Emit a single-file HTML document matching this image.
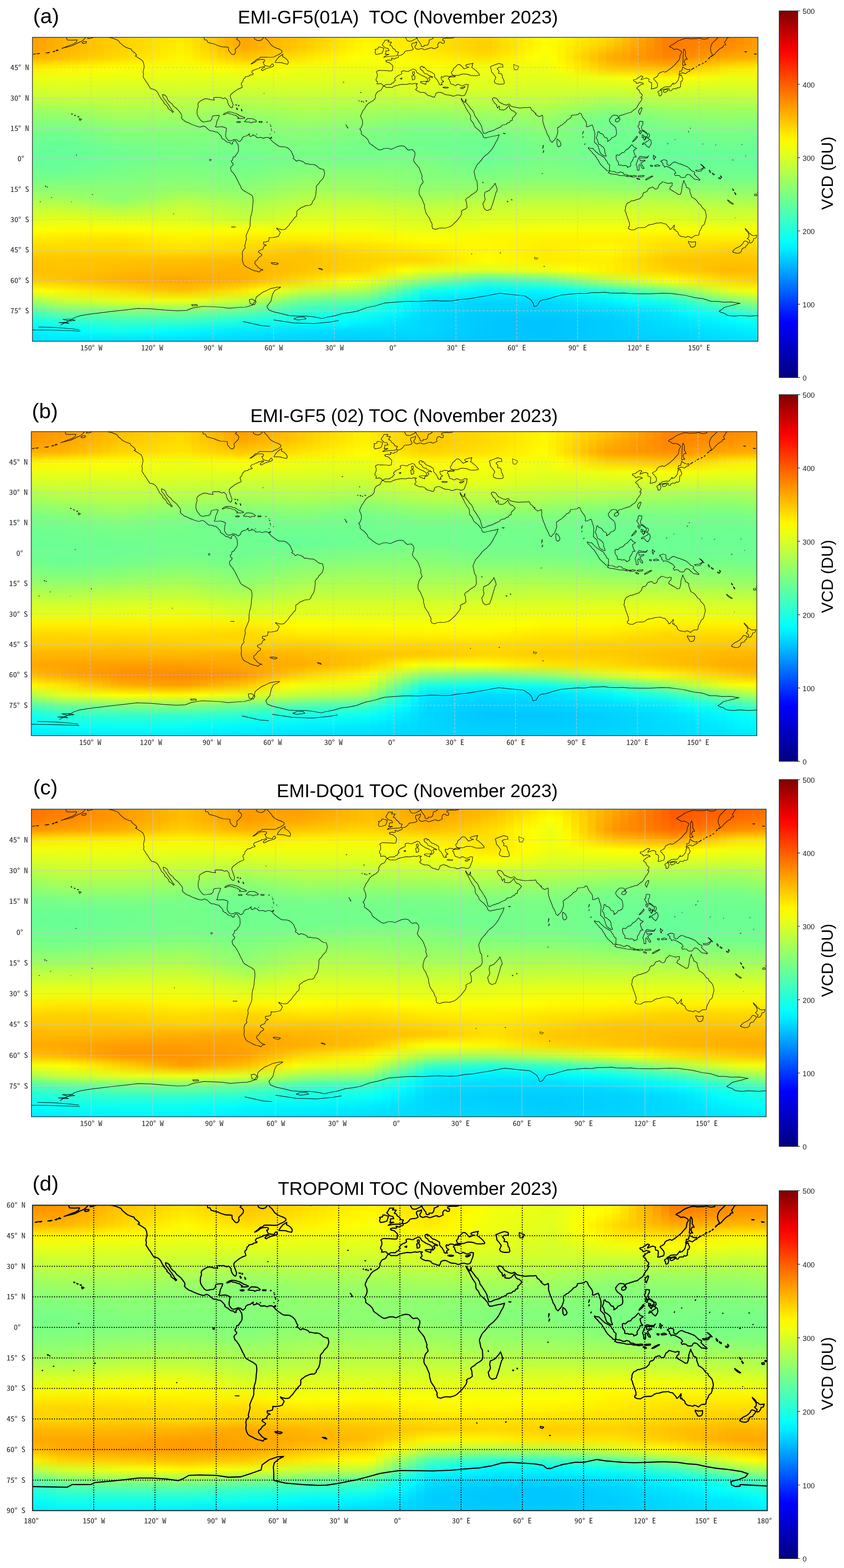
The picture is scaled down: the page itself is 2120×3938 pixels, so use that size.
<!DOCTYPE html>
<html><head><meta charset="utf-8"><title>TOC November 2023</title>
<style>
html,body{margin:0;padding:0;background:#fff;}
body{width:2120px;height:3938px;overflow:hidden;}
svg{display:block;position:absolute;left:0;top:0;}
.fld{position:absolute;overflow:hidden;}
.fld i{position:absolute;top:0;bottom:0;display:block;}
.ti{font-family:"Liberation Sans",Arial,sans-serif;font-size:46.5px;fill:#000;}
.pl{font-family:"Liberation Sans",Arial,sans-serif;font-size:52.5px;fill:#000;}
.ax text{font-family:"Noto Sans Mono CJK JP","Noto Sans CJK JP",monospace;font-size:18px;fill:#222;}
.cbl{font-family:"Liberation Sans",Arial,sans-serif;font-size:18.3px;fill:#222;}
.vcd{font-family:"Liberation Sans",Arial,sans-serif;font-size:41px;fill:#000;}
</style></head><body>
<div class="fld" style="left:81.5px;top:93.7px;width:1822.4px;height:763.4px"><i style="left:-4.8px;width:21.2px;background:linear-gradient(#ff9f00,#ffa300,#ffb400,#ffef00,#ecff13,#d9ff26,#c3ff3c,#a4ff5b,#8eff71,#7cff83,#70ff8f,#66ff99,#65ff9a,#6bff94,#78ff87,#8cff73,#a8ff57,#c7ff38,#deff21,#fdff02,#ffe800,#ffd500,#ffc500,#ffbe00,#ffcc00,#f9ff06,#a9ff56,#55ffaa,#14ffeb,#00f1ff,#00e1ff)"></i><i style="left:15.5px;width:21.2px;background:linear-gradient(#ffa500,#ffa700,#ffb700,#fff100,#ecff13,#d9ff26,#c4ff3b,#a4ff5b,#8dff72,#7aff85,#6eff91,#65ff9a,#65ff9a,#6aff95,#79ff86,#8cff73,#a8ff57,#c9ff36,#e1ff1e,#feff01,#ffe700,#ffd500,#ffc600,#ffc000,#ffc900,#feff01,#b2ff4d,#5fffa0,#1affe5,#00f4ff,#00e2ff)"></i><i style="left:35.9px;width:21.2px;background:linear-gradient(#ffab00,#ffac00,#ffb900,#fff300,#ecff13,#daff25,#c6ff39,#a4ff5b,#8cff73,#79ff86,#6dff92,#64ff9b,#65ff9a,#6aff95,#79ff86,#8cff73,#a8ff57,#caff35,#e3ff1c,#fffe00,#ffe700,#ffd600,#ffc600,#ffc100,#ffc600,#fffc00,#bbff44,#6aff95,#20ffdf,#00f7ff,#00e4ff)"></i><i style="left:56.2px;width:21.2px;background:linear-gradient(#ffb100,#ffb100,#ffbc00,#fff500,#ecff13,#dbff24,#c7ff38,#a4ff5b,#8cff73,#78ff87,#6bff94,#63ff9c,#65ff9a,#69ff96,#79ff86,#8cff73,#a8ff57,#cbff34,#e5ff1a,#fffc00,#ffe600,#ffd700,#ffc700,#ffc200,#ffc300,#fff700,#c5ff3a,#75ff8a,#26ffd9,#00f9ff,#00e5ff)"></i><i style="left:76.6px;width:21.2px;background:linear-gradient(#ffb600,#ffb600,#ffc000,#fff700,#ecff13,#dbff24,#c7ff38,#a6ff59,#8eff71,#79ff86,#6dff92,#64ff9b,#66ff99,#6aff95,#7aff85,#8cff73,#a5ff5a,#c9ff36,#e5ff1a,#fffc00,#ffe500,#ffd700,#ffc600,#ffc200,#ffc100,#fff300,#caff35,#78ff87,#2affd5,#00fcff,#00e5ff)"></i><i style="left:96.9px;width:21.2px;background:linear-gradient(#ffba00,#ffba00,#ffc400,#fff800,#ecff13,#daff25,#c7ff38,#a8ff57,#90ff6f,#7cff83,#6fff90,#66ff99,#67ff98,#6cff93,#7bff84,#8cff73,#a2ff5d,#c6ff39,#e4ff1b,#fffc00,#ffe400,#ffd700,#ffc600,#ffc100,#ffbe00,#fff000,#ceff31,#7aff85,#2dffd2,#00ffff,#00e4ff)"></i><i style="left:117.3px;width:21.2px;background:linear-gradient(#ffbe00,#ffbe00,#ffc800,#fffa00,#ecff13,#d9ff26,#c7ff38,#aaff55,#93ff6c,#7fff80,#72ff8d,#68ff97,#69ff96,#6eff91,#7cff83,#8cff73,#9eff61,#c3ff3c,#e3ff1c,#fffc00,#ffe300,#ffd700,#ffc500,#ffc000,#ffbb00,#ffec00,#d2ff2d,#7bff84,#2fffd0,#02fffd,#00e3ff)"></i><i style="left:137.7px;width:21.2px;background:linear-gradient(#ffc200,#ffc200,#ffcc00,#fffb00,#ecff13,#d8ff27,#c7ff38,#acff53,#96ff69,#82ff7d,#74ff8b,#6aff95,#6aff95,#6fff90,#7cff83,#8cff73,#9aff65,#c0ff3f,#e1ff1e,#fffc00,#ffe200,#ffd700,#ffc500,#ffbf00,#ffb900,#ffe900,#d6ff29,#7cff83,#32ffcd,#05fffa,#00e2ff)"></i><i style="left:158.0px;width:21.2px;background:linear-gradient(#ffc600,#ffc600,#ffd000,#fffc00,#ecff13,#d7ff28,#c7ff38,#afff50,#99ff66,#84ff7b,#77ff88,#6cff93,#6bff94,#71ff8e,#7dff82,#8cff73,#96ff69,#bdff42,#e0ff1f,#fffc00,#ffe200,#ffd700,#ffc400,#ffbe00,#ffb600,#ffe500,#daff25,#7eff81,#35ffca,#08fff7,#00e2ff)"></i><i style="left:178.4px;width:21.2px;background:linear-gradient(#ffca00,#ffca00,#ffd400,#fffe00,#ecff13,#d7ff28,#c7ff38,#b1ff4e,#9bff64,#87ff78,#79ff86,#6eff91,#6dff92,#72ff8d,#7eff81,#8cff73,#92ff6d,#baff45,#dfff20,#fffc00,#ffe100,#ffd700,#ffc400,#ffbd00,#ffb300,#ffe100,#deff21,#7fff80,#37ffc8,#0bfff4,#00e1ff)"></i><i style="left:198.7px;width:21.2px;background:linear-gradient(#ffce00,#ffce00,#ffd800,#ffff00,#ecff13,#d6ff29,#c7ff38,#b3ff4c,#9eff61,#8aff75,#7cff83,#70ff8f,#6eff91,#74ff8b,#7fff80,#8cff73,#8fff70,#b7ff48,#deff21,#fffc00,#ffe000,#ffd700,#ffc300,#ffbb00,#ffb000,#ffde00,#e2ff1d,#81ff7e,#3affc5,#0dfff2,#00e0ff)"></i><i style="left:219.1px;width:21.2px;background:linear-gradient(#ffd200,#ffd200,#ffdc00,#feff01,#ebff14,#d5ff2a,#c7ff38,#b4ff4b,#a0ff5f,#8cff73,#7eff81,#71ff8e,#6fff90,#76ff89,#80ff7f,#8cff73,#8dff72,#b5ff4a,#ddff22,#fffc00,#ffe000,#ffd800,#ffc300,#ffba00,#ffae00,#ffda00,#e6ff19,#82ff7d,#3cffc3,#0ffff0,#00dfff)"></i><i style="left:239.4px;width:21.2px;background:linear-gradient(#ffd600,#ffd600,#ffe000,#fcff03,#ebff14,#d5ff2a,#c6ff39,#b4ff4b,#9fff60,#8cff73,#7eff81,#73ff8c,#71ff8e,#77ff88,#81ff7e,#8dff72,#93ff6c,#b9ff46,#ddff22,#fffe00,#ffe200,#ffd900,#ffc200,#ffba00,#ffad00,#ffd700,#e7ff18,#82ff7d,#3cffc3,#0cfff3,#00dfff)"></i><i style="left:259.8px;width:21.2px;background:linear-gradient(#ffd900,#ffda00,#ffe400,#faff05,#eaff15,#d5ff2a,#c6ff39,#b3ff4c,#9fff60,#8cff73,#7fff80,#74ff8b,#72ff8d,#78ff87,#83ff7c,#8eff71,#98ff67,#bcff43,#ddff22,#feff01,#ffe400,#ffda00,#ffc200,#ffb900,#ffab00,#ffd300,#e9ff16,#82ff7d,#3cffc3,#09fff6,#00deff)"></i><i style="left:280.1px;width:21.2px;background:linear-gradient(#ffdd00,#ffde00,#ffe800,#f8ff07,#e9ff16,#d5ff2a,#c5ff3a,#b3ff4c,#9eff61,#8cff73,#7fff80,#75ff8a,#73ff8c,#7aff85,#84ff7b,#8fff70,#9dff62,#bfff40,#ddff22,#fdff02,#ffe600,#ffdc00,#ffc100,#ffb800,#ffaa00,#ffcf00,#eaff15,#82ff7d,#3cffc3,#06fff9,#00deff)"></i><i style="left:300.5px;width:21.2px;background:linear-gradient(#ffe000,#ffe200,#ffeb00,#f6ff09,#e8ff17,#d5ff2a,#c5ff3a,#b2ff4d,#9eff61,#8cff73,#80ff7f,#76ff89,#74ff8b,#7bff84,#85ff7a,#90ff6f,#a3ff5c,#c2ff3d,#ddff22,#fbff04,#ffe900,#ffdd00,#ffc100,#ffb700,#ffa900,#ffcb00,#ebff14,#82ff7d,#3cffc3,#04fffb,#00ddff)"></i><i style="left:320.9px;width:21.2px;background:linear-gradient(#ffe400,#ffe700,#ffef00,#f4ff0b,#e7ff18,#d5ff2a,#c4ff3b,#b2ff4d,#9dff62,#8cff73,#80ff7f,#77ff88,#75ff8a,#7cff83,#87ff78,#91ff6e,#a8ff57,#c6ff39,#ddff22,#f9ff06,#ffeb00,#ffde00,#ffc000,#ffb600,#ffa700,#ffc700,#edff12,#82ff7d,#3cffc3,#01fffe,#00ddff)"></i><i style="left:341.2px;width:21.2px;background:linear-gradient(#ffe700,#ffeb00,#fff300,#f2ff0d,#e7ff18,#d5ff2a,#c3ff3c,#b1ff4e,#9dff62,#8cff73,#81ff7e,#78ff87,#76ff89,#7eff81,#88ff77,#93ff6c,#aeff51,#c9ff36,#ddff22,#f8ff07,#ffed00,#ffe000,#ffbf00,#ffb600,#ffa600,#ffc300,#eeff11,#82ff7d,#3cffc3,#00fdff,#00dcff)"></i><i style="left:361.6px;width:21.2px;background:linear-gradient(#ffeb00,#ffef00,#fff700,#f0ff0f,#e6ff19,#d5ff2a,#c3ff3c,#b1ff4e,#9cff63,#8cff73,#81ff7e,#79ff86,#77ff88,#7fff80,#89ff76,#94ff6b,#b3ff4c,#ccff33,#ddff22,#f6ff09,#ffef00,#ffe100,#ffbf00,#ffb500,#ffa500,#ffc000,#efff10,#82ff7d,#3cffc3,#00fbff,#00dbff)"></i><i style="left:381.9px;width:21.2px;background:linear-gradient(#ffe400,#ffe900,#fff300,#f2ff0d,#e5ff1a,#d5ff2a,#c2ff3d,#afff50,#9bff64,#8bff74,#81ff7e,#79ff86,#77ff88,#7eff81,#89ff76,#93ff6c,#b3ff4c,#cbff34,#dbff24,#f7ff08,#ffef00,#ffe000,#ffbe00,#ffb400,#ffa500,#ffc300,#ecff13,#7fff80,#39ffc6,#00f8ff,#00dbff)"></i><i style="left:402.3px;width:21.2px;background:linear-gradient(#ffdb00,#ffdf00,#ffeb00,#f5ff0a,#e5ff1a,#d4ff2b,#c2ff3d,#aeff51,#99ff66,#89ff76,#80ff7f,#78ff87,#75ff8a,#7dff82,#87ff78,#92ff6d,#b0ff4f,#c8ff37,#d8ff27,#f8ff07,#ffed00,#ffdf00,#ffbe00,#ffb400,#ffa700,#ffc800,#e6ff19,#7bff84,#35ffca,#00f6ff,#00daff)"></i><i style="left:422.6px;width:21.2px;background:linear-gradient(#ffd100,#ffd600,#ffe400,#f9ff06,#e5ff1a,#d4ff2b,#c1ff3e,#acff53,#97ff68,#88ff77,#7fff80,#78ff87,#74ff8b,#7cff83,#86ff79,#91ff6e,#adff52,#c5ff3a,#d5ff2a,#f9ff06,#ffec00,#ffde00,#ffbd00,#ffb400,#ffa800,#ffcd00,#e1ff1e,#77ff88,#31ffce,#00f4ff,#00d9ff)"></i><i style="left:443.0px;width:21.2px;background:linear-gradient(#ffc800,#ffcc00,#ffdd00,#fcff03,#e5ff1a,#d3ff2c,#c1ff3e,#aaff55,#95ff6a,#87ff78,#7eff81,#77ff88,#73ff8c,#7aff85,#85ff7a,#90ff6f,#aaff55,#c2ff3d,#d2ff2d,#faff05,#ffeb00,#ffdc00,#ffbd00,#ffb400,#ffa900,#ffd200,#dbff24,#73ff8c,#2dffd2,#00f2ff,#00d8ff)"></i><i style="left:463.4px;width:21.2px;background:linear-gradient(#ffbe00,#ffc200,#ffd600,#ffff00,#e5ff1a,#d3ff2c,#c0ff3f,#a9ff56,#93ff6c,#85ff7a,#7eff81,#77ff88,#72ff8d,#79ff86,#83ff7c,#8fff70,#a8ff57,#bfff40,#cfff30,#fbff04,#ffe900,#ffdb00,#ffbc00,#ffb300,#ffab00,#ffd700,#d6ff29,#6fff90,#29ffd6,#00f0ff,#00d7ff)"></i><i style="left:483.7px;width:21.2px;background:linear-gradient(#ffb500,#ffb900,#ffcf00,#fffc00,#e5ff1a,#d2ff2d,#c0ff3f,#a7ff58,#91ff6e,#84ff7b,#7dff82,#76ff89,#71ff8e,#78ff87,#82ff7d,#8eff71,#a5ff5a,#bcff43,#ccff33,#fcff03,#ffe800,#ffda00,#ffbc00,#ffb300,#ffac00,#ffdc00,#d0ff2f,#6cff93,#25ffda,#00edff,#00d7ff)"></i><i style="left:504.1px;width:21.2px;background:linear-gradient(#ffab00,#ffaf00,#ffc800,#fff800,#e5ff1a,#d2ff2d,#bfff40,#a5ff5a,#8fff70,#83ff7c,#7cff83,#76ff89,#70ff8f,#76ff89,#81ff7e,#8dff72,#a2ff5d,#b9ff46,#c9ff36,#fdff02,#ffe700,#ffd800,#ffbb00,#ffb300,#ffad00,#ffe200,#cbff34,#68ff97,#21ffde,#00ebff,#00d6ff)"></i><i style="left:524.4px;width:21.2px;background:linear-gradient(#ffa500,#ffa900,#ffc400,#fff700,#e5ff1a,#d1ff2e,#bfff40,#a5ff5a,#8eff71,#82ff7d,#7cff83,#76ff89,#6fff90,#76ff89,#80ff7f,#8dff72,#a1ff5e,#b7ff48,#c8ff37,#feff01,#ffe600,#ffd700,#ffbb00,#ffb300,#ffb000,#ffe800,#c4ff3b,#63ff9c,#1dffe2,#00e9ff,#00d5ff)"></i><i style="left:544.8px;width:21.2px;background:linear-gradient(#ffaa00,#ffae00,#ffc900,#fffa00,#e5ff1a,#d2ff2d,#bfff40,#a7ff58,#91ff6e,#84ff7b,#7dff82,#76ff89,#71ff8e,#77ff88,#83ff7c,#90ff6f,#a4ff5b,#baff45,#cbff34,#fdff02,#ffe700,#ffd500,#ffbc00,#ffb500,#ffb600,#fff300,#b8ff47,#5cffa3,#1bffe4,#00e8ff,#00d4ff)"></i><i style="left:565.1px;width:21.2px;background:linear-gradient(#ffaf00,#ffb300,#ffcd00,#fffd00,#e5ff1a,#d2ff2d,#c0ff3f,#a9ff56,#93ff6c,#86ff79,#7eff81,#77ff88,#72ff8d,#79ff86,#85ff7a,#93ff6c,#a7ff58,#bdff42,#cfff30,#fcff03,#ffe700,#ffd200,#ffbd00,#ffb700,#ffbc00,#fffe00,#adff52,#56ffa9,#19ffe6,#00e7ff,#00d4ff)"></i><i style="left:585.5px;width:21.2px;background:linear-gradient(#ffb300,#ffb700,#ffd200,#feff01,#e5ff1a,#d3ff2c,#c1ff3e,#aaff55,#96ff69,#88ff77,#7fff80,#78ff87,#73ff8c,#7bff84,#87ff78,#96ff69,#abff54,#c0ff3f,#d2ff2d,#faff05,#ffe800,#ffd000,#ffbe00,#ffba00,#ffc200,#f5ff0a,#a1ff5e,#4fffb0,#17ffe8,#00e5ff,#00d3ff)"></i><i style="left:605.8px;width:21.2px;background:linear-gradient(#ffb800,#ffbc00,#ffd600,#faff05,#e5ff1a,#d3ff2c,#c1ff3e,#acff53,#98ff67,#8aff75,#80ff7f,#79ff86,#74ff8b,#7cff83,#8aff75,#9aff65,#aeff51,#c3ff3c,#d6ff29,#f9ff06,#ffe900,#ffce00,#ffbf00,#ffbc00,#ffc800,#eaff15,#95ff6a,#48ffb7,#15ffea,#00e4ff,#00d3ff)"></i><i style="left:626.2px;width:21.2px;background:linear-gradient(#ffbc00,#ffc100,#ffdb00,#f7ff08,#e5ff1a,#d4ff2b,#c2ff3d,#aeff51,#9bff64,#8cff73,#81ff7e,#7aff85,#75ff8a,#7eff81,#8cff73,#9dff62,#b1ff4e,#c6ff39,#d9ff26,#f8ff07,#ffea00,#ffcc00,#ffc000,#ffbe00,#ffce00,#dfff20,#89ff76,#41ffbe,#14ffeb,#00e2ff,#00d2ff)"></i><i style="left:646.6px;width:21.2px;background:linear-gradient(#ffc100,#ffc500,#ffe000,#f4ff0b,#e5ff1a,#d5ff2a,#c2ff3d,#b0ff4f,#9dff62,#8dff72,#82ff7d,#7aff85,#76ff89,#80ff80,#8fff70,#a0ff5f,#b5ff4a,#c9ff36,#ddff22,#f7ff08,#ffeb00,#ffca00,#ffc100,#ffc000,#ffd400,#d5ff2a,#7eff81,#3affc5,#12ffed,#00e1ff,#00d2ff)"></i><i style="left:666.9px;width:21.2px;background:linear-gradient(#ffc600,#ffca00,#ffe400,#f1ff0e,#e5ff1a,#d5ff2a,#c3ff3c,#b2ff4d,#a0ff5f,#8fff70,#83ff7c,#7bff84,#77ff88,#81ff7e,#91ff6e,#a3ff5c,#b8ff47,#ccff33,#e1ff1e,#f6ff09,#ffeb00,#ffc700,#ffc300,#ffc200,#ffda00,#caff35,#72ff8d,#34ffcb,#10ffef,#00e0ff,#00d1ff)"></i><i style="left:687.3px;width:21.2px;background:linear-gradient(#ffcc00,#ffd000,#ffe900,#efff10,#e5ff1a,#d5ff2a,#c2ff3d,#b2ff4d,#9fff60,#8fff70,#83ff7c,#7bff84,#77ff88,#82ff7d,#92ff6d,#a4ff5b,#b9ff46,#cdff32,#e1ff1e,#f6ff09,#ffec00,#ffc900,#ffc400,#ffc500,#ffe000,#c4ff3b,#6dff92,#30ffcf,#0dfff2,#00dfff,#00d1ff)"></i><i style="left:707.6px;width:21.2px;background:linear-gradient(#ffd200,#ffd600,#ffed00,#efff10,#e5ff1a,#d4ff2b,#c2ff3d,#b1ff4e,#9eff61,#8dff72,#82ff7d,#7aff85,#77ff88,#82ff7d,#92ff6d,#a3ff5c,#b9ff46,#ceff31,#e1ff1e,#f6ff09,#ffed00,#ffcc00,#ffc600,#ffc800,#ffe700,#c0ff3f,#6aff95,#2dffd2,#0afff5,#00deff,#00d0ff)"></i><i style="left:728.0px;width:21.2px;background:linear-gradient(#ffd800,#ffdc00,#fff100,#eeff11,#e4ff1b,#d4ff2b,#c1ff3e,#b0ff4f,#9dff62,#8cff73,#81ff7e,#78ff87,#77ff88,#83ff7c,#93ff6c,#a2ff5d,#b9ff46,#cfff30,#e1ff1e,#f6ff09,#ffed00,#ffce00,#ffc800,#ffca00,#ffee00,#bcff43,#68ff97,#2bffd4,#06fff9,#00deff,#00d0ff)"></i><i style="left:748.3px;width:21.2px;background:linear-gradient(#ffde00,#ffe200,#fff500,#eeff11,#e3ff1c,#d3ff2c,#c1ff3e,#aeff51,#9cff63,#8bff74,#80ff80,#77ff88,#76ff89,#84ff7b,#93ff6c,#a1ff5e,#b9ff46,#cfff30,#e1ff1e,#f6ff09,#ffee00,#ffd100,#ffca00,#ffcd00,#fff500,#b9ff46,#65ff9a,#28ffd7,#03fffc,#00ddff,#00cfff)"></i><i style="left:768.7px;width:21.2px;background:linear-gradient(#ffe500,#ffe900,#fff900,#edff12,#e3ff1c,#d3ff2c,#c0ff3f,#adff52,#9bff64,#89ff76,#7eff81,#76ff89,#76ff89,#84ff7b,#93ff6c,#a0ff5f,#b9ff46,#d0ff2f,#e1ff1e,#f6ff09,#ffee00,#ffd400,#ffcc00,#ffd000,#fffc00,#b5ff4a,#62ff9d,#25ffda,#00ffff,#00ddff,#00cfff)"></i><i style="left:789.0px;width:21.2px;background:linear-gradient(#ffeb00,#ffef00,#fffd00,#edff12,#e2ff1d,#d2ff2d,#c0ff3f,#acff53,#9aff65,#88ff77,#7dff82,#75ff8a,#76ff89,#85ff7a,#93ff6c,#a0ff5f,#b9ff46,#d0ff2f,#e1ff1e,#f6ff09,#ffef00,#ffd700,#ffce00,#ffd200,#fcff03,#b1ff4e,#60ff9f,#22ffdd,#00fcff,#00dcff,#00ceff)"></i><i style="left:809.4px;width:21.2px;background:linear-gradient(#fff100,#fff500,#fdff02,#ecff13,#e2ff1d,#d2ff2d,#bfff40,#abff54,#99ff66,#87ff78,#7cff83,#74ff8b,#76ff89,#85ff7a,#94ff6b,#9fff60,#b9ff46,#d1ff2e,#e1ff1e,#f6ff09,#ffef00,#ffd900,#ffd000,#ffd500,#f5ff0a,#adff52,#5dffa2,#20ffdf,#00f8ff,#00dcff,#00cdff)"></i><i style="left:829.8px;width:21.2px;background:linear-gradient(#fff500,#fff900,#faff05,#ecff13,#e2ff1d,#d2ff2d,#bfff40,#aaff55,#98ff67,#85ff7a,#7bff84,#73ff8c,#76ff89,#85ff7a,#93ff6c,#9eff61,#b8ff47,#d1ff2e,#e1ff1e,#f5ff0a,#fff000,#ffdc00,#ffd100,#ffd900,#ecff13,#a5ff5a,#57ffa8,#1bffe4,#00f5ff,#00dbff,#00cdff)"></i><i style="left:850.1px;width:21.2px;background:linear-gradient(#fff300,#fff600,#fdff02,#eeff11,#e3ff1c,#d4ff2b,#c0ff3f,#aaff55,#96ff69,#83ff7c,#7aff85,#73ff8c,#76ff89,#85ff7a,#92ff6d,#9cff63,#b6ff49,#cfff30,#dfff20,#f3ff0c,#fff200,#ffde00,#ffd200,#ffe100,#dfff20,#92ff6d,#47ffb8,#13ffec,#00f1ff,#00dbff,#00ceff)"></i><i style="left:870.5px;width:21.2px;background:linear-gradient(#fff100,#fff400,#ffff00,#f0ff0f,#e4ff1b,#d6ff29,#c1ff3e,#aaff55,#94ff6b,#81ff7e,#79ff86,#72ff8d,#77ff88,#84ff7b,#90ff6f,#9bff64,#b4ff4b,#cdff32,#deff21,#f2ff0d,#fff400,#ffe000,#ffd300,#ffea00,#d2ff2d,#7eff81,#38ffc7,#0afff5,#00edff,#00daff,#00ceff)"></i><i style="left:890.8px;width:21.2px;background:linear-gradient(#ffef00,#fff100,#fffd00,#f2ff0d,#e6ff19,#d8ff27,#c2ff3d,#a9ff56,#93ff6c,#7fff80,#78ff87,#71ff8e,#78ff87,#84ff7b,#8fff70,#9aff65,#b2ff4d,#ccff33,#dcff23,#f0ff0f,#fff600,#ffe200,#ffd400,#fff200,#c4ff3b,#6aff95,#28ffd7,#01fffe,#00e9ff,#00daff,#00cfff)"></i><i style="left:911.2px;width:21.2px;background:linear-gradient(#ffed00,#ffee00,#fffb00,#f4ff0b,#e7ff18,#daff25,#c3ff3c,#a9ff56,#91ff6e,#7eff81,#77ff88,#71ff8e,#79ff86,#83ff7c,#8dff72,#98ff67,#b1ff4e,#caff35,#daff25,#eeff11,#fff800,#ffe500,#ffd500,#fffa00,#b7ff48,#56ffa9,#19ffe6,#00f8ff,#00e4ff,#00d9ff,#00cfff)"></i><i style="left:931.5px;width:21.2px;background:linear-gradient(#ffea00,#ffec00,#fff900,#f6ff09,#e9ff16,#ddff22,#c4ff3b,#a9ff56,#8fff70,#7cff83,#76ff89,#70ff8f,#7aff85,#83ff7c,#8bff74,#97ff68,#afff50,#c9ff36,#d9ff26,#ecff13,#fffa00,#ffe700,#ffd500,#fcff03,#aaff55,#42ffbd,#09fff6,#00efff,#00e0ff,#00d8ff,#00d0ff)"></i><i style="left:951.9px;width:21.2px;background:linear-gradient(#ffe800,#ffe900,#fff600,#f8ff07,#eaff15,#dfff20,#c6ff39,#a9ff56,#8eff71,#7aff85,#75ff8a,#70ff8f,#7aff85,#82ff7d,#8aff75,#96ff69,#adff52,#c7ff38,#d7ff28,#eaff15,#fffc00,#ffe900,#ffd600,#f4ff0b,#9cff63,#2effd1,#00f9ff,#00e6ff,#00dcff,#00d8ff,#00d0ff)"></i><i style="left:972.3px;width:21.2px;background:linear-gradient(#ffe600,#ffe600,#fff400,#f9ff06,#ebff14,#e1ff1e,#c7ff38,#a8ff57,#8cff73,#78ff87,#74ff8b,#6fff90,#7bff84,#82ff7d,#88ff77,#94ff6b,#abff54,#c5ff3a,#d6ff29,#e8ff17,#fffe00,#ffeb00,#ffd700,#ecff13,#8fff70,#1affe5,#00e9ff,#00ddff,#00d8ff,#00d7ff,#00d1ff)"></i><i style="left:992.6px;width:21.2px;background:linear-gradient(#ffe300,#ffe300,#fff200,#f9ff06,#ebff14,#e1ff1e,#c6ff39,#a9ff56,#8dff72,#78ff87,#73ff8c,#6fff90,#7aff85,#80ff7f,#87ff78,#94ff6b,#abff54,#c6ff39,#d6ff29,#e9ff16,#fffd00,#ffed00,#ffdb00,#e8ff17,#84ff7b,#12ffed,#00e4ff,#00daff,#00d6ff,#00d6ff,#00d0ff)"></i><i style="left:1013.0px;width:21.2px;background:linear-gradient(#ffe100,#ffe000,#ffef00,#f8ff07,#eaff15,#e0ff1f,#c6ff39,#a9ff56,#8eff71,#7aff85,#72ff8d,#6eff91,#78ff87,#7fff80,#87ff78,#95ff6a,#adff52,#c7ff38,#d7ff28,#eaff15,#fffd00,#ffef00,#ffe000,#e7ff18,#79ff86,#0efff1,#00e2ff,#00d8ff,#00d3ff,#00d3ff,#00cfff)"></i><i style="left:1033.3px;width:21.2px;background:linear-gradient(#ffde00,#ffdd00,#ffec00,#f6ff09,#e9ff16,#dfff20,#c5ff3a,#aaff55,#8fff70,#7bff84,#72ff8d,#6eff91,#75ff8a,#7dff82,#86ff79,#95ff6a,#aeff51,#c8ff37,#d8ff27,#ebff14,#fffc00,#fff100,#ffe500,#e5ff1a,#6fff90,#09fff6,#00e0ff,#00d6ff,#00d1ff,#00d1ff,#00cdff)"></i><i style="left:1053.7px;width:21.2px;background:linear-gradient(#ffdb00,#ffd900,#ffea00,#f5ff0a,#e9ff16,#deff21,#c5ff3a,#aaff55,#91ff6e,#7cff83,#71ff8e,#6dff92,#73ff8c,#7bff84,#86ff79,#96ff69,#afff50,#c9ff36,#d9ff26,#edff12,#fffb00,#fff300,#ffeb00,#e3ff1c,#64ff9b,#05fffa,#00deff,#00d4ff,#00cfff,#00cfff,#00ccff)"></i><i style="left:1074.0px;width:21.2px;background:linear-gradient(#ffd900,#ffd600,#ffe700,#f3ff0c,#e8ff17,#deff21,#c4ff3b,#abff54,#92ff6d,#7eff81,#71ff8e,#6dff92,#71ff8e,#7aff85,#85ff7a,#96ff69,#b1ff4e,#caff35,#daff25,#eeff11,#fffa00,#fff500,#fff000,#e2ff1d,#59ffa6,#01fffe,#00dcff,#00d2ff,#00cdff,#00cdff,#00cbff)"></i><i style="left:1094.4px;width:21.2px;background:linear-gradient(#ffd600,#ffd300,#ffe400,#f2ff0d,#e7ff18,#ddff22,#c4ff3b,#abff54,#94ff6b,#7fff80,#70ff8f,#6cff93,#6fff90,#78ff87,#85ff7a,#97ff68,#b2ff4d,#cbff34,#dbff24,#efff10,#fff900,#fff700,#fff500,#e0ff1f,#4fffb0,#00fbff,#00dbff,#00d0ff,#00cbff,#00cbff,#00c9ff)"></i><i style="left:1114.7px;width:21.2px;background:linear-gradient(#ffd300,#ffcf00,#ffe100,#f1ff0e,#e6ff19,#dcff23,#c3ff3c,#acff53,#95ff6a,#81ff7e,#70ff8f,#6cff93,#6dff92,#77ff88,#84ff7b,#98ff67,#b4ff4b,#ccff33,#ddff22,#f1ff0e,#fff800,#fff800,#fffa00,#dfff20,#44ffbb,#00f7ff,#00d9ff,#00ceff,#00c9ff,#00c9ff,#00c8ff)"></i><i style="left:1135.1px;width:21.2px;background:linear-gradient(#ffd300,#ffcf00,#ffe100,#f0ff0f,#e5ff1a,#dbff24,#c3ff3c,#acff53,#96ff69,#82ff7d,#70ff8f,#6cff93,#6cff93,#76ff89,#84ff7b,#98ff67,#b5ff4a,#cdff32,#ddff22,#f2ff0d,#fff800,#fff900,#fffd00,#deff21,#3dffc2,#00f4ff,#00d7ff,#00cdff,#00c7ff,#00c7ff,#00c7ff)"></i><i style="left:1155.5px;width:21.2px;background:linear-gradient(#ffd900,#ffd600,#ffe600,#efff10,#e5ff1a,#daff25,#c3ff3c,#adff52,#96ff69,#83ff7c,#72ff8d,#6dff92,#6dff92,#77ff88,#85ff7a,#99ff66,#b5ff4a,#ceff31,#deff21,#f3ff0c,#fff700,#fff800,#fffb00,#e0ff1f,#41ffbe,#00f5ff,#00d8ff,#00cdff,#00c6ff,#00c6ff,#00c7ff)"></i><i style="left:1175.8px;width:21.2px;background:linear-gradient(#ffdf00,#ffdc00,#ffec00,#eeff11,#e4ff1b,#d9ff26,#c4ff3b,#adff52,#97ff68,#85ff7a,#74ff8b,#6fff90,#6fff90,#78ff87,#85ff7a,#9aff65,#b6ff49,#ceff31,#dfff20,#f4ff0b,#fff600,#fff600,#fff800,#e3ff1c,#45ffba,#00f6ff,#00d8ff,#00cdff,#00c6ff,#00c6ff,#00c7ff)"></i><i style="left:1196.2px;width:21.2px;background:linear-gradient(#ffe500,#ffe300,#fff100,#eeff11,#e4ff1b,#d9ff26,#c5ff3a,#adff52,#97ff68,#86ff79,#76ff89,#70ff8f,#71ff8e,#7aff85,#86ff79,#9bff64,#b6ff49,#cfff30,#dfff20,#f4ff0b,#fff500,#fff400,#fff600,#e5ff1a,#49ffb6,#00f6ff,#00d9ff,#00cdff,#00c5ff,#00c5ff,#00c7ff)"></i><i style="left:1216.5px;width:21.2px;background:linear-gradient(#ffec00,#ffea00,#fff600,#edff12,#e3ff1c,#d8ff27,#c5ff3a,#aeff51,#97ff68,#87ff78,#78ff87,#72ff8d,#73ff8c,#7bff84,#87ff78,#9bff64,#b7ff48,#cfff30,#e0ff1f,#f5ff0a,#fff400,#fff200,#fff400,#e8ff17,#4effb1,#00f7ff,#00daff,#00cdff,#00c5ff,#00c5ff,#00c7ff)"></i><i style="left:1236.9px;width:21.2px;background:linear-gradient(#fff200,#fff100,#fffc00,#edff12,#e3ff1c,#d7ff28,#c6ff39,#aeff51,#97ff68,#89ff76,#7bff84,#74ff8b,#75ff8a,#7cff83,#88ff77,#9cff63,#b7ff48,#d0ff2f,#e0ff1f,#f6ff09,#fff400,#fff000,#fff100,#eaff15,#52ffad,#00f8ff,#00daff,#00cdff,#00c4ff,#00c4ff,#00c7ff)"></i><i style="left:1257.2px;width:21.2px;background:linear-gradient(#fff800,#fff800,#fdff02,#ecff13,#e2ff1d,#d6ff29,#c6ff39,#aeff51,#98ff67,#8aff75,#7dff82,#75ff8a,#77ff88,#7eff81,#89ff76,#9dff62,#b8ff47,#d0ff2f,#e1ff1e,#f7ff08,#fff300,#ffee00,#ffef00,#edff12,#56ffa9,#00f9ff,#00dbff,#00cdff,#00c4ff,#00c4ff,#00c7ff)"></i><i style="left:1277.6px;width:21.2px;background:linear-gradient(#fffe00,#fffe00,#f7ff08,#ecff13,#e2ff1d,#d5ff2a,#c7ff38,#aeff51,#98ff67,#8bff74,#7fff80,#77ff88,#79ff86,#7fff80,#89ff76,#9eff61,#b8ff47,#d1ff2e,#e1ff1e,#f8ff07,#fff200,#ffec00,#ffec00,#efff10,#5affa5,#00faff,#00dbff,#00cdff,#00c3ff,#00c3ff,#00c7ff)"></i><i style="left:1297.9px;width:21.2px;background:linear-gradient(#fffc00,#fffa00,#ffff00,#f3ff0c,#e3ff1c,#d5ff2a,#c5ff3a,#abff54,#94ff6b,#89ff76,#7eff81,#77ff88,#78ff87,#7eff81,#89ff76,#9dff62,#b8ff47,#d1ff2e,#e1ff1e,#f8ff07,#fff200,#ffed00,#ffec00,#f3ff0c,#65ff9a,#00feff,#00deff,#00ceff,#00c4ff,#00c4ff,#00c8ff)"></i><i style="left:1318.3px;width:21.2px;background:linear-gradient(#fff700,#fff300,#fff300,#fdff02,#e5ff1a,#d5ff2a,#c3ff3c,#a7ff58,#8fff70,#85ff7a,#7cff83,#75ff8a,#77ff88,#7dff82,#88ff77,#9dff62,#b8ff47,#d1ff2e,#e1ff1e,#f8ff07,#fff200,#ffef00,#ffed00,#f7ff08,#72ff8d,#05fffa,#00e1ff,#00cfff,#00c5ff,#00c5ff,#00c8ff)"></i><i style="left:1338.7px;width:21.2px;background:linear-gradient(#fff300,#ffeb00,#ffe700,#fff700,#e7ff18,#d5ff2a,#c0ff3f,#a3ff5c,#8bff74,#81ff7e,#7aff85,#74ff8b,#76ff89,#7cff83,#87ff78,#9cff63,#b8ff47,#d1ff2e,#e1ff1e,#f8ff07,#fff200,#fff100,#ffed00,#fbff04,#7fff80,#0bfff4,#00e4ff,#00d1ff,#00c7ff,#00c7ff,#00c9ff)"></i><i style="left:1359.0px;width:21.2px;background:linear-gradient(#ffee00,#ffe300,#ffdb00,#ffed00,#e9ff16,#d5ff2a,#beff41,#9fff60,#86ff79,#7dff82,#77ff88,#73ff8c,#74ff8b,#7aff85,#87ff78,#9bff64,#b8ff47,#d1ff2e,#e1ff1e,#f8ff07,#fff300,#fff300,#ffee00,#ffff00,#8cff73,#11ffee,#00e8ff,#00d2ff,#00c8ff,#00c8ff,#00caff)"></i><i style="left:1379.4px;width:21.2px;background:linear-gradient(#ffe900,#ffdc00,#ffcf00,#ffe300,#eaff15,#d5ff2a,#bbff44,#9bff64,#81ff7e,#7aff85,#75ff8a,#72ff8d,#73ff8c,#79ff86,#86ff79,#9aff65,#b7ff48,#d1ff2e,#e1ff1e,#f8ff07,#fff300,#fff500,#ffee00,#fffb00,#99ff66,#17ffe8,#00ebff,#00d3ff,#00c9ff,#00c9ff,#00cbff)"></i><i style="left:1399.7px;width:21.2px;background:linear-gradient(#ffe400,#ffd400,#ffc300,#ffd900,#ecff13,#d5ff2a,#b9ff46,#97ff68,#7cff83,#76ff89,#73ff8c,#71ff8e,#72ff8d,#78ff87,#85ff7a,#99ff66,#b7ff48,#d1ff2e,#e1ff1e,#f8ff07,#fff300,#fff700,#ffef00,#fff700,#a6ff59,#1dffe2,#00eeff,#00d5ff,#00cbff,#00cbff,#00ccff)"></i><i style="left:1420.1px;width:21.2px;background:linear-gradient(#ffdf00,#ffcd00,#ffb700,#ffce00,#eeff11,#d5ff2a,#b6ff49,#93ff6c,#77ff88,#72ff8d,#71ff8e,#70ff8f,#70ff8f,#76ff89,#84ff7b,#99ff66,#b7ff48,#d1ff2e,#e1ff1e,#f8ff07,#fff400,#fff800,#ffef00,#fff300,#b3ff4c,#23ffdc,#00f1ff,#00d6ff,#00ccff,#00ccff,#00ccff)"></i><i style="left:1440.4px;width:21.2px;background:linear-gradient(#ffd800,#ffc400,#ffad00,#ffc600,#f0ff0f,#d5ff2a,#b5ff4a,#90ff6f,#74ff8b,#6fff90,#6fff90,#6fff90,#6fff90,#75ff8a,#83ff7c,#98ff67,#b6ff49,#d1ff2e,#e1ff1e,#f8ff07,#fff300,#fff900,#ffee00,#ffef00,#bfff40,#2affd5,#00f5ff,#00d8ff,#00ceff,#00cdff,#00cdff)"></i><i style="left:1460.8px;width:21.2px;background:linear-gradient(#ffcb00,#ffba00,#ffa700,#ffc400,#f3ff0c,#d6ff29,#b6ff49,#93ff6c,#77ff88,#71ff8e,#6eff90,#6dff92,#6dff92,#74ff8b,#82ff7d,#97ff68,#b6ff49,#d0ff2f,#e1ff1e,#f9ff06,#fff100,#fff500,#ffe900,#ffeb00,#c8ff37,#35ffca,#00fbff,#00dbff,#00d0ff,#00cfff,#00ceff)"></i><i style="left:1481.2px;width:21.2px;background:linear-gradient(#ffbf00,#ffb000,#ffa200,#ffc100,#f6ff09,#d7ff28,#b8ff47,#95ff6a,#79ff86,#72ff8d,#6eff91,#6cff93,#6cff93,#73ff8c,#81ff7e,#97ff68,#b5ff4a,#d0ff2f,#e0ff1f,#faff05,#ffef00,#fff100,#ffe300,#ffe700,#d0ff2f,#40ffbf,#01fffe,#00ddff,#00d3ff,#00d0ff,#00ceff)"></i><i style="left:1501.5px;width:21.2px;background:linear-gradient(#ffb200,#ffa600,#ff9c00,#ffbf00,#f9ff06,#d8ff27,#b9ff46,#97ff68,#7cff83,#73ff8c,#6dff92,#6bff94,#6bff94,#72ff8d,#80ff7f,#96ff69,#b5ff4a,#cfff30,#e0ff1f,#fbff04,#ffee00,#ffed00,#ffde00,#ffe200,#d9ff26,#4affb5,#06fff9,#00e0ff,#00d5ff,#00d1ff,#00cfff)"></i><i style="left:1521.9px;width:21.2px;background:linear-gradient(#ffa500,#ff9c00,#ff9600,#ffbc00,#fbff04,#d9ff26,#baff45,#99ff66,#7fff80,#74ff8b,#6dff92,#69ff96,#69ff96,#71ff8e,#7fff80,#96ff69,#b4ff4b,#cfff30,#dfff20,#fbff04,#ffec00,#ffe900,#ffd900,#ffde00,#e2ff1d,#55ffaa,#0cfff3,#00e3ff,#00d7ff,#00d3ff,#00cfff)"></i><i style="left:1542.2px;width:21.2px;background:linear-gradient(#ff9800,#ff9200,#ff9000,#ffba00,#feff01,#d9ff26,#bcff43,#9bff64,#82ff7d,#75ff8a,#6cff93,#68ff97,#68ff97,#70ff8f,#7eff81,#95ff6a,#b4ff4b,#ceff31,#dfff20,#fcff03,#ffea00,#ffe400,#ffd300,#ffda00,#eaff15,#5fffa0,#11ffee,#00e5ff,#00daff,#00d4ff,#00d0ff)"></i><i style="left:1562.6px;width:21.2px;background:linear-gradient(#ff8b00,#ff8800,#ff8b00,#ffb800,#fffd00,#daff25,#bdff42,#9dff62,#84ff7b,#76ff89,#6cff93,#67ff98,#67ff98,#6eff90,#7dff82,#95ff6a,#b3ff4c,#ceff31,#deff21,#fdff02,#ffe800,#ffe000,#ffce00,#ffd600,#f3ff0c,#6aff95,#17ffe8,#00e8ff,#00dcff,#00d6ff,#00d0ff)"></i><i style="left:1582.9px;width:21.2px;background:linear-gradient(#ff7f00,#ff7e00,#ff8500,#ffb500,#fffb00,#dbff24,#beff41,#a0ff5f,#87ff78,#77ff88,#6bff94,#65ff9a,#65ff9a,#6dff92,#7cff83,#94ff6b,#b3ff4c,#cdff32,#ddff22,#feff01,#ffe600,#ffdc00,#ffc800,#ffd200,#fcff03,#75ff8a,#1cffe3,#00ebff,#00dfff,#00d7ff,#00d1ff)"></i><i style="left:1603.3px;width:21.2px;background:linear-gradient(#ff7c00,#ff7d00,#ff8700,#ffb900,#fffc00,#dbff24,#bfff40,#a1ff5e,#88ff77,#78ff87,#6cff93,#66ff99,#65ff9a,#6dff92,#7bff84,#93ff6c,#b1ff4e,#ccff33,#ddff22,#fdff02,#ffe600,#ffda00,#ffc600,#ffcf00,#fffc00,#82ff7d,#28ffd7,#00f2ff,#00e2ff,#00d9ff,#00d2ff)"></i><i style="left:1623.6px;width:21.2px;background:linear-gradient(#ff7e00,#ff8000,#ff8c00,#ffc000,#feff01,#daff25,#bfff40,#a1ff5e,#8aff75,#7aff85,#6dff92,#66ff99,#65ff9a,#6dff92,#7aff85,#92ff6d,#b0ff4f,#cbff34,#dbff24,#fcff03,#ffe700,#ffd900,#ffc600,#ffcb00,#fff600,#91ff6e,#35ffca,#00f9ff,#00e6ff,#00dbff,#00d3ff)"></i><i style="left:1644.0px;width:21.2px;background:linear-gradient(#ff7f00,#ff8200,#ff9100,#ffc600,#fbff04,#d9ff26,#bfff40,#a2ff5d,#8bff74,#7bff84,#6fff90,#67ff98,#65ff9a,#6dff92,#7aff85,#91ff6e,#afff50,#c9ff36,#daff25,#fbff04,#ffe800,#ffd800,#ffc500,#ffc800,#fff100,#a0ff5f,#42ffbd,#02fffd,#00e9ff,#00dcff,#00d5ff)"></i><i style="left:1664.4px;width:21.2px;background:linear-gradient(#ff8100,#ff8500,#ff9600,#ffcd00,#f8ff07,#d8ff27,#bfff40,#a2ff5d,#8cff73,#7cff83,#70ff8f,#68ff97,#65ff9a,#6dff92,#79ff86,#90ff6f,#adff52,#c8ff37,#d9ff26,#faff05,#ffe900,#ffd600,#ffc500,#ffc500,#ffec00,#aeff51,#50ffaf,#0afff5,#00edff,#00deff,#00d6ff)"></i><i style="left:1684.7px;width:21.2px;background:linear-gradient(#ff8200,#ff8700,#ff9b00,#ffd400,#f5ff0a,#d7ff28,#bfff40,#a3ff5c,#8dff72,#7eff81,#72ff8d,#69ff96,#65ff9a,#6dff92,#79ff86,#8fff70,#acff53,#c7ff38,#d8ff27,#f9ff06,#ffe900,#ffd500,#ffc400,#ffc200,#ffe600,#bdff42,#5dffa2,#12ffed,#00f0ff,#00e0ff,#00d8ff)"></i><i style="left:1705.1px;width:21.2px;background:linear-gradient(#ff8300,#ff8900,#ffa000,#ffda00,#f1ff0e,#d7ff28,#bfff40,#a3ff5c,#8eff71,#7fff80,#73ff8c,#6aff95,#65ff9a,#6dff92,#78ff87,#8eff71,#abff54,#c5ff3a,#d7ff28,#f8ff07,#ffea00,#ffd300,#ffc400,#ffbe00,#ffe100,#ccff33,#6aff95,#1affe5,#00f4ff,#00e2ff,#00d9ff)"></i><i style="left:1725.4px;width:21.2px;background:linear-gradient(#ff8500,#ff8c00,#ffa500,#ffe100,#eeff11,#d6ff29,#bfff40,#a4ff5b,#8fff70,#81ff7e,#74ff8b,#6aff95,#65ff9a,#6dff92,#78ff87,#8dff72,#a9ff56,#c4ff3b,#d6ff29,#f7ff08,#ffeb00,#ffd200,#ffc300,#ffbb00,#ffdb00,#daff25,#78ff87,#22ffdd,#00f7ff,#00e4ff,#00daff)"></i><i style="left:1745.8px;width:21.2px;background:linear-gradient(#ff8700,#ff8f00,#ffa900,#ffe600,#ecff13,#d5ff2a,#bfff40,#a4ff5b,#90ff6f,#81ff7e,#75ff8a,#6bff94,#65ff9a,#6dff92,#77ff88,#8cff73,#a8ff57,#c3ff3c,#d6ff29,#f6ff09,#ffeb00,#ffd100,#ffc300,#ffb900,#ffd700,#e7ff18,#84ff7b,#2affd5,#00fbff,#00e6ff,#00dcff)"></i><i style="left:1766.1px;width:21.2px;background:linear-gradient(#ff8d00,#ff9400,#ffac00,#ffe800,#ecff13,#d6ff29,#c0ff3f,#a4ff5b,#8fff70,#80ff7f,#74ff8b,#6aff95,#65ff9a,#6cff93,#78ff87,#8cff73,#a8ff57,#c4ff3b,#d8ff27,#f8ff07,#ffeb00,#ffd200,#ffc300,#ffba00,#ffd400,#ebff14,#8dff72,#35ffca,#02fffd,#00e9ff,#00ddff)"></i><i style="left:1786.5px;width:21.2px;background:linear-gradient(#ff9300,#ff9900,#ffae00,#ffea00,#ecff13,#d7ff28,#c1ff3e,#a4ff5b,#8fff70,#7eff81,#72ff8d,#69ff96,#65ff9a,#6cff93,#78ff87,#8cff73,#a8ff57,#c5ff3a,#daff25,#f9ff06,#ffea00,#ffd300,#ffc400,#ffbc00,#ffd100,#f0ff0f,#96ff69,#40ffbf,#08fff7,#00ecff,#00deff)"></i><i style="left:1806.8px;width:21.2px;background:linear-gradient(#ff9900,#ff9e00,#ffb100,#ffed00,#ecff13,#d8ff27,#c2ff3d,#a4ff5b,#8eff71,#7dff82,#71ff8e,#68ff97,#65ff9a,#6bff94,#78ff87,#8cff73,#a8ff57,#c6ff39,#dcff23,#fbff04,#ffe900,#ffd400,#ffc500,#ffbd00,#ffce00,#f5ff0a,#a0ff5f,#4affb5,#0efff1,#00eeff,#00e0ff)"></i></div><div class="fld" style="left:78.5px;top:1084.1px;width:1822.6px;height:763.5px"><i style="left:-4.8px;width:21.2px;background:linear-gradient(#ff9500,#ff9b00,#ffae00,#fff400,#ecff13,#d3ff2c,#b6ff49,#9bff64,#84ff7b,#74ff8b,#6eff91,#6bff94,#6dff92,#72ff8d,#84ff7b,#98ff67,#b5ff4a,#d1ff2e,#e5ff1a,#fff100,#ffd900,#ffca00,#ffb600,#ffa900,#ffb800,#fff700,#b6ff49,#50ffaf,#14ffeb,#00fdff,#00e9ff)"></i><i style="left:15.5px;width:21.2px;background:linear-gradient(#ff9800,#ff9d00,#ffaf00,#fff600,#ecff13,#d4ff2b,#b9ff46,#9eff61,#85ff7a,#75ff8a,#6fff90,#6bff94,#6cff93,#70ff8f,#83ff7c,#97ff68,#b4ff4b,#d0ff2f,#e5ff1a,#fff100,#ffd800,#ffcb00,#ffb600,#ffa700,#ffb300,#fff200,#c2ff3d,#5affa5,#1affe5,#02fffd,#00eaff)"></i><i style="left:35.9px;width:21.2px;background:linear-gradient(#ff9b00,#ff9f00,#ffb100,#fff800,#ecff13,#d5ff2a,#bbff44,#a1ff5e,#87ff78,#76ff89,#6fff90,#6bff94,#6cff93,#6fff90,#81ff7e,#96ff69,#b2ff4d,#d0ff2f,#e5ff1a,#fff000,#ffd800,#ffcc00,#ffb500,#ffa600,#ffae00,#ffec00,#ceff31,#63ff9c,#20ffdf,#06fff9,#00ebff)"></i><i style="left:56.2px;width:21.2px;background:linear-gradient(#ff9d00,#ffa200,#ffb200,#fff900,#ecff13,#d5ff2a,#beff41,#a4ff5b,#89ff76,#77ff88,#6fff90,#6bff94,#6bff94,#6dff92,#80ff7f,#94ff6b,#b1ff4e,#cfff30,#e5ff1a,#fff000,#ffd700,#ffcd00,#ffb500,#ffa500,#ffaa00,#ffe700,#daff25,#6dff92,#26ffd9,#0afff5,#00ebff)"></i><i style="left:76.6px;width:21.2px;background:linear-gradient(#ffa100,#ffa600,#ffb600,#fffb00,#ecff13,#d5ff2a,#bfff40,#a5ff5a,#8bff74,#78ff87,#70ff8f,#6cff93,#6cff93,#6eff91,#80ff7f,#95ff6a,#b2ff4d,#d0ff2f,#e6ff19,#fff000,#ffd800,#ffcc00,#ffb500,#ffa400,#ffa600,#ffe000,#e1ff1e,#71ff8e,#29ffd6,#0bfff4,#00ecff)"></i><i style="left:97.0px;width:21.2px;background:linear-gradient(#ffa600,#ffab00,#ffbb00,#fffb00,#ecff13,#d5ff2a,#c0ff3f,#a7ff58,#8dff72,#7aff85,#71ff8e,#6cff93,#6cff93,#6fff90,#81ff7e,#96ff69,#b3ff4c,#d1ff2e,#e7ff18,#fff000,#ffd800,#ffcc00,#ffb500,#ffa300,#ffa300,#ffd900,#e5ff1a,#73ff8c,#2affd5,#0bfff4,#00ecff)"></i><i style="left:117.3px;width:21.2px;background:linear-gradient(#ffaa00,#ffb000,#ffbf00,#fffc00,#ecff13,#d5ff2a,#c0ff3f,#a9ff56,#8fff70,#7bff84,#71ff8e,#6dff92,#6dff92,#70ff8f,#82ff7d,#98ff67,#b5ff4a,#d2ff2d,#e8ff17,#fff000,#ffd900,#ffcb00,#ffb500,#ffa200,#ff9f00,#ffd100,#e9ff16,#76ff89,#2cffd3,#0bfff4,#00ecff)"></i><i style="left:137.7px;width:21.2px;background:linear-gradient(#ffae00,#ffb500,#ffc400,#fffd00,#ecff13,#d5ff2a,#c1ff3e,#aaff55,#91ff6e,#7cff83,#72ff8d,#6dff92,#6dff92,#71ff8e,#84ff7b,#99ff66,#b7ff48,#d3ff2c,#e9ff16,#fff000,#ffd900,#ffca00,#ffb500,#ffa100,#ff9c00,#ffca00,#eeff11,#78ff87,#2dffd2,#0bfff4,#00ecff)"></i><i style="left:158.0px;width:21.2px;background:linear-gradient(#ffb300,#ffb900,#ffc800,#fffe00,#ecff13,#d5ff2a,#c1ff3e,#acff53,#93ff6c,#7eff81,#73ff8c,#6eff91,#6eff91,#72ff8d,#85ff7a,#9aff65,#b8ff47,#d4ff2b,#e9ff16,#fff000,#ffda00,#ffc900,#ffb500,#ffa000,#ff9900,#ffc300,#f2ff0d,#7bff84,#2effd1,#0bfff4,#00ecff)"></i><i style="left:178.4px;width:21.2px;background:linear-gradient(#ffb700,#ffbe00,#ffcd00,#ffff00,#ecff13,#d5ff2a,#c2ff3d,#aeff51,#95ff6a,#7fff80,#74ff8b,#6eff91,#6eff91,#73ff8c,#86ff79,#9cff63,#baff45,#d5ff2a,#eaff15,#fff000,#ffda00,#ffc800,#ffb500,#ffa000,#ff9600,#ffbb00,#f6ff09,#7dff82,#30ffcf,#0bfff4,#00ecff)"></i><i style="left:198.8px;width:21.2px;background:linear-gradient(#ffbb00,#ffc300,#ffd200,#ffff00,#ecff13,#d5ff2a,#c2ff3d,#afff50,#97ff68,#81ff7e,#75ff8a,#6fff90,#6fff90,#74ff8b,#87ff78,#9dff62,#bbff44,#d6ff29,#ebff14,#fff000,#ffdb00,#ffc800,#ffb500,#ff9f00,#ff9200,#ffb400,#fbff04,#80ff7f,#31ffce,#0bfff4,#00ecff)"></i><i style="left:219.1px;width:21.2px;background:linear-gradient(#ffc000,#ffc800,#ffd600,#feff01,#ebff14,#d5ff2a,#c3ff3c,#b0ff4f,#98ff67,#81ff7e,#75ff8a,#6fff90,#6fff90,#76ff89,#88ff77,#9fff60,#bdff42,#d7ff28,#ecff13,#fff000,#ffdb00,#ffc700,#ffb500,#ff9e00,#ff9000,#ffae00,#feff01,#82ff7d,#32ffcd,#0bfff4,#00ecff)"></i><i style="left:239.5px;width:21.2px;background:linear-gradient(#ffc300,#ffcb00,#ffd800,#fcff03,#ebff14,#d5ff2a,#c2ff3d,#aeff51,#96ff69,#80ff7f,#75ff8a,#70ff8f,#70ff8f,#77ff88,#8aff75,#a0ff5f,#bdff42,#d8ff27,#ecff13,#fff000,#ffdc00,#ffc800,#ffb500,#ff9e00,#ff8f00,#ffac00,#fffe00,#83ff7c,#32ffcd,#0bfff4,#00ecff)"></i><i style="left:259.8px;width:21.2px;background:linear-gradient(#ffc600,#ffce00,#ffda00,#faff05,#eaff15,#d4ff2b,#c2ff3d,#adff52,#94ff6b,#7eff81,#75ff8a,#70ff8f,#70ff8f,#78ff87,#8bff74,#a2ff5d,#beff41,#d8ff27,#edff12,#fff000,#ffdc00,#ffc900,#ffb600,#ff9e00,#ff8e00,#ffaa00,#fffd00,#85ff7a,#32ffcd,#0bfff4,#00ecff)"></i><i style="left:280.2px;width:21.2px;background:linear-gradient(#ffc900,#ffd100,#ffdc00,#f8ff07,#e9ff16,#d3ff2c,#c1ff3e,#abff54,#92ff6d,#7dff82,#75ff8a,#71ff8e,#71ff8e,#7aff85,#8dff72,#a3ff5c,#beff41,#d8ff27,#edff12,#fff000,#ffdc00,#ffca00,#ffb600,#ff9e00,#ff8d00,#ffa700,#fffc00,#86ff79,#32ffcd,#0bfff4,#00ecff)"></i><i style="left:300.5px;width:21.2px;background:linear-gradient(#ffcd00,#ffd400,#ffde00,#f6ff09,#e8ff17,#d3ff2c,#c1ff3e,#aaff55,#90ff6f,#7cff83,#75ff8a,#71ff8e,#71ff8e,#7bff84,#8fff70,#a5ff5a,#bfff40,#d8ff27,#eeff11,#fff000,#ffdc00,#ffca00,#ffb700,#ff9e00,#ff8c00,#ffa500,#fffa00,#87ff78,#32ffcd,#0bfff4,#00ecff)"></i><i style="left:320.9px;width:21.2px;background:linear-gradient(#ffd000,#ffd700,#ffe100,#f4ff0b,#e7ff18,#d2ff2d,#c0ff3f,#a8ff57,#8eff71,#7aff85,#75ff8a,#72ff8d,#72ff8d,#7cff83,#90ff6f,#a7ff58,#c0ff3f,#d9ff26,#eeff11,#fff000,#ffdd00,#ffcb00,#ffb700,#ff9e00,#ff8c00,#ffa300,#fff900,#89ff76,#32ffcd,#0bfff4,#00ecff)"></i><i style="left:341.3px;width:21.2px;background:linear-gradient(#ffd300,#ffda00,#ffe300,#f2ff0d,#e7ff18,#d2ff2d,#bfff40,#a6ff59,#8cff73,#79ff86,#75ff8a,#73ff8c,#73ff8c,#7eff81,#92ff6d,#a8ff57,#c0ff3f,#d9ff26,#efff10,#fff000,#ffdd00,#ffcc00,#ffb800,#ff9e00,#ff8b00,#ffa100,#fff800,#8aff75,#32ffcd,#0bfff4,#00ecff)"></i><i style="left:361.6px;width:21.2px;background:linear-gradient(#ffd600,#ffdd00,#ffe500,#f0ff0f,#e6ff19,#d1ff2e,#bfff40,#a5ff5a,#8aff75,#78ff87,#75ff8a,#73ff8c,#73ff8c,#7fff80,#93ff6c,#aaff55,#c1ff3e,#d9ff26,#f0ff0f,#fff000,#ffdd00,#ffcd00,#ffb800,#ff9e00,#ff8a00,#ff9f00,#fff600,#8bff74,#32ffcd,#0bfff4,#00ecff)"></i><i style="left:382.0px;width:21.2px;background:linear-gradient(#ffd200,#ffd800,#ffe200,#f1ff0e,#e5ff1a,#d0ff2f,#beff41,#a3ff5c,#89ff76,#77ff88,#75ff8a,#73ff8c,#73ff8c,#7fff80,#92ff6d,#a8ff57,#bfff40,#d7ff28,#eeff11,#ffef00,#ffdd00,#ffce00,#ffb800,#ff9f00,#ff8b00,#ffa200,#fff900,#89ff76,#31ffce,#0afff5,#00ebff)"></i><i style="left:402.3px;width:21.2px;background:linear-gradient(#ffca00,#ffd100,#ffde00,#f3ff0c,#e5ff1a,#d0ff2f,#bcff43,#a2ff5d,#87ff78,#75ff8a,#74ff8b,#72ff8d,#72ff8d,#7eff81,#90ff6f,#a5ff5a,#bcff43,#d5ff2a,#ebff14,#ffef00,#ffdb00,#ffcf00,#ffb600,#ffa000,#ff8c00,#ffa700,#fffe00,#85ff7a,#30ffcf,#07fff8,#00eaff)"></i><i style="left:422.7px;width:21.2px;background:linear-gradient(#ffc200,#ffca00,#ffda00,#f5ff0a,#e5ff1a,#cfff30,#bbff44,#a0ff5f,#86ff79,#74ff8b,#73ff8c,#72ff8d,#72ff8d,#7dff82,#8eff71,#a2ff5d,#b9ff46,#d3ff2c,#e9ff16,#ffee00,#ffda00,#ffd100,#ffb500,#ffa200,#ff8d00,#ffac00,#fbff04,#81ff7e,#2effd1,#05fffa,#00e9ff)"></i><i style="left:443.1px;width:21.2px;background:linear-gradient(#ffbb00,#ffc300,#ffd600,#f7ff08,#e5ff1a,#ceff31,#baff45,#9fff60,#85ff7a,#73ff8c,#72ff8d,#71ff8e,#71ff8e,#7bff84,#8cff73,#9fff60,#b6ff49,#d0ff2f,#e7ff18,#ffee00,#ffd900,#ffd200,#ffb400,#ffa300,#ff8f00,#ffb000,#f7ff08,#7dff82,#2dffd2,#03fffc,#00e9ff)"></i><i style="left:463.4px;width:21.2px;background:linear-gradient(#ffb300,#ffbc00,#ffd200,#f9ff06,#e5ff1a,#cdff32,#b8ff47,#9eff61,#83ff7c,#72ff8d,#71ff8e,#71ff8e,#71ff8e,#7aff85,#8aff75,#9cff63,#b3ff4c,#ceff31,#e4ff1b,#ffed00,#ffd800,#ffd300,#ffb200,#ffa500,#ff9000,#ffb500,#f2ff0d,#7aff85,#2cffd3,#01fffe,#00e8ff)"></i><i style="left:483.8px;width:21.2px;background:linear-gradient(#ffab00,#ffb500,#ffce00,#fbff04,#e5ff1a,#ccff33,#b7ff48,#9cff63,#82ff7d,#71ff8e,#71ff8e,#70ff8f,#70ff8f,#79ff86,#87ff78,#99ff66,#b0ff4f,#cbff34,#e2ff1d,#ffed00,#ffd700,#ffd500,#ffb100,#ffa600,#ff9200,#ffba00,#eeff11,#76ff89,#2affd5,#00feff,#00e7ff)"></i><i style="left:504.1px;width:21.2px;background:linear-gradient(#ffa400,#ffae00,#ffca00,#fdff02,#e5ff1a,#ccff33,#b6ff49,#9bff64,#81ff7e,#70ff8f,#70ff8f,#70ff8f,#70ff8f,#78ff87,#85ff7a,#96ff69,#adff52,#c9ff36,#dfff20,#ffec00,#ffd600,#ffd600,#ffaf00,#ffa700,#ff9300,#ffbf00,#e9ff16,#72ff8d,#29ffd6,#00fcff,#00e6ff)"></i><i style="left:524.5px;width:21.2px;background:linear-gradient(#ff9f00,#ffaa00,#ffc800,#feff01,#e5ff1a,#cbff34,#b5ff4a,#9aff65,#80ff7f,#6fff90,#6fff90,#6fff90,#6fff90,#78ff87,#84ff7b,#95ff6a,#abff54,#c7ff38,#deff21,#ffec00,#ffd600,#ffd700,#ffaf00,#ffa900,#ff9600,#ffc500,#e4ff1b,#6eff91,#27ffd8,#00faff,#00e5ff)"></i><i style="left:544.9px;width:21.2px;background:linear-gradient(#ffa500,#ffaf00,#ffcc00,#fcff03,#e5ff1a,#cbff34,#b6ff49,#9bff64,#81ff7e,#71ff8e,#6fff90,#6eff91,#71ff8e,#7aff85,#87ff78,#98ff67,#aeff51,#c9ff36,#dfff20,#ffef00,#ffd900,#ffd600,#ffb000,#ffa900,#ff9e00,#ffcf00,#dfff20,#6aff95,#25ffda,#00f9ff,#00e4ff)"></i><i style="left:565.2px;width:21.2px;background:linear-gradient(#ffaa00,#ffb400,#ffcf00,#faff05,#e4ff1b,#cbff34,#b6ff49,#9cff63,#83ff7c,#72ff8d,#6fff90,#6dff92,#72ff8d,#7cff83,#89ff76,#9bff64,#b0ff4f,#cbff34,#e0ff1f,#fff200,#ffdc00,#ffd400,#ffb100,#ffaa00,#ffa600,#ffd900,#daff25,#66ff99,#22ffdd,#00f8ff,#00e4ff)"></i><i style="left:585.6px;width:21.2px;background:linear-gradient(#ffb000,#ffb900,#ffd300,#f8ff07,#e4ff1b,#cbff34,#b7ff48,#9eff61,#84ff7b,#73ff8c,#6eff91,#6cff93,#73ff8c,#7eff81,#8cff73,#9eff61,#b3ff4c,#cdff32,#e1ff1e,#fff400,#ffdf00,#ffd300,#ffb300,#ffab00,#ffae00,#ffe400,#d5ff2a,#62ff9d,#20ffdf,#00f7ff,#00e3ff)"></i><i style="left:605.9px;width:21.2px;background:linear-gradient(#ffb500,#ffbe00,#ffd700,#f6ff09,#e3ff1c,#cbff34,#b8ff47,#9fff60,#85ff7a,#74ff8b,#6eff91,#6bff94,#74ff8b,#7fff80,#8eff71,#a1ff5e,#b6ff49,#cfff30,#e2ff1d,#fff700,#ffe200,#ffd100,#ffb400,#ffac00,#ffb700,#ffee00,#d0ff2f,#5effa1,#1dffe2,#00f6ff,#00e2ff)"></i><i style="left:626.3px;width:21.2px;background:linear-gradient(#ffbb00,#ffc300,#ffdb00,#f4ff0b,#e3ff1c,#cbff34,#b9ff46,#a0ff5f,#87ff78,#75ff8a,#6eff91,#69ff96,#75ff8a,#81ff7e,#90ff6f,#a4ff5b,#b9ff46,#d1ff2e,#e3ff1c,#fffa00,#ffe500,#ffd000,#ffb600,#ffad00,#ffbf00,#fff800,#caff35,#5affa5,#1bffe4,#00f6ff,#00e1ff)"></i><i style="left:646.6px;width:21.2px;background:linear-gradient(#ffc000,#ffc900,#ffdf00,#f2ff0d,#e2ff1d,#cbff34,#baff45,#a1ff5e,#88ff77,#76ff89,#6dff92,#68ff97,#76ff89,#83ff7c,#93ff6c,#a7ff58,#bbff44,#d3ff2c,#e4ff1b,#fffd00,#ffe800,#ffcf00,#ffb700,#ffad00,#ffc700,#fcff03,#c5ff3a,#56ffa9,#18ffe7,#00f5ff,#00e0ff)"></i><i style="left:667.0px;width:21.2px;background:linear-gradient(#ffc600,#ffce00,#ffe300,#f0ff0f,#e2ff1d,#cbff34,#baff45,#a2ff5d,#89ff76,#77ff88,#6dff92,#67ff98,#77ff88,#85ff7a,#95ff6a,#aaff55,#beff41,#d5ff2a,#e5ff1a,#ffff00,#ffeb00,#ffcd00,#ffb800,#ffae00,#ffcf00,#f2ff0d,#c0ff3f,#52ffad,#16ffe9,#00f4ff,#00e0ff)"></i><i style="left:687.4px;width:21.2px;background:linear-gradient(#ffcb00,#ffd300,#ffe600,#efff10,#e1ff1e,#cbff34,#baff45,#a1ff5e,#88ff77,#77ff88,#6dff92,#68ff97,#78ff87,#86ff79,#97ff68,#abff54,#bfff40,#d5ff2a,#e5ff1a,#feff01,#ffec00,#ffce00,#ffba00,#ffb100,#ffd500,#efff10,#bdff42,#50ffaf,#14ffeb,#00f3ff,#00dfff)"></i><i style="left:707.7px;width:21.2px;background:linear-gradient(#ffd000,#ffd800,#ffe900,#efff10,#e0ff1f,#caff35,#b8ff47,#9fff60,#86ff79,#75ff8a,#6eff91,#69ff96,#78ff87,#87ff78,#98ff67,#acff53,#bfff40,#d5ff2a,#e5ff1a,#fdff02,#ffec00,#ffd000,#ffbb00,#ffb400,#ffda00,#edff12,#baff45,#4effb1,#13ffec,#00f2ff,#00deff)"></i><i style="left:728.1px;width:21.2px;background:linear-gradient(#ffd600,#ffdd00,#ffec00,#eeff11,#e0ff1f,#c9ff36,#b7ff48,#9dff62,#84ff7b,#74ff8b,#6eff91,#6aff95,#79ff86,#88ff77,#99ff66,#adff52,#bfff40,#d5ff2a,#e5ff1a,#fcff03,#ffec00,#ffd200,#ffbc00,#ffb700,#ffdf00,#ecff13,#b7ff48,#4dffb2,#12ffed,#00f1ff,#00deff)"></i><i style="left:748.4px;width:21.2px;background:linear-gradient(#ffdb00,#ffe100,#fff000,#eeff11,#dfff20,#c9ff36,#b6ff49,#9bff64,#83ff7c,#73ff8c,#6eff91,#6bff94,#79ff86,#89ff76,#9aff65,#adff52,#c0ff3f,#d5ff2a,#e5ff1a,#fcff03,#ffec00,#ffd400,#ffbe00,#ffbb00,#ffe300,#ebff14,#b5ff4a,#4bffb4,#10ffef,#00f0ff,#00ddff)"></i><i style="left:768.8px;width:21.2px;background:linear-gradient(#ffe100,#ffe600,#fff300,#edff12,#dfff20,#c8ff37,#b4ff4b,#99ff66,#81ff7e,#72ff8d,#6eff91,#6cff93,#7aff85,#89ff76,#9bff64,#aeff51,#c0ff3f,#d5ff2a,#e5ff1a,#fbff04,#ffec00,#ffd600,#ffbf00,#ffbe00,#ffe800,#e9ff16,#b2ff4d,#4affb5,#0ffff0,#00efff,#00ddff)"></i><i style="left:789.2px;width:21.2px;background:linear-gradient(#ffe600,#ffeb00,#fff600,#edff12,#deff21,#c8ff37,#b3ff4c,#97ff68,#7fff80,#71ff8e,#6fff90,#6dff92,#7aff85,#8aff75,#9cff63,#afff50,#c0ff3f,#d5ff2a,#e5ff1a,#fbff04,#ffec00,#ffd800,#ffc000,#ffc100,#ffed00,#e8ff17,#afff50,#49ffb6,#0efff1,#00eeff,#00dcff)"></i><i style="left:809.5px;width:21.2px;background:linear-gradient(#ffec00,#fff000,#fff900,#ecff13,#deff21,#c7ff38,#b1ff4e,#95ff6a,#7dff82,#70ff8f,#6fff90,#6eff91,#7bff84,#8bff74,#9dff62,#b0ff4f,#c1ff3e,#d5ff2a,#e5ff1a,#faff05,#ffec00,#ffda00,#ffc200,#ffc400,#fff200,#e7ff18,#acff53,#47ffb8,#0cfff3,#00ecff,#00dcff)"></i><i style="left:829.9px;width:21.2px;background:linear-gradient(#ffee00,#fff200,#fffb00,#edff12,#deff21,#c8ff37,#b1ff4e,#95ff6a,#7cff83,#6fff90,#6fff90,#6fff90,#7cff83,#8cff73,#9eff61,#b0ff4f,#c1ff3e,#d5ff2a,#e5ff1a,#faff05,#ffec00,#ffdb00,#ffc300,#ffc900,#fffa00,#dfff20,#a4ff5b,#43ffbc,#0afff5,#00ebff,#00dbff)"></i><i style="left:850.2px;width:21.2px;background:linear-gradient(#ffe900,#ffec00,#fff500,#f0ff0f,#e0ff1f,#cbff34,#b4ff4b,#97ff68,#7eff81,#71ff8e,#70ff8f,#70ff8f,#7cff83,#8cff73,#9dff62,#afff50,#c0ff3f,#d5ff2a,#e5ff1a,#faff05,#ffed00,#ffdb00,#ffc300,#ffd300,#f3ff0c,#c4ff3b,#8aff75,#35ffca,#03fffc,#00e8ff,#00dbff)"></i><i style="left:870.6px;width:21.2px;background:linear-gradient(#ffe300,#ffe600,#fff000,#f4ff0b,#e3ff1c,#cfff30,#b7ff48,#9aff65,#80ff7f,#72ff8d,#70ff8f,#70ff8f,#7dff82,#8cff73,#9dff62,#afff50,#c0ff3f,#d5ff2a,#e5ff1a,#faff05,#ffed00,#ffda00,#ffc400,#ffdc00,#e3ff1c,#aaff55,#70ff8f,#27ffd8,#00fbff,#00e5ff,#00daff)"></i><i style="left:891.0px;width:21.2px;background:linear-gradient(#ffde00,#ffe000,#ffea00,#f8ff07,#e5ff1a,#d2ff2d,#baff45,#9dff62,#82ff7d,#73ff8c,#70ff8f,#70ff8f,#7eff81,#8cff73,#9cff63,#aeff51,#c0ff3f,#d5ff2a,#e5ff1a,#faff05,#ffee00,#ffda00,#ffc500,#ffe600,#d2ff2d,#8fff70,#55ffaa,#18ffe7,#00f4ff,#00e3ff,#00daff)"></i><i style="left:911.3px;width:21.2px;background:linear-gradient(#ffd900,#ffda00,#ffe500,#fcff03,#e8ff17,#d6ff29,#bdff42,#9fff60,#85ff7a,#74ff8b,#70ff8f,#70ff8f,#7fff80,#8cff73,#9cff63,#adff52,#c0ff3f,#d5ff2a,#e5ff1a,#faff05,#ffef00,#ffd900,#ffc500,#ffef00,#c2ff3d,#74ff8b,#3bffc4,#0afff5,#00edff,#00e0ff,#00d9ff)"></i><i style="left:931.7px;width:21.2px;background:linear-gradient(#ffd300,#ffd400,#ffdf00,#fffe00,#eaff15,#d9ff26,#c0ff3f,#a2ff5d,#87ff78,#75ff8a,#71ff8e,#71ff8e,#80ff7f,#8cff73,#9bff64,#acff53,#bfff40,#d5ff2a,#e5ff1a,#faff05,#fff000,#ffd800,#ffc600,#fff900,#b1ff4e,#5affa5,#21ffde,#00fbff,#00e7ff,#00ddff,#00d8ff)"></i><i style="left:952.0px;width:21.2px;background:linear-gradient(#ffce00,#ffce00,#ffda00,#fffb00,#edff12,#ddff22,#c3ff3c,#a5ff5a,#89ff76,#76ff89,#71ff8e,#71ff8e,#81ff7e,#8cff73,#9bff64,#abff54,#bfff40,#d5ff2a,#e5ff1a,#faff05,#fff100,#ffd800,#ffc600,#fcff03,#a0ff5f,#3fffc0,#07fff8,#00edff,#00e0ff,#00dbff,#00d8ff)"></i><i style="left:972.4px;width:21.2px;background:linear-gradient(#ffc800,#ffc800,#ffd500,#fff700,#efff10,#e1ff1e,#c6ff39,#a8ff57,#8bff74,#77ff88,#71ff8e,#71ff8e,#81ff7e,#8cff73,#9aff65,#abff54,#bfff40,#d5ff2a,#e5ff1a,#faff05,#fff200,#ffd700,#ffc700,#f2ff0d,#90ff6f,#24ffdb,#00ecff,#00dfff,#00d9ff,#00d8ff,#00d7ff)"></i><i style="left:992.7px;width:21.2px;background:linear-gradient(#ffc900,#ffc900,#ffd500,#fff700,#f0ff0f,#e2ff1d,#c7ff38,#a9ff56,#8cff73,#77ff88,#71ff8e,#71ff8e,#81ff7e,#8bff74,#9aff65,#abff54,#bfff40,#d6ff29,#e6ff19,#faff05,#fff200,#ffd800,#ffc900,#f1ff0e,#8aff75,#1cffe3,#00e4ff,#00daff,#00d6ff,#00d6ff,#00d7ff)"></i><i style="left:1013.1px;width:21.2px;background:linear-gradient(#ffcc00,#ffcb00,#ffd600,#fff800,#f0ff0f,#e2ff1d,#c7ff38,#aaff55,#8dff72,#77ff88,#71ff8e,#71ff8e,#7fff80,#8aff75,#9aff65,#acff53,#bfff40,#d6ff29,#e7ff18,#faff05,#fff300,#ffd800,#ffcb00,#f4ff0b,#87ff78,#19ffe6,#00e3ff,#00d8ff,#00d3ff,#00d5ff,#00d6ff)"></i><i style="left:1033.5px;width:21.2px;background:linear-gradient(#ffce00,#ffce00,#ffd800,#fffa00,#f0ff0f,#e3ff1c,#c7ff38,#abff54,#8dff72,#77ff88,#71ff8e,#71ff8e,#7eff81,#89ff76,#9aff65,#adff52,#bfff40,#d7ff28,#e8ff17,#faff05,#fff300,#ffd900,#ffcd00,#f6ff09,#84ff7b,#17ffe8,#00e2ff,#00d6ff,#00d1ff,#00d3ff,#00d5ff)"></i><i style="left:1053.8px;width:21.2px;background:linear-gradient(#ffd100,#ffd000,#ffda00,#fffb00,#f0ff0f,#e3ff1c,#c7ff38,#abff54,#8eff71,#77ff88,#71ff8e,#71ff8e,#7cff83,#89ff76,#9aff65,#adff52,#c0ff3f,#d7ff28,#e9ff16,#faff05,#fff400,#ffd900,#ffcf00,#f8ff07,#82ff7d,#14ffeb,#00e0ff,#00d4ff,#00cfff,#00d2ff,#00d4ff)"></i><i style="left:1074.2px;width:21.2px;background:linear-gradient(#ffd400,#ffd300,#ffdc00,#fffc00,#f0ff0f,#e4ff1b,#c7ff38,#acff53,#8eff71,#77ff88,#71ff8e,#71ff8e,#7bff84,#88ff77,#9aff65,#aeff51,#c0ff3f,#d8ff27,#e9ff16,#faff05,#fff400,#ffda00,#ffd100,#faff05,#7fff80,#12ffed,#00dfff,#00d2ff,#00cdff,#00d1ff,#00d3ff)"></i><i style="left:1094.5px;width:21.2px;background:linear-gradient(#ffd700,#ffd500,#ffde00,#fffe00,#f0ff0f,#e5ff1a,#c7ff38,#adff52,#8fff70,#77ff88,#71ff8e,#71ff8e,#7aff85,#87ff78,#9aff65,#afff50,#c0ff3f,#d8ff27,#eaff15,#faff05,#fff500,#ffda00,#ffd300,#fcff03,#7cff83,#10ffef,#00deff,#00d0ff,#00cbff,#00cfff,#00d3ff)"></i><i style="left:1114.9px;width:21.2px;background:linear-gradient(#ffd900,#ffd700,#ffe000,#ffff00,#f0ff0f,#e5ff1a,#c7ff38,#aeff51,#8fff70,#77ff88,#71ff8e,#71ff8e,#78ff87,#86ff79,#9aff65,#b0ff4f,#c1ff3e,#d9ff26,#ebff14,#faff05,#fff500,#ffdb00,#ffd600,#feff01,#79ff86,#0dfff2,#00dcff,#00ceff,#00c9ff,#00ceff,#00d2ff)"></i><i style="left:1135.3px;width:21.2px;background:linear-gradient(#ffdc00,#ffda00,#ffe200,#feff01,#efff10,#e5ff1a,#c7ff38,#aeff51,#90ff6f,#77ff88,#71ff8e,#71ff8e,#77ff88,#86ff79,#9aff65,#b0ff4f,#c1ff3e,#d9ff26,#ecff13,#faff05,#fff500,#ffdb00,#ffd700,#fffd00,#78ff87,#0bfff4,#00dbff,#00cdff,#00c7ff,#00cdff,#00d1ff)"></i><i style="left:1155.6px;width:21.2px;background:linear-gradient(#ffe000,#ffde00,#ffe600,#fcff03,#eeff11,#e3ff1c,#c6ff39,#adff52,#8fff70,#77ff88,#72ff8d,#72ff8d,#77ff88,#86ff79,#9aff65,#b0ff4f,#c1ff3e,#daff25,#ecff13,#fcff03,#fff300,#ffdb00,#ffd600,#fffa00,#7cff83,#0dfff2,#00dcff,#00ceff,#00c7ff,#00cdff,#00d1ff)"></i><i style="left:1176.0px;width:21.2px;background:linear-gradient(#ffe300,#ffe200,#ffe900,#faff05,#edff12,#e1ff1e,#c4ff3b,#abff54,#8eff71,#77ff88,#72ff8d,#72ff8d,#77ff88,#86ff79,#9aff65,#b0ff4f,#c2ff3d,#daff25,#ecff13,#fdff02,#fff200,#ffda00,#ffd400,#fff700,#80ff7f,#0efff1,#00ddff,#00ceff,#00c7ff,#00cdff,#00d1ff)"></i><i style="left:1196.3px;width:21.2px;background:linear-gradient(#ffe700,#ffe700,#ffed00,#f8ff07,#ebff14,#deff21,#c3ff3c,#aaff55,#8dff72,#77ff88,#73ff8c,#72ff8d,#77ff88,#86ff79,#9aff65,#b0ff4f,#c3ff3c,#daff25,#ecff13,#feff01,#fff000,#ffda00,#ffd300,#fff300,#84ff7b,#0ffff0,#00ddff,#00cfff,#00c7ff,#00cdff,#00d1ff)"></i><i style="left:1216.7px;width:21.2px;background:linear-gradient(#ffea00,#ffeb00,#fff000,#f6ff09,#eaff15,#dcff23,#c2ff3d,#a9ff56,#8cff73,#77ff88,#74ff8b,#72ff8d,#77ff88,#86ff79,#9aff65,#b0ff4f,#c3ff3c,#daff25,#ecff13,#fffe00,#ffee00,#ffd900,#ffd100,#fff000,#88ff77,#10ffef,#00deff,#00cfff,#00c7ff,#00cdff,#00d1ff)"></i><i style="left:1237.1px;width:21.2px;background:linear-gradient(#ffee00,#ffef00,#fff400,#f4ff0b,#e9ff16,#daff25,#c1ff3e,#a7ff58,#8cff73,#77ff88,#74ff8b,#73ff8c,#77ff88,#86ff79,#9aff65,#b0ff4f,#c4ff3b,#dbff24,#ecff13,#fffd00,#ffec00,#ffd800,#ffd000,#ffed00,#8bff74,#11ffee,#00deff,#00d0ff,#00c7ff,#00cdff,#00d1ff)"></i><i style="left:1257.4px;width:21.2px;background:linear-gradient(#fff100,#fff300,#fff800,#f2ff0d,#e7ff18,#d8ff27,#c0ff3f,#a6ff59,#8bff74,#77ff88,#75ff8a,#73ff8c,#77ff88,#86ff79,#9aff65,#b0ff4f,#c4ff3b,#dbff24,#ecff13,#fffc00,#ffea00,#ffd800,#ffcf00,#ffea00,#8fff70,#12ffed,#00dfff,#00d0ff,#00c7ff,#00cdff,#00d1ff)"></i><i style="left:1277.8px;width:21.2px;background:linear-gradient(#fff500,#fff700,#fffb00,#f0ff0f,#e6ff19,#d6ff29,#bfff40,#a5ff5a,#8aff75,#77ff88,#75ff8a,#73ff8c,#77ff88,#86ff79,#9aff65,#b0ff4f,#c5ff3a,#dbff24,#ecff13,#fffa00,#ffe800,#ffd700,#ffcd00,#ffe600,#93ff6c,#13ffec,#00dfff,#00d1ff,#00c7ff,#00cdff,#00d1ff)"></i><i style="left:1298.1px;width:21.2px;background:linear-gradient(#fff100,#fff100,#fff300,#f6ff09,#e7ff18,#d5ff2a,#beff41,#a3ff5c,#88ff77,#77ff88,#75ff8a,#73ff8c,#77ff88,#85ff7a,#99ff66,#b0ff4f,#c5ff3a,#dcff23,#ecff13,#fffa00,#ffe800,#ffd700,#ffcd00,#ffe400,#9bff64,#17ffe8,#00e1ff,#00d2ff,#00c8ff,#00cdff,#00d2ff)"></i><i style="left:1318.5px;width:21.2px;background:linear-gradient(#ffeb00,#ffe800,#ffe700,#feff01,#e8ff17,#d5ff2a,#beff41,#a1ff5e,#86ff79,#75ff8a,#74ff8b,#72ff8d,#75ff8a,#83ff7c,#98ff67,#afff50,#c4ff3b,#dcff23,#edff12,#fffa00,#ffe800,#ffd600,#ffcd00,#ffe300,#a5ff5a,#1dffe2,#00e4ff,#00d3ff,#00c9ff,#00ceff,#00d3ff)"></i><i style="left:1338.8px;width:21.2px;background:linear-gradient(#ffe500,#ffde00,#ffdb00,#fff800,#e9ff16,#d5ff2a,#bdff42,#a0ff5f,#84ff7b,#74ff8b,#73ff8c,#72ff8d,#74ff8b,#82ff7d,#96ff69,#aeff51,#c4ff3b,#dcff23,#edff12,#fffa00,#ffe800,#ffd500,#ffcd00,#ffe200,#afff50,#22ffdd,#00e7ff,#00d5ff,#00cbff,#00cfff,#00d3ff)"></i><i style="left:1359.2px;width:21.2px;background:linear-gradient(#ffde00,#ffd500,#ffcf00,#fff000,#ebff14,#d5ff2a,#bdff42,#9eff61,#83ff7c,#73ff8c,#72ff8d,#71ff8e,#73ff8c,#81ff7e,#95ff6a,#adff52,#c4ff3b,#dcff23,#eeff11,#fffa00,#ffe800,#ffd400,#ffcd00,#ffe000,#b9ff46,#28ffd7,#00eaff,#00d6ff,#00ccff,#00cfff,#00d4ff)"></i><i style="left:1379.6px;width:21.2px;background:linear-gradient(#ffd800,#ffcc00,#ffc300,#ffe800,#ecff13,#d5ff2a,#bcff43,#9cff63,#81ff7e,#72ff8d,#71ff8e,#71ff8e,#72ff8d,#7fff80,#94ff6b,#adff52,#c4ff3b,#ddff22,#eeff11,#fffa00,#ffe800,#ffd300,#ffcd00,#ffdf00,#c2ff3d,#2dffd2,#00ecff,#00d8ff,#00cdff,#00d0ff,#00d5ff)"></i><i style="left:1399.9px;width:21.2px;background:linear-gradient(#ffd200,#ffc300,#ffb700,#ffdf00,#edff12,#d5ff2a,#bcff43,#9bff64,#7fff80,#71ff8e,#71ff8e,#70ff8f,#71ff8e,#7eff81,#92ff6d,#acff53,#c3ff3c,#ddff22,#efff10,#fffa00,#ffe800,#ffd300,#ffcd00,#ffde00,#ccff33,#33ffcc,#00efff,#00d9ff,#00cfff,#00d0ff,#00d6ff)"></i><i style="left:1420.3px;width:21.2px;background:linear-gradient(#ffcc00,#ffb900,#ffab00,#ffd700,#efff10,#d5ff2a,#bbff44,#99ff66,#7dff82,#70ff8f,#70ff8f,#70ff8f,#70ff8f,#7cff83,#91ff6e,#abff54,#c3ff3c,#ddff22,#efff10,#fffa00,#ffe800,#ffd200,#ffcd00,#ffdc00,#d6ff29,#38ffc7,#00f2ff,#00daff,#00d0ff,#00d1ff,#00d7ff)"></i><i style="left:1440.6px;width:21.2px;background:linear-gradient(#ffc500,#ffb100,#ffa200,#ffd100,#f0ff0f,#d5ff2a,#baff45,#98ff67,#7cff83,#6fff90,#6fff90,#6fff90,#6fff90,#7bff84,#90ff6f,#aaff55,#c3ff3c,#ddff22,#f0ff0f,#fffa00,#ffe700,#ffd100,#ffcd00,#ffda00,#dfff20,#3fffc0,#00f5ff,#00dcff,#00d2ff,#00d1ff,#00d7ff)"></i><i style="left:1461.0px;width:21.2px;background:linear-gradient(#ffbc00,#ffab00,#ff9f00,#ffcf00,#f2ff0d,#d5ff2a,#b9ff46,#97ff68,#7cff83,#70ff8f,#6fff90,#6eff90,#6eff90,#7bff84,#8fff70,#a9ff56,#c2ff3d,#ddff22,#f0ff0f,#fff800,#ffe500,#ffd000,#ffcb00,#ffd700,#e4ff1b,#4bffb4,#00fcff,#00deff,#00d3ff,#00d3ff,#00d8ff)"></i><i style="left:1481.4px;width:21.2px;background:linear-gradient(#ffb300,#ffa500,#ff9c00,#ffcd00,#f4ff0b,#d5ff2a,#b8ff47,#97ff68,#7dff82,#70ff8f,#6fff90,#6eff91,#6eff91,#7aff85,#8fff70,#a9ff56,#c2ff3d,#ddff22,#f0ff0f,#fff700,#ffe300,#ffd000,#ffc900,#ffd400,#eaff15,#56ffa9,#04fffb,#00e0ff,#00d5ff,#00d4ff,#00d8ff)"></i><i style="left:1501.7px;width:21.2px;background:linear-gradient(#ffab00,#ff9f00,#ff9900,#ffcb00,#f6ff09,#d5ff2a,#b6ff49,#96ff69,#7dff82,#71ff8e,#6fff90,#6dff92,#6dff92,#7aff85,#8eff71,#a8ff57,#c2ff3d,#ddff22,#f0ff0f,#fff500,#ffe000,#ffcf00,#ffc700,#ffd100,#f0ff0f,#62ff9d,#0bfff4,#00e2ff,#00d7ff,#00d6ff,#00d9ff)"></i><i style="left:1522.1px;width:21.2px;background:linear-gradient(#ffa200,#ff9900,#ff9700,#ffc900,#f8ff07,#d5ff2a,#b5ff4a,#96ff69,#7eff81,#71ff8e,#6fff90,#6dff92,#6dff92,#79ff86,#8eff71,#a7ff58,#c2ff3d,#ddff22,#f0ff0f,#fff400,#ffde00,#ffcf00,#ffc500,#ffcd00,#f6ff09,#6eff91,#12ffed,#00e5ff,#00d9ff,#00d7ff,#00daff)"></i><i style="left:1542.4px;width:21.2px;background:linear-gradient(#ff9900,#ff9300,#ff9400,#ffc700,#faff05,#d5ff2a,#b4ff4b,#95ff6a,#7eff81,#72ff8d,#6fff90,#6cff93,#6cff93,#79ff86,#8dff72,#a6ff59,#c1ff3e,#ddff22,#f0ff0f,#fff300,#ffdc00,#ffce00,#ffc300,#ffca00,#fbff04,#7aff85,#18ffe7,#00e7ff,#00dbff,#00d8ff,#00daff)"></i><i style="left:1562.8px;width:21.2px;background:linear-gradient(#ff9000,#ff8d00,#ff9100,#ffc500,#fcff03,#d5ff2a,#b2ff4d,#95ff6a,#7fff80,#73ff8c,#6fff90,#6cff93,#6cff93,#78ff87,#8cff73,#a5ff5a,#c1ff3e,#ddff22,#f0ff0f,#fff100,#ffda00,#ffce00,#ffc100,#ffc700,#fffd00,#85ff7a,#1fffe0,#00e9ff,#00ddff,#00daff,#00dbff)"></i><i style="left:1583.2px;width:21.2px;background:linear-gradient(#ff8800,#ff8700,#ff8e00,#ffc300,#feff01,#d5ff2a,#b1ff4e,#94ff6b,#7fff80,#73ff8c,#6fff90,#6bff94,#6bff94,#77ff88,#8cff73,#a4ff5b,#c1ff3e,#ddff22,#f0ff0f,#fff000,#ffd800,#ffcd00,#ffbf00,#ffc400,#fff700,#91ff6e,#26ffd9,#00ebff,#00dfff,#00dbff,#00dbff)"></i><i style="left:1603.5px;width:21.2px;background:linear-gradient(#ff8600,#ff8700,#ff9000,#ffc700,#fcff03,#d5ff2a,#b0ff4f,#93ff6c,#7fff80,#73ff8c,#6fff90,#6bff94,#6cff93,#77ff88,#8cff73,#a4ff5b,#c0ff3f,#dcff23,#efff10,#fff000,#ffd800,#ffcc00,#ffbe00,#ffc100,#fff200,#9dff62,#31ffce,#00f2ff,#00e2ff,#00ddff,#00dcff)"></i><i style="left:1623.9px;width:21.2px;background:linear-gradient(#ff8700,#ff8800,#ff9400,#ffcc00,#faff05,#d4ff2b,#afff50,#93ff6c,#7fff80,#72ff8d,#6fff90,#6bff94,#6cff93,#77ff88,#8bff74,#a3ff5c,#bfff40,#dbff24,#edff12,#fff100,#ffd800,#ffcc00,#ffbd00,#ffbe00,#ffec00,#a9ff56,#3dffc2,#00f9ff,#00e6ff,#00dfff,#00deff)"></i><i style="left:1644.2px;width:21.2px;background:linear-gradient(#ff8700,#ff8a00,#ff9800,#ffd200,#f7ff08,#d4ff2b,#aeff51,#92ff6d,#7eff81,#72ff8d,#6eff91,#6bff94,#6dff92,#77ff88,#8bff74,#a2ff5d,#bfff40,#daff25,#ecff13,#fff100,#ffd900,#ffcb00,#ffbc00,#ffbb00,#ffe700,#b6ff49,#49ffb6,#02fffd,#00e9ff,#00e1ff,#00dfff)"></i><i style="left:1664.6px;width:21.2px;background:linear-gradient(#ff8800,#ff8c00,#ff9b00,#ffd700,#f5ff0a,#d3ff2c,#adff52,#92ff6d,#7dff82,#71ff8e,#6eff91,#6bff94,#6dff92,#77ff88,#8bff74,#a1ff5e,#beff41,#d8ff27,#ebff14,#fff200,#ffd900,#ffca00,#ffbc00,#ffb900,#ffe100,#c2ff3d,#55ffaa,#0afff5,#00edff,#00e3ff,#00e0ff)"></i><i style="left:1684.9px;width:21.2px;background:linear-gradient(#ff8800,#ff8d00,#ff9f00,#ffdd00,#f2ff0d,#d3ff2c,#adff52,#91ff6e,#7dff82,#71ff8e,#6eff91,#6bff94,#6eff91,#77ff88,#8aff75,#a0ff5f,#bdff42,#d7ff28,#e9ff16,#fff200,#ffda00,#ffc900,#ffbb00,#ffb600,#ffdc00,#ceff31,#61ff9e,#12ffed,#00f0ff,#00e6ff,#00e2ff)"></i><i style="left:1705.3px;width:21.2px;background:linear-gradient(#ff8900,#ff8f00,#ffa200,#ffe200,#f0ff0f,#d2ff2d,#acff53,#91ff6e,#7cff83,#70ff8f,#6eff91,#6bff94,#6eff91,#77ff88,#8aff75,#a0ff5f,#bcff43,#d6ff29,#e8ff17,#fff300,#ffda00,#ffc800,#ffba00,#ffb300,#ffd700,#daff25,#6dff92,#1affe5,#00f4ff,#00e8ff,#00e3ff)"></i><i style="left:1725.7px;width:21.2px;background:linear-gradient(#ff8900,#ff9100,#ffa600,#ffe800,#edff12,#d2ff2d,#abff54,#90ff6f,#7cff83,#70ff8f,#6dff92,#6bff94,#6fff90,#77ff88,#8aff75,#9fff60,#bbff44,#d4ff2b,#e7ff18,#fff300,#ffdb00,#ffc800,#ffb900,#ffb000,#ffd100,#e7ff18,#79ff86,#22ffdd,#00f7ff,#00eaff,#00e4ff)"></i><i style="left:1746.0px;width:21.2px;background:linear-gradient(#ff8a00,#ff9200,#ffa900,#ffec00,#ecff13,#d1ff2e,#abff54,#90ff6f,#7cff83,#6fff90,#6dff92,#6bff94,#6fff90,#77ff88,#89ff76,#9eff61,#baff45,#d3ff2c,#e5ff1a,#fff400,#ffdb00,#ffc700,#ffb800,#ffae00,#ffcc00,#f1ff0e,#85ff7a,#2affd5,#00fbff,#00edff,#00e6ff)"></i><i style="left:1766.4px;width:21.2px;background:linear-gradient(#ff8d00,#ff9500,#ffaa00,#ffee00,#ecff13,#d2ff2d,#aeff51,#93ff6c,#7eff81,#71ff8e,#6dff92,#6bff94,#6eff90,#76ff89,#88ff77,#9cff63,#b9ff46,#d2ff2d,#e5ff1a,#fff300,#ffdb00,#ffc800,#ffb800,#ffad00,#ffc700,#f6ff09,#91ff6e,#34ffcb,#02fffd,#00f1ff,#00e7ff)"></i><i style="left:1786.7px;width:21.2px;background:linear-gradient(#ff9000,#ff9700,#ffab00,#fff000,#ecff13,#d2ff2d,#b0ff4f,#96ff69,#80ff7f,#72ff8d,#6eff91,#6bff94,#6eff91,#74ff8b,#87ff78,#9bff64,#b8ff47,#d2ff2d,#e5ff1a,#fff300,#ffda00,#ffc900,#ffb700,#ffab00,#ffc200,#fcff03,#9dff62,#3dffc2,#08fff7,#00f5ff,#00e7ff)"></i><i style="left:1807.1px;width:21.2px;background:linear-gradient(#ff9300,#ff9900,#ffad00,#fff200,#ecff13,#d3ff2c,#b3ff4c,#99ff66,#82ff7d,#73ff8c,#6eff91,#6bff94,#6dff92,#73ff8c,#85ff7a,#9aff65,#b6ff49,#d1ff2e,#e5ff1a,#fff200,#ffda00,#ffca00,#ffb700,#ffaa00,#ffbd00,#fffd00,#a9ff56,#47ffb8,#0efff1,#00f9ff,#00e8ff)"></i></div><div class="fld" style="left:78.9px;top:2032.2px;width:1845.6px;height:772.5px"><i style="left:-4.9px;width:21.4px;background:linear-gradient(#ff6f00,#ff7b00,#ff9700,#ffe700,#f0ff0f,#daff25,#bdff42,#a1ff5e,#89ff76,#74ff8b,#6cff93,#69ff96,#6fff90,#76ff89,#88ff77,#a1ff5e,#bdff42,#d8ff27,#eeff11,#ffee00,#ffd500,#ffc700,#ffb700,#ffab00,#ffbc00,#f5ff0a,#adff52,#49ffb6,#1bffe4,#01fffe,#00e9ff)"></i><i style="left:15.7px;width:21.4px;background:linear-gradient(#ff7300,#ff7e00,#ff9900,#ffe900,#f0ff0f,#dbff24,#c0ff3f,#a4ff5b,#8dff72,#75ff8a,#6cff93,#68ff97,#6fff90,#76ff89,#87ff78,#a0ff5f,#bdff42,#d9ff26,#eeff11,#ffed00,#ffd400,#ffc700,#ffb700,#ffaa00,#ffba00,#f7ff08,#b5ff4a,#4fffb0,#1fffe0,#04fffb,#00eaff)"></i><i style="left:36.3px;width:21.4px;background:linear-gradient(#ff7700,#ff8200,#ff9b00,#ffea00,#f0ff0f,#dcff23,#c3ff3c,#a8ff57,#90ff6f,#76ff89,#6bff94,#68ff97,#6fff90,#76ff89,#87ff78,#9fff60,#bdff42,#d9ff26,#efff10,#ffeb00,#ffd200,#ffc700,#ffb800,#ffa900,#ffb800,#f8ff07,#bdff42,#54ffab,#23ffdc,#07fff8,#00ebff)"></i><i style="left:57.0px;width:21.4px;background:linear-gradient(#ff7a00,#ff8500,#ff9e00,#ffeb00,#f0ff0f,#ddff22,#c6ff39,#abff54,#93ff6c,#77ff88,#6bff94,#67ff98,#6fff90,#75ff8a,#86ff79,#9eff61,#bdff42,#d9ff26,#f0ff0f,#ffea00,#ffd100,#ffc700,#ffb800,#ffa900,#ffb500,#faff05,#c5ff3a,#59ffa6,#27ffd8,#0afff5,#00ebff)"></i><i style="left:77.6px;width:21.4px;background:linear-gradient(#ff7e00,#ff8800,#ffa000,#ffec00,#f0ff0f,#deff21,#c7ff38,#acff53,#94ff6b,#78ff87,#6cff93,#68ff97,#70ff8f,#76ff89,#87ff78,#9fff60,#bdff42,#d9ff26,#f0ff0f,#ffea00,#ffd200,#ffc700,#ffb800,#ffa700,#ffb100,#ffff00,#caff35,#5dffa2,#29ffd6,#0bfff4,#00ecff)"></i><i style="left:98.2px;width:21.4px;background:linear-gradient(#ff8300,#ff8b00,#ffa200,#ffed00,#f0ff0f,#deff21,#c7ff38,#acff53,#94ff6b,#78ff87,#6cff93,#69ff96,#70ff8f,#77ff88,#88ff77,#a1ff5e,#beff41,#daff25,#f0ff0f,#ffea00,#ffd200,#ffc700,#ffb800,#ffa600,#ffad00,#fff800,#ceff31,#60ff9f,#2affd5,#0bfff4,#00eeff)"></i><i style="left:118.8px;width:21.4px;background:linear-gradient(#ff8700,#ff8e00,#ffa400,#ffed00,#f0ff0f,#dfff20,#c7ff38,#acff53,#95ff6a,#79ff86,#6dff92,#6aff95,#71ff8e,#78ff87,#8aff75,#a3ff5c,#bfff40,#daff25,#f0ff0f,#ffea00,#ffd300,#ffc700,#ffb700,#ffa500,#ffa900,#fff100,#d2ff2d,#62ff9d,#2cffd3,#0bfff4,#00efff)"></i><i style="left:139.4px;width:21.4px;background:linear-gradient(#ff8b00,#ff9100,#ffa600,#ffee00,#f0ff0f,#dfff20,#c7ff38,#acff53,#95ff6a,#79ff86,#6dff92,#6bff94,#71ff8e,#79ff86,#8cff73,#a4ff5b,#c0ff3f,#daff25,#f0ff0f,#ffeb00,#ffd300,#ffc700,#ffb700,#ffa300,#ffa400,#ffeb00,#d6ff29,#65ff9a,#2dffd2,#0bfff4,#00f0ff)"></i><i style="left:160.0px;width:21.4px;background:linear-gradient(#ff8f00,#ff9400,#ffa800,#ffee00,#f0ff0f,#e0ff1f,#c7ff38,#acff53,#95ff6a,#7aff85,#6eff91,#6cff93,#72ff8d,#7aff85,#8dff72,#a6ff59,#c1ff3e,#dbff24,#f0ff0f,#ffeb00,#ffd400,#ffc700,#ffb600,#ffa200,#ffa000,#ffe400,#daff25,#68ff97,#2effd1,#0bfff4,#00f1ff)"></i><i style="left:180.6px;width:21.4px;background:linear-gradient(#ff9300,#ff9700,#ffab00,#ffef00,#f0ff0f,#e0ff1f,#c7ff38,#acff53,#95ff6a,#7aff85,#6eff91,#6dff92,#72ff8d,#7cff83,#8fff70,#a7ff58,#c1ff3e,#dbff24,#f0ff0f,#ffeb00,#ffd400,#ffc700,#ffb500,#ffa000,#ff9c00,#ffdd00,#deff21,#6aff95,#30ffcf,#0bfff4,#00f2ff)"></i><i style="left:201.3px;width:21.4px;background:linear-gradient(#ff9700,#ff9a00,#ffad00,#ffef00,#f0ff0f,#e1ff1e,#c7ff38,#acff53,#96ff69,#7bff84,#6fff90,#6eff91,#73ff8c,#7dff82,#91ff6e,#a9ff56,#c2ff3d,#dbff24,#f0ff0f,#ffeb00,#ffd500,#ffc700,#ffb500,#ff9f00,#ff9700,#ffd600,#e2ff1d,#6dff92,#31ffce,#0bfff4,#00f3ff)"></i><i style="left:221.9px;width:21.4px;background:linear-gradient(#ff9b00,#ff9d00,#ffb000,#fff000,#f0ff0f,#e1ff1e,#c7ff38,#acff53,#96ff69,#7bff84,#6fff90,#6fff90,#73ff8c,#7eff81,#92ff6d,#abff54,#c3ff3c,#dbff24,#f0ff0f,#ffec00,#ffd600,#ffc700,#ffb400,#ff9e00,#ff9400,#ffcf00,#e6ff19,#6fff90,#32ffcd,#0bfff4,#00f4ff)"></i><i style="left:242.5px;width:21.4px;background:linear-gradient(#ffa000,#ffa200,#ffb400,#fff100,#efff10,#dfff20,#c6ff39,#abff54,#95ff6a,#7bff84,#70ff8f,#70ff8f,#74ff8b,#7fff80,#94ff6b,#abff54,#c4ff3b,#dcff23,#f0ff0f,#ffed00,#ffd700,#ffc900,#ffb400,#ff9e00,#ff9400,#ffc900,#e7ff18,#71ff8e,#32ffcd,#0bfff4,#00f4ff)"></i><i style="left:263.1px;width:21.4px;background:linear-gradient(#ffa400,#ffa600,#ffb800,#fff200,#eeff11,#deff21,#c4ff3b,#aaff55,#93ff6c,#7aff85,#71ff8e,#71ff8e,#74ff8b,#80ff7f,#95ff6a,#acff53,#c5ff3a,#ddff22,#f0ff0f,#ffee00,#ffd800,#ffca00,#ffb300,#ff9e00,#ff9400,#ffc200,#e9ff16,#72ff8d,#32ffcd,#0bfff4,#00f4ff)"></i><i style="left:283.7px;width:21.4px;background:linear-gradient(#ffa900,#ffab00,#ffbd00,#fff200,#eeff11,#dcff23,#c3ff3c,#a9ff56,#92ff6d,#7aff85,#72ff8d,#72ff8d,#75ff8a,#81ff7e,#96ff69,#adff52,#c5ff3a,#ddff22,#f0ff0f,#ffef00,#ffda00,#ffcb00,#ffb200,#ff9e00,#ff9400,#ffbb00,#eaff15,#73ff8c,#32ffcd,#0bfff4,#00f4ff)"></i><i style="left:304.3px;width:21.4px;background:linear-gradient(#ffae00,#ffb000,#ffc100,#fff300,#edff12,#daff25,#c2ff3d,#a8ff57,#91ff6e,#79ff86,#73ff8c,#73ff8c,#76ff89,#82ff7d,#98ff67,#aeff51,#c6ff39,#deff21,#f0ff0f,#fff000,#ffdb00,#ffcd00,#ffb100,#ff9e00,#ff9400,#ffb400,#ebff14,#74ff8b,#32ffcd,#0bfff4,#00f4ff)"></i><i style="left:325.0px;width:21.4px;background:linear-gradient(#ffb200,#ffb400,#ffc500,#fff400,#edff12,#d9ff26,#c1ff3e,#a7ff58,#90ff6f,#79ff86,#73ff8c,#73ff8c,#76ff89,#83ff7c,#99ff66,#afff50,#c7ff38,#deff21,#f0ff0f,#fff100,#ffdc00,#ffce00,#ffb000,#ff9e00,#ff9400,#ffad00,#edff12,#75ff8a,#32ffcd,#0bfff4,#00f4ff)"></i><i style="left:345.6px;width:21.4px;background:linear-gradient(#ffb700,#ffb900,#ffca00,#fff500,#ecff13,#d7ff28,#c0ff3f,#a6ff59,#8fff70,#78ff87,#74ff8b,#74ff8b,#77ff88,#84ff7b,#9aff65,#afff50,#c8ff37,#dfff20,#f0ff0f,#fff200,#ffde00,#ffcf00,#ffaf00,#ff9e00,#ff9400,#ffa700,#eeff11,#76ff89,#32ffcd,#0bfff4,#00f4ff)"></i><i style="left:366.2px;width:21.4px;background:linear-gradient(#ffbc00,#ffbe00,#ffce00,#fff600,#ecff13,#d6ff29,#bfff40,#a4ff5b,#8eff71,#77ff88,#75ff8a,#75ff8a,#77ff88,#85ff7a,#9cff63,#b0ff4f,#c9ff36,#dfff20,#f0ff0f,#fff400,#ffdf00,#ffd100,#ffaf00,#ff9e00,#ff9400,#ffa000,#efff10,#77ff88,#32ffcd,#0bfff4,#00f4ff)"></i><i style="left:386.8px;width:21.4px;background:linear-gradient(#ffb900,#ffbb00,#ffcc00,#fff500,#ecff13,#d5ff2a,#beff41,#a3ff5c,#8cff73,#77ff88,#75ff8a,#75ff8a,#77ff88,#85ff7a,#9aff65,#aeff51,#c6ff39,#deff21,#eeff11,#fff400,#ffde00,#ffd100,#ffae00,#ff9f00,#ff9500,#ffa100,#eeff11,#76ff89,#31ffce,#0afff5,#00f3ff)"></i><i style="left:407.4px;width:21.4px;background:linear-gradient(#ffb500,#ffb700,#ffc800,#fff300,#edff12,#d5ff2a,#bcff43,#a0ff5f,#8aff75,#75ff8a,#74ff8b,#74ff8b,#76ff89,#84ff7b,#97ff68,#aaff55,#c2ff3d,#dbff24,#ecff13,#fff400,#ffdd00,#ffd000,#ffad00,#ffa000,#ff9600,#ffa600,#ebff14,#73ff8c,#30ffcf,#07fff8,#00f2ff)"></i><i style="left:428.0px;width:21.4px;background:linear-gradient(#ffb000,#ffb200,#ffc500,#fff200,#edff12,#d5ff2a,#bbff44,#9eff61,#88ff77,#74ff8b,#73ff8c,#74ff8b,#76ff89,#83ff7c,#94ff6b,#a6ff59,#beff41,#d9ff26,#eaff15,#fff400,#ffdb00,#ffd000,#ffac00,#ffa000,#ff9800,#ffaa00,#e9ff16,#71ff8e,#2effd1,#05fffa,#00f1ff)"></i><i style="left:448.7px;width:21.4px;background:linear-gradient(#ffab00,#ffad00,#ffc100,#fff100,#eeff11,#d5ff2a,#baff45,#9cff63,#86ff79,#73ff8c,#72ff8d,#73ff8c,#75ff8a,#82ff7d,#91ff6e,#a2ff5d,#baff45,#d6ff29,#e9ff16,#fff400,#ffd900,#ffcf00,#ffab00,#ffa100,#ff9900,#ffae00,#e7ff18,#6eff91,#2dffd2,#03fffc,#00f0ff)"></i><i style="left:469.3px;width:21.4px;background:linear-gradient(#ffa700,#ffa900,#ffbd00,#ffef00,#eeff11,#d5ff2a,#b8ff47,#9aff65,#83ff7c,#72ff8d,#71ff8e,#73ff8c,#75ff8a,#80ff7f,#8eff71,#9eff61,#b6ff49,#d4ff2b,#e7ff18,#fff400,#ffd800,#ffcf00,#ffab00,#ffa200,#ff9a00,#ffb300,#e4ff1b,#6cff93,#2cffd3,#01fffe,#00efff)"></i><i style="left:489.9px;width:21.4px;background:linear-gradient(#ffa200,#ffa400,#ffb900,#ffee00,#efff10,#d5ff2a,#b7ff48,#98ff67,#81ff7e,#71ff8e,#71ff8e,#72ff8d,#74ff8b,#7fff80,#8bff74,#9bff64,#b1ff4e,#d1ff2e,#e5ff1a,#fff400,#ffd600,#ffce00,#ffaa00,#ffa300,#ff9c00,#ffb700,#e2ff1d,#69ff96,#2affd5,#00feff,#00eeff)"></i><i style="left:510.5px;width:21.4px;background:linear-gradient(#ff9d00,#ffa000,#ffb500,#ffed00,#efff10,#d5ff2a,#b6ff49,#96ff69,#7fff80,#70ff8f,#70ff8f,#72ff8d,#74ff8b,#7eff81,#88ff77,#97ff68,#adff52,#cfff30,#e3ff1c,#fff400,#ffd400,#ffcd00,#ffa900,#ffa400,#ff9d00,#ffbb00,#dfff20,#67ff98,#29ffd6,#00fcff,#00ecff)"></i><i style="left:531.1px;width:21.4px;background:linear-gradient(#ff9a00,#ff9d00,#ffb300,#ffec00,#f0ff0f,#d6ff29,#b5ff4a,#95ff6a,#7eff81,#6fff90,#6fff90,#71ff8e,#74ff8b,#7eff81,#87ff78,#95ff6a,#abff54,#ceff31,#e2ff1d,#fff400,#ffd400,#ffcd00,#ffa900,#ffa500,#ffa000,#ffc100,#dbff24,#64ff9b,#27ffd8,#00faff,#00ebff)"></i><i style="left:551.7px;width:21.4px;background:linear-gradient(#ff9b00,#ff9e00,#ffb600,#ffed00,#f0ff0f,#d7ff28,#b7ff48,#97ff68,#81ff7e,#71ff8e,#70ff8f,#71ff8e,#75ff8a,#80ff7f,#8aff75,#99ff66,#afff50,#d0ff2f,#e3ff1c,#fff500,#ffd600,#ffcc00,#ffaa00,#ffa600,#ffa800,#ffcc00,#d3ff2c,#5effa1,#25ffda,#00f9ff,#00ebff)"></i><i style="left:572.4px;width:21.4px;background:linear-gradient(#ff9b00,#ffa000,#ffb900,#ffef00,#f0ff0f,#d9ff26,#b9ff46,#9aff65,#83ff7c,#72ff8d,#70ff8f,#71ff8e,#76ff89,#82ff7d,#8eff71,#9eff61,#b2ff4d,#d2ff2d,#e4ff1b,#fff700,#ffd900,#ffcb00,#ffac00,#ffa700,#ffaf00,#ffd700,#caff35,#59ffa6,#22ffdd,#00f8ff,#00eaff)"></i><i style="left:593.0px;width:21.4px;background:linear-gradient(#ff9c00,#ffa200,#ffbb00,#fff000,#f0ff0f,#daff25,#bbff44,#9dff62,#85ff7a,#73ff8c,#71ff8e,#71ff8e,#77ff88,#85ff7a,#91ff6e,#a2ff5d,#b6ff49,#d4ff2b,#e6ff19,#fff800,#ffdb00,#ffca00,#ffae00,#ffa900,#ffb700,#ffe100,#c2ff3d,#53ffac,#20ffdf,#00f7ff,#00e9ff)"></i><i style="left:613.6px;width:21.4px;background:linear-gradient(#ff9c00,#ffa400,#ffbe00,#fff100,#f0ff0f,#dcff23,#bdff42,#9fff60,#88ff77,#74ff8b,#71ff8e,#71ff8e,#78ff87,#87ff78,#95ff6a,#a6ff59,#b9ff46,#d6ff29,#e7ff18,#fffa00,#ffde00,#ffca00,#ffaf00,#ffaa00,#ffbe00,#ffec00,#baff45,#4effb1,#1dffe2,#00f6ff,#00e8ff)"></i><i style="left:634.2px;width:21.4px;background:linear-gradient(#ff9d00,#ffa600,#ffc100,#fff300,#f0ff0f,#deff21,#bfff40,#a2ff5d,#8aff75,#75ff8a,#72ff8d,#71ff8e,#79ff86,#89ff76,#98ff67,#abff54,#bdff42,#d8ff27,#e9ff16,#fffb00,#ffe000,#ffc900,#ffb100,#ffab00,#ffc600,#fff600,#b1ff4e,#48ffb7,#1bffe4,#00f6ff,#00e7ff)"></i><i style="left:654.8px;width:21.4px;background:linear-gradient(#ff9d00,#ffa800,#ffc300,#fff400,#f0ff0f,#dfff20,#c0ff3f,#a5ff5a,#8dff72,#76ff89,#73ff8c,#71ff8e,#7aff85,#8bff74,#9cff63,#afff50,#c0ff3f,#dbff24,#eaff15,#fffc00,#ffe200,#ffc800,#ffb300,#ffad00,#ffce00,#fdff02,#a9ff56,#43ffbc,#18ffe7,#00f5ff,#00e7ff)"></i><i style="left:675.4px;width:21.4px;background:linear-gradient(#ff9e00,#ffaa00,#ffc600,#fff500,#f0ff0f,#e1ff1e,#c2ff3d,#a8ff57,#8fff70,#77ff88,#73ff8c,#71ff8e,#7bff84,#8dff72,#9fff60,#b3ff4c,#c4ff3b,#ddff22,#ebff14,#fffe00,#ffe500,#ffc700,#ffb400,#ffae00,#ffd500,#f2ff0d,#a0ff5f,#3effc1,#16ffe9,#00f4ff,#00e6ff)"></i><i style="left:696.0px;width:21.4px;background:linear-gradient(#ffa100,#ffad00,#ffc800,#fff600,#efff10,#e1ff1e,#c2ff3d,#a8ff57,#8fff70,#77ff88,#73ff8c,#71ff8e,#7cff83,#8eff71,#a0ff5f,#b5ff4a,#c5ff3a,#ddff22,#ecff13,#fffd00,#ffe500,#ffc800,#ffb600,#ffb000,#ffda00,#eeff11,#9dff62,#3bffc4,#14ffeb,#00f3ff,#00e5ff)"></i><i style="left:716.7px;width:21.4px;background:linear-gradient(#ffa600,#ffb000,#ffca00,#fff600,#efff10,#e0ff1f,#c2ff3d,#a7ff58,#8fff70,#77ff88,#73ff8c,#72ff8d,#7dff82,#8fff70,#a1ff5e,#b5ff4a,#c5ff3a,#ddff22,#ecff13,#fffc00,#ffe400,#ffc800,#ffb700,#ffb300,#ffde00,#ebff14,#9cff63,#3affc5,#13ffec,#00f2ff,#00e4ff)"></i><i style="left:737.3px;width:21.4px;background:linear-gradient(#ffaa00,#ffb300,#ffcc00,#fff600,#eeff11,#e0ff1f,#c1ff3e,#a7ff58,#8eff71,#77ff88,#73ff8c,#72ff8d,#7eff81,#8fff70,#a1ff5e,#b5ff4a,#c5ff3a,#ddff22,#ecff13,#fffb00,#ffe300,#ffc900,#ffb800,#ffb600,#ffe200,#e9ff16,#9aff65,#38ffc7,#12ffed,#00f1ff,#00e3ff)"></i><i style="left:757.9px;width:21.4px;background:linear-gradient(#ffae00,#ffb700,#ffce00,#fff600,#eeff11,#dfff20,#c1ff3e,#a6ff59,#8eff71,#77ff88,#73ff8c,#72ff8d,#7eff81,#90ff6f,#a1ff5e,#b5ff4a,#c5ff3a,#ddff22,#ecff13,#fffa00,#ffe100,#ffca00,#ffba00,#ffb900,#ffe700,#e7ff18,#99ff66,#37ffc8,#10ffef,#00f0ff,#00e2ff)"></i><i style="left:778.5px;width:21.4px;background:linear-gradient(#ffb300,#ffba00,#ffd000,#fff600,#edff12,#dfff20,#c0ff3f,#a6ff59,#8dff72,#77ff88,#73ff8c,#73ff8c,#7fff80,#90ff6f,#a1ff5e,#b5ff4a,#c5ff3a,#ddff22,#ecff13,#fff900,#ffe000,#ffcb00,#ffbb00,#ffbb00,#ffeb00,#e4ff1b,#98ff67,#36ffc9,#0ffff0,#00efff,#00e2ff)"></i><i style="left:799.1px;width:21.4px;background:linear-gradient(#ffb700,#ffbd00,#ffd200,#fff600,#edff12,#deff21,#c0ff3f,#a5ff5a,#8dff72,#77ff88,#73ff8c,#73ff8c,#80ff7f,#91ff6e,#a2ff5d,#b5ff4a,#c5ff3a,#ddff22,#ecff13,#fff800,#ffdf00,#ffcc00,#ffbc00,#ffbe00,#ffef00,#e2ff1d,#96ff69,#34ffcb,#0efff1,#00eeff,#00e1ff)"></i><i style="left:819.7px;width:21.4px;background:linear-gradient(#ffbb00,#ffc000,#ffd400,#fff600,#ecff13,#deff21,#bfff40,#a5ff5a,#8cff73,#77ff88,#73ff8c,#73ff8c,#81ff7e,#91ff6e,#a2ff5d,#b5ff4a,#c5ff3a,#ddff22,#ecff13,#fff700,#ffde00,#ffcc00,#ffbe00,#ffc100,#fff300,#dfff20,#95ff6a,#33ffcc,#0cfff3,#00ecff,#00e0ff)"></i><i style="left:840.4px;width:21.4px;background:linear-gradient(#ffbe00,#ffc200,#ffd400,#fff500,#ecff13,#deff21,#bfff40,#a4ff5b,#8cff73,#77ff88,#73ff8c,#73ff8c,#82ff7d,#92ff6d,#a2ff5d,#b4ff4b,#c5ff3a,#ddff22,#ebff14,#fff600,#ffde00,#ffcd00,#ffbf00,#ffc500,#fff900,#d8ff27,#8fff70,#2fffd0,#0afff5,#00ebff,#00dfff)"></i><i style="left:861.0px;width:21.4px;background:linear-gradient(#ffb900,#ffbe00,#ffd100,#fff400,#efff10,#dfff20,#c0ff3f,#a5ff5a,#8cff73,#77ff88,#73ff8c,#73ff8c,#82ff7d,#90ff6f,#a0ff5f,#b3ff4c,#c4ff3b,#dcff23,#ebff14,#fff800,#ffe000,#ffcf00,#ffc000,#ffce00,#faff05,#c2ff3d,#79ff86,#24ffdb,#03fffc,#00e8ff,#00dfff)"></i><i style="left:881.6px;width:21.4px;background:linear-gradient(#ffb500,#ffba00,#ffce00,#fff300,#f1ff0e,#e0ff1f,#c1ff3e,#a5ff5a,#8cff73,#77ff88,#73ff8c,#73ff8c,#82ff7d,#8fff70,#9fff60,#b1ff4e,#c3ff3c,#dbff24,#eaff15,#fffa00,#ffe200,#ffd000,#ffc100,#ffd600,#efff10,#adff52,#64ff9b,#1affe5,#00fbff,#00e5ff,#00deff)"></i><i style="left:902.2px;width:21.4px;background:linear-gradient(#ffb100,#ffb600,#ffcb00,#fff100,#f4ff0b,#e1ff1e,#c2ff3d,#a6ff59,#8cff73,#77ff88,#73ff8c,#72ff8d,#82ff7d,#8eff71,#9eff61,#b0ff4f,#c2ff3d,#daff25,#e9ff16,#fffc00,#ffe400,#ffd100,#ffc200,#ffdf00,#e4ff1b,#98ff67,#4fffb0,#0ffff0,#00f4ff,#00e3ff,#00deff)"></i><i style="left:922.8px;width:21.4px;background:linear-gradient(#ffac00,#ffb300,#ffc700,#fff000,#f6ff09,#e2ff1d,#c3ff3c,#a7ff58,#8cff73,#77ff88,#73ff8c,#72ff8d,#82ff7d,#8dff72,#9cff63,#afff50,#c1ff3e,#d9ff26,#e8ff17,#fffe00,#ffe500,#ffd300,#ffc300,#ffe800,#d9ff26,#82ff7d,#3affc5,#04fffb,#00edff,#00e0ff,#00ddff)"></i><i style="left:943.4px;width:21.4px;background:linear-gradient(#ffa800,#ffaf00,#ffc400,#ffef00,#f8ff07,#e3ff1c,#c4ff3b,#a7ff58,#8cff73,#77ff88,#73ff8c,#72ff8d,#82ff7d,#8cff73,#9bff64,#adff52,#c1ff3e,#d8ff27,#e7ff18,#feff01,#ffe700,#ffd400,#ffc400,#fff100,#ceff31,#6dff92,#25ffda,#00f8ff,#00e7ff,#00ddff,#00ddff)"></i><i style="left:964.1px;width:21.4px;background:linear-gradient(#ffa400,#ffab00,#ffc100,#ffed00,#fbff04,#e4ff1b,#c6ff39,#a8ff57,#8cff73,#77ff88,#73ff8c,#72ff8d,#82ff7d,#8bff74,#9aff65,#acff53,#c0ff3f,#d7ff28,#e7ff18,#fcff03,#ffe900,#ffd600,#ffc600,#fff900,#c2ff3d,#57ffa8,#0ffff0,#00edff,#00e0ff,#00dbff,#00dcff)"></i><i style="left:984.7px;width:21.4px;background:linear-gradient(#ff9f00,#ffa700,#ffbe00,#ffec00,#fdff02,#e5ff1a,#c7ff38,#a8ff57,#8cff73,#77ff88,#73ff8c,#71ff8e,#82ff7d,#8aff75,#98ff67,#abff54,#bfff40,#d5ff2a,#e6ff19,#faff05,#ffeb00,#ffd700,#ffc700,#fcff03,#b7ff48,#42ffbd,#00f9ff,#00e2ff,#00d9ff,#00d8ff,#00dbff)"></i><i style="left:1005.3px;width:21.4px;background:linear-gradient(#ffa100,#ffaa00,#ffc000,#ffeb00,#fffd00,#e8ff17,#c7ff38,#a9ff56,#8cff73,#78ff87,#73ff8c,#71ff8e,#81ff7e,#89ff76,#98ff67,#aaff55,#bfff40,#d6ff29,#e6ff19,#faff05,#ffec00,#ffd900,#ffca00,#fbff04,#b4ff4b,#3affc5,#00f3ff,#00dfff,#00d6ff,#00d7ff,#00dbff)"></i><i style="left:1025.9px;width:21.4px;background:linear-gradient(#ffa400,#ffae00,#ffc400,#ffe900,#fffa00,#ebff14,#c8ff37,#aaff55,#8dff72,#78ff87,#74ff8b,#71ff8e,#7fff80,#89ff76,#98ff67,#aaff55,#bfff40,#d6ff29,#e7ff18,#faff05,#ffed00,#ffdb00,#ffcd00,#fdff02,#b2ff4d,#37ffc8,#00f2ff,#00ddff,#00d5ff,#00d6ff,#00daff)"></i><i style="left:1046.5px;width:21.4px;background:linear-gradient(#ffa800,#ffb200,#ffc800,#ffe800,#fff600,#eeff11,#c8ff37,#abff54,#8eff71,#79ff86,#74ff8b,#71ff8e,#7eff81,#88ff77,#98ff67,#aaff55,#bfff40,#d7ff28,#e8ff17,#faff05,#ffed00,#ffdc00,#ffd100,#ffff00,#b1ff4e,#35ffca,#00f1ff,#00dcff,#00d3ff,#00d5ff,#00daff)"></i><i style="left:1067.1px;width:21.4px;background:linear-gradient(#ffab00,#ffb700,#ffcc00,#ffe700,#fff300,#f2ff0d,#c9ff36,#abff54,#8fff70,#79ff86,#74ff8b,#71ff8e,#7cff83,#88ff77,#98ff67,#aaff55,#bfff40,#d7ff28,#e9ff16,#faff05,#ffee00,#ffde00,#ffd400,#fffd00,#afff50,#32ffcd,#00f0ff,#00dbff,#00d2ff,#00d4ff,#00d9ff)"></i><i style="left:1087.8px;width:21.4px;background:linear-gradient(#ffaf00,#ffbb00,#ffd000,#ffe500,#ffef00,#f5ff0a,#c9ff36,#acff53,#90ff6f,#7aff85,#75ff8a,#71ff8e,#7bff84,#87ff78,#98ff67,#aaff55,#bfff40,#d8ff27,#e9ff16,#faff05,#ffee00,#ffe000,#ffd800,#fffb00,#aeff51,#2fffd0,#00efff,#00daff,#00d1ff,#00d3ff,#00d9ff)"></i><i style="left:1108.4px;width:21.4px;background:linear-gradient(#ffb200,#ffbf00,#ffd400,#ffe400,#ffec00,#f8ff07,#caff35,#adff52,#90ff6f,#7aff85,#75ff8a,#71ff8e,#7aff85,#87ff78,#98ff67,#aaff55,#bfff40,#d8ff27,#eaff15,#faff05,#ffef00,#ffe200,#ffdb00,#fff900,#adff52,#2dffd2,#00eeff,#00d9ff,#00cfff,#00d3ff,#00d8ff)"></i><i style="left:1129.0px;width:21.4px;background:linear-gradient(#ffb600,#ffc400,#ffd800,#ffe200,#ffe800,#fcff03,#cbff34,#aeff51,#91ff6e,#7bff84,#75ff8a,#71ff8e,#78ff87,#86ff79,#98ff67,#aaff55,#bfff40,#d9ff26,#ebff14,#faff05,#ffef00,#ffe400,#ffdf00,#fff700,#abff54,#2affd5,#00ecff,#00d8ff,#00ceff,#00d2ff,#00d8ff)"></i><i style="left:1149.6px;width:21.4px;background:linear-gradient(#ffba00,#ffc900,#ffdd00,#ffe300,#ffe700,#fdff02,#cbff34,#aeff51,#92ff6d,#7bff84,#75ff8a,#71ff8e,#77ff88,#86ff79,#98ff67,#abff54,#bfff40,#d9ff26,#ecff13,#faff05,#ffef00,#ffe500,#ffe100,#fff500,#abff54,#28ffd7,#00ecff,#00d7ff,#00cdff,#00d1ff,#00d7ff)"></i><i style="left:1170.2px;width:21.4px;background:linear-gradient(#ffc200,#ffd100,#ffe500,#ffe900,#ffed00,#f9ff06,#caff35,#adff52,#91ff6e,#7bff84,#76ff89,#72ff8d,#77ff88,#86ff79,#98ff67,#abff54,#bfff40,#daff25,#ecff13,#fcff03,#ffee00,#ffe300,#ffdd00,#fff100,#afff50,#2bffd4,#00edff,#00d7ff,#00cdff,#00d0ff,#00d6ff)"></i><i style="left:1190.8px;width:21.4px;background:linear-gradient(#ffc900,#ffd900,#ffec00,#ffef00,#fff300,#f4ff0b,#c9ff36,#abff54,#90ff6f,#7bff84,#76ff89,#72ff8d,#77ff88,#86ff79,#99ff66,#acff53,#c0ff3f,#daff25,#edff12,#fdff02,#ffed00,#ffe100,#ffd900,#ffed00,#b3ff4c,#2effd1,#00eeff,#00d7ff,#00cdff,#00d0ff,#00d5ff)"></i><i style="left:1211.4px;width:21.4px;background:linear-gradient(#ffd000,#ffe100,#fff400,#fff500,#fff900,#f0ff0f,#c7ff38,#aaff55,#8fff70,#7bff84,#76ff89,#73ff8c,#77ff88,#86ff79,#99ff66,#adff52,#c1ff3e,#daff25,#edff12,#feff01,#ffeb00,#ffdf00,#ffd600,#ffe900,#b7ff48,#31ffce,#00efff,#00d7ff,#00cdff,#00cfff,#00d5ff)"></i><i style="left:1232.1px;width:21.4px;background:linear-gradient(#ffd800,#ffea00,#fffc00,#fffb00,#ffff00,#ebff14,#c6ff39,#a9ff56,#8eff71,#7bff84,#76ff89,#74ff8b,#77ff88,#86ff79,#99ff66,#aeff51,#c1ff3e,#daff25,#eeff11,#fffe00,#ffea00,#ffdd00,#ffd200,#ffe400,#bbff44,#33ffcc,#00f0ff,#00d7ff,#00cdff,#00cfff,#00d4ff)"></i><i style="left:1252.7px;width:21.4px;background:linear-gradient(#ffdf00,#fff200,#fbff04,#fdff02,#f9ff06,#e7ff18,#c5ff3a,#a7ff58,#8eff71,#7bff84,#77ff88,#74ff8b,#77ff88,#86ff79,#99ff66,#afff50,#c2ff3d,#dbff24,#eeff11,#fffd00,#ffe900,#ffdc00,#ffcf00,#ffe000,#beff41,#36ffc9,#00f1ff,#00d7ff,#00cdff,#00ceff,#00d3ff)"></i><i style="left:1273.3px;width:21.4px;background:linear-gradient(#ffe700,#fffa00,#f3ff0c,#f7ff08,#f3ff0c,#e3ff1c,#c4ff3b,#a6ff59,#8dff72,#7bff84,#77ff88,#75ff8a,#77ff88,#86ff79,#9aff65,#afff50,#c2ff3d,#dbff24,#efff10,#fffc00,#ffe700,#ffda00,#ffcb00,#ffdc00,#c2ff3d,#39ffc6,#00f2ff,#00d7ff,#00cdff,#00ceff,#00d2ff)"></i><i style="left:1293.9px;width:21.4px;background:linear-gradient(#ffee00,#fcff03,#ebff14,#f1ff0e,#edff12,#deff21,#c3ff3c,#a5ff5a,#8cff73,#7bff84,#77ff88,#75ff8a,#77ff88,#86ff79,#9aff65,#b0ff4f,#c3ff3c,#dbff24,#f0ff0f,#fffa00,#ffe600,#ffd800,#ffc800,#ffd800,#c6ff39,#3bffc4,#00f4ff,#00d7ff,#00cdff,#00cdff,#00d1ff)"></i><i style="left:1314.5px;width:21.4px;background:linear-gradient(#ffe900,#fffa00,#f6ff09,#f8ff07,#edff12,#deff21,#c2ff3d,#a3ff5c,#8aff75,#7aff85,#76ff89,#74ff8b,#77ff88,#85ff7a,#99ff66,#b0ff4f,#c3ff3c,#dbff24,#f0ff0f,#fffa00,#ffe500,#ffd600,#ffc600,#ffd600,#cbff34,#40ffbf,#00f6ff,#00d8ff,#00cdff,#00cdff,#00d2ff)"></i><i style="left:1335.1px;width:21.4px;background:linear-gradient(#ffdf00,#ffec00,#fff600,#fffc00,#f0ff0f,#deff21,#c1ff3e,#a1ff5e,#88ff77,#79ff86,#75ff8a,#73ff8c,#75ff8a,#83ff7c,#98ff67,#afff50,#c2ff3d,#dbff24,#f0ff0f,#fff900,#ffe400,#ffd300,#ffc600,#ffd300,#d0ff2f,#46ffb9,#00f9ff,#00d9ff,#00ceff,#00ceff,#00d3ff)"></i><i style="left:1355.8px;width:21.4px;background:linear-gradient(#ffd600,#ffdf00,#ffe500,#fff100,#f2ff0d,#dfff20,#c0ff3f,#9fff60,#86ff79,#77ff88,#74ff8b,#72ff8d,#74ff8b,#82ff7d,#97ff68,#aeff51,#c2ff3d,#dbff24,#f0ff0f,#fff900,#ffe300,#ffd100,#ffc500,#ffd100,#d6ff29,#4bffb4,#00fcff,#00daff,#00cfff,#00cfff,#00d3ff)"></i><i style="left:1376.4px;width:21.4px;background:linear-gradient(#ffcc00,#ffd100,#ffd400,#ffe700,#f5ff0a,#dfff20,#bfff40,#9dff62,#84ff7b,#75ff8a,#72ff8d,#71ff8e,#73ff8c,#81ff7e,#96ff69,#adff52,#c2ff3d,#dbff24,#f0ff0f,#fff900,#ffe200,#ffcf00,#ffc500,#ffcf00,#dbff24,#51ffae,#00ffff,#00dbff,#00cfff,#00cfff,#00d4ff)"></i><i style="left:1397.0px;width:21.4px;background:linear-gradient(#ffc200,#ffc300,#ffc300,#ffdc00,#f7ff08,#e0ff1f,#beff41,#9bff64,#81ff7e,#74ff8b,#71ff8e,#70ff8f,#72ff8d,#7fff80,#95ff6a,#adff52,#c2ff3d,#dbff24,#f0ff0f,#fff900,#ffe200,#ffcd00,#ffc400,#ffcd00,#e1ff1e,#56ffa9,#03fffc,#00dcff,#00d0ff,#00d0ff,#00d5ff)"></i><i style="left:1417.6px;width:21.4px;background:linear-gradient(#ffb900,#ffb600,#ffb200,#ffd100,#faff05,#e0ff1f,#bdff42,#99ff66,#7fff80,#72ff8d,#70ff8f,#6fff90,#71ff8e,#7eff81,#94ff6b,#acff53,#c1ff3e,#dbff24,#f0ff0f,#fff800,#ffe100,#ffcb00,#ffc400,#ffcb00,#e6ff19,#5bffa4,#06fff9,#00ddff,#00d0ff,#00d0ff,#00d6ff)"></i><i style="left:1438.2px;width:21.4px;background:linear-gradient(#ffaf00,#ffa800,#ffa100,#ffc700,#fcff03,#e1ff1e,#bbff44,#97ff68,#7dff82,#70ff8f,#6eff91,#6eff91,#70ff8f,#7cff83,#93ff6c,#abff54,#c1ff3e,#dbff24,#f0ff0f,#fff800,#ffe000,#ffc900,#ffc300,#ffc900,#ecff13,#61ff9e,#09fff6,#00dfff,#00d1ff,#00d1ff,#00d7ff)"></i><i style="left:1458.8px;width:21.4px;background:linear-gradient(#ffa600,#ff9c00,#ff9300,#ffbe00,#feff01,#e1ff1e,#baff45,#96ff69,#7bff84,#6fff90,#6dff92,#6dff92,#6fff90,#7bff84,#92ff6d,#aaff55,#c1ff3e,#dbff24,#f0ff0f,#fff800,#ffdf00,#ffc700,#ffc200,#ffc600,#f1ff0e,#67ff98,#0dfff2,#00e0ff,#00d2ff,#00d1ff,#00d7ff)"></i><i style="left:1479.5px;width:21.4px;background:linear-gradient(#ff9b00,#ff9300,#ff8d00,#ffba00,#fffe00,#e1ff1e,#baff45,#96ff69,#7bff84,#6fff90,#6cff93,#6cff93,#6dff92,#7aff85,#91ff6e,#a9ff56,#c1ff3e,#dbff24,#f0ff0f,#fff600,#ffdd00,#ffc700,#ffc100,#ffc500,#f7ff08,#71ff8e,#13ffec,#00e4ff,#00d3ff,#00d3ff,#00d8ff)"></i><i style="left:1500.1px;width:21.4px;background:linear-gradient(#ff9000,#ff8a00,#ff8800,#ffb700,#fffd00,#e1ff1e,#b9ff46,#95ff6a,#7bff84,#6fff90,#6cff93,#6bff94,#6cff93,#7aff85,#90ff6f,#a9ff56,#c1ff3e,#dbff24,#f0ff0f,#fff500,#ffdb00,#ffc700,#ffc000,#ffc300,#fdff02,#7aff85,#1affe5,#00e7ff,#00d5ff,#00d4ff,#00d8ff)"></i><i style="left:1520.7px;width:21.4px;background:linear-gradient(#ff8500,#ff8100,#ff8200,#ffb300,#fffc00,#e1ff1e,#b8ff47,#95ff6a,#7bff84,#6fff90,#6bff94,#6aff95,#6bff94,#79ff86,#8fff70,#a8ff57,#c1ff3e,#dbff24,#f0ff0f,#fff400,#ffd900,#ffc700,#ffbe00,#ffc100,#fffb00,#83ff7c,#20ffdf,#00ebff,#00d7ff,#00d6ff,#00d9ff)"></i><i style="left:1541.3px;width:21.4px;background:linear-gradient(#ff7a00,#ff7800,#ff7d00,#ffb000,#fffa00,#e1ff1e,#b7ff48,#95ff6a,#7bff84,#6fff90,#6bff94,#6aff95,#69ff96,#78ff87,#8eff71,#a7ff58,#c1ff3e,#dbff24,#f0ff0f,#fff300,#ffd700,#ffc700,#ffbd00,#ffbf00,#fff500,#8cff73,#27ffd8,#00eeff,#00d9ff,#00d7ff,#00daff)"></i><i style="left:1561.9px;width:21.4px;background:linear-gradient(#ff6f00,#ff6f00,#ff7700,#ffac00,#fff900,#e1ff1e,#b6ff49,#95ff6a,#7bff84,#6fff90,#6aff95,#69ff96,#68ff97,#77ff88,#8eff71,#a6ff59,#c1ff3e,#dbff24,#f0ff0f,#fff200,#ffd500,#ffc700,#ffbc00,#ffbd00,#ffef00,#96ff69,#2dffd2,#00f2ff,#00dbff,#00d8ff,#00daff)"></i><i style="left:1582.5px;width:21.4px;background:linear-gradient(#ff6400,#ff6600,#ff7200,#ffa900,#fff800,#e1ff1e,#b6ff49,#94ff6b,#7bff84,#6fff90,#6aff95,#68ff97,#67ff98,#76ff89,#8dff72,#a5ff5a,#c1ff3e,#dbff24,#f0ff0f,#fff100,#ffd300,#ffc700,#ffba00,#ffbb00,#ffe900,#9fff60,#34ffcb,#00f5ff,#00ddff,#00daff,#00dbff)"></i><i style="left:1603.2px;width:21.4px;background:linear-gradient(#ff5900,#ff5d00,#ff6c00,#ffa500,#fff600,#e1ff1e,#b5ff4a,#94ff6b,#7bff84,#6fff90,#69ff96,#67ff98,#65ff9a,#76ff89,#8cff73,#a4ff5b,#c1ff3e,#dbff24,#f0ff0f,#fff000,#ffd200,#ffc700,#ffb900,#ffb900,#ffe300,#a8ff57,#3bffc4,#00f9ff,#00dfff,#00dbff,#00dbff)"></i><i style="left:1623.8px;width:21.4px;background:linear-gradient(#ff5800,#ff5d00,#ff6f00,#ffaa00,#fff800,#e0ff1f,#b4ff4b,#94ff6b,#7bff84,#6fff90,#69ff96,#67ff98,#66ff99,#76ff89,#8cff73,#a4ff5b,#c0ff3f,#dbff24,#efff10,#fff000,#ffd200,#ffc700,#ffb800,#ffb800,#ffdf00,#b1ff4e,#44ffbb,#00ffff,#00e4ff,#00deff,#00dcff)"></i><i style="left:1644.4px;width:21.4px;background:linear-gradient(#ff5900,#ff5f00,#ff7300,#ffb300,#fffc00,#dfff20,#b4ff4b,#93ff6c,#7bff84,#6fff90,#6aff95,#68ff97,#67ff98,#76ff89,#8cff73,#a4ff5b,#c0ff3f,#daff25,#efff10,#fff100,#ffd300,#ffc700,#ffb800,#ffb600,#ffdb00,#bbff44,#4fffb0,#08fff7,#00e9ff,#00e1ff,#00deff)"></i><i style="left:1665.0px;width:21.4px;background:linear-gradient(#ff5a00,#ff6200,#ff7800,#ffbb00,#ffff00,#ddff22,#b3ff4c,#93ff6c,#7bff84,#6fff90,#6bff94,#69ff96,#69ff96,#76ff89,#8cff73,#a4ff5b,#bfff40,#daff25,#eeff11,#fff100,#ffd400,#ffc700,#ffb700,#ffb500,#ffd800,#c4ff3b,#59ffa6,#0ffff0,#00efff,#00e4ff,#00dfff)"></i><i style="left:1685.6px;width:21.4px;background:linear-gradient(#ff5b00,#ff6400,#ff7c00,#ffc300,#fcff03,#dbff24,#b3ff4c,#93ff6c,#7bff84,#6fff90,#6bff94,#69ff96,#6aff95,#76ff89,#8cff73,#a4ff5b,#bfff40,#d9ff26,#eeff11,#fff200,#ffd500,#ffc700,#ffb700,#ffb400,#ffd400,#cdff32,#64ff9b,#16ffe9,#00f5ff,#00e8ff,#00e0ff)"></i><i style="left:1706.2px;width:21.4px;background:linear-gradient(#ff5c00,#ff6600,#ff8100,#ffcb00,#f9ff06,#daff25,#b2ff4d,#93ff6c,#7bff84,#6fff90,#6cff93,#6aff95,#6bff94,#77ff88,#8cff73,#a4ff5b,#beff41,#d9ff26,#edff12,#fff200,#ffd600,#ffc700,#ffb600,#ffb200,#ffd100,#d6ff29,#6fff90,#1effe1,#00fbff,#00ebff,#00e2ff)"></i><i style="left:1726.8px;width:21.4px;background:linear-gradient(#ff5d00,#ff6900,#ff8600,#ffd300,#f5ff0a,#d8ff27,#b1ff4e,#92ff6d,#7bff84,#6fff90,#6cff93,#6aff95,#6dff92,#77ff88,#8cff73,#a4ff5b,#beff41,#d8ff27,#edff12,#fff300,#ffd700,#ffc700,#ffb500,#ffb100,#ffcd00,#e0ff1f,#79ff86,#25ffda,#01fffe,#00eeff,#00e3ff)"></i><i style="left:1747.5px;width:21.4px;background:linear-gradient(#ff5e00,#ff6b00,#ff8a00,#ffdb00,#f2ff0d,#d6ff29,#b1ff4e,#92ff6d,#7bff84,#6fff90,#6dff92,#6bff94,#6eff91,#77ff88,#8cff73,#a4ff5b,#bdff42,#d8ff27,#ecff13,#fff300,#ffd800,#ffc700,#ffb500,#ffaf00,#ffca00,#e9ff16,#84ff7b,#2cffd3,#07fff8,#00f1ff,#00e4ff)"></i><i style="left:1768.1px;width:21.4px;background:linear-gradient(#ff6000,#ff6e00,#ff8e00,#ffe200,#f0ff0f,#d5ff2a,#b1ff4e,#93ff6c,#7cff83,#6fff90,#6dff92,#6bff94,#6fff90,#77ff88,#8cff73,#a4ff5b,#bdff42,#d7ff28,#ecff13,#fff300,#ffd900,#ffc700,#ffb500,#ffae00,#ffc600,#f0ff0f,#8eff71,#33ffcc,#0cfff3,#00f5ff,#00e6ff)"></i><i style="left:1788.7px;width:21.4px;background:linear-gradient(#ff6400,#ff7100,#ff9000,#ffe300,#f0ff0f,#d7ff28,#b4ff4b,#96ff69,#80ff80,#71ff8e,#6dff92,#6aff95,#6fff90,#77ff88,#8bff74,#a3ff5c,#bdff42,#d8ff27,#ecff13,#fff200,#ffd800,#ffc700,#ffb500,#ffad00,#ffc400,#f1ff0e,#96ff69,#39ffc6,#10ffef,#00f8ff,#00e7ff)"></i><i style="left:1809.3px;width:21.4px;background:linear-gradient(#ff6700,#ff7400,#ff9300,#ffe400,#f0ff0f,#d8ff27,#b7ff48,#9aff65,#83ff7c,#72ff8d,#6dff92,#6aff95,#6fff90,#77ff88,#8aff75,#a2ff5d,#bdff42,#d8ff27,#edff12,#fff100,#ffd700,#ffc700,#ffb600,#ffad00,#ffc100,#f3ff0c,#9dff62,#3effc1,#14ffeb,#00fbff,#00e7ff)"></i><i style="left:1829.9px;width:21.4px;background:linear-gradient(#ff6b00,#ff7800,#ff9500,#ffe600,#f0ff0f,#d9ff26,#baff45,#9dff62,#86ff79,#73ff8c,#6cff93,#69ff96,#6fff90,#76ff89,#89ff76,#a2ff5d,#bdff42,#d8ff27,#edff12,#ffef00,#ffd600,#ffc700,#ffb600,#ffac00,#ffbf00,#f4ff0b,#a5ff5a,#44ffbb,#18ffe7,#00feff,#00e8ff)"></i></div><div class="fld" style="left:81.8px;top:3026.9px;width:1845.4px;height:767.0px"><i style="left:0.0px;width:21.3px;background:linear-gradient(#ff8f00,#ff9f00,#ffba00,#fff700,#ecff13,#d3ff2c,#bdff42,#a7ff58,#97ff68,#89ff76,#7fff80,#77ff88,#7aff85,#82ff7d,#92ff6d,#a3ff5c,#bbff44,#daff25,#f0ff0f,#ffec00,#ffd800,#ffd300,#ffb700,#ffa800,#ffba00,#ffec00,#b9ff46,#5fffa0,#27ffd8,#04fffb,#00eeff)"></i><i style="left:20.5px;width:21.3px;background:linear-gradient(#ff9100,#ffa000,#ffba00,#fff600,#ecff13,#d4ff2b,#bfff40,#aaff55,#98ff67,#8aff75,#7fff80,#77ff88,#7aff85,#82ff7d,#91ff6e,#a2ff5d,#baff45,#daff25,#f0ff0f,#ffeb00,#ffd600,#ffd400,#ffb700,#ffa800,#ffb500,#ffe300,#c2ff3d,#6aff95,#2dffd2,#09fff6,#00efff)"></i><i style="left:41.0px;width:21.3px;background:linear-gradient(#ff9200,#ffa100,#ffb900,#fff600,#ecff13,#d5ff2a,#c0ff3f,#acff53,#9aff65,#8bff74,#7fff80,#77ff88,#7bff84,#83ff7c,#90ff6f,#a0ff5f,#baff45,#daff25,#f0ff0f,#ffeb00,#ffd500,#ffd600,#ffb800,#ffa800,#ffaf00,#ffdb00,#caff35,#74ff8b,#34ffcb,#0ffff0,#00f1ff)"></i><i style="left:61.5px;width:21.3px;background:linear-gradient(#ff9400,#ffa200,#ffb900,#fff600,#ecff13,#d5ff2a,#c2ff3d,#aeff51,#9cff63,#8cff73,#7fff80,#77ff88,#7bff84,#83ff7c,#90ff6f,#9fff60,#b9ff46,#d9ff26,#f0ff0f,#ffea00,#ffd300,#ffd700,#ffb800,#ffa800,#ffaa00,#ffd300,#d3ff2c,#7fff80,#3bffc4,#14ffeb,#00f3ff)"></i><i style="left:82.0px;width:21.3px;background:linear-gradient(#ff9900,#ffa600,#ffbc00,#fff700,#ebff14,#d5ff2a,#c3ff3c,#aeff51,#9cff63,#8cff73,#80ff7f,#78ff87,#7cff83,#84ff7b,#91ff6e,#a0ff5f,#baff45,#dbff24,#f1ff0e,#ffea00,#ffd400,#ffd700,#ffb900,#ffa800,#ffa700,#ffd000,#d8ff27,#83ff7c,#3dffc2,#15ffea,#00f4ff)"></i><i style="left:102.5px;width:21.3px;background:linear-gradient(#ff9f00,#ffac00,#ffc100,#fff800,#eaff15,#d5ff2a,#c3ff3c,#aeff51,#9dff62,#8dff72,#81ff7e,#7aff85,#7dff82,#85ff7a,#94ff6b,#a2ff5d,#bcff43,#ddff22,#f3ff0c,#ffea00,#ffd400,#ffd600,#ffb900,#ffa800,#ffa600,#ffcf00,#dbff24,#86ff79,#3fffc0,#15ffea,#00f4ff)"></i><i style="left:123.0px;width:21.3px;background:linear-gradient(#ffa500,#ffb200,#ffc500,#fffa00,#e9ff16,#d5ff2a,#c3ff3c,#aeff51,#9dff62,#8dff72,#82ff7d,#7bff84,#7eff81,#87ff78,#96ff69,#a5ff5a,#bfff40,#deff21,#f5ff0a,#ffea00,#ffd500,#ffd500,#ffb900,#ffa800,#ffa500,#ffcd00,#dfff20,#88ff77,#40ffbf,#15ffea,#00f4ff)"></i><i style="left:143.5px;width:21.3px;background:linear-gradient(#ffab00,#ffb800,#ffca00,#fffb00,#e9ff16,#d5ff2a,#c3ff3c,#aeff51,#9dff62,#8eff71,#84ff7b,#7cff83,#7eff81,#88ff77,#98ff67,#a7ff58,#c1ff3e,#e0ff1f,#f7ff08,#ffeb00,#ffd500,#ffd400,#ffb900,#ffa800,#ffa300,#ffcc00,#e2ff1d,#8bff74,#41ffbe,#15ffea,#00f4ff)"></i><i style="left:164.0px;width:21.3px;background:linear-gradient(#ffb200,#ffbd00,#ffcf00,#fffc00,#e8ff17,#d5ff2a,#c3ff3c,#aeff51,#9dff62,#8eff71,#85ff7a,#7eff81,#7fff80,#89ff76,#9aff65,#aaff55,#c3ff3c,#e2ff1d,#f9ff06,#ffeb00,#ffd600,#ffd300,#ffb900,#ffa800,#ffa200,#ffcb00,#e6ff19,#8dff72,#43ffbc,#15ffea,#00f4ff)"></i><i style="left:184.5px;width:21.3px;background:linear-gradient(#ffb800,#ffc300,#ffd300,#fffe00,#e7ff18,#d5ff2a,#c3ff3c,#aeff51,#9eff61,#8fff70,#86ff79,#7fff80,#80ff7f,#8aff75,#9cff63,#acff53,#c5ff3a,#e4ff1b,#fbff04,#ffeb00,#ffd600,#ffd300,#ffb900,#ffa800,#ffa000,#ffc900,#eaff15,#90ff6f,#44ffbb,#15ffea,#00f4ff)"></i><i style="left:205.0px;width:21.3px;background:linear-gradient(#ffbe00,#ffc900,#ffd800,#ffff00,#e6ff19,#d5ff2a,#c3ff3c,#aeff51,#9eff61,#8fff70,#87ff78,#81ff7e,#81ff7e,#8bff74,#9fff60,#afff50,#c7ff38,#e6ff19,#fdff02,#ffeb00,#ffd700,#ffd200,#ffb900,#ffa800,#ff9f00,#ffc800,#edff12,#92ff6d,#45ffba,#15ffea,#00f4ff)"></i><i style="left:225.5px;width:21.3px;background:linear-gradient(#ffc400,#ffce00,#ffdc00,#feff01,#e5ff1a,#d5ff2a,#c3ff3c,#aeff51,#9eff61,#90ff6f,#88ff77,#82ff7d,#82ff7d,#8cff73,#a0ff5f,#b1ff4e,#c9ff36,#e8ff17,#feff01,#ffec00,#ffd700,#ffd100,#ffb800,#ffa800,#ff9e00,#ffc700,#f1ff0e,#94ff6b,#46ffb9,#15ffea,#00f4ff)"></i><i style="left:246.0px;width:21.3px;background:linear-gradient(#ffc800,#ffd200,#ffe100,#fcff03,#e5ff1a,#d5ff2a,#c2ff3d,#aeff51,#9dff62,#8fff70,#87ff78,#82ff7d,#82ff7d,#8cff73,#a1ff5e,#b1ff4e,#c9ff36,#e8ff17,#feff01,#ffec00,#ffd900,#ffd300,#ffb800,#ffa700,#ff9d00,#ffc600,#f4ff0b,#94ff6b,#46ffb9,#15ffea,#00f2ff)"></i><i style="left:266.6px;width:21.3px;background:linear-gradient(#ffcc00,#ffd600,#ffe500,#faff05,#e4ff1b,#d4ff2b,#c2ff3d,#adff52,#9cff63,#8fff70,#87ff78,#82ff7d,#83ff7c,#8dff72,#a1ff5e,#b2ff4d,#caff35,#e8ff17,#feff01,#ffed00,#ffda00,#ffd400,#ffb700,#ffa500,#ff9d00,#ffc400,#f7ff08,#94ff6b,#46ffb9,#15ffea,#00f1ff)"></i><i style="left:287.1px;width:21.3px;background:linear-gradient(#ffd000,#ffda00,#ffe900,#f8ff07,#e4ff1b,#d3ff2c,#c1ff3e,#adff52,#9bff64,#8eff71,#87ff78,#82ff7d,#83ff7c,#8eff71,#a2ff5d,#b2ff4d,#caff35,#e8ff17,#feff01,#ffed00,#ffdb00,#ffd600,#ffb700,#ffa400,#ff9c00,#ffc300,#faff05,#94ff6b,#46ffb9,#15ffea,#00f0ff)"></i><i style="left:307.6px;width:21.3px;background:linear-gradient(#ffd400,#ffde00,#ffee00,#f6ff09,#e3ff1c,#d3ff2c,#c1ff3e,#acff53,#9bff64,#8eff71,#87ff78,#82ff7d,#84ff7b,#8eff71,#a2ff5d,#b3ff4c,#caff35,#e8ff17,#feff01,#ffee00,#ffdc00,#ffd700,#ffb600,#ffa300,#ff9c00,#ffc200,#feff01,#94ff6b,#46ffb9,#15ffea,#00efff)"></i><i style="left:328.1px;width:21.3px;background:linear-gradient(#ffd800,#ffe200,#fff200,#f4ff0b,#e3ff1c,#d2ff2d,#c0ff3f,#acff53,#9aff65,#8dff72,#86ff79,#82ff7d,#84ff7b,#8fff70,#a3ff5c,#b3ff4c,#caff35,#e8ff17,#feff01,#ffee00,#ffdd00,#ffd800,#ffb600,#ffa100,#ff9b00,#ffc100,#fffd00,#94ff6b,#46ffb9,#15ffea,#00eeff)"></i><i style="left:348.6px;width:21.3px;background:linear-gradient(#ffdc00,#ffe700,#fff600,#f2ff0d,#e2ff1d,#d2ff2d,#bfff40,#abff54,#99ff66,#8cff73,#86ff79,#82ff7d,#85ff7a,#8fff70,#a4ff5b,#b4ff4b,#cbff34,#e8ff17,#feff01,#ffef00,#ffde00,#ffda00,#ffb500,#ffa000,#ff9b00,#ffc000,#fffa00,#94ff6b,#46ffb9,#15ffea,#00edff)"></i><i style="left:369.1px;width:21.3px;background:linear-gradient(#ffe000,#ffeb00,#fffb00,#f0ff0f,#e2ff1d,#d1ff2e,#bfff40,#aaff55,#98ff67,#8cff73,#86ff79,#82ff7d,#85ff7a,#90ff6f,#a4ff5b,#b4ff4b,#cbff34,#e8ff17,#feff01,#fff000,#ffdf00,#ffdb00,#ffb500,#ff9e00,#ff9a00,#ffbf00,#fff700,#94ff6b,#46ffb9,#15ffea,#00ecff)"></i><i style="left:389.6px;width:21.3px;background:linear-gradient(#ffde00,#ffe900,#fff900,#f1ff0e,#e2ff1d,#d1ff2e,#beff41,#a9ff56,#97ff68,#8bff74,#86ff79,#82ff7d,#85ff7a,#8fff70,#a3ff5c,#b4ff4b,#c9ff36,#e5ff1a,#fcff03,#fff000,#ffdf00,#ffda00,#ffb300,#ff9f00,#ff9b00,#ffc000,#fff800,#92ff6d,#44ffbb,#14ffeb,#00ebff)"></i><i style="left:410.1px;width:21.3px;background:linear-gradient(#ffda00,#ffe400,#fff600,#f3ff0c,#e2ff1d,#d1ff2e,#beff41,#a8ff57,#95ff6a,#8aff75,#86ff79,#82ff7d,#85ff7a,#8eff71,#a2ff5d,#b2ff4d,#c7ff38,#e2ff1d,#f8ff07,#fff000,#ffdd00,#ffd900,#ffb200,#ffa000,#ff9c00,#ffc100,#fffc00,#90ff6f,#42ffbd,#13ffec,#00eaff)"></i><i style="left:430.6px;width:21.3px;background:linear-gradient(#ffd600,#ffe000,#fff200,#f5ff0a,#e3ff1c,#d1ff2e,#bdff42,#a7ff58,#93ff6c,#89ff76,#86ff79,#83ff7c,#84ff7b,#8eff71,#a1ff5e,#b1ff4e,#c4ff3b,#dfff20,#f5ff0a,#fff000,#ffdc00,#ffd800,#ffb000,#ffa000,#ff9e00,#ffc200,#ffff00,#8dff72,#3fffc0,#12ffed,#00e9ff)"></i><i style="left:451.1px;width:21.3px;background:linear-gradient(#ffd200,#ffdc00,#ffef00,#f7ff08,#e3ff1c,#d1ff2e,#bdff42,#a5ff5a,#92ff6d,#89ff76,#86ff79,#84ff7b,#84ff7b,#8dff72,#a0ff5f,#afff50,#c2ff3d,#dcff23,#f2ff0d,#fff000,#ffdb00,#ffd600,#ffae00,#ffa100,#ff9f00,#ffc300,#fcff03,#8bff74,#3cffc3,#10ffef,#00e9ff)"></i><i style="left:471.6px;width:21.3px;background:linear-gradient(#ffce00,#ffd800,#ffeb00,#f9ff06,#e4ff1b,#d1ff2e,#bcff43,#a4ff5b,#90ff6f,#88ff77,#86ff79,#84ff7b,#83ff7c,#8cff73,#9fff60,#aeff51,#bfff40,#d9ff26,#eeff11,#fff000,#ffda00,#ffd500,#ffad00,#ffa200,#ffa000,#ffc400,#f9ff06,#88ff77,#39ffc6,#0ffff0,#00e8ff)"></i><i style="left:492.1px;width:21.3px;background:linear-gradient(#ffca00,#ffd400,#ffe800,#fbff04,#e5ff1a,#d1ff2e,#bcff43,#a3ff5c,#8fff70,#87ff78,#86ff79,#85ff7a,#82ff7d,#8bff74,#9eff61,#adff52,#bdff42,#d6ff29,#ebff14,#fff000,#ffd900,#ffd300,#ffab00,#ffa300,#ffa200,#ffc500,#f5ff0a,#86ff79,#37ffc8,#0efff1,#00e7ff)"></i><i style="left:512.6px;width:21.3px;background:linear-gradient(#ffc600,#ffd000,#ffe400,#fdff02,#e5ff1a,#d1ff2e,#bbff44,#a1ff5e,#8dff72,#86ff79,#86ff79,#85ff7a,#82ff7d,#8aff75,#9dff62,#abff54,#baff45,#d3ff2c,#e8ff17,#fff000,#ffd800,#ffd200,#ffaa00,#ffa400,#ffa300,#ffc600,#f2ff0d,#83ff7c,#34ffcb,#0cfff3,#00e6ff)"></i><i style="left:533.1px;width:21.3px;background:linear-gradient(#ffc400,#ffce00,#ffe200,#feff01,#e5ff1a,#d1ff2e,#bbff44,#a0ff5f,#8cff73,#86ff79,#86ff79,#86ff79,#82ff7d,#8aff75,#9dff62,#abff54,#b9ff46,#d1ff2e,#e6ff19,#fff000,#ffd800,#ffd100,#ffa900,#ffa500,#ffa500,#ffc800,#eeff11,#81ff7e,#32ffcd,#0bfff4,#00e5ff)"></i><i style="left:553.6px;width:21.3px;background:linear-gradient(#ffc700,#ffd100,#ffe400,#fcff03,#e5ff1a,#d2ff2d,#bbff44,#a2ff5d,#8eff71,#88ff77,#87ff78,#87ff78,#84ff7b,#8cff73,#9eff61,#acff53,#baff45,#d2ff2d,#e7ff18,#fff300,#ffdb00,#ffd100,#ffab00,#ffa600,#ffa900,#ffcd00,#e9ff16,#7eff81,#30ffcf,#08fff7,#00e4ff)"></i><i style="left:574.1px;width:21.3px;background:linear-gradient(#ffca00,#ffd400,#ffe700,#faff05,#e5ff1a,#d2ff2d,#bcff43,#a3ff5c,#91ff6e,#8aff75,#89ff76,#87ff78,#86ff79,#8fff70,#a0ff5f,#adff52,#bcff43,#d4ff2b,#e7ff18,#fff600,#ffdd00,#ffd100,#ffad00,#ffa700,#ffad00,#ffd200,#e3ff1c,#7cff83,#2fffd0,#06fff9,#00e4ff)"></i><i style="left:594.6px;width:21.3px;background:linear-gradient(#ffcd00,#ffd800,#ffe900,#f8ff07,#e5ff1a,#d3ff2c,#bcff43,#a5ff5a,#93ff6c,#8cff73,#8aff75,#88ff77,#88ff77,#91ff6e,#a2ff5d,#afff50,#bdff42,#d5ff2a,#e8ff17,#fff900,#ffe000,#ffd100,#ffaf00,#ffa900,#ffb100,#ffd700,#deff21,#7aff85,#2effd1,#04fffb,#00e3ff)"></i><i style="left:615.1px;width:21.3px;background:linear-gradient(#ffd100,#ffdb00,#ffec00,#f6ff09,#e5ff1a,#d3ff2c,#bdff42,#a6ff59,#95ff6a,#8eff71,#8bff74,#89ff76,#8aff75,#93ff6c,#a4ff5b,#b0ff4f,#beff41,#d6ff29,#e9ff16,#fffb00,#ffe300,#ffd100,#ffb200,#ffaa00,#ffb600,#ffdc00,#d9ff26,#77ff88,#2cffd3,#02fffd,#00e2ff)"></i><i style="left:635.6px;width:21.3px;background:linear-gradient(#ffd400,#ffde00,#ffee00,#f4ff0b,#e5ff1a,#d4ff2b,#beff41,#a7ff58,#97ff68,#90ff6f,#8dff72,#8aff75,#8cff73,#95ff6a,#a6ff59,#b1ff4e,#c0ff3f,#d7ff28,#eaff15,#fffe00,#ffe500,#ffd100,#ffb400,#ffab00,#ffba00,#ffe100,#d3ff2c,#75ff8a,#2bffd4,#00ffff,#00e1ff)"></i><i style="left:656.1px;width:21.3px;background:linear-gradient(#ffd700,#ffe100,#fff100,#f2ff0d,#e5ff1a,#d5ff2a,#beff41,#a9ff56,#99ff66,#92ff6d,#8eff71,#8bff74,#8dff72,#97ff68,#a8ff57,#b3ff4c,#c1ff3e,#d8ff27,#ebff14,#fdff02,#ffe800,#ffd100,#ffb600,#ffad00,#ffbe00,#ffe500,#ceff31,#72ff8d,#29ffd6,#00fdff,#00e0ff)"></i><i style="left:676.6px;width:21.3px;background:linear-gradient(#ffda00,#ffe500,#fff300,#f0ff0f,#e5ff1a,#d5ff2a,#bfff40,#aaff55,#9cff63,#93ff6c,#8fff70,#8cff73,#8fff70,#99ff66,#aaff55,#b4ff4b,#c2ff3d,#d9ff26,#ebff14,#fbff04,#ffeb00,#ffd100,#ffb800,#ffae00,#ffc200,#ffea00,#c8ff37,#70ff8f,#28ffd7,#00faff,#00e0ff)"></i><i style="left:697.1px;width:21.3px;background:linear-gradient(#ffde00,#ffe800,#fff500,#efff10,#e5ff1a,#d5ff2a,#bfff40,#aaff55,#9cff63,#94ff6b,#90ff6f,#8cff73,#90ff6f,#9bff64,#abff54,#b5ff4a,#c3ff3c,#d9ff26,#ecff13,#fbff04,#ffeb00,#ffd200,#ffba00,#ffb000,#ffc500,#ffee00,#c6ff39,#6dff92,#27ffd8,#00f9ff,#00dfff)"></i><i style="left:717.6px;width:21.3px;background:linear-gradient(#ffe100,#ffea00,#fff800,#efff10,#e5ff1a,#d4ff2b,#bfff40,#aaff55,#9cff63,#94ff6b,#90ff6f,#8cff73,#91ff6e,#9bff64,#abff54,#b6ff49,#c4ff3b,#daff25,#ecff13,#fcff03,#ffea00,#ffd300,#ffbb00,#ffb200,#ffc900,#fff000,#c5ff3a,#6aff95,#25ffda,#00f8ff,#00deff)"></i><i style="left:738.1px;width:21.3px;background:linear-gradient(#ffe400,#ffed00,#fffa00,#eeff11,#e4ff1b,#d4ff2b,#bfff40,#aaff55,#9cff63,#94ff6b,#90ff6f,#8cff73,#91ff6e,#9cff63,#acff53,#b7ff48,#c4ff3b,#daff25,#ecff13,#feff01,#ffe900,#ffd300,#ffbc00,#ffb400,#ffcc00,#fff300,#c4ff3b,#68ff97,#24ffdb,#00f8ff,#00deff)"></i><i style="left:758.6px;width:21.3px;background:linear-gradient(#ffe800,#fff000,#fffc00,#eeff11,#e3ff1c,#d3ff2c,#bfff40,#aaff55,#9cff63,#94ff6b,#90ff6f,#8cff73,#92ff6d,#9dff62,#acff53,#b8ff47,#c5ff3a,#daff25,#ecff13,#ffff00,#ffe800,#ffd400,#ffbe00,#ffb700,#ffcf00,#fff600,#c3ff3c,#65ff9a,#23ffdc,#00f7ff,#00ddff)"></i><i style="left:779.2px;width:21.3px;background:linear-gradient(#ffeb00,#fff200,#fffe00,#edff12,#e3ff1c,#d3ff2c,#bfff40,#aaff55,#9cff63,#94ff6b,#90ff6f,#8cff73,#92ff6d,#9eff61,#adff52,#b8ff47,#c5ff3a,#dbff24,#ecff13,#fffe00,#ffe600,#ffd500,#ffbf00,#ffb900,#ffd200,#fff900,#c2ff3d,#62ff9d,#21ffde,#00f6ff,#00ddff)"></i><i style="left:799.7px;width:21.3px;background:linear-gradient(#ffee00,#fff500,#feff01,#edff12,#e2ff1d,#d2ff2d,#bfff40,#aaff55,#9cff63,#94ff6b,#90ff6f,#8cff73,#93ff6c,#9fff60,#adff52,#b9ff46,#c6ff39,#dbff24,#ecff13,#fffc00,#ffe500,#ffd600,#ffc000,#ffbb00,#ffd600,#fffb00,#c1ff3e,#60ff9f,#20ffdf,#00f5ff,#00dcff)"></i><i style="left:820.2px;width:21.3px;background:linear-gradient(#fff100,#fff800,#fcff03,#ecff13,#e2ff1d,#d2ff2d,#bfff40,#aaff55,#9cff63,#94ff6b,#90ff6f,#8cff73,#93ff6c,#a0ff5f,#aeff51,#baff45,#c6ff39,#dbff24,#ecff13,#fffb00,#ffe400,#ffd700,#ffc200,#ffbd00,#ffd900,#fffe00,#c0ff3f,#5dffa2,#1fffe0,#00f4ff,#00dcff)"></i><i style="left:840.7px;width:21.3px;background:linear-gradient(#fff300,#fff900,#fbff04,#ecff13,#e2ff1d,#d2ff2d,#bfff40,#abff54,#9cff63,#94ff6b,#90ff6f,#8cff73,#94ff6b,#a0ff5f,#aeff51,#bbff44,#c7ff38,#dbff24,#ecff13,#fffa00,#ffe400,#ffd800,#ffc300,#ffc100,#ffde00,#f8ff07,#b9ff46,#57ffa8,#1bffe4,#00f2ff,#00dbff)"></i><i style="left:861.2px;width:21.3px;background:linear-gradient(#fff100,#fff600,#feff01,#efff10,#e3ff1c,#d3ff2c,#c0ff3f,#abff54,#9dff62,#93ff6c,#8fff70,#8cff73,#94ff6b,#9fff60,#aeff51,#bbff44,#c7ff38,#dbff24,#ecff13,#fffb00,#ffe600,#ffd900,#ffc500,#ffc800,#ffeb00,#e1ff1e,#a2ff5e,#46ffb9,#11ffee,#00edff,#00daff)"></i><i style="left:881.7px;width:21.3px;background:linear-gradient(#ffee00,#fff300,#fffd00,#f1ff0e,#e4ff1b,#d5ff2a,#c1ff3e,#acff53,#9dff62,#93ff6c,#8fff70,#8cff73,#94ff6b,#9fff60,#aeff51,#bbff44,#c7ff38,#dbff24,#ecff13,#fffc00,#ffe800,#ffda00,#ffc600,#ffcf00,#fff700,#caff35,#8aff75,#36ffc9,#07fff8,#00e8ff,#00d8ff)"></i><i style="left:902.2px;width:21.3px;background:linear-gradient(#ffec00,#fff000,#fff900,#f4ff0b,#e6ff19,#d6ff29,#c2ff3d,#adff52,#9eff61,#92ff6d,#8fff70,#8cff73,#94ff6b,#9eff61,#aeff51,#bbff44,#c7ff38,#dbff24,#ecff13,#fffd00,#ffeb00,#ffdc00,#ffc700,#ffd700,#fbff04,#b3ff4c,#73ff8c,#26ffd9,#00fcff,#00e3ff,#00d7ff)"></i><i style="left:922.7px;width:21.3px;background:linear-gradient(#ffe900,#ffed00,#fff600,#f6ff09,#e7ff18,#d8ff27,#c3ff3c,#aeff51,#9eff61,#92ff6d,#8fff70,#8cff73,#94ff6b,#9eff61,#adff52,#bbff44,#c7ff38,#dbff24,#ecff13,#ffff00,#ffed00,#ffdd00,#ffc900,#ffde00,#efff10,#9cff63,#5bffa4,#15ffea,#00f2ff,#00deff,#00d6ff)"></i><i style="left:943.2px;width:21.3px;background:linear-gradient(#ffe700,#ffea00,#fff300,#f8ff07,#e9ff16,#daff25,#c4ff3b,#afff50,#9fff60,#91ff6e,#8eff71,#8cff73,#94ff6b,#9dff62,#adff52,#bbff44,#c7ff38,#dbff24,#ecff13,#feff01,#ffef00,#ffde00,#ffca00,#ffe500,#e2ff1d,#85ff7a,#44ffbb,#05fffa,#00e8ff,#00d9ff,#00d4ff)"></i><i style="left:963.7px;width:21.3px;background:linear-gradient(#ffe400,#ffe700,#fff000,#fbff04,#eaff15,#dbff24,#c6ff39,#afff50,#9fff60,#90ff6f,#8eff71,#8cff73,#94ff6b,#9dff62,#adff52,#bbff44,#c7ff38,#dbff24,#ecff13,#fdff02,#fff100,#ffe000,#ffcb00,#ffed00,#d6ff29,#6dff92,#2dffd2,#00f4ff,#00deff,#00d3ff,#00d3ff)"></i><i style="left:984.2px;width:21.3px;background:linear-gradient(#ffe200,#ffe400,#ffec00,#fdff02,#ebff14,#ddff22,#c7ff38,#b0ff4f,#a0ff5f,#90ff6f,#8eff71,#8cff73,#94ff6b,#9cff63,#acff53,#bbff44,#c7ff38,#dbff24,#ecff13,#fcff03,#fff300,#ffe100,#ffcd00,#fff400,#caff35,#56ffa9,#15ffea,#00e3ff,#00d4ff,#00ceff,#00d1ff)"></i><i style="left:1004.7px;width:21.3px;background:linear-gradient(#ffe500,#ffe800,#ffef00,#fcff03,#ebff14,#ddff22,#c6ff39,#b1ff4e,#a0ff5f,#90ff6f,#8dff72,#8bff74,#93ff6c,#9bff64,#acff53,#baff45,#c7ff38,#dcff23,#ecff13,#fcff03,#fff400,#ffe200,#ffce00,#fff600,#c5ff3a,#4effb1,#0dfff2,#00dfff,#00d0ff,#00ccff,#00d1ff)"></i><i style="left:1025.2px;width:21.3px;background:linear-gradient(#ffeb00,#ffed00,#fff400,#faff05,#eaff15,#dbff24,#c6ff39,#b1ff4e,#a1ff5e,#90ff6f,#8cff73,#89ff76,#92ff6d,#9aff65,#aaff55,#b9ff46,#c7ff38,#dcff23,#edff12,#fcff03,#fff400,#ffe200,#ffcf00,#fff600,#c3ff3c,#49ffb6,#09fff6,#00ddff,#00cfff,#00ccff,#00d0ff)"></i><i style="left:1045.7px;width:21.3px;background:linear-gradient(#fff000,#fff200,#fff900,#f7ff08,#e9ff16,#daff25,#c5ff3a,#b1ff4e,#a1ff5e,#90ff6f,#8cff73,#88ff77,#91ff6e,#99ff66,#a9ff56,#b8ff47,#c7ff38,#dcff23,#edff12,#fcff03,#fff500,#ffe300,#ffd100,#fff600,#c0ff3f,#45ffba,#06fff9,#00dcff,#00cdff,#00cbff,#00d0ff)"></i><i style="left:1066.2px;width:21.3px;background:linear-gradient(#fff600,#fff800,#fffe00,#f5ff0a,#e9ff16,#d9ff26,#c5ff3a,#b1ff4e,#a1ff5e,#90ff6f,#8bff74,#87ff78,#90ff6f,#98ff67,#a8ff57,#b8ff47,#c7ff38,#dcff23,#eeff11,#fcff03,#fff500,#ffe300,#ffd200,#fff600,#beff41,#41ffbe,#02fffd,#00dbff,#00ccff,#00caff,#00cfff)"></i><i style="left:1086.7px;width:21.3px;background:linear-gradient(#fffb00,#fffd00,#fbff04,#f2ff0d,#e8ff17,#d8ff27,#c4ff3b,#b2ff4d,#a1ff5e,#90ff6f,#8aff75,#85ff7a,#8fff70,#97ff68,#a7ff58,#b7ff48,#c7ff38,#ddff22,#eeff11,#fcff03,#fff500,#ffe400,#ffd300,#fff600,#bbff44,#3dffc2,#00feff,#00daff,#00cbff,#00c9ff,#00cfff)"></i><i style="left:1107.2px;width:21.3px;background:linear-gradient(#fdff02,#fbff04,#f6ff09,#f0ff0f,#e7ff18,#d7ff28,#c4ff3b,#b2ff4d,#a2ff5d,#90ff6f,#89ff76,#84ff7b,#8eff71,#96ff69,#a6ff59,#b6ff49,#c7ff38,#ddff22,#efff10,#fcff03,#fff500,#ffe500,#ffd500,#fff600,#b9ff46,#39ffc6,#00faff,#00d9ff,#00c9ff,#00c8ff,#00ceff)"></i><i style="left:1127.7px;width:21.3px;background:linear-gradient(#f8ff07,#f6ff09,#f1ff0e,#edff12,#e6ff19,#d6ff29,#c3ff3c,#b2ff4d,#a2ff5d,#90ff6f,#88ff77,#83ff7c,#8dff72,#95ff6a,#a5ff5a,#b5ff4a,#c7ff38,#ddff22,#efff10,#fcff03,#fff600,#ffe500,#ffd600,#fff600,#b6ff49,#35ffca,#00f6ff,#00d8ff,#00c8ff,#00c8ff,#00cdff)"></i><i style="left:1148.2px;width:21.3px;background:linear-gradient(#f3ff0c,#f1ff0e,#edff12,#ebff14,#e5ff1a,#d5ff2a,#c3ff3c,#b2ff4d,#a2ff5d,#90ff6f,#88ff77,#82ff7d,#8cff73,#94ff6b,#a4ff5b,#b5ff4a,#c7ff38,#ddff22,#f0ff0f,#fcff03,#fff600,#ffe500,#ffd700,#fff500,#b5ff4a,#32ffcd,#00f4ff,#00d7ff,#00c7ff,#00c7ff,#00cdff)"></i><i style="left:1168.7px;width:21.3px;background:linear-gradient(#f1ff0e,#efff10,#ecff13,#e9ff16,#e3ff1c,#d5ff2a,#c2ff3d,#b1ff4e,#a1ff5e,#90ff6f,#88ff77,#82ff7d,#8cff73,#94ff6b,#a4ff5b,#b5ff4a,#c7ff38,#deff21,#f0ff0f,#fcff03,#fff500,#ffe500,#ffd600,#fff200,#b6ff49,#34ffcb,#00f4ff,#00d7ff,#00c7ff,#00c7ff,#00cdff)"></i><i style="left:1189.2px;width:21.3px;background:linear-gradient(#efff10,#edff12,#eaff15,#e7ff18,#e1ff1e,#d4ff2b,#c2ff3d,#b0ff4f,#a0ff5f,#90ff6f,#88ff77,#82ff7d,#8cff73,#94ff6b,#a4ff5b,#b5ff4a,#c8ff37,#deff21,#f0ff0f,#fcff03,#fff500,#ffe400,#ffd400,#fff000,#b8ff47,#35ffca,#00f4ff,#00d7ff,#00c7ff,#00c7ff,#00cdff)"></i><i style="left:1209.7px;width:21.3px;background:linear-gradient(#eeff11,#ecff13,#e8ff17,#e5ff1a,#deff21,#d3ff2c,#c1ff3e,#afff50,#9fff60,#90ff6f,#88ff77,#82ff7d,#8cff73,#94ff6b,#a4ff5b,#b5ff4a,#c8ff37,#deff21,#f0ff0f,#fcff03,#fff400,#ffe400,#ffd300,#ffed00,#b9ff46,#36ffc9,#00f4ff,#00d7ff,#00c7ff,#00c7ff,#00cdff)"></i><i style="left:1230.2px;width:21.3px;background:linear-gradient(#ecff13,#eaff15,#e7ff18,#e4ff1b,#dcff23,#d3ff2c,#c1ff3e,#aeff51,#9eff61,#90ff6f,#88ff77,#82ff7d,#8cff73,#94ff6b,#a4ff5b,#b5ff4a,#c8ff37,#deff21,#f0ff0f,#fcff03,#fff400,#ffe300,#ffd100,#ffea00,#baff45,#38ffc7,#00f4ff,#00d7ff,#00c7ff,#00c7ff,#00cdff)"></i><i style="left:1250.7px;width:21.3px;background:linear-gradient(#eaff15,#e8ff17,#e5ff1a,#e2ff1d,#daff25,#d2ff2d,#c0ff3f,#adff52,#9cff63,#90ff6f,#88ff77,#82ff7d,#8cff73,#94ff6b,#a4ff5b,#b5ff4a,#c8ff37,#dfff20,#f0ff0f,#fcff03,#fff300,#ffe300,#ffd000,#ffe800,#bcff43,#39ffc6,#00f4ff,#00d7ff,#00c7ff,#00c7ff,#00cdff)"></i><i style="left:1271.2px;width:21.3px;background:linear-gradient(#e8ff17,#e6ff19,#e3ff1c,#e0ff1f,#d8ff27,#d2ff2d,#bfff40,#acff53,#9bff64,#90ff6f,#88ff77,#82ff7d,#8cff73,#94ff6b,#a4ff5b,#b5ff4a,#c9ff36,#dfff20,#f0ff0f,#fcff03,#fff200,#ffe200,#ffcf00,#ffe500,#bdff42,#3affc5,#00f4ff,#00d7ff,#00c7ff,#00c7ff,#00cdff)"></i><i style="left:1291.8px;width:21.3px;background:linear-gradient(#e6ff19,#e4ff1b,#e2ff1d,#deff21,#d6ff29,#d1ff2e,#bfff40,#abff54,#9aff65,#90ff6f,#88ff77,#82ff7d,#8cff73,#94ff6b,#a4ff5b,#b5ff4a,#c9ff36,#dfff20,#f0ff0f,#fcff03,#fff200,#ffe200,#ffcd00,#ffe200,#beff41,#3cffc3,#00f4ff,#00d7ff,#00c7ff,#00c7ff,#00cdff)"></i><i style="left:1312.3px;width:21.3px;background:linear-gradient(#e9ff16,#e8ff17,#e8ff17,#e3ff1c,#d8ff27,#d2ff2d,#beff41,#a9ff56,#98ff67,#8eff71,#87ff78,#81ff7e,#8bff74,#93ff6c,#a4ff5b,#b5ff4a,#c9ff36,#e0ff1f,#f1ff0e,#fdff02,#fff100,#ffe100,#ffcd00,#ffe200,#c2ff3d,#3fffc0,#00f6ff,#00d8ff,#00c8ff,#00c8ff,#00cdff)"></i><i style="left:1332.8px;width:21.3px;background:linear-gradient(#edff12,#edff12,#f1ff0e,#eaff15,#dbff24,#d2ff2d,#bcff43,#a7ff58,#96ff69,#8cff73,#85ff7a,#80ff7f,#89ff76,#92ff6d,#a3ff5c,#b5ff4a,#c9ff36,#e1ff1e,#f3ff0c,#ffff00,#fff000,#ffe100,#ffce00,#ffe200,#c6ff39,#43ffbc,#00f9ff,#00d9ff,#00c9ff,#00c8ff,#00ceff)"></i><i style="left:1353.3px;width:21.3px;background:linear-gradient(#f1ff0e,#f3ff0c,#f9ff06,#f1ff0e,#dfff20,#d3ff2c,#bbff44,#a4ff5b,#93ff6c,#8bff74,#84ff7b,#7fff80,#88ff77,#91ff6e,#a3ff5c,#b5ff4a,#c9ff36,#e2ff1d,#f5ff0a,#fffd00,#ffef00,#ffe100,#ffcf00,#ffe300,#caff35,#47ffb8,#00fcff,#00daff,#00cbff,#00c9ff,#00cfff)"></i><i style="left:1373.8px;width:21.3px;background:linear-gradient(#f5ff0a,#f9ff06,#fffc00,#f8ff07,#e2ff1d,#d3ff2c,#baff45,#a2ff5d,#91ff6e,#89ff76,#83ff7c,#7eff81,#87ff78,#90ff6f,#a2ff5d,#b5ff4a,#c9ff36,#e3ff1c,#f7ff08,#fffb00,#ffee00,#ffe100,#ffcf00,#ffe300,#ceff31,#4bffb4,#00ffff,#00dbff,#00ccff,#00caff,#00cfff)"></i><i style="left:1394.3px;width:21.3px;background:linear-gradient(#f9ff06,#ffff00,#fff300,#ffff00,#e6ff19,#d4ff2b,#b8ff47,#a0ff5f,#8eff71,#87ff78,#81ff7e,#7eff81,#85ff7a,#8fff70,#a2ff5d,#b5ff4a,#c9ff36,#e5ff1a,#f9ff06,#fff900,#ffed00,#ffe100,#ffd000,#ffe400,#d2ff2d,#50ffaf,#03fffc,#00dcff,#00cdff,#00cbff,#00d0ff)"></i><i style="left:1414.8px;width:21.3px;background:linear-gradient(#fdff02,#fffa00,#ffeb00,#fff800,#eaff15,#d4ff2b,#b7ff48,#9eff61,#8cff73,#85ff7a,#80ff7f,#7dff82,#84ff7b,#8eff71,#a1ff5e,#b5ff4a,#c9ff36,#e6ff19,#fbff04,#fff700,#ffeb00,#ffe100,#ffd000,#ffe500,#d6ff29,#54ffab,#06fff9,#00ddff,#00cfff,#00ccff,#00d0ff)"></i><i style="left:1435.3px;width:21.3px;background:linear-gradient(#fffd00,#fff400,#ffe200,#fff100,#edff12,#d5ff2a,#b6ff49,#9cff63,#89ff76,#83ff7c,#7eff81,#7cff83,#83ff7c,#8dff72,#a1ff5e,#b5ff4a,#c9ff36,#e7ff18,#fdff02,#fff500,#ffea00,#ffe100,#ffd100,#ffe500,#daff25,#58ffa7,#09fff6,#00dfff,#00d0ff,#00ccff,#00d1ff)"></i><i style="left:1455.8px;width:21.3px;background:linear-gradient(#fff500,#ffec00,#ffda00,#ffeb00,#f0ff0f,#d5ff2a,#b5ff4a,#9aff65,#88ff77,#82ff7d,#7eff81,#7bff84,#81ff7e,#8bff74,#a0ff5f,#b4ff4b,#c9ff36,#e8ff17,#feff01,#fff400,#ffe900,#ffe100,#ffd100,#ffe400,#dfff20,#5dffa2,#0dfff2,#00e0ff,#00d2ff,#00cdff,#00d1ff)"></i><i style="left:1476.3px;width:21.3px;background:linear-gradient(#ffe400,#ffdf00,#ffd300,#ffea00,#f2ff0d,#d7ff28,#b6ff49,#9bff64,#89ff76,#82ff7d,#7eff81,#7bff84,#80ff7f,#8aff75,#9fff60,#b4ff4b,#c9ff36,#e8ff17,#feff01,#fff200,#ffe800,#ffe000,#ffcf00,#ffe000,#e4ff1b,#66ff99,#13ffec,#00e4ff,#00d4ff,#00cfff,#00d3ff)"></i><i style="left:1496.8px;width:21.3px;background:linear-gradient(#ffd200,#ffd100,#ffcd00,#ffe900,#f4ff0b,#d8ff27,#b6ff49,#9cff63,#8aff75,#83ff7c,#7eff81,#7bff84,#7eff81,#89ff76,#9eff61,#b3ff4c,#c8ff37,#e8ff17,#feff01,#fff100,#ffe600,#ffde00,#ffcd00,#ffdc00,#eaff15,#6fff90,#1affe5,#00e7ff,#00d7ff,#00d1ff,#00d4ff)"></i><i style="left:1517.3px;width:21.3px;background:linear-gradient(#ffc000,#ffc300,#ffc700,#ffe700,#f6ff09,#d9ff26,#b7ff48,#9dff62,#8bff74,#83ff7c,#7eff81,#7bff84,#7dff82,#87ff78,#9dff62,#b3ff4c,#c8ff37,#e8ff17,#feff01,#fff000,#ffe400,#ffdd00,#ffcb00,#ffd800,#f0ff0f,#78ff87,#20ffdf,#00ebff,#00daff,#00d3ff,#00d6ff)"></i><i style="left:1537.8px;width:21.3px;background:linear-gradient(#ffaf00,#ffb600,#ffc100,#ffe600,#f8ff07,#daff25,#b8ff47,#9dff62,#8cff73,#84ff7b,#7fff80,#7bff84,#7cff83,#86ff79,#9cff63,#b2ff4d,#c8ff37,#e8ff17,#feff01,#ffef00,#ffe300,#ffdc00,#ffc900,#ffd400,#f6ff09,#81ff7e,#27ffd8,#00eeff,#00ddff,#00d5ff,#00d7ff)"></i><i style="left:1558.3px;width:21.3px;background:linear-gradient(#ff9d00,#ffa800,#ffba00,#ffe400,#faff05,#dbff24,#b9ff46,#9eff61,#8dff72,#84ff7b,#7fff80,#7bff84,#7aff85,#85ff7a,#9aff65,#b2ff4d,#c8ff37,#e8ff17,#feff01,#ffee00,#ffe100,#ffda00,#ffc700,#ffd000,#fbff04,#8aff75,#2dffd2,#00f2ff,#00dfff,#00d7ff,#00d8ff)"></i><i style="left:1578.8px;width:21.3px;background:linear-gradient(#ff8b00,#ff9b00,#ffb400,#ffe300,#fcff03,#dcff23,#baff45,#9fff60,#8eff71,#85ff7a,#7fff80,#7bff84,#79ff86,#83ff7c,#99ff66,#b1ff4e,#c7ff38,#e8ff17,#feff01,#ffed00,#ffdf00,#ffd900,#ffc500,#ffcc00,#fffd00,#93ff6c,#34ffcb,#00f5ff,#00e2ff,#00d9ff,#00daff)"></i><i style="left:1599.3px;width:21.3px;background:linear-gradient(#ff7a00,#ff8d00,#ffae00,#ffe200,#feff01,#ddff22,#baff45,#a0ff5f,#90ff6f,#85ff7a,#7fff80,#7bff84,#78ff87,#82ff7d,#98ff67,#b1ff4e,#c7ff38,#e8ff17,#feff01,#ffec00,#ffde00,#ffd800,#ffc300,#ffc800,#fff700,#9cff63,#3bffc4,#00f9ff,#00e5ff,#00dbff,#00dbff)"></i><i style="left:1619.8px;width:21.3px;background:linear-gradient(#ff7700,#ff8b00,#ffae00,#ffe400,#fcff03,#dcff23,#baff45,#a0ff5f,#90ff6f,#86ff79,#7fff80,#7bff84,#77ff88,#81ff7e,#98ff67,#b0ff4f,#c6ff39,#e6ff19,#fdff02,#ffec00,#ffdd00,#ffd600,#ffc100,#ffc400,#fff200,#a6ff59,#45ffba,#00ffff,#00e9ff,#00ddff,#00dcff)"></i><i style="left:1640.3px;width:21.3px;background:linear-gradient(#ff7a00,#ff8e00,#ffb000,#ffe700,#faff05,#daff25,#b9ff46,#a0ff5f,#90ff6f,#86ff79,#7fff80,#7aff85,#77ff88,#81ff7e,#97ff68,#afff50,#c5ff3a,#e5ff1a,#fbff04,#ffed00,#ffdd00,#ffd500,#ffbf00,#ffc000,#ffed00,#b1ff4e,#51ffae,#08fff7,#00eeff,#00dfff,#00deff)"></i><i style="left:1660.8px;width:21.3px;background:linear-gradient(#ff7d00,#ff9000,#ffb200,#ffea00,#f7ff08,#d9ff26,#b8ff47,#9fff60,#90ff6f,#86ff79,#7fff80,#7aff85,#77ff88,#81ff7e,#96ff69,#aeff51,#c4ff3b,#e3ff1c,#f9ff06,#ffed00,#ffdd00,#ffd300,#ffbe00,#ffbc00,#ffe800,#bcff43,#5cffa3,#0ffff0,#00f3ff,#00e1ff,#00dfff)"></i><i style="left:1681.3px;width:21.3px;background:linear-gradient(#ff8000,#ff9200,#ffb500,#ffed00,#f5ff0a,#d7ff28,#b8ff47,#9fff60,#90ff6f,#86ff79,#7eff81,#79ff86,#77ff88,#81ff7e,#96ff69,#adff52,#c3ff3c,#e1ff1e,#f7ff08,#ffee00,#ffdd00,#ffd200,#ffbc00,#ffb800,#ffe300,#c7ff38,#68ff97,#16ffe9,#00f8ff,#00e3ff,#00e0ff)"></i><i style="left:1701.8px;width:21.3px;background:linear-gradient(#ff8200,#ff9400,#ffb700,#fff000,#f2ff0d,#d6ff29,#b7ff48,#9fff60,#90ff6f,#86ff79,#7eff81,#79ff86,#77ff88,#80ff7f,#95ff6a,#adff52,#c2ff3d,#e0ff1f,#f5ff0a,#ffee00,#ffdd00,#ffd100,#ffba00,#ffb400,#ffdf00,#d2ff2d,#74ff8b,#1effe1,#00fdff,#00e6ff,#00e2ff)"></i><i style="left:1722.3px;width:21.3px;background:linear-gradient(#ff8500,#ff9600,#ffb900,#fff300,#f0ff0f,#d4ff2b,#b6ff49,#9fff60,#90ff6f,#86ff79,#7eff81,#78ff87,#77ff88,#80ff7f,#95ff6a,#acff53,#c1ff3e,#deff21,#f3ff0c,#ffef00,#ffdd00,#ffcf00,#ffb800,#ffaf00,#ffda00,#ddff22,#7fff80,#25ffda,#03fffc,#00e8ff,#00e3ff)"></i><i style="left:1742.8px;width:21.3px;background:linear-gradient(#ff8800,#ff9800,#ffbb00,#fff600,#edff12,#d2ff2d,#b5ff4a,#9eff61,#90ff6f,#86ff79,#7eff81,#78ff87,#77ff88,#80ff7f,#94ff6b,#abff54,#c0ff3f,#ddff22,#f1ff0e,#ffef00,#ffdd00,#ffce00,#ffb600,#ffab00,#ffd500,#e8ff17,#8bff74,#2cffd3,#08fff7,#00eaff,#00e4ff)"></i><i style="left:1763.3px;width:21.3px;background:linear-gradient(#ff8a00,#ff9a00,#ffbd00,#fff800,#ecff13,#d1ff2e,#b5ff4a,#9fff60,#90ff6f,#86ff79,#7eff81,#77ff88,#77ff88,#80ff7f,#94ff6b,#aaff55,#bfff40,#dbff24,#f0ff0f,#ffef00,#ffdd00,#ffcd00,#ffb500,#ffa800,#ffd000,#f2ff0d,#96ff69,#35ffca,#0dfff2,#00edff,#00e6ff)"></i><i style="left:1783.8px;width:21.3px;background:linear-gradient(#ff8b00,#ff9b00,#ffbc00,#fff800,#ecff13,#d2ff2d,#b7ff48,#a1ff5e,#92ff6d,#87ff78,#7eff81,#77ff88,#78ff87,#80ff7f,#93ff6c,#a8ff57,#beff41,#dbff24,#f0ff0f,#ffef00,#ffdc00,#ffcf00,#ffb500,#ffa800,#ffca00,#faff05,#9fff60,#3fffc0,#13ffec,#00f2ff,#00e8ff)"></i><i style="left:1804.4px;width:21.3px;background:linear-gradient(#ff8d00,#ff9c00,#ffbb00,#fff700,#ecff13,#d2ff2d,#b9ff46,#a3ff5c,#93ff6c,#87ff78,#7eff81,#77ff88,#79ff86,#81ff7e,#93ff6c,#a7ff58,#bdff42,#dbff24,#f0ff0f,#ffee00,#ffda00,#ffd000,#ffb600,#ffa800,#ffc500,#fffc00,#a7ff58,#4affb5,#1affe5,#00f8ff,#00eaff)"></i><i style="left:1824.9px;width:21.3px;background:linear-gradient(#ff8e00,#ff9e00,#ffbb00,#fff700,#ecff13,#d3ff2c,#bbff44,#a5ff5a,#95ff6a,#88ff77,#7eff81,#77ff88,#79ff86,#81ff7e,#92ff6d,#a5ff5a,#bcff43,#daff25,#f0ff0f,#ffed00,#ffd900,#ffd100,#ffb600,#ffa800,#ffbf00,#fff400,#b0ff4f,#54ffab,#20ffdf,#00fdff,#00ecff)"></i></div>
<svg xmlns="http://www.w3.org/2000/svg" width="2120" height="3938" viewBox="0 0 2120 3938"><defs><linearGradient id="jet" x1="0" y1="0" x2="0" y2="1"><stop offset="0.0000" stop-color="#800000"/><stop offset="0.0250" stop-color="#9c0000"/><stop offset="0.0500" stop-color="#b90000"/><stop offset="0.0750" stop-color="#d60000"/><stop offset="0.1000" stop-color="#f30000"/><stop offset="0.1250" stop-color="#ff0f00"/><stop offset="0.1500" stop-color="#ff2900"/><stop offset="0.1750" stop-color="#ff4300"/><stop offset="0.2000" stop-color="#ff5d00"/><stop offset="0.2250" stop-color="#ff7600"/><stop offset="0.2500" stop-color="#ff9000"/><stop offset="0.2750" stop-color="#ffaa00"/><stop offset="0.3000" stop-color="#ffc300"/><stop offset="0.3250" stop-color="#ffdd00"/><stop offset="0.3500" stop-color="#fff700"/><stop offset="0.3750" stop-color="#efff10"/><stop offset="0.4000" stop-color="#d8ff27"/><stop offset="0.4250" stop-color="#c1ff3e"/><stop offset="0.4500" stop-color="#aaff55"/><stop offset="0.4750" stop-color="#93ff6c"/><stop offset="0.5000" stop-color="#7cff83"/><stop offset="0.5250" stop-color="#65ff9a"/><stop offset="0.5500" stop-color="#4effb1"/><stop offset="0.5750" stop-color="#37ffc8"/><stop offset="0.6000" stop-color="#1fffe0"/><stop offset="0.6250" stop-color="#08fff7"/><stop offset="0.6500" stop-color="#00ecff"/><stop offset="0.6750" stop-color="#00ceff"/><stop offset="0.7000" stop-color="#00b0ff"/><stop offset="0.7250" stop-color="#0092ff"/><stop offset="0.7500" stop-color="#0073ff"/><stop offset="0.7750" stop-color="#0055ff"/><stop offset="0.8000" stop-color="#0037ff"/><stop offset="0.8250" stop-color="#0019ff"/><stop offset="0.8500" stop-color="#0000fc"/><stop offset="0.8750" stop-color="#0000e7"/><stop offset="0.9000" stop-color="#0000d2"/><stop offset="0.9250" stop-color="#0000be"/><stop offset="0.9500" stop-color="#0000a9"/><stop offset="0.9750" stop-color="#000094"/><stop offset="1.0000" stop-color="#000080"/></linearGradient></defs><defs><clipPath id="cla"><rect x="81.5" y="93.7" width="1822.4" height="763.4"/></clipPath></defs>
<path d="M229.3 93.7V857.0M382.0 93.7V857.0M534.6 93.7V857.0M687.3 93.7V857.0M840.0 93.7V857.0M992.6 93.7V857.0M1145.3 93.7V857.0M1298.0 93.7V857.0M1450.7 93.7V857.0M1603.3 93.7V857.0M1756.0 93.7V857.0M81.5 170.0H1903.8M81.5 246.3H1903.8M81.5 322.7H1903.8M81.5 399.0H1903.8M81.5 475.3H1903.8M81.5 551.7H1903.8M81.5 628.0H1903.8M81.5 704.3H1903.8M81.5 780.7H1903.8" stroke="#c8c8c8" stroke-width="1.3" stroke-dasharray="6 4" fill="none"/>
<g clip-path="url(#cla)" fill="none" stroke="#000" stroke-linejoin="round" stroke-linecap="round"><path d="M147.9 80.9 154.0 89.6 166.7 94.2 168.7 100.3 181.0 100.8 188.6 100.3 193.7 100.3 191.1 106.4 183.5 111.0 173.3 114.5 163.1 118.6 155.0 121.6 162.1 119.6 170.8 117.6 181.0 115.0 188.6 111.5 196.2 107.4 203.9 104.3 208.9 100.8 212.0 97.7 215.1 93.7 221.2 87.6 225.2 89.6 222.2 92.6 220.1 97.2 226.8 96.7 231.8 94.7 236.9 93.2 244.6 90.6 252.2 91.1 259.8 93.2 270.0 93.4 275.1 94.2 281.7 95.7 287.8 97.7 295.5 100.8 298.5 103.3 300.0 106.4 303.6 109.4 307.7 113.0 312.8 117.1 318.4 119.6 325.0 122.2 329.6 123.2 331.1 127.2 335.7 130.8 340.2 134.4 343.3 138.4 339.7 140.5 345.3 144.0 352.5 148.6 358.1 152.7 361.1 159.8 361.6 163.9 362.1 168.0 361.1 173.0 359.1 181.2 360.6 186.3 359.6 193.4 362.6 198.0 366.7 204.6 369.2 207.7 372.3 212.7 374.8 216.8 378.9 222.9 384.5 223.9 389.6 226.0 391.6 227.5 396.2 232.1 396.7 233.6 399.3 238.7 401.8 243.3 403.9 247.3 408.4 252.4 412.0 256.5 411.5 259.1 416.6 263.1 421.7 268.7 422.2 272.8 426.2 275.3 431.3 279.4 433.4 282.5 435.9 280.4 431.3 275.8 429.3 271.8 426.2 267.7 423.7 263.1 420.1 259.1 417.6 255.0 414.5 250.4 410.0 245.3 408.4 239.7 408.4 237.2 411.0 238.2 415.0 239.7 418.6 243.3 421.7 251.4 426.8 257.0 431.3 260.1 435.9 266.7 440.5 270.2 445.6 274.3 451.2 280.9 455.8 287.6 456.8 292.1 455.3 295.2 458.3 299.8 461.9 302.3 466.4 305.9 472.6 307.9 478.7 311.0 484.3 313.5 491.4 316.0 499.0 318.6 504.1 319.1 508.2 317.1 511.7 316.6 516.8 319.1 522.9 324.7 527.5 328.3 534.6 328.8 539.7 330.8 545.8 331.8 547.4 333.4 550.9 336.9 555.0 341.5 556.5 343.0 556.0 346.1 559.1 348.6 561.1 350.1 563.6 350.7 567.2 354.7 570.3 356.8 573.8 357.8 576.9 357.8 580.9 361.9 584.5 361.3 583.5 358.3 587.6 353.7 590.6 353.2 593.7 356.3 595.7 360.3 598.3 363.9 598.8 368.5 599.3 376.1 598.3 381.2 596.2 384.8 592.1 389.8 590.6 393.4 585.5 394.9 585.0 399.0 583.0 403.1 580.9 404.6 583.0 409.2 586.0 411.7 584.5 415.8 582.0 417.3 579.4 420.4 578.9 422.9 580.4 427.0 580.9 429.5 586.0 434.6 590.6 441.2 594.2 447.9 597.7 455.0 600.3 460.6 604.4 467.7 605.9 472.3 610.0 477.4 618.6 482.5 626.2 486.5 629.8 489.1 634.4 492.6 635.4 498.2 635.9 505.9 634.4 518.6 633.9 526.2 632.3 536.4 629.8 544.0 628.8 551.7 628.3 561.8 628.3 566.9 626.2 573.0 623.2 579.7 620.1 587.3 618.1 592.4 619.1 600.0 617.1 607.6 616.1 612.7 614.5 617.8 616.1 622.9 611.0 628.0 608.4 635.6 609.4 643.3 608.4 650.9 610.0 658.5 613.5 666.2 618.6 670.2 626.2 673.8 631.3 676.9 639.0 679.9 646.6 681.4 650.7 683.5 654.2 679.4 660.8 677.9 654.2 675.8 648.6 671.8 644.6 666.7 642.5 665.2 640.0 661.6 641.0 656.0 645.1 654.0 647.6 649.9 650.7 645.8 656.8 642.3 657.8 639.2 649.1 633.1 649.7 630.5 654.2 628.0 660.3 626.0 661.9 620.4 664.9 617.3 669.0 616.3 665.9 614.3 661.9 613.2 661.9 607.6 667.0 607.6 674.6 605.6 676.1 600.0 675.6 596.5 682.2 597.0 692.4 595.4 699.5 593.4 701.1 589.8 704.1 584.2 702.1 581.2 700.0 578.6 695.5 575.1 694.9 572.5 698.5 574.6 706.6 576.6 712.8 576.6 717.3 575.1 720.9 570.5 725.0 566.9 728.0 562.4 732.1 556.8 736.7 551.7 740.2 546.6 744.8 543.0 745.8 536.4 745.3 531.3 747.4 528.3 751.9 525.2 757.0 521.1 762.6 519.1 767.7 516.6 772.8 515.8 778.9 515.5 784.0 511.0 784.5 506.9 788.1 502.3 790.6 498.2 793.2 489.1 793.7 483.0 794.7 475.3 794.2 469.2 796.7 465.2 800.8 461.1 804.4 455.0 807.4 452.4 812.0 447.3 814.5 439.7 815.6 435.6 814.0 429.5 813.0 425.5 806.9 424.4 801.8 422.4 796.7 417.8 791.6 414.3 786.5 413.2 779.9 413.2 771.3 411.2 767.2 411.7 763.6 407.1 756.0 404.1 749.4 402.1 745.8 405.1 742.3 403.1 740.7 400.5 735.7 398.0 738.2 393.9 735.7 389.8 732.1 381.2 729.5 377.6 725.5 373.6 718.9 369.5 712.8 368.5 705.1 368.5 700.0 366.9 696.0 363.9 690.9 360.3 684.8 355.7 679.7 350.1 677.1 347.1 672.6 345.1 667.0 345.1 661.9 347.6 655.8 345.1 649.1 345.6 645.1 345.6 641.5 341.0 635.4 340.0 635.9 337.4 634.9 340.5 630.8 342.0 628.3 343.0 626.8 340.0 624.7 338.4 627.3 335.9 623.7 337.9 619.6 341.5 615.0 342.0 611.0 344.0 607.9 347.1 607.4 351.2 604.4 353.2 601.8 355.7 598.8 354.7 596.2 351.7 591.6 350.7 587.6 350.1 583.0 352.7 577.9 353.7 574.3 353.2 570.8 349.6 567.2 344.0 566.7 338.4 567.7 330.3 569.2 322.7 564.2 320.1 557.5 318.1 550.4 318.6 544.3 319.1 540.7 318.1 543.3 314.5 543.8 309.9 544.8 304.9 547.4 299.8 549.9 293.7 550.9 290.1 547.4 289.6 542.3 290.1 534.6 291.1 532.6 294.7 532.1 299.8 527.0 304.3 521.9 304.3 515.3 305.9 510.2 306.4 505.1 303.3 502.1 299.3 498.0 293.7 495.5 287.6 494.9 282.5 495.5 274.3 498.0 267.2 497.0 261.6 499.0 257.0 503.1 254.0 510.2 249.9 515.3 247.9 521.9 248.4 528.5 250.4 533.6 250.9 538.2 251.4 537.2 248.4 536.7 245.3 542.3 244.3 547.4 244.8 552.5 244.3 557.5 246.3 560.6 247.9 565.2 245.8 568.7 248.9 571.8 252.4 571.8 257.0 573.8 262.1 576.4 266.2 579.4 269.7 583.0 270.8 584.5 267.7 585.5 262.6 584.5 260.1 582.5 255.0 580.9 250.4 578.9 244.8 578.4 240.2 580.9 236.2 585.5 232.6 589.6 229.5 593.2 226.5 596.7 225.0 600.8 222.4 604.4 221.4 608.4 219.4 607.4 214.3 605.9 211.2 606.4 208.2 609.4 205.6 611.0 201.5 611.5 198.5 615.6 195.4 616.1 192.9 618.6 192.4 626.2 190.9 626.8 188.8 631.3 187.8 635.4 187.3 636.4 185.3 633.4 183.7 632.3 180.7 634.9 177.1 640.5 175.1 645.6 173.0 651.7 171.0 652.2 169.0 656.8 169.0 662.9 166.9 665.4 168.5 659.3 171.5 656.3 175.1 658.8 177.6 664.4 174.6 669.5 172.0 677.1 170.0 682.2 168.5 687.3 165.4 685.8 160.8 683.2 160.3 680.2 163.9 679.2 166.9 673.6 166.4 668.0 165.4 663.9 163.9 662.4 159.8 660.3 156.3 663.9 155.2 664.9 151.7 662.9 149.6 656.8 149.1 649.1 150.1 644.1 152.7 639.0 156.8 633.9 159.8 630.3 160.8 634.9 157.3 640.0 153.7 644.1 149.1 650.2 147.6 654.2 143.5 661.9 143.5 669.5 143.5 679.7 144.0 687.3 143.5 693.4 140.0 699.5 137.4 705.1 134.4 708.7 130.8 707.7 126.7 701.1 123.2 694.9 121.1 688.3 118.1 683.2 114.5 679.7 111.5 677.1 107.4 674.6 103.8 671.0 100.3 667.0 96.2 664.9 92.1 660.8 95.7 657.8 99.8 650.7 102.3 644.1 100.8 639.5 97.7 638.5 92.6 636.4 88.6M510.2 87.6 512.8 94.7 513.3 99.8 519.4 100.3 521.9 106.4 529.6 108.4 539.7 111.0 547.4 114.5 557.5 117.6 567.7 118.1 573.8 118.6 574.3 126.7 577.9 131.3 583.0 136.9 588.1 136.9 591.6 131.8 590.6 124.2 598.3 116.6 601.8 112.5 602.8 106.4 598.8 101.3 594.2 98.7 598.3 93.7 595.7 88.6M758.6 87.6 766.2 92.1 771.3 94.2 773.8 92.1 777.4 87.6M724.5 156.8 722.4 161.3 717.8 160.3 712.8 159.3 707.7 157.3 690.9 156.8 694.9 149.6 701.6 142.0 710.7 136.4 709.7 142.0 717.8 146.6 722.9 152.2 724.5 156.8M560.6 287.6 563.6 285.0 568.7 282.5 573.3 281.2 577.9 281.4 583.0 282.0 588.1 284.0 593.2 285.0 598.3 288.1 603.3 291.1 608.4 292.6 615.0 295.9 613.5 297.2 608.4 297.7 600.8 297.7 597.2 298.0 599.8 294.7 595.7 293.1 592.7 289.6 588.1 289.1 583.0 287.0 579.4 286.0 576.4 286.0 572.8 284.0 567.7 286.0 563.1 288.1 560.6 287.6M614.0 305.4 620.1 299.3 622.2 297.7 628.8 297.7 636.4 298.7 640.0 300.8 644.6 304.3 642.5 306.4 636.4 306.4 630.8 308.9 628.3 306.9 623.7 306.4 618.1 306.4 614.0 305.4M594.2 305.9 600.8 304.9 604.4 306.4 601.8 307.9 596.7 307.9 594.2 305.9M650.7 304.9 658.8 305.4 658.3 307.4 650.7 307.4 650.7 304.9M677.6 347.6 682.2 344.0 682.7 347.1 677.6 347.6M680.7 660.1 687.3 659.6 696.5 660.6 699.0 662.1 694.9 664.6 689.9 664.1 684.8 663.1 680.7 660.1M799.3 673.8 806.9 674.3 810.5 677.9 804.4 676.4 799.3 673.8M1017.6 86.0 1018.1 91.1 1019.6 96.2 1021.1 98.7 1023.2 102.3 1028.3 103.8 1034.4 102.8 1041.0 99.3 1045.1 97.2 1047.1 94.2 1048.1 97.7 1049.6 100.8 1053.2 105.4 1057.3 111.0 1058.3 116.1 1060.3 117.3 1065.4 116.6 1065.4 113.5 1073.1 113.5 1076.1 110.5 1077.6 105.9 1078.1 100.8 1083.7 98.7 1088.3 96.2 1085.8 91.6 1080.7 90.1 1080.2 86.0M1101.0 88.6 1102.1 91.6 1107.2 93.7 1112.2 94.2 1119.9 92.6 1130.1 91.1 1137.7 90.6 1144.3 93.2 1136.2 95.7 1130.1 96.2 1122.4 95.7 1115.8 96.7 1111.7 98.2 1112.2 101.8 1116.3 102.3 1116.3 107.4 1114.8 108.9 1110.7 108.9 1107.7 105.9 1103.1 106.4 1100.0 110.5 1099.5 114.0 1100.0 116.1 1100.5 118.1 1097.0 119.6 1093.9 121.1 1091.9 122.2 1087.3 122.2 1086.8 120.1 1081.7 120.1 1075.6 122.2 1068.0 124.7 1064.9 124.7 1061.4 122.2 1056.3 122.2 1051.2 124.2 1048.1 124.2 1047.6 122.7 1044.6 122.2 1043.0 120.1 1042.0 116.6 1045.1 113.0 1046.6 107.9 1046.6 105.1 1041.5 107.9 1036.4 108.4 1033.9 111.0 1034.4 116.1 1036.4 119.1 1037.9 123.2 1036.4 124.7 1033.4 126.2 1028.3 127.2 1025.7 127.2 1020.6 127.8 1017.1 129.3 1016.1 131.8 1013.5 134.4 1012.0 135.9 1010.0 137.4 1005.9 139.0 1000.8 140.0 1000.8 143.0 999.3 144.5 993.7 146.1 991.6 148.1 986.5 147.6 986.0 146.1 983.0 146.1 984.5 150.7 980.9 151.7 977.4 150.7 972.3 151.2 968.7 152.7 970.8 154.2 970.3 155.7 974.8 156.3 979.9 158.3 982.0 160.8 985.0 163.4 987.1 166.9 986.3 172.0 985.5 177.1 983.5 178.1 977.9 178.1 973.3 177.6 963.1 177.1 957.0 177.1 951.9 176.6 947.4 178.6 945.3 180.7 947.4 184.8 947.9 190.4 946.8 194.4 944.8 198.5 944.3 201.5 945.8 203.6 947.9 204.6 947.9 208.2 946.8 210.7 951.9 210.7 955.0 209.7 959.6 211.2 961.1 213.8 964.2 215.8 967.2 213.8 970.3 212.2 977.4 212.2 982.0 212.2 984.5 208.7 989.1 207.7 990.1 204.1 993.7 201.5 991.1 198.0 993.7 194.9 997.2 191.4 1002.8 188.8 1008.9 185.8 1008.9 183.2 1007.9 180.2 1011.5 178.1 1016.1 178.1 1020.6 179.2 1025.7 179.7 1029.8 176.6 1034.4 175.6 1037.9 173.0 1042.5 174.6 1045.1 177.6 1046.1 180.7 1049.1 183.2 1054.7 186.8 1058.8 189.3 1063.9 191.4 1066.9 192.4 1069.0 194.4 1072.5 195.9 1074.6 201.0 1072.5 204.6 1074.6 206.1 1077.1 203.6 1079.7 201.0 1079.7 198.5 1076.6 197.0 1078.7 193.4 1083.7 193.9 1086.8 194.9 1085.8 192.9 1081.2 190.9 1075.1 188.3 1073.6 185.8 1067.5 184.8 1064.4 182.2 1061.9 177.6 1056.8 174.6 1055.2 170.5 1055.8 168.0 1059.3 166.4 1062.4 166.9 1062.9 170.5 1065.9 168.5 1070.0 173.6 1074.1 177.6 1079.2 179.2 1082.7 180.7 1086.8 183.2 1090.9 185.8 1091.9 188.8 1091.4 192.9 1094.4 197.0 1098.0 200.5 1100.0 204.1 1102.6 208.7 1103.1 211.7 1106.6 213.8 1108.7 211.7 1110.7 213.8 1109.2 208.2 1112.2 206.1 1114.8 204.6 1110.7 202.1 1108.7 199.0 1107.7 194.9 1109.2 192.4 1113.3 194.4 1116.8 190.9 1122.4 190.9 1126.0 191.4 1128.5 193.4 1132.6 190.9 1140.2 189.8 1135.7 187.3 1133.6 181.7 1137.7 177.6 1138.7 172.5 1143.8 168.5 1149.4 162.4 1154.0 161.9 1158.0 164.4 1163.1 170.0 1165.7 173.0 1172.3 170.5 1178.4 168.5 1173.3 168.0 1170.8 166.4 1169.7 163.9 1174.3 161.9 1183.5 159.8 1188.6 158.8 1186.0 162.9 1187.0 164.9 1184.5 169.0 1191.1 173.6 1198.8 180.2 1204.4 187.3 1203.8 189.3 1193.7 190.4 1183.5 189.8 1175.3 186.8 1168.2 185.8 1160.6 185.8 1151.9 189.3 1141.2 189.3 1140.2 190.9 1144.3 191.9 1140.2 193.4 1132.6 193.4 1128.0 194.4 1126.0 198.0 1129.5 200.5 1129.0 203.6 1131.1 206.1 1132.1 210.7 1135.1 211.7 1138.2 212.2 1142.3 214.8 1146.3 214.3 1148.4 211.7 1153.0 212.2 1158.0 215.3 1163.1 215.3 1166.7 213.3 1170.3 211.7 1174.3 212.2 1176.4 212.7 1175.3 216.3 1175.3 219.9 1173.8 225.0 1171.3 230.6 1170.3 234.1 1168.2 238.2 1165.2 240.2 1160.1 240.7 1157.0 239.7 1153.0 238.7 1147.4 238.7 1143.3 240.7 1137.7 241.7 1131.6 239.2 1120.9 238.2 1115.8 236.2 1110.2 233.1 1105.6 231.6 1100.0 232.1 1094.9 234.6 1093.9 238.7 1090.9 244.3 1086.8 243.3 1081.7 241.2 1076.6 240.2 1071.0 236.7 1070.0 234.1 1063.4 232.1 1056.8 232.1 1051.2 230.0 1047.1 227.5 1044.0 225.0 1048.1 220.4 1046.6 216.3 1045.1 212.7 1049.1 210.7 1044.6 209.7 1042.5 209.2 1036.4 211.2 1029.3 210.2 1020.6 212.2 1010.5 211.7 1004.4 212.7 997.2 214.3 989.6 216.8 984.5 219.9 977.9 219.4 970.8 219.9 965.7 216.3 962.6 216.8 960.6 219.9 957.5 226.0 954.0 228.0 948.9 230.0 945.3 234.6 942.8 239.7 943.3 244.3 940.7 249.4 936.2 253.5 930.6 256.5 925.5 259.6 920.4 264.7 917.8 269.2 914.8 274.3 911.2 278.4 908.7 285.0 906.1 290.1 906.6 294.7 909.2 299.3 910.7 304.9 910.7 311.5 908.7 317.1 906.6 321.6 903.6 324.2 906.1 326.7 907.7 331.3 907.2 335.9 909.7 338.4 913.8 341.5 916.8 343.5 920.4 347.1 923.4 350.1 925.5 353.7 926.5 357.3 930.1 361.3 934.1 363.9 939.2 368.0 944.3 371.5 949.4 375.1 954.0 376.6 959.6 375.6 964.7 373.0 972.3 372.5 977.4 373.0 982.5 375.1 987.6 373.0 995.2 369.5 1000.8 367.4 1006.4 366.4 1010.5 366.4 1015.6 367.4 1019.1 370.5 1022.2 374.6 1026.7 377.1 1030.8 376.1 1035.9 375.6 1039.5 379.2 1042.0 382.2 1042.5 387.3 1041.5 392.9 1040.0 397.5 1038.5 402.1 1040.5 406.6 1044.0 411.2 1048.6 416.3 1052.7 421.9 1055.2 428.0 1056.3 431.1 1058.8 437.7 1060.3 442.8 1059.3 447.9 1061.9 453.5 1062.9 458.0 1056.3 466.2 1054.7 471.8 1052.7 478.4 1052.7 486.5 1055.2 492.1 1058.8 497.2 1061.4 503.3 1064.4 510.4 1066.4 515.5 1066.4 521.1 1068.5 528.8 1070.0 534.9 1074.1 541.5 1076.6 545.1 1079.7 549.6 1080.7 554.2 1084.3 559.8 1085.8 564.4 1084.8 566.9 1086.3 571.5 1086.8 574.1 1090.9 575.1 1094.4 576.1 1099.5 574.1 1105.6 572.5 1111.7 572.5 1118.9 573.0 1122.9 571.5 1127.5 570.5 1132.6 568.0 1136.7 564.9 1141.8 559.8 1146.8 555.2 1150.4 550.7 1154.5 545.6 1158.0 540.5 1160.1 533.9 1158.6 530.8 1162.1 527.8 1168.7 525.2 1173.3 521.1 1172.3 512.5 1171.8 507.4 1169.2 501.8 1173.3 497.2 1178.4 494.7 1183.5 489.6 1191.1 485.0 1196.2 481.4 1199.3 476.4 1199.3 470.2 1198.8 462.6 1198.2 455.0 1194.7 449.9 1193.2 442.3 1192.1 436.7 1190.6 431.6 1192.6 426.0 1194.7 421.4 1197.2 415.8 1200.3 411.7 1204.9 407.1 1209.4 401.5 1214.5 394.9 1220.1 389.8 1225.2 386.3 1230.3 380.7 1234.9 375.6 1240.5 366.9 1245.1 357.8 1250.2 349.1 1253.2 340.5 1253.7 338.4 1248.6 340.0 1243.5 341.5 1238.4 342.0 1232.3 343.5 1226.7 344.5 1221.7 346.1 1216.6 346.1 1213.0 342.0 1212.5 338.4 1210.0 334.9 1207.4 332.3 1204.4 328.3 1200.3 324.7 1195.2 320.6 1192.6 318.1 1190.1 312.0 1187.6 307.4 1183.5 303.3 1182.0 298.2 1182.0 292.1 1180.4 287.0 1174.8 279.4 1173.3 276.4 1169.7 270.2 1167.2 264.7 1164.7 260.1 1162.1 256.0 1158.6 249.4 1158.6 246.3 1159.1 247.3 1161.6 251.9 1166.7 257.5 1168.7 254.0 1170.3 248.9 1170.8 252.4 1169.7 256.5 1173.3 260.6 1177.9 266.7 1182.5 273.3 1187.0 277.4 1191.6 286.0 1192.1 290.1 1197.2 296.7 1202.3 304.9 1206.9 312.0 1210.0 318.1 1211.0 323.7 1213.0 329.8 1214.0 334.4 1218.1 334.9 1221.7 333.9 1226.7 331.3 1234.4 328.8 1240.5 327.2 1245.1 324.2 1251.2 321.6 1258.3 318.6 1259.8 315.0 1265.4 313.5 1271.5 312.5 1274.6 308.9 1279.7 307.9 1281.7 303.3 1286.8 302.3 1286.8 296.2 1290.9 292.6 1294.4 289.1 1297.0 285.0 1293.4 282.0 1290.4 278.9 1285.8 277.9 1282.2 274.3 1279.7 270.2 1279.2 265.7 1277.6 265.7 1275.1 269.2 1270.5 273.8 1264.9 276.4 1259.8 275.8 1255.2 275.3 1254.2 273.8 1255.2 269.7 1253.7 266.2 1251.2 268.7 1250.2 271.8 1247.6 267.2 1247.6 263.1 1244.0 260.6 1241.0 257.0 1239.0 253.5 1236.4 248.9 1237.9 246.3 1241.0 245.3 1245.1 246.3 1248.6 248.4 1251.2 252.4 1253.7 256.5 1258.8 259.1 1264.9 262.1 1271.5 264.1 1278.7 261.1 1284.2 267.2 1290.4 268.7 1296.0 269.7 1305.6 271.3 1310.7 270.8 1318.3 270.2 1326.0 270.2 1331.6 269.2 1333.6 272.3 1335.6 276.9 1339.7 278.9 1342.8 283.0 1346.8 285.0 1344.3 285.5 1347.9 289.1 1353.5 293.1 1359.1 291.1 1362.1 289.1 1363.1 291.6 1363.6 296.2 1363.1 302.3 1364.1 307.4 1365.7 312.5 1367.7 319.1 1369.7 323.7 1372.8 331.3 1374.8 337.9 1377.9 342.0 1380.4 348.1 1382.5 353.7 1387.0 357.8 1390.1 353.7 1392.6 351.7 1396.2 346.6 1398.8 340.5 1401.3 332.3 1400.8 327.8 1400.3 321.1 1404.4 318.6 1407.9 315.5 1411.5 314.0 1416.6 309.4 1421.1 305.9 1425.7 300.3 1431.8 297.7 1434.9 293.7 1435.4 289.6 1440.5 289.1 1445.6 288.6 1452.2 287.6 1455.7 284.0 1459.8 285.5 1462.4 292.1 1464.4 295.7 1468.5 300.8 1472.0 305.9 1473.6 312.0 1472.5 317.6 1476.1 318.6 1479.7 316.6 1483.7 315.0 1487.3 313.5 1489.3 317.6 1490.4 322.7 1492.9 329.3 1494.4 336.4 1493.9 343.0 1493.4 350.1 1492.9 356.8 1497.5 361.3 1502.1 365.9 1503.6 371.5 1505.6 377.6 1508.2 384.8 1512.7 388.3 1519.4 392.4 1522.9 391.9 1520.9 386.8 1518.9 380.7 1518.9 375.6 1515.8 370.0 1512.7 367.4 1508.2 363.9 1503.6 361.9 1502.1 356.3 1501.0 351.7 1497.5 346.6 1499.5 341.5 1501.0 336.4 1501.5 330.8 1504.6 330.3 1506.6 334.4 1511.2 335.4 1514.8 337.9 1517.8 343.0 1519.9 345.6 1524.5 346.1 1527.0 351.7 1526.0 355.2 1528.5 353.7 1533.6 350.7 1536.2 346.1 1541.2 344.5 1546.3 341.5 1548.4 336.9 1548.4 330.3 1546.8 321.1 1543.8 317.1 1539.7 314.0 1535.1 310.5 1531.1 304.3 1530.6 300.8 1533.1 296.7 1535.6 293.7 1539.7 289.6 1544.3 289.1 1548.4 289.6 1551.4 290.1 1552.9 295.2 1555.0 295.7 1555.5 291.1 1561.1 289.1 1565.7 288.1 1570.3 286.0 1573.8 285.5 1577.9 283.5 1584.5 282.5 1588.1 279.4 1592.1 275.8 1596.2 273.8 1599.8 269.7 1601.8 265.7 1603.8 262.1 1606.4 258.0 1609.4 255.0 1611.5 250.4 1613.0 246.8 1609.4 244.8 1613.0 241.7 1613.0 237.7 1610.5 235.1 1607.4 232.6 1605.4 226.5 1600.8 223.4 1599.3 220.9 1602.8 217.8 1606.9 214.8 1611.5 211.7 1616.1 211.2 1615.0 208.7 1610.5 207.7 1606.9 206.6 1602.3 209.2 1598.7 209.7 1597.7 206.1 1593.2 204.1 1591.1 202.1 1591.6 200.0 1595.7 199.5 1599.8 198.5 1601.3 195.9 1605.9 193.9 1609.4 190.9 1613.0 191.4 1615.0 192.9 1612.0 196.5 1609.9 200.5 1612.5 200.0 1615.0 198.5 1619.6 197.0 1624.2 195.9 1627.8 197.5 1630.3 198.5 1629.8 201.5 1630.3 205.6 1634.9 206.6 1636.9 208.7 1637.4 211.7 1636.4 215.8 1636.9 219.4 1635.4 222.9 1638.4 223.4 1643.0 221.9 1647.1 220.9 1650.1 219.9 1651.2 216.8 1651.7 212.7 1650.7 208.7 1648.1 205.6 1645.6 202.1 1642.0 199.0 1642.0 196.5 1646.6 194.4 1650.7 191.9 1652.7 189.8 1653.2 186.3 1656.3 183.7 1658.3 182.2 1661.9 181.2 1665.9 179.2 1670.5 181.2 1676.1 178.1 1681.7 174.1 1686.3 170.5 1691.9 165.9 1696.5 161.3 1698.5 158.3 1703.1 153.7 1706.6 149.6 1707.7 144.0 1708.2 139.0 1711.2 133.9 1712.2 130.3 1709.2 127.2 1704.1 124.2 1698.5 123.2 1693.4 124.2 1690.9 122.2 1688.8 121.1 1686.3 119.1 1681.2 117.1 1684.8 114.0 1689.8 112.0 1695.9 107.9 1701.5 103.8 1708.2 100.8 1714.3 98.7 1720.4 96.7 1728.0 96.7 1735.6 97.7 1743.3 97.2 1749.9 97.2 1757.5 95.7 1763.6 97.7 1768.7 98.7 1773.8 97.7 1777.4 97.2 1778.9 94.2 1781.4 90.6 1786.5 86.0M1809.4 87.6 1806.9 91.1 1801.8 96.2 1794.2 103.8 1790.1 107.4 1786.5 114.0 1784.5 121.6 1785.5 129.3 1788.1 134.4 1790.1 139.5 1794.2 136.9 1799.3 130.8 1805.4 124.7 1809.4 121.6 1816.6 117.6 1817.1 114.0 1823.2 112.5 1819.6 106.4 1822.2 103.8 1827.2 94.7 1834.9 93.2 1840.0 91.6 1847.6 91.1 1857.8 92.6 1868.0 89.6M1715.3 164.4 1714.3 161.9 1715.3 157.3 1715.8 149.6 1715.8 142.0 1716.3 136.9 1716.3 129.3 1718.3 122.7 1721.4 127.8 1721.9 132.8 1721.4 139.5 1726.5 148.6 1721.4 148.6 1718.3 154.7 1720.4 159.8 1722.9 162.9 1719.4 162.4 1716.8 164.9 1715.3 164.4M1705.1 188.3 1706.6 183.7 1707.1 178.6 1712.2 178.6 1713.8 173.0 1714.8 168.0 1719.4 171.5 1725.0 174.1 1729.5 175.6 1732.1 173.6 1733.1 178.6 1727.5 180.7 1721.9 185.3 1715.3 182.7 1710.2 183.7 1708.7 186.3 1705.1 188.3M1711.7 188.3 1712.7 192.9 1715.3 197.5 1713.3 203.6 1710.2 204.6 1710.2 209.7 1709.2 214.3 1709.7 217.3 1707.1 219.9 1704.1 220.9 1701.0 219.9 1699.0 222.9 1695.9 222.9 1690.9 222.9 1688.8 224.4 1686.3 228.0 1683.7 228.5 1680.7 226.5 1681.2 222.9 1677.1 222.4 1672.0 223.4 1666.9 224.4 1661.9 226.0 1658.8 226.0 1659.3 223.9 1663.4 222.4 1668.0 218.8 1672.0 218.3 1677.1 217.8 1682.2 218.3 1684.8 216.3 1688.3 211.7 1691.4 208.2 1689.3 210.2 1691.9 211.2 1696.5 209.7 1699.5 206.6 1702.6 203.1 1704.6 198.5 1705.1 194.4 1706.6 190.4 1709.2 189.3 1711.7 188.3M1658.8 226.5 1661.9 228.0 1662.9 233.1 1661.3 238.7 1657.8 241.2 1655.2 239.7 1655.2 235.1 1652.7 232.6 1653.2 229.5 1656.3 228.0 1658.8 226.5M1667.5 226.5 1672.5 225.0 1677.6 225.0 1678.1 227.0 1675.6 229.5 1670.5 232.1 1666.9 231.1 1666.4 228.5 1667.5 226.5M1611.0 270.2 1613.0 271.8 1611.0 277.9 1608.4 284.0 1607.4 287.6 1604.9 284.0 1603.8 279.4 1606.4 274.3 1611.0 270.2M1554.0 296.7 1557.5 299.3 1555.0 303.8 1550.4 306.4 1545.8 304.9 1545.8 300.8 1548.9 297.7 1554.0 296.7M1606.4 304.9 1609.4 304.3 1615.0 305.4 1614.5 312.5 1611.5 317.6 1611.5 322.7 1613.5 326.7 1618.6 328.8 1623.7 332.8 1624.2 334.9 1620.1 332.8 1616.1 329.3 1611.0 328.8 1606.4 326.7 1606.4 323.7 1603.3 320.6 1602.3 316.0 1604.9 315.0 1605.4 309.9 1606.4 304.9M1613.5 363.4 1615.5 358.8 1621.1 358.3 1623.7 355.7 1628.8 353.2 1631.3 349.1 1634.9 352.2 1635.9 358.3 1634.9 363.4 1631.3 368.5 1630.3 370.5 1626.7 368.5 1623.7 365.9 1621.1 361.9 1617.6 361.3 1613.5 363.4M1547.4 390.9 1550.4 388.8 1554.5 390.3 1559.1 386.3 1562.1 383.7 1567.7 382.7 1572.8 376.1 1577.9 373.6 1580.9 370.5 1584.0 366.9 1587.0 363.4 1589.6 365.4 1591.6 369.0 1596.2 371.0 1599.3 372.5 1594.7 375.6 1591.6 377.6 1592.6 383.7 1594.7 389.3 1598.2 393.9 1592.1 394.4 1590.6 399.0 1588.1 404.1 1586.0 406.6 1584.0 410.7 1584.5 415.8 1582.5 417.8 1575.8 420.4 1575.3 416.8 1569.2 415.3 1564.1 416.3 1560.6 414.3 1557.0 414.8 1553.5 413.8 1553.5 408.2 1550.9 404.6 1548.4 400.5 1547.4 397.0 1547.9 393.9 1547.4 390.9M1477.6 370.5 1482.7 372.5 1488.8 372.5 1492.9 377.1 1497.5 381.7 1503.6 387.3 1508.7 389.8 1514.3 393.4 1518.9 396.5 1520.9 401.0 1524.5 404.6 1526.5 410.2 1531.6 414.3 1531.1 421.9 1531.1 428.5 1524.5 429.0 1520.9 424.4 1515.3 419.9 1509.7 414.3 1506.1 409.2 1503.1 403.1 1500.0 399.0 1497.5 394.4 1494.9 390.3 1490.9 387.3 1487.3 382.7 1483.2 378.1 1479.2 374.6 1477.6 370.5M1528.0 433.6 1532.1 429.0 1536.2 430.0 1540.2 430.6 1543.8 431.1 1547.4 433.6 1554.5 434.1 1557.0 431.6 1560.6 432.6 1565.7 434.1 1566.7 437.7 1571.8 438.2 1574.8 438.7 1575.8 443.3 1569.2 441.2 1562.6 441.2 1556.5 440.7 1552.4 439.2 1545.8 438.2 1539.7 437.2 1534.1 436.7 1529.5 434.1 1528.0 433.6M1629.3 390.9 1626.2 394.4 1621.1 394.4 1616.1 393.9 1608.4 392.4 1606.4 393.9 1604.3 396.5 1602.3 401.5 1600.3 406.6 1597.7 413.2 1599.8 416.8 1600.8 424.4 1600.8 427.5 1605.4 427.5 1605.4 421.9 1604.9 414.3 1608.4 413.2 1611.0 419.4 1614.5 423.4 1617.6 423.4 1616.6 419.4 1614.0 416.8 1609.9 408.7 1617.1 405.1 1620.6 403.6 1619.6 402.1 1613.0 403.1 1608.4 404.1 1606.4 397.5 1611.0 396.5 1618.6 397.0 1625.2 397.0 1629.3 390.9M1659.3 405.1 1663.4 402.6 1667.5 401.0 1674.1 402.6 1675.6 405.6 1675.1 412.2 1679.7 415.8 1682.2 415.8 1687.8 410.2 1693.9 406.6 1699.0 408.2 1705.1 411.2 1710.2 412.2 1717.8 415.3 1725.5 418.3 1728.5 420.4 1734.6 426.0 1738.2 429.5 1743.3 431.1 1745.3 433.6 1743.3 437.2 1746.8 440.7 1752.4 445.8 1756.0 448.9 1758.5 451.4 1757.0 452.9 1751.9 450.9 1744.8 450.4 1738.2 444.3 1733.1 439.2 1726.5 437.7 1722.9 441.2 1720.9 445.3 1714.8 445.8 1710.2 445.3 1706.6 441.2 1700.0 440.2 1696.5 441.7 1693.9 437.2 1698.0 434.1 1693.4 427.5 1684.8 422.4 1678.6 419.4 1673.6 417.8 1669.0 419.9 1668.0 416.3 1664.4 413.8 1665.4 410.2 1660.8 406.6 1659.3 405.1M1717.8 453.5 1714.8 462.6 1713.3 467.7 1712.7 475.3 1711.2 483.0 1709.2 488.1 1704.1 488.6 1700.0 485.5 1693.9 482.0 1689.8 479.4 1683.7 475.8 1682.2 474.3 1684.2 469.2 1688.3 466.2 1688.3 461.1 1688.8 459.6 1684.8 459.1 1679.7 461.1 1674.6 459.6 1667.5 457.5 1663.9 456.5 1659.8 461.1 1657.3 462.1 1654.7 466.2 1652.2 472.8 1648.6 474.8 1644.0 474.3 1640.0 469.7 1634.4 471.3 1629.3 473.3 1625.7 479.9 1621.1 483.0 1618.6 482.5 1615.0 486.5 1614.5 491.1 1610.5 495.7 1606.4 499.3 1600.3 500.8 1596.2 502.3 1590.6 504.3 1586.0 504.3 1580.4 508.4 1575.8 509.9 1573.8 513.5 1571.3 518.6 1571.3 523.7 1569.7 528.8 1572.3 533.9 1573.8 540.0 1575.8 545.6 1577.9 551.2 1579.9 556.8 1581.4 561.8 1581.4 568.5 1578.4 570.0 1578.4 574.1 1584.5 577.1 1592.6 577.6 1597.2 574.6 1602.8 572.0 1611.0 571.5 1618.6 571.5 1623.2 569.5 1626.7 566.4 1632.8 563.9 1639.0 563.4 1648.1 560.3 1656.8 559.8 1661.9 559.3 1666.9 561.8 1672.5 562.4 1676.1 566.4 1680.7 571.5 1683.2 576.6 1685.8 575.1 1689.8 570.5 1693.9 564.9 1693.9 569.5 1691.9 575.6 1693.9 577.6 1695.9 575.6 1697.5 580.2 1701.0 581.2 1703.6 585.3 1704.1 588.8 1708.2 592.4 1712.7 594.4 1716.3 594.4 1722.9 596.5 1727.5 593.4 1730.0 594.4 1733.1 595.4 1737.2 598.0 1740.7 594.9 1744.8 591.9 1747.3 591.4 1753.5 591.4 1755.5 589.8 1756.0 586.3 1757.0 581.2 1760.1 576.1 1762.1 571.5 1764.1 566.9 1768.7 563.9 1770.8 558.8 1771.8 553.2 1774.3 544.5 1773.8 538.9 1771.8 531.3 1770.8 528.3 1767.2 524.2 1762.1 519.1 1760.1 514.0 1756.0 512.5 1753.5 508.9 1749.9 503.8 1746.8 500.8 1742.8 497.7 1737.7 495.2 1735.6 489.1 1733.1 482.0 1732.6 475.3 1728.0 471.8 1724.4 470.8 1722.9 464.6 1719.4 458.5 1717.8 453.5M1729.0 606.1 1736.7 608.2 1747.3 607.1 1747.3 613.8 1745.3 618.8 1740.2 620.9 1735.6 620.4 1732.1 613.8 1729.0 608.7 1729.0 606.1M1871.5 574.1 1875.1 577.1 1879.7 581.7 1882.2 586.8 1885.3 587.3 1887.8 590.3 1892.9 591.9 1901.0 590.9 1900.0 595.4 1898.0 598.5 1893.4 599.0 1892.4 603.6 1888.3 609.2 1884.2 610.7 1881.7 609.2 1883.7 604.6 1880.2 601.5 1877.1 598.5 1881.2 595.4 1881.2 589.3 1879.2 584.7 1873.6 578.1 1871.5 574.1M1871.5 605.1 1877.6 607.1 1879.7 610.2 1877.6 614.3 1874.1 617.8 1872.0 621.9 1868.0 622.4 1863.9 625.0 1861.9 632.1 1856.8 635.6 1850.1 636.1 1843.5 634.1 1840.0 632.1 1842.5 628.5 1847.6 623.9 1854.2 620.9 1860.3 617.3 1864.9 612.7 1866.9 610.2 1868.5 606.6 1871.5 605.1M1243.5 460.1 1248.1 472.8 1249.1 477.9 1246.1 483.0 1244.0 489.6 1241.0 500.8 1236.9 514.0 1232.3 526.2 1222.7 528.8 1216.6 524.2 1214.5 518.6 1213.0 511.0 1216.1 506.9 1218.6 500.3 1216.6 490.6 1218.1 483.0 1224.2 480.4 1229.3 477.9 1236.4 470.2 1241.0 464.6 1243.5 460.1M1399.3 349.1 1403.8 352.2 1406.9 356.3 1409.4 361.9 1407.9 366.4 1402.8 369.0 1399.8 365.4 1398.8 358.3 1399.3 349.1M963.6 144.0 971.3 142.5 975.3 141.5 985.0 141.0 994.2 140.5 999.8 138.4 998.8 135.4 1001.3 130.8 994.2 129.3 993.2 126.2 991.6 123.7 986.5 121.1 984.5 116.6 982.0 114.5 978.9 114.0 979.9 111.5 983.5 105.9 974.3 105.4 977.4 100.8 967.2 100.8 964.2 106.4 960.1 112.5 964.2 117.1 967.2 120.1 974.8 121.6 977.4 127.2 969.2 127.8 969.2 133.9 967.2 136.4 977.4 136.4 971.3 138.4 963.6 144.0M954.5 118.1 964.2 121.1 962.1 127.8 960.1 133.4 950.9 135.9 944.3 136.9 941.8 131.8 943.8 126.7 941.8 124.2 949.4 122.7 950.4 118.1 954.5 118.1M1231.8 167.5 1234.4 176.1 1234.4 180.2 1240.0 186.3 1245.6 194.4 1243.5 199.0 1241.5 203.6 1243.0 208.2 1248.6 210.7 1254.7 211.7 1264.9 211.2 1266.9 208.7 1265.4 200.5 1262.4 195.4 1261.3 188.8 1259.8 185.3 1252.2 184.2 1253.7 179.2 1248.6 172.5 1253.7 169.0 1263.4 168.5 1262.4 161.9 1253.2 159.3 1242.5 162.9 1231.8 167.5M594.7 270.8 597.2 275.3 595.7 275.8 593.7 272.3 594.7 270.8M599.8 263.6 600.8 265.7 598.8 266.2 599.8 263.6M591.1 263.1 595.7 263.6 594.2 264.1 591.1 263.1M605.9 273.8 608.4 277.9 606.9 278.9 605.9 273.8M199.3 297.7 203.3 298.7 204.9 299.8 200.8 302.8 199.3 299.8 199.3 297.7M195.2 292.6 198.8 293.1 196.7 294.2 195.2 292.6M187.1 289.1 190.1 290.6 188.1 290.6 187.1 289.1M179.4 286.0 182.0 286.0 181.0 287.6 179.4 286.0M1625.2 335.4 1630.3 335.9 1631.8 341.5 1629.8 344.0 1628.8 348.1 1625.7 346.1 1626.7 341.0 1625.2 335.4M1613.0 338.4 1618.1 340.5 1616.1 345.1 1613.0 345.6 1613.0 338.4M1616.1 343.5 1621.1 344.0 1619.6 352.7 1616.1 348.6 1616.1 343.5M1623.2 342.0 1623.7 345.6 1620.6 350.1 1621.1 345.6 1623.2 342.0M1604.9 330.3 1611.0 331.3 1609.4 336.4 1606.4 335.4 1604.9 330.3M1589.1 356.3 1595.7 351.2 1601.3 344.5 1599.8 341.5 1596.2 346.6 1590.6 352.7 1589.1 356.3M1575.3 440.2 1578.9 440.2 1581.4 441.7 1578.9 443.8 1575.3 441.7 1575.3 440.2M1583.0 441.2 1586.5 441.2 1585.5 444.3 1583.0 443.8 1583.0 441.2M1587.0 442.3 1591.6 440.7 1598.2 441.2 1598.7 443.3 1593.2 444.3 1587.6 444.8 1587.0 442.3M1602.8 441.7 1608.4 441.2 1616.1 440.7 1618.1 441.2 1616.1 443.8 1608.4 444.3 1602.8 443.8 1602.8 441.7M1621.1 451.4 1626.2 447.3 1631.3 444.8 1639.0 441.7 1640.0 442.8 1633.9 446.3 1627.8 449.9 1622.7 451.9 1621.1 451.4M1599.3 447.3 1604.9 447.9 1607.4 450.9 1603.3 450.9 1599.3 448.4 1599.3 447.3M1641.5 389.3 1644.0 392.9 1647.6 393.9 1644.0 397.5 1643.5 401.5 1641.0 396.5 1641.5 389.3M1633.9 414.8 1639.0 415.3 1638.4 418.3 1634.4 417.3 1633.9 414.8M1644.0 415.8 1651.7 413.2 1657.8 416.3 1653.2 417.3 1645.6 417.8 1644.0 415.8M1747.3 427.5 1754.0 427.0 1758.5 426.5 1763.6 423.4 1767.2 420.9 1765.7 424.4 1761.1 429.5 1756.0 430.6 1749.9 430.0 1747.3 427.5M1759.6 412.2 1765.2 415.8 1769.2 420.4 1771.3 422.9 1769.7 422.4 1764.7 417.3 1759.6 412.2M1781.4 427.0 1785.5 431.1 1784.5 434.1 1781.4 430.6 1781.4 427.0M1789.1 434.6 1794.7 437.7 1793.7 439.7 1789.1 436.7 1789.1 434.6M1804.9 445.8 1811.0 447.9 1809.9 449.4 1805.4 448.4 1804.9 445.8M1809.9 441.2 1813.0 444.8 1812.0 446.3 1809.9 443.3 1809.9 441.2M1840.0 473.8 1843.5 477.9 1842.5 478.9 1840.5 476.9 1840.0 473.8M1845.1 483.0 1849.1 488.1 1847.6 489.1 1845.1 484.5 1845.1 483.0M1827.8 501.8 1834.9 506.9 1842.5 512.5 1840.0 513.0 1831.8 507.9 1827.8 503.3 1827.8 501.8M1894.9 488.1 1900.5 487.0 1901.5 491.1 1895.9 491.6 1894.9 488.1M1903.1 482.0 1908.2 482.0 1908.7 484.5 1903.1 484.5 1903.1 482.0M1055.8 205.6 1060.3 204.6 1072.0 204.1 1069.5 209.2 1069.5 212.2 1065.4 210.7 1056.8 207.7 1055.8 205.6M1034.4 190.4 1039.5 189.3 1042.5 192.9 1041.5 199.5 1035.9 201.0 1035.4 196.5 1034.4 190.4M1036.4 180.7 1040.5 180.2 1041.0 185.3 1039.5 188.3 1036.4 185.8 1036.4 180.7M1112.2 219.4 1117.3 218.3 1126.5 219.4 1125.0 220.9 1118.9 221.4 1112.8 219.9 1112.2 219.4M1157.0 220.4 1163.1 218.8 1168.7 217.3 1165.7 220.9 1160.6 222.9 1157.0 221.9 1157.0 220.4M1004.9 197.5 1010.0 195.9 1008.9 199.0 1004.9 197.5M143.8 124.7 146.9 126.7 140.2 127.8 143.8 124.7M132.6 129.8 137.7 127.8 136.2 130.3 132.6 129.8M114.8 132.8 125.0 131.3 122.4 132.8 114.8 132.8M92.4 134.9 99.5 133.9 97.0 135.4 92.4 134.9M83.2 136.4 89.9 134.9 87.8 135.9 83.2 136.4M1894.4 134.9 1901.0 135.9 1896.5 136.4 1894.4 134.9M1870.0 129.8 1876.1 129.8 1873.0 130.8 1870.0 129.8M209.5 104.3 217.6 104.3 216.6 107.9 209.5 109.4 205.9 107.4 209.5 104.3M1735.6 175.6 1743.3 171.0 1742.3 170.5 1735.6 175.6M1748.4 168.5 1750.4 167.5 1748.9 167.5 1748.4 168.5M1753.5 164.9 1758.5 162.4 1756.0 162.4 1753.5 164.9M1763.6 160.8 1767.2 158.3 1765.7 158.3 1763.6 160.8M1771.3 156.3 1774.3 153.7 1772.8 153.7 1771.3 156.3M1779.4 148.1 1783.0 145.1 1781.4 144.5 1779.4 148.1M1784.0 143.0 1789.6 140.5 1787.6 140.0 1784.0 143.0M1906.6 792.4 1883.2 793.9 1860.3 792.4 1845.1 793.9 1832.3 792.9 1824.7 790.9 1819.6 786.8 1812.0 784.7 1805.9 781.7 1812.0 778.1 1819.1 772.0 1832.3 768.5 1845.1 765.4 1852.7 762.9 1859.3 761.8 1852.2 760.8 1837.4 758.3 1817.1 758.8 1801.8 756.8 1786.0 756.8 1766.2 750.1 1745.8 747.6 1730.6 744.0 1719.9 741.5 1700.0 738.9 1684.8 736.9 1664.4 736.4 1653.2 736.9 1633.9 737.9 1613.5 737.9 1583.0 737.4 1567.7 735.9 1552.4 736.4 1532.1 735.9 1520.4 733.9 1501.5 734.9 1486.3 734.9 1471.0 737.4 1454.2 736.9 1430.3 738.9 1409.9 741.0 1389.6 746.6 1374.3 751.7 1362.1 753.2 1356.5 756.2 1348.9 768.0 1341.8 770.0 1338.7 760.3 1333.6 753.2 1318.3 743.0 1298.0 741.0 1286.8 740.0 1267.5 737.9 1255.2 736.4 1236.9 740.0 1221.7 743.0 1196.2 747.1 1175.9 750.6 1155.5 752.2 1135.1 755.7 1114.8 756.2 1094.4 755.2 1076.1 755.7 1053.7 757.3 1033.4 756.8 1013.0 757.3 992.6 758.8 967.2 760.8 941.8 768.5 921.4 772.5 898.5 781.2 880.7 784.7 860.3 787.3 840.0 793.4 819.6 797.0 809.4 800.0 789.1 795.9 768.7 793.9 748.4 793.9 728.0 792.9 707.7 787.8 687.3 783.2 674.6 778.1 670.5 769.5 680.7 756.2 684.3 740.0 689.9 729.8 700.0 724.7 705.1 721.1 697.5 721.1 679.7 724.7 669.5 729.8 659.8 733.9 651.7 740.0 643.5 746.6 641.5 755.2 633.9 766.4 616.1 771.5 600.8 772.0 575.4 774.1 555.0 771.5 535.1 770.5 509.2 769.5 483.7 773.6 468.5 779.7 445.6 780.7 412.5 778.6 379.4 775.6 346.3 774.6 313.3 778.6 280.2 782.2 254.7 785.3 229.3 788.3 203.9 792.4 188.6 797.0 178.4 803.6 163.1 810.2 153.0 816.3M78.7 828.5 127.5 829.0 178.4 830.5 201.3 831.6M97.0 821.4 137.7 822.4 178.4 825.5 198.8 828.0M158.1 802.0 178.4 801.5 188.6 804.6 173.3 806.1 158.1 802.0M147.9 810.2 168.2 809.7 173.3 812.2 147.9 810.2M626.2 752.7 633.9 751.2 643.5 757.8 639.0 765.4 628.8 762.9 626.2 752.7M748.4 796.5 763.6 795.9 768.7 801.0 748.4 803.6 738.2 801.0 748.4 796.5M687.3 803.6 738.2 811.2 789.1 812.7 829.8 808.7 850.2 805.1M481.2 765.4 493.9 764.9 496.5 768.0 483.7 768.5 481.2 765.4M611.0 807.6 656.8 817.8 677.1 819.4" stroke-width="1.25"/><path d="M901.6 252.4 902.6 254.0 901.0 254.0 901.6 252.4M906.6 254.5 909.7 253.5 908.7 256.5 906.6 254.5M912.2 255.5 914.3 256.0 913.3 257.5 912.2 255.5M918.9 252.9 921.9 252.9 920.4 255.5 918.9 252.9M861.9 206.6 864.4 206.1 862.9 207.1 861.9 206.6M905.1 232.1 907.7 232.1 906.1 233.1 905.1 232.1M868.5 313.5 870.5 314.5 872.5 322.2 874.6 321.1 868.5 313.5M1273.6 505.4 1276.6 505.9 1275.1 507.9 1273.6 505.4M1284.2 500.8 1286.8 501.8 1285.3 503.3 1284.2 500.8M1342.8 646.3 1351.4 648.4 1347.9 651.9 1342.8 649.9 1342.8 646.3M1255.8 635.1 1258.3 635.1 1256.8 636.1 1255.8 635.1M1184.0 637.7 1185.5 637.7 1184.5 638.7 1184.0 637.7M1365.7 668.7 1368.2 669.2 1366.7 669.7 1365.7 668.7M1213.0 457.0 1214.0 459.6 1212.5 459.1 1213.0 457.0M1263.9 334.9 1270.0 334.9 1267.5 336.4 1263.9 334.9M526.5 400.0 530.6 400.5 529.6 403.6 527.0 404.1 526.5 400.0M435.4 536.9 436.9 536.9 435.9 537.4 435.4 536.9M581.5 570.0 591.6 570.0 590.6 570.5 581.5 570.0M231.3 488.1 233.4 488.6 232.4 489.6 231.3 488.1M118.4 469.2 120.4 470.2 118.4 470.2 118.4 469.2M113.3 467.2 116.3 467.7 114.8 469.2 113.3 467.2M100.5 506.4 102.1 506.4 101.1 507.4 100.5 506.4M179.4 506.9 179.9 506.9 179.4 507.4 179.4 506.9M1872.5 391.9 1873.6 391.4 1873.0 392.4 1872.5 391.9M1862.9 362.9 1864.4 362.9 1863.9 363.4 1862.9 362.9M1676.6 361.9 1678.1 359.8 1677.1 360.3 1676.6 361.9M1728.5 331.3 1730.6 329.8 1729.5 331.8 1728.5 331.3M1733.6 322.7 1734.6 321.1 1734.1 323.2 1733.6 322.7M1694.9 350.7 1695.9 350.1 1695.4 351.2 1694.9 350.7M1764.7 361.9 1765.7 360.8 1765.2 362.4 1764.7 361.9M1797.2 364.4 1798.2 363.4 1798.2 364.4 1797.2 364.4M130.1 495.7 128.5 496.2 128.0 496.7 130.1 495.7M1839.5 401.5 1842.0 401.5 1840.5 402.1 1839.5 401.5M191.1 389.8 192.7 388.8 192.2 390.3 191.1 389.8M1363.1 435.6 1361.6 436.7 1361.1 436.1 1363.1 435.6M1364.1 383.7 1366.7 378.6 1365.2 377.6 1364.1 383.7M1363.1 373.6 1365.7 365.9 1364.1 364.4 1363.1 373.6M1463.4 336.9 1465.9 330.3 1464.9 329.8 1463.4 336.9M1463.9 345.6 1465.4 343.0 1464.4 342.5 1463.9 345.6M1468.5 363.4 1470.5 360.8 1469.5 360.3 1468.5 363.4M1847.6 546.6 1847.6 547.1 1847.1 546.6 1847.6 546.6M644.1 336.9 645.6 336.9 645.1 337.9 644.1 336.9M669.5 306.9 672.0 306.4 671.0 307.9 669.5 306.9M678.1 312.0 679.2 312.0 678.7 313.0 678.1 312.0M679.2 316.0 681.2 316.0 680.2 318.1 679.2 316.0M681.2 323.7 682.2 323.7 681.7 325.7 681.2 323.7M682.2 327.8 682.7 327.2 682.7 329.3 682.2 327.8M689.3 331.3 690.4 331.8 689.9 332.8 689.3 331.3M678.1 336.9 679.2 336.9 678.7 337.9 678.1 336.9M662.9 234.6 663.9 234.1 663.4 235.1 662.9 234.6M1290.4 161.9 1297.5 164.9 1303.1 166.9 1299.5 175.1 1291.9 175.1 1290.4 167.5 1290.4 161.9" stroke-width="1.00"/></g>
<rect x="81.5" y="93.7" width="1822.4" height="763.4" fill="none" stroke="#222" stroke-width="1.6"/>
<g class="ax"><text x="26.0" y="176.3" textLength="47" lengthAdjust="spacingAndGlyphs">45°<tspan dx="9">N</tspan></text><text x="26.0" y="252.6" textLength="47" lengthAdjust="spacingAndGlyphs">30°<tspan dx="9">N</tspan></text><text x="26.0" y="329.0" textLength="47" lengthAdjust="spacingAndGlyphs">15°<tspan dx="9">N</tspan></text><text x="44.1" y="405.3" textLength="17" lengthAdjust="spacingAndGlyphs">0°</text><text x="26.0" y="481.6" textLength="47" lengthAdjust="spacingAndGlyphs">15°<tspan dx="9">S</tspan></text><text x="26.0" y="558.0" textLength="47" lengthAdjust="spacingAndGlyphs">30°<tspan dx="9">S</tspan></text><text x="26.0" y="634.3" textLength="47" lengthAdjust="spacingAndGlyphs">45°<tspan dx="9">S</tspan></text><text x="26.0" y="710.6" textLength="47" lengthAdjust="spacingAndGlyphs">60°<tspan dx="9">S</tspan></text><text x="26.0" y="787.0" textLength="47" lengthAdjust="spacingAndGlyphs">75°<tspan dx="9">S</tspan></text><text x="201.8" y="880.0" textLength="55.5" lengthAdjust="spacingAndGlyphs">150°<tspan dx="9">W</tspan></text><text x="354.5" y="880.0" textLength="55.5" lengthAdjust="spacingAndGlyphs">120°<tspan dx="9">W</tspan></text><text x="511.7" y="880.0" textLength="46.5" lengthAdjust="spacingAndGlyphs">90°<tspan dx="9">W</tspan></text><text x="664.4" y="880.0" textLength="46.5" lengthAdjust="spacingAndGlyphs">60°<tspan dx="9">W</tspan></text><text x="817.0" y="880.0" textLength="46.5" lengthAdjust="spacingAndGlyphs">30°<tspan dx="9">W</tspan></text><text x="977.9" y="880.0" textLength="17.5" lengthAdjust="spacingAndGlyphs">0°</text><text x="1122.4" y="880.0" textLength="46.5" lengthAdjust="spacingAndGlyphs">30°<tspan dx="9">E</tspan></text><text x="1275.0" y="880.0" textLength="46.5" lengthAdjust="spacingAndGlyphs">60°<tspan dx="9">E</tspan></text><text x="1427.7" y="880.0" textLength="46.5" lengthAdjust="spacingAndGlyphs">90°<tspan dx="9">E</tspan></text><text x="1575.9" y="880.0" textLength="55.5" lengthAdjust="spacingAndGlyphs">120°<tspan dx="9">E</tspan></text><text x="1728.5" y="880.0" textLength="55.5" lengthAdjust="spacingAndGlyphs">150°<tspan dx="9">E</tspan></text></g>
<text class="ti" x="597.6" y="59.4" textLength="803.9" lengthAdjust="spacingAndGlyphs">EMI-GF5(01A)  TOC (November 2023)</text>
<text class="pl" x="83.0" y="58.3" textLength="65.7" lengthAdjust="spacingAndGlyphs">(a)</text>
<rect x="1957.2" y="27.4" width="46.7" height="920.8" fill="url(#jet)" stroke="#111" stroke-width="1.4"/>
<text class="cbl" x="2016" y="956.2">0</text>
<text class="cbl" x="2016" y="772.0">100</text>
<text class="cbl" x="2016" y="587.9">200</text>
<text class="cbl" x="2016" y="403.7">300</text>
<text class="cbl" x="2016" y="219.6">400</text>
<text class="cbl" x="2016" y="35.4">500</text>
<path d="M2003.9 948.2h5.5M2003.9 764.0h5.5M2003.9 579.9h5.5M2003.9 395.7h5.5M2003.9 211.6h5.5M2003.9 27.4h5.5" stroke="#111" stroke-width="1.4"/>
<text class="vcd" transform="translate(2091.7 435.0) rotate(-90)" text-anchor="middle" textLength="184" lengthAdjust="spacingAndGlyphs">VCD (DU)</text><defs><clipPath id="clb"><rect x="78.5" y="1084.1" width="1822.6" height="763.5"/></clipPath></defs>
<path d="M226.4 1084.1V1847.5M379.1 1084.1V1847.5M531.8 1084.1V1847.5M684.5 1084.1V1847.5M837.2 1084.1V1847.5M989.9 1084.1V1847.5M1142.5 1084.1V1847.5M1295.2 1084.1V1847.5M1447.9 1084.1V1847.5M1600.6 1084.1V1847.5M1753.3 1084.1V1847.5M78.5 1160.4H1901.2M78.5 1236.8H1901.2M78.5 1313.1H1901.2M78.5 1389.5H1901.2M78.5 1465.8H1901.2M78.5 1542.2H1901.2M78.5 1618.5H1901.2M78.5 1694.8H1901.2M78.5 1771.2H1901.2" stroke="#c8c8c8" stroke-width="1.3" stroke-dasharray="6 4" fill="none"/>
<g clip-path="url(#clb)" fill="none" stroke="#000" stroke-linejoin="round" stroke-linecap="round"><path d="M145.0 1071.3 151.1 1080.0 163.8 1084.6 165.8 1090.7 178.0 1091.2 185.7 1090.7 190.8 1090.7 188.2 1096.8 180.6 1101.4 170.4 1104.9 160.2 1109.0 152.1 1112.0 159.2 1110.0 167.9 1108.0 178.0 1105.4 185.7 1101.9 193.3 1097.8 200.9 1094.7 206.0 1091.2 209.1 1088.1 212.1 1084.1 218.3 1077.9 222.3 1080.0 219.3 1083.0 217.2 1087.6 223.9 1087.1 228.9 1085.1 234.0 1083.5 241.7 1081.0 249.3 1081.5 256.9 1083.5 267.1 1083.8 272.2 1084.6 278.8 1086.1 284.9 1088.1 292.6 1091.2 295.6 1093.7 297.1 1096.8 300.7 1099.8 304.8 1103.4 309.9 1107.5 315.5 1110.0 322.1 1112.6 326.7 1113.6 328.2 1117.6 332.8 1121.2 337.4 1124.8 340.4 1128.8 336.8 1130.9 342.4 1134.4 349.6 1139.0 355.2 1143.1 358.2 1150.2 358.7 1154.3 359.2 1158.4 358.2 1163.5 356.2 1171.6 357.7 1176.7 356.7 1183.8 359.7 1188.4 363.8 1195.0 366.4 1198.1 369.4 1203.2 372.0 1207.2 376.0 1213.3 381.6 1214.4 386.7 1216.4 388.8 1217.9 393.3 1222.5 393.8 1224.0 396.4 1229.1 398.9 1233.7 401.0 1237.8 405.6 1242.9 409.1 1246.9 408.6 1249.5 413.7 1253.5 418.8 1259.1 419.3 1263.2 423.4 1265.8 428.5 1269.8 430.5 1272.9 433.0 1270.9 428.5 1266.3 426.4 1262.2 423.4 1258.1 420.8 1253.5 417.3 1249.5 414.7 1245.4 411.7 1240.8 407.1 1235.7 405.6 1230.1 405.6 1227.6 408.1 1228.6 412.2 1230.1 415.7 1233.7 418.8 1241.8 423.9 1247.4 428.5 1250.5 433.0 1257.1 437.6 1260.7 442.7 1264.7 448.3 1271.4 452.9 1278.0 453.9 1282.6 452.4 1285.6 455.4 1290.2 459.0 1292.7 463.6 1296.3 469.7 1298.3 475.8 1301.4 481.4 1303.9 488.5 1306.5 496.1 1309.0 501.2 1309.5 505.3 1307.5 508.9 1307.0 514.0 1309.5 520.1 1315.1 524.7 1318.7 531.8 1319.2 536.9 1321.2 543.0 1322.3 544.5 1323.8 548.1 1327.4 552.1 1331.9 553.7 1333.5 553.2 1336.5 556.2 1339.1 558.2 1340.6 560.8 1341.1 564.4 1345.2 567.4 1347.2 571.0 1348.2 574.0 1348.2 578.1 1352.3 581.7 1351.8 580.6 1348.7 584.7 1344.1 587.8 1343.6 590.8 1346.7 592.9 1350.8 595.4 1354.3 595.9 1358.9 596.4 1366.5 595.4 1371.6 593.4 1375.2 589.3 1380.3 587.8 1383.9 582.7 1385.4 582.2 1389.5 580.1 1393.5 578.1 1395.0 580.1 1399.6 583.2 1402.2 581.7 1406.2 579.1 1407.8 576.6 1410.8 576.1 1413.4 577.6 1417.4 578.1 1420.0 583.2 1425.1 587.8 1431.7 591.3 1438.3 594.9 1445.4 597.4 1451.0 601.5 1458.2 603.0 1462.7 607.1 1467.8 615.8 1472.9 623.4 1477.0 627.0 1479.5 631.5 1483.1 632.6 1488.7 633.1 1496.3 631.5 1509.1 631.0 1516.7 629.5 1526.9 627.0 1534.5 625.9 1542.2 625.4 1552.3 625.4 1557.4 623.4 1563.5 620.3 1570.1 617.3 1577.8 615.2 1582.9 616.3 1590.5 614.2 1598.1 613.2 1603.2 611.7 1608.3 613.2 1613.4 608.1 1618.5 605.6 1626.1 606.6 1633.8 605.6 1641.4 607.1 1649.0 610.7 1656.7 615.8 1660.7 623.4 1664.3 628.5 1667.4 636.1 1670.4 643.8 1671.9 647.8 1674.0 651.4 1669.9 658.0 1668.4 651.4 1666.3 645.8 1662.3 641.7 1657.2 639.7 1655.7 637.1 1652.1 638.2 1646.5 642.2 1644.5 644.8 1640.4 647.8 1636.3 653.9 1632.8 654.9 1629.7 646.3 1623.6 646.8 1621.0 651.4 1618.5 657.5 1616.5 659.0 1610.9 662.1 1607.8 666.1 1606.8 663.1 1604.8 659.0 1603.7 659.0 1598.1 664.1 1598.1 671.7 1596.1 673.3 1590.5 672.8 1586.9 679.4 1587.5 689.6 1585.9 696.7 1583.9 698.2 1580.3 701.3 1574.7 699.2 1571.7 697.2 1569.1 692.6 1565.6 692.1 1563.0 695.7 1565.1 703.8 1567.1 709.9 1567.1 714.5 1565.6 718.1 1561.0 722.1 1557.4 725.2 1552.8 729.3 1547.2 733.8 1542.2 737.4 1537.1 742.0 1533.5 743.0 1526.9 742.5 1521.8 744.5 1518.7 749.1 1515.7 754.2 1511.6 759.8 1509.6 764.9 1507.0 770.0 1506.3 776.1 1506.0 781.2 1501.4 781.7 1497.4 785.2 1492.8 787.8 1488.7 790.3 1479.5 790.8 1473.4 791.9 1465.8 791.4 1459.7 793.9 1455.6 798.0 1451.5 801.5 1445.4 804.6 1442.9 809.2 1437.8 811.7 1430.2 812.7 1426.1 811.2 1420.0 810.2 1415.9 804.1 1414.9 799.0 1412.9 793.9 1408.3 788.8 1404.7 783.7 1403.7 777.1 1403.7 768.4 1401.7 764.4 1402.2 760.8 1397.6 753.2 1394.5 746.6 1392.5 743.0 1395.6 739.4 1393.5 737.9 1391.0 732.8 1388.4 735.4 1384.4 732.8 1380.3 729.3 1371.6 726.7 1368.1 722.6 1364.0 716.0 1359.9 709.9 1358.9 702.3 1358.9 697.2 1357.4 693.1 1354.3 688.0 1350.8 681.9 1346.2 676.8 1340.6 674.3 1337.5 669.7 1335.5 664.1 1335.5 659.0 1338.0 652.9 1335.5 646.3 1336.0 642.2 1336.0 638.7 1331.4 632.6 1330.4 633.1 1327.9 632.0 1330.9 628.0 1332.4 625.4 1333.5 623.9 1330.4 621.9 1328.9 624.4 1326.3 620.8 1328.4 616.8 1331.9 612.2 1332.4 608.1 1334.5 605.1 1337.5 604.6 1341.6 601.5 1343.6 599.0 1346.2 595.9 1345.2 593.4 1342.1 588.8 1341.1 584.7 1340.6 580.1 1343.1 575.0 1344.1 571.5 1343.6 567.9 1340.1 564.4 1334.5 563.8 1328.9 564.9 1320.7 566.4 1313.1 561.3 1310.6 554.7 1308.5 547.6 1309.0 541.4 1309.5 537.9 1308.5 540.4 1305.0 540.9 1300.4 542.0 1295.3 544.5 1290.2 547.0 1284.1 548.1 1280.5 544.5 1280.0 539.4 1280.5 531.8 1281.5 529.7 1285.1 529.2 1290.2 524.1 1294.8 519.1 1294.8 512.4 1296.3 507.3 1296.8 502.3 1293.8 499.2 1289.7 495.1 1284.1 492.6 1278.0 492.1 1272.9 492.6 1264.7 495.1 1257.6 494.1 1252.0 496.1 1247.4 500.2 1244.4 507.3 1240.3 512.4 1238.3 519.1 1238.8 525.7 1240.8 530.8 1241.3 535.3 1241.8 534.3 1238.8 533.8 1235.7 539.4 1234.7 544.5 1235.2 549.6 1234.7 554.7 1236.8 557.7 1238.3 562.3 1236.2 565.9 1239.3 568.9 1242.9 568.9 1247.4 571.0 1252.5 573.5 1256.6 576.6 1260.2 580.1 1261.2 581.7 1258.1 582.7 1253.0 581.7 1250.5 579.6 1245.4 578.1 1240.8 576.1 1235.2 575.5 1230.6 578.1 1226.6 582.7 1223.0 586.7 1220.0 590.3 1216.9 593.9 1215.4 597.9 1212.8 601.5 1211.8 605.6 1209.8 604.6 1204.7 603.0 1201.6 603.5 1198.6 606.6 1196.0 608.1 1192.0 608.6 1188.9 612.7 1185.9 613.2 1183.3 615.8 1182.8 623.4 1181.3 623.9 1179.2 628.5 1178.2 632.6 1177.7 633.6 1175.7 630.5 1174.1 629.5 1171.1 632.0 1167.5 637.6 1165.5 642.7 1163.5 648.8 1161.4 649.3 1159.4 653.9 1159.4 660.0 1157.3 662.6 1158.9 656.5 1161.9 653.4 1165.5 656.0 1168.0 661.6 1165.0 666.7 1162.4 674.3 1160.4 679.4 1158.9 684.5 1155.8 682.9 1151.2 680.4 1150.7 677.3 1154.3 676.3 1157.3 670.7 1156.8 665.1 1155.8 661.1 1154.3 659.5 1150.2 657.5 1146.7 661.1 1145.6 662.1 1142.1 660.0 1140.0 653.9 1139.5 646.3 1140.5 641.2 1143.1 636.1 1147.2 631.0 1150.2 627.5 1151.2 632.0 1147.7 637.1 1144.1 641.2 1139.5 647.3 1138.0 651.4 1133.9 659.0 1133.9 666.7 1133.9 676.8 1134.4 684.5 1133.9 690.6 1130.4 696.7 1127.8 702.3 1124.8 705.8 1121.2 704.8 1117.1 698.2 1113.6 692.1 1111.5 685.5 1108.5 680.4 1104.9 676.8 1101.9 674.3 1097.8 671.7 1094.2 668.2 1090.7 664.1 1086.6 662.1 1082.5 658.0 1086.1 654.9 1090.2 647.8 1092.7 641.2 1091.2 636.6 1088.1 635.6 1083.0 633.6 1079.0M507.3 1077.9 509.9 1085.1 510.4 1090.2 516.5 1090.7 519.1 1096.8 526.7 1098.8 536.9 1101.4 544.5 1104.9 554.7 1108.0 564.9 1108.5 571.0 1109.0 571.5 1117.1 575.0 1121.7 580.1 1127.3 585.2 1127.3 588.8 1122.2 587.8 1114.6 595.4 1107.0 599.0 1102.9 600.0 1096.8 595.9 1091.7 591.3 1089.1 595.4 1084.1 592.9 1079.0M755.7 1077.9 763.4 1082.5 768.4 1084.6 771.0 1082.5 774.6 1077.9M721.6 1147.2 719.6 1151.7 715.0 1150.7 709.9 1149.7 704.8 1147.7 688.0 1147.2 692.1 1140.0 698.7 1132.4 707.9 1126.8 706.9 1132.4 715.0 1137.0 720.1 1142.6 721.6 1147.2M557.7 1278.0 560.8 1275.4 565.9 1272.9 570.5 1271.6 575.0 1271.9 580.1 1272.4 585.2 1274.4 590.3 1275.4 595.4 1278.5 600.5 1281.5 605.6 1283.1 612.2 1286.4 610.7 1287.7 605.6 1288.2 597.9 1288.2 594.4 1288.4 596.9 1285.1 592.9 1283.6 589.8 1280.0 585.2 1279.5 580.1 1277.5 576.6 1276.5 573.5 1276.5 569.9 1274.4 564.9 1276.5 560.3 1278.5 557.7 1278.0M611.2 1295.8 617.3 1289.7 619.3 1288.2 625.9 1288.2 633.6 1289.2 637.1 1291.2 641.7 1294.8 639.7 1296.8 633.6 1296.8 628.0 1299.4 625.4 1297.3 620.8 1296.8 615.2 1296.8 611.2 1295.8M591.3 1296.3 597.9 1295.3 601.5 1296.8 599.0 1298.3 593.9 1298.3 591.3 1296.3M647.8 1295.3 656.0 1295.8 655.5 1297.8 647.8 1297.8 647.8 1295.3M674.8 1338.0 679.4 1334.5 679.9 1337.5 674.8 1338.0M677.9 1650.6 684.5 1650.1 693.6 1651.1 696.2 1652.6 692.1 1655.1 687.0 1654.6 681.9 1653.6 677.9 1650.6M796.4 1664.3 804.1 1664.8 807.6 1668.4 801.5 1666.9 796.4 1664.3M1014.8 1076.4 1015.3 1081.5 1016.8 1086.6 1018.4 1089.1 1020.4 1092.7 1025.5 1094.2 1031.6 1093.2 1038.2 1089.6 1042.3 1087.6 1044.3 1084.6 1045.3 1088.1 1046.9 1091.2 1050.4 1095.8 1054.5 1101.4 1055.5 1106.4 1057.5 1107.7 1062.6 1107.0 1062.6 1103.9 1070.3 1103.9 1073.3 1100.8 1074.8 1096.3 1075.4 1091.2 1081.0 1089.1 1085.5 1086.6 1083.0 1082.0 1077.9 1080.5 1077.4 1076.4M1098.3 1079.0 1099.3 1082.0 1104.4 1084.1 1109.5 1084.6 1117.1 1083.0 1127.3 1081.5 1134.9 1081.0 1141.5 1083.5 1133.4 1086.1 1127.3 1086.6 1119.6 1086.1 1113.0 1087.1 1108.9 1088.6 1109.5 1092.2 1113.5 1092.7 1113.5 1097.8 1112.0 1099.3 1107.9 1099.3 1104.9 1096.3 1100.3 1096.8 1097.2 1100.8 1096.7 1104.4 1097.2 1106.4 1097.8 1108.5 1094.2 1110.0 1091.1 1111.5 1089.1 1112.6 1084.5 1112.6 1084.0 1110.5 1078.9 1110.5 1072.8 1112.6 1065.2 1115.1 1062.1 1115.1 1058.6 1112.6 1053.5 1112.6 1048.4 1114.6 1045.3 1114.6 1044.8 1113.1 1041.8 1112.6 1040.2 1110.5 1039.2 1107.0 1042.3 1103.4 1043.8 1098.3 1043.8 1095.5 1038.7 1098.3 1033.6 1098.8 1031.1 1101.4 1031.6 1106.4 1033.6 1109.5 1035.1 1113.6 1033.6 1115.1 1030.6 1116.6 1025.5 1117.6 1022.9 1117.6 1017.8 1118.2 1014.3 1119.7 1013.3 1122.2 1010.7 1124.8 1009.2 1126.3 1007.2 1127.8 1003.1 1129.4 998.0 1130.4 998.0 1133.4 996.5 1135.0 990.9 1136.5 988.8 1138.5 983.7 1138.0 983.2 1136.5 980.2 1136.5 981.7 1141.1 978.1 1142.1 974.6 1141.1 969.5 1141.6 965.9 1143.1 968.0 1144.6 967.5 1146.1 972.0 1146.7 977.1 1148.7 979.2 1151.2 982.2 1153.8 984.3 1157.3 983.5 1162.4 982.7 1167.5 980.7 1168.5 975.1 1168.5 970.5 1168.0 960.3 1167.5 954.2 1167.5 949.1 1167.0 944.6 1169.1 942.5 1171.1 944.6 1175.2 945.1 1180.8 944.0 1184.8 942.0 1188.9 941.5 1192.0 943.0 1194.0 945.1 1195.0 945.1 1198.6 944.0 1201.1 949.1 1201.1 952.2 1200.1 956.8 1201.6 958.3 1204.2 961.3 1206.2 964.4 1204.2 967.5 1202.6 974.6 1202.6 979.2 1202.6 981.7 1199.1 986.3 1198.1 987.3 1194.5 990.9 1192.0 988.3 1188.4 990.9 1185.3 994.4 1181.8 1000.0 1179.2 1006.1 1176.2 1006.1 1173.6 1005.1 1170.6 1008.7 1168.5 1013.3 1168.5 1017.8 1169.6 1022.9 1170.1 1027.0 1167.0 1031.6 1166.0 1035.1 1163.5 1039.7 1165.0 1042.3 1168.0 1043.3 1171.1 1046.3 1173.6 1051.9 1177.2 1056.0 1179.7 1061.1 1181.8 1064.2 1182.8 1066.2 1184.8 1069.8 1186.4 1071.8 1191.4 1069.8 1195.0 1071.8 1196.5 1074.3 1194.0 1076.9 1191.4 1076.9 1188.9 1073.8 1187.4 1075.9 1183.8 1081.0 1184.3 1084.0 1185.3 1083.0 1183.3 1078.4 1181.3 1072.3 1178.7 1070.8 1176.2 1064.7 1175.2 1061.6 1172.6 1059.1 1168.0 1054.0 1165.0 1052.5 1160.9 1053.0 1158.4 1056.5 1156.8 1059.6 1157.3 1060.1 1160.9 1063.1 1158.9 1067.2 1164.0 1071.3 1168.0 1076.4 1169.6 1079.9 1171.1 1084.0 1173.6 1088.1 1176.2 1089.1 1179.2 1088.6 1183.3 1091.6 1187.4 1095.2 1190.9 1097.2 1194.5 1099.8 1199.1 1100.3 1202.1 1103.9 1204.2 1105.9 1202.1 1107.9 1204.2 1106.4 1198.6 1109.5 1196.5 1112.0 1195.0 1107.9 1192.5 1105.9 1189.4 1104.9 1185.3 1106.4 1182.8 1110.5 1184.8 1114.0 1181.3 1119.6 1181.3 1123.2 1181.8 1125.7 1183.8 1129.8 1181.3 1137.5 1180.3 1132.9 1177.7 1130.8 1172.1 1134.9 1168.0 1135.9 1162.9 1141.0 1158.9 1146.6 1152.8 1151.2 1152.3 1155.3 1154.8 1160.4 1160.4 1162.9 1163.5 1169.5 1160.9 1175.6 1158.9 1170.5 1158.4 1168.0 1156.8 1167.0 1154.3 1171.6 1152.3 1180.7 1150.2 1185.8 1149.2 1183.3 1153.3 1184.3 1155.3 1181.7 1159.4 1188.3 1164.0 1196.0 1170.6 1201.6 1177.7 1201.1 1179.7 1190.9 1180.8 1180.7 1180.3 1172.6 1177.2 1165.4 1176.2 1157.8 1176.2 1149.2 1179.7 1138.5 1179.7 1137.5 1181.3 1141.5 1182.3 1137.5 1183.8 1129.8 1183.8 1125.2 1184.8 1123.2 1188.4 1126.8 1190.9 1126.3 1194.0 1128.3 1196.5 1129.3 1201.1 1132.4 1202.1 1135.4 1202.6 1139.5 1205.2 1143.6 1204.7 1145.6 1202.1 1150.2 1202.6 1155.3 1205.7 1160.4 1205.7 1163.9 1203.7 1167.5 1202.1 1171.6 1202.6 1173.6 1203.2 1172.6 1206.7 1172.6 1210.3 1171.0 1215.4 1168.5 1221.0 1167.5 1224.5 1165.4 1228.6 1162.4 1230.6 1157.3 1231.2 1154.2 1230.1 1150.2 1229.1 1144.6 1229.1 1140.5 1231.2 1134.9 1232.2 1128.8 1229.6 1118.1 1228.6 1113.0 1226.6 1107.4 1223.5 1102.8 1222.0 1097.2 1222.5 1092.2 1225.0 1091.1 1229.1 1088.1 1234.7 1084.0 1233.7 1078.9 1231.7 1073.8 1230.6 1068.2 1227.1 1067.2 1224.5 1060.6 1222.5 1054.0 1222.5 1048.4 1220.5 1044.3 1217.9 1041.3 1215.4 1045.3 1210.8 1043.8 1206.7 1042.3 1203.2 1046.3 1201.1 1041.8 1200.1 1039.7 1199.6 1033.6 1201.6 1026.5 1200.6 1017.8 1202.6 1007.7 1202.1 1001.6 1203.2 994.4 1204.7 986.8 1207.2 981.7 1210.3 975.1 1209.8 968.0 1210.3 962.9 1206.7 959.8 1207.2 957.8 1210.3 954.7 1216.4 951.2 1218.4 946.1 1220.5 942.5 1225.0 940.0 1230.1 940.5 1234.7 937.9 1239.8 933.4 1243.9 927.8 1246.9 922.7 1250.0 917.6 1255.1 915.0 1259.7 912.0 1264.7 908.4 1268.8 905.9 1275.4 903.3 1280.5 903.8 1285.1 906.4 1289.7 907.9 1295.3 907.9 1301.9 905.9 1307.5 903.8 1312.1 900.8 1314.6 903.3 1317.2 904.9 1321.8 904.3 1326.3 906.9 1328.9 911.0 1331.9 914.0 1334.0 917.6 1337.5 920.6 1340.6 922.7 1344.1 923.7 1347.7 927.2 1351.8 931.3 1354.3 936.4 1358.4 941.5 1362.0 946.6 1365.5 951.2 1367.1 956.8 1366.0 961.9 1363.5 969.5 1363.0 974.6 1363.5 979.7 1365.5 984.8 1363.5 992.4 1359.9 998.0 1357.9 1003.6 1356.9 1007.7 1356.9 1012.8 1357.9 1016.3 1360.9 1019.4 1365.0 1024.0 1367.6 1028.0 1366.5 1033.1 1366.0 1036.7 1369.6 1039.2 1372.7 1039.7 1377.7 1038.7 1383.3 1037.2 1387.9 1035.7 1392.5 1037.7 1397.1 1041.3 1401.7 1045.8 1406.8 1049.9 1412.4 1052.5 1418.5 1053.5 1421.5 1056.0 1428.1 1057.5 1433.2 1056.5 1438.3 1059.1 1443.9 1060.1 1448.5 1053.5 1456.6 1051.9 1462.2 1049.9 1468.9 1049.9 1477.0 1052.5 1482.6 1056.0 1487.7 1058.6 1493.8 1061.6 1500.9 1063.7 1506.0 1063.7 1511.6 1065.7 1519.2 1067.2 1525.4 1071.3 1532.0 1073.8 1535.5 1076.9 1540.1 1077.9 1544.7 1081.5 1550.3 1083.0 1554.9 1082.0 1557.4 1083.5 1562.0 1084.0 1564.5 1088.1 1565.6 1091.6 1566.6 1096.7 1564.5 1102.8 1563.0 1108.9 1563.0 1116.1 1563.5 1120.1 1562.0 1124.7 1561.0 1129.8 1558.4 1133.9 1555.4 1139.0 1550.3 1144.1 1545.7 1147.6 1541.1 1151.7 1536.0 1155.3 1531.0 1157.3 1524.3 1155.8 1521.3 1159.3 1518.2 1166.0 1515.7 1170.5 1511.6 1169.5 1503.0 1169.0 1497.9 1166.5 1492.3 1170.5 1487.7 1175.6 1485.1 1180.7 1480.1 1188.3 1475.5 1193.4 1471.9 1196.5 1466.8 1196.5 1460.7 1196.0 1453.1 1195.5 1445.4 1191.9 1440.4 1190.4 1432.7 1189.4 1427.1 1187.8 1422.0 1189.9 1416.4 1191.9 1411.8 1194.5 1406.2 1197.5 1402.2 1202.1 1397.6 1206.7 1392.0 1211.8 1385.4 1217.4 1380.3 1222.4 1376.7 1227.5 1371.1 1232.1 1366.0 1237.7 1357.4 1242.3 1348.2 1247.4 1339.6 1250.4 1330.9 1251.0 1328.9 1245.9 1330.4 1240.8 1331.9 1235.7 1332.4 1229.6 1334.0 1224.0 1335.0 1218.9 1336.5 1213.8 1336.5 1210.2 1332.4 1209.7 1328.9 1207.2 1325.3 1204.6 1322.8 1201.6 1318.7 1197.5 1315.1 1192.4 1311.1 1189.9 1308.5 1187.3 1302.4 1184.8 1297.8 1180.7 1293.8 1179.2 1288.7 1179.2 1282.6 1177.7 1277.5 1172.1 1269.8 1170.5 1266.8 1167.0 1260.7 1164.4 1255.1 1161.9 1250.5 1159.3 1246.4 1155.8 1239.8 1155.8 1236.8 1156.3 1237.8 1158.8 1242.3 1163.9 1247.9 1166.0 1244.4 1167.5 1239.3 1168.0 1242.9 1167.0 1246.9 1170.5 1251.0 1175.1 1257.1 1179.7 1263.7 1184.3 1267.8 1188.9 1276.5 1189.4 1280.5 1194.5 1287.1 1199.5 1295.3 1204.1 1302.4 1207.2 1308.5 1208.2 1314.1 1210.2 1320.2 1211.3 1324.8 1215.3 1325.3 1218.9 1324.3 1224.0 1321.8 1231.6 1319.2 1237.7 1317.7 1242.3 1314.6 1248.4 1312.1 1255.5 1309.0 1257.1 1305.5 1262.7 1303.9 1268.8 1302.9 1271.8 1299.4 1276.9 1298.3 1278.9 1293.8 1284.0 1292.7 1284.0 1286.6 1288.1 1283.1 1291.7 1279.5 1294.2 1275.4 1290.7 1272.4 1287.6 1269.3 1283.0 1268.3 1279.5 1264.7 1276.9 1260.7 1276.4 1256.1 1274.9 1256.1 1272.3 1259.7 1267.7 1264.2 1262.1 1266.8 1257.1 1266.3 1252.5 1265.8 1251.5 1264.2 1252.5 1260.2 1251.0 1256.6 1248.4 1259.1 1247.4 1262.2 1244.8 1257.6 1244.8 1253.5 1241.3 1251.0 1238.2 1247.4 1236.2 1243.9 1233.6 1239.3 1235.2 1236.8 1238.2 1235.7 1242.3 1236.8 1245.9 1238.8 1248.4 1242.9 1251.0 1246.9 1256.0 1249.5 1262.1 1252.5 1268.8 1254.6 1275.9 1251.5 1281.5 1257.6 1287.6 1259.1 1293.2 1260.2 1302.9 1261.7 1308.0 1261.2 1315.6 1260.7 1323.2 1260.7 1328.8 1259.7 1330.9 1262.7 1332.9 1267.3 1337.0 1269.3 1340.0 1273.4 1344.1 1275.4 1341.5 1275.9 1345.1 1279.5 1350.7 1283.6 1356.3 1281.5 1359.4 1279.5 1360.4 1282.1 1360.9 1286.6 1360.4 1292.7 1361.4 1297.8 1362.9 1302.9 1365.0 1309.5 1367.0 1314.1 1370.1 1321.8 1372.1 1328.4 1375.1 1332.4 1377.7 1338.5 1379.7 1344.1 1384.3 1348.2 1387.4 1344.1 1389.9 1342.1 1393.5 1337.0 1396.0 1330.9 1398.6 1322.8 1398.0 1318.2 1397.5 1311.6 1401.6 1309.0 1405.2 1306.0 1408.7 1304.4 1413.8 1299.9 1418.4 1296.3 1423.0 1290.7 1429.1 1288.2 1432.1 1284.1 1432.7 1280.0 1437.7 1279.5 1442.8 1279.0 1449.4 1278.0 1453.0 1274.4 1457.1 1275.9 1459.6 1282.6 1461.7 1286.1 1465.7 1291.2 1469.3 1296.3 1470.8 1302.4 1469.8 1308.0 1473.4 1309.0 1476.9 1307.0 1481.0 1305.5 1484.6 1303.9 1486.6 1308.0 1487.6 1313.1 1490.2 1319.7 1491.7 1326.8 1491.2 1333.5 1490.7 1340.6 1490.2 1347.2 1494.7 1351.8 1499.3 1356.4 1500.9 1362.0 1502.9 1368.1 1505.4 1375.2 1510.0 1378.8 1516.6 1382.8 1520.2 1382.3 1518.2 1377.2 1516.1 1371.1 1516.1 1366.0 1513.1 1360.4 1510.0 1357.9 1505.4 1354.3 1500.9 1352.3 1499.3 1346.7 1498.3 1342.1 1494.7 1337.0 1496.8 1331.9 1498.3 1326.8 1498.8 1321.2 1501.9 1320.7 1503.9 1324.8 1508.5 1325.8 1512.1 1328.4 1515.1 1333.5 1517.1 1336.0 1521.7 1336.5 1524.3 1342.1 1523.3 1345.7 1525.8 1344.1 1530.9 1341.1 1533.4 1336.5 1538.5 1335.0 1543.6 1331.9 1545.6 1327.4 1545.6 1320.7 1544.1 1311.6 1541.1 1307.5 1537.0 1304.4 1532.4 1300.9 1528.3 1294.8 1527.8 1291.2 1530.4 1287.1 1532.9 1284.1 1537.0 1280.0 1541.6 1279.5 1545.6 1280.0 1548.7 1280.5 1550.2 1285.6 1552.3 1286.1 1552.8 1281.5 1558.4 1279.5 1563.0 1278.5 1567.5 1276.5 1571.1 1275.9 1575.2 1273.9 1581.8 1272.9 1585.3 1269.8 1589.4 1266.3 1593.5 1264.2 1597.1 1260.2 1599.1 1256.1 1601.1 1252.5 1603.7 1248.5 1606.7 1245.4 1608.8 1240.8 1610.3 1237.3 1606.7 1235.2 1610.3 1232.2 1610.3 1228.1 1607.7 1225.6 1604.7 1223.0 1602.6 1216.9 1598.1 1213.8 1596.5 1211.3 1600.1 1208.2 1604.2 1205.2 1608.8 1202.1 1613.3 1201.6 1612.3 1199.1 1607.7 1198.1 1604.2 1197.0 1599.6 1199.6 1596.0 1200.1 1595.0 1196.5 1590.4 1194.5 1588.4 1192.5 1588.9 1190.4 1593.0 1189.9 1597.1 1188.9 1598.6 1186.4 1603.2 1184.3 1606.7 1181.3 1610.3 1181.8 1612.3 1183.3 1609.3 1186.9 1607.2 1190.9 1609.8 1190.4 1612.3 1188.9 1616.9 1187.4 1621.5 1186.4 1625.0 1187.9 1627.6 1188.9 1627.1 1192.0 1627.6 1196.0 1632.2 1197.0 1634.2 1199.1 1634.7 1202.1 1633.7 1206.2 1634.2 1209.8 1632.7 1213.3 1635.7 1213.8 1640.3 1212.3 1644.4 1211.3 1647.4 1210.3 1648.5 1207.2 1649.0 1203.2 1647.9 1199.1 1645.4 1196.0 1642.9 1192.5 1639.3 1189.4 1639.3 1186.9 1643.9 1184.8 1647.9 1182.3 1650.0 1180.3 1650.5 1176.7 1653.5 1174.1 1655.6 1172.6 1659.1 1171.6 1663.2 1169.6 1667.8 1171.6 1673.4 1168.5 1679.0 1164.5 1683.6 1160.9 1689.2 1156.3 1693.8 1151.7 1695.8 1148.7 1700.4 1144.1 1703.9 1140.0 1705.0 1134.4 1705.5 1129.4 1708.5 1124.3 1709.5 1120.7 1706.5 1117.6 1701.4 1114.6 1695.8 1113.6 1690.7 1114.6 1688.2 1112.6 1686.1 1111.5 1683.6 1109.5 1678.5 1107.5 1682.0 1104.4 1687.1 1102.4 1693.2 1098.3 1698.8 1094.2 1705.5 1091.2 1711.6 1089.1 1717.7 1087.1 1725.3 1087.1 1732.9 1088.1 1740.6 1087.6 1747.2 1087.6 1754.8 1086.1 1760.9 1088.1 1766.0 1089.1 1771.1 1088.1 1774.7 1087.6 1776.2 1084.6 1778.8 1081.0 1783.8 1076.4M1806.7 1077.9 1804.2 1081.5 1799.1 1086.6 1791.5 1094.2 1787.4 1097.8 1783.8 1104.4 1781.8 1112.0 1782.8 1119.7 1785.4 1124.8 1787.4 1129.9 1791.5 1127.3 1796.6 1121.2 1802.7 1115.1 1806.7 1112.0 1813.9 1108.0 1814.4 1104.4 1820.5 1102.9 1816.9 1096.8 1819.5 1094.2 1824.6 1085.1 1832.2 1083.5 1837.3 1082.0 1844.9 1081.5 1855.1 1083.0 1865.3 1080.0M1712.6 1154.8 1711.6 1152.3 1712.6 1147.7 1713.1 1140.0 1713.1 1132.4 1713.6 1127.3 1713.6 1119.7 1715.6 1113.1 1718.7 1118.2 1719.2 1123.2 1718.7 1129.9 1723.8 1139.0 1718.7 1139.0 1715.6 1145.1 1717.7 1150.2 1720.2 1153.3 1716.7 1152.8 1714.1 1155.3 1712.6 1154.8M1702.4 1178.7 1703.9 1174.1 1704.4 1169.1 1709.5 1169.1 1711.1 1163.5 1712.1 1158.4 1716.7 1161.9 1722.3 1164.5 1726.8 1166.0 1729.4 1164.0 1730.4 1169.1 1724.8 1171.1 1719.2 1175.7 1712.6 1173.1 1707.5 1174.1 1706.0 1176.7 1702.4 1178.7M1709.0 1178.7 1710.0 1183.3 1712.6 1187.9 1710.6 1194.0 1707.5 1195.0 1707.5 1200.1 1706.5 1204.7 1707.0 1207.7 1704.4 1210.3 1701.4 1211.3 1698.3 1210.3 1696.3 1213.3 1693.2 1213.3 1688.2 1213.3 1686.1 1214.9 1683.6 1218.4 1681.0 1218.9 1678.0 1216.9 1678.5 1213.3 1674.4 1212.8 1669.3 1213.8 1664.2 1214.9 1659.1 1216.4 1656.1 1216.4 1656.6 1214.4 1660.7 1212.8 1665.3 1209.3 1669.3 1208.8 1674.4 1208.2 1679.5 1208.8 1682.0 1206.7 1685.6 1202.1 1688.7 1198.6 1686.6 1200.6 1689.2 1201.6 1693.8 1200.1 1696.8 1197.0 1699.9 1193.5 1701.9 1188.9 1702.4 1184.8 1703.9 1180.8 1706.5 1179.7 1709.0 1178.7M1656.1 1216.9 1659.1 1218.4 1660.2 1223.5 1658.6 1229.1 1655.1 1231.7 1652.5 1230.1 1652.5 1225.6 1650.0 1223.0 1650.5 1220.0 1653.5 1218.4 1656.1 1216.9M1664.7 1216.9 1669.8 1215.4 1674.9 1215.4 1675.4 1217.4 1672.9 1220.0 1667.8 1222.5 1664.2 1221.5 1663.7 1218.9 1664.7 1216.9M1608.2 1260.7 1610.3 1262.2 1608.2 1268.3 1605.7 1274.4 1604.7 1278.0 1602.1 1274.4 1601.1 1269.8 1603.7 1264.7 1608.2 1260.7M1551.2 1287.1 1554.8 1289.7 1552.3 1294.3 1547.7 1296.8 1543.1 1295.3 1543.1 1291.2 1546.2 1288.2 1551.2 1287.1M1603.7 1295.3 1606.7 1294.8 1612.3 1295.8 1611.8 1302.9 1608.8 1308.0 1608.8 1313.1 1610.8 1317.2 1615.9 1319.2 1621.0 1323.3 1621.5 1325.3 1617.4 1323.3 1613.3 1319.7 1608.2 1319.2 1603.7 1317.2 1603.7 1314.1 1600.6 1311.1 1599.6 1306.5 1602.1 1305.5 1602.6 1300.4 1603.7 1295.3M1610.8 1353.8 1612.8 1349.2 1618.4 1348.7 1621.0 1346.2 1626.1 1343.6 1628.6 1339.6 1632.2 1342.6 1633.2 1348.7 1632.2 1353.8 1628.6 1358.9 1627.6 1360.9 1624.0 1358.9 1621.0 1356.4 1618.4 1352.3 1614.9 1351.8 1610.8 1353.8M1544.6 1381.3 1547.7 1379.3 1551.8 1380.8 1556.3 1376.7 1559.4 1374.2 1565.0 1373.2 1570.1 1366.5 1575.2 1364.0 1578.2 1360.9 1581.3 1357.4 1584.3 1353.8 1586.9 1355.9 1588.9 1359.4 1593.5 1361.5 1596.5 1363.0 1592.0 1366.0 1588.9 1368.1 1589.9 1374.2 1592.0 1379.8 1595.5 1384.4 1589.4 1384.9 1587.9 1389.5 1585.3 1394.5 1583.3 1397.1 1581.3 1401.2 1581.8 1406.2 1579.7 1408.3 1573.1 1410.8 1572.6 1407.3 1566.5 1405.7 1561.4 1406.8 1557.9 1404.7 1554.3 1405.2 1550.7 1404.2 1550.7 1398.6 1548.2 1395.0 1545.6 1391.0 1544.6 1387.4 1545.1 1384.4 1544.6 1381.3M1474.9 1360.9 1480.0 1363.0 1486.1 1363.0 1490.2 1367.6 1494.7 1372.1 1500.9 1377.7 1505.9 1380.3 1511.5 1383.9 1516.1 1386.9 1518.2 1391.5 1521.7 1395.0 1523.8 1400.6 1528.8 1404.7 1528.3 1412.4 1528.3 1419.0 1521.7 1419.5 1518.2 1414.9 1512.6 1410.3 1507.0 1404.7 1503.4 1399.6 1500.3 1393.5 1497.3 1389.5 1494.7 1384.9 1492.2 1380.8 1488.1 1377.7 1484.6 1373.2 1480.5 1368.6 1476.4 1365.0 1474.9 1360.9M1525.3 1424.1 1529.4 1419.5 1533.4 1420.5 1537.5 1421.0 1541.1 1421.5 1544.6 1424.1 1551.8 1424.6 1554.3 1422.0 1557.9 1423.0 1563.0 1424.6 1564.0 1428.1 1569.1 1428.6 1572.1 1429.2 1573.1 1433.7 1566.5 1431.7 1559.9 1431.7 1553.8 1431.2 1549.7 1429.7 1543.1 1428.6 1537.0 1427.6 1531.4 1427.1 1526.8 1424.6 1525.3 1424.1M1626.6 1381.3 1623.5 1384.9 1618.4 1384.9 1613.3 1384.4 1605.7 1382.8 1603.7 1384.4 1601.6 1386.9 1599.6 1392.0 1597.6 1397.1 1595.0 1403.7 1597.1 1407.3 1598.1 1414.9 1598.1 1418.0 1602.6 1418.0 1602.6 1412.4 1602.1 1404.7 1605.7 1403.7 1608.2 1409.8 1611.8 1413.9 1614.9 1413.9 1613.8 1409.8 1611.3 1407.3 1607.2 1399.1 1614.4 1395.6 1617.9 1394.0 1616.9 1392.5 1610.3 1393.5 1605.7 1394.5 1603.7 1387.9 1608.2 1386.9 1615.9 1387.4 1622.5 1387.4 1626.6 1381.3M1656.6 1395.6 1660.7 1393.0 1664.7 1391.5 1671.4 1393.0 1672.9 1396.1 1672.4 1402.7 1677.0 1406.2 1679.5 1406.2 1685.1 1400.6 1691.2 1397.1 1696.3 1398.6 1702.4 1401.7 1707.5 1402.7 1715.1 1405.7 1722.8 1408.8 1725.8 1410.8 1731.9 1416.4 1735.5 1420.0 1740.6 1421.5 1742.6 1424.1 1740.6 1427.6 1744.1 1431.2 1749.7 1436.3 1753.3 1439.3 1755.8 1441.9 1754.3 1443.4 1749.2 1441.4 1742.1 1440.9 1735.5 1434.8 1730.4 1429.7 1723.8 1428.1 1720.2 1431.7 1718.2 1435.8 1712.1 1436.3 1707.5 1435.8 1703.9 1431.7 1697.3 1430.7 1693.8 1432.2 1691.2 1427.6 1695.3 1424.6 1690.7 1418.0 1682.0 1412.9 1675.9 1409.8 1670.9 1408.3 1666.3 1410.3 1665.3 1406.8 1661.7 1404.2 1662.7 1400.6 1658.1 1397.1 1656.6 1395.6M1715.1 1443.9 1712.1 1453.1 1710.6 1458.2 1710.0 1465.8 1708.5 1473.4 1706.5 1478.5 1701.4 1479.0 1697.3 1476.0 1691.2 1472.4 1687.1 1469.9 1681.0 1466.3 1679.5 1464.8 1681.5 1459.7 1685.6 1456.6 1685.6 1451.5 1686.1 1450.0 1682.0 1449.5 1677.0 1451.5 1671.9 1450.0 1664.7 1448.0 1661.2 1447.0 1657.1 1451.5 1654.6 1452.6 1652.0 1456.6 1649.5 1463.3 1645.9 1465.3 1641.3 1464.8 1637.3 1460.2 1631.7 1461.7 1626.6 1463.8 1623.0 1470.4 1618.4 1473.4 1615.9 1472.9 1612.3 1477.0 1611.8 1481.6 1607.7 1486.2 1603.7 1489.7 1597.6 1491.2 1593.5 1492.8 1587.9 1494.8 1583.3 1494.8 1577.7 1498.9 1573.1 1500.4 1571.1 1504.0 1568.5 1509.1 1568.5 1514.2 1567.0 1519.2 1569.6 1524.3 1571.1 1530.4 1573.1 1536.0 1575.2 1541.6 1577.2 1547.2 1578.7 1552.3 1578.7 1558.9 1575.7 1560.5 1575.7 1564.5 1581.8 1567.6 1589.9 1568.1 1594.5 1565.1 1600.1 1562.5 1608.2 1562.0 1615.9 1562.0 1620.5 1560.0 1624.0 1556.9 1630.1 1554.4 1636.2 1553.9 1645.4 1550.8 1654.1 1550.3 1659.1 1549.8 1664.2 1552.3 1669.8 1552.8 1673.4 1556.9 1678.0 1562.0 1680.5 1567.1 1683.1 1565.6 1687.1 1561.0 1691.2 1555.4 1691.2 1560.0 1689.2 1566.1 1691.2 1568.1 1693.2 1566.1 1694.8 1570.7 1698.3 1571.7 1700.9 1575.7 1701.4 1579.3 1705.5 1582.9 1710.0 1584.9 1713.6 1584.9 1720.2 1586.9 1724.8 1583.9 1727.3 1584.9 1730.4 1585.9 1734.5 1588.5 1738.0 1585.4 1742.1 1582.4 1744.7 1581.9 1750.8 1581.9 1752.8 1580.3 1753.3 1576.8 1754.3 1571.7 1757.4 1566.6 1759.4 1562.0 1761.4 1557.4 1766.0 1554.4 1768.1 1549.3 1769.1 1543.7 1771.6 1535.0 1771.1 1529.4 1769.1 1521.8 1768.1 1518.7 1764.5 1514.7 1759.4 1509.6 1757.4 1504.5 1753.3 1503.0 1750.8 1499.4 1747.2 1494.3 1744.1 1491.2 1740.1 1488.2 1735.0 1485.7 1732.9 1479.5 1730.4 1472.4 1729.9 1465.8 1725.3 1462.2 1721.7 1461.2 1720.2 1455.1 1716.7 1449.0 1715.1 1443.9M1726.3 1596.6 1734.0 1598.6 1744.7 1597.6 1744.7 1604.2 1742.6 1609.3 1737.5 1611.4 1732.9 1610.9 1729.4 1604.2 1726.3 1599.2 1726.3 1596.6M1868.8 1564.5 1872.4 1567.6 1877.0 1572.2 1879.5 1577.3 1882.6 1577.8 1885.1 1580.8 1890.2 1582.4 1898.4 1581.3 1897.3 1585.9 1895.3 1589.0 1890.7 1589.5 1889.7 1594.1 1885.6 1599.7 1881.6 1601.2 1879.0 1599.7 1881.1 1595.1 1877.5 1592.0 1874.4 1589.0 1878.5 1585.9 1878.5 1579.8 1876.5 1575.2 1870.9 1568.6 1868.8 1564.5M1868.8 1595.6 1874.9 1597.6 1877.0 1600.7 1874.9 1604.8 1871.4 1608.3 1869.4 1612.4 1865.3 1612.9 1861.2 1615.4 1859.2 1622.6 1854.1 1626.1 1847.5 1626.6 1840.8 1624.6 1837.3 1622.6 1839.8 1619.0 1844.9 1614.4 1851.5 1611.4 1857.6 1607.8 1862.2 1603.2 1864.3 1600.7 1865.8 1597.1 1868.8 1595.6M1240.8 1450.5 1245.4 1463.3 1246.4 1468.3 1243.3 1473.4 1241.3 1480.1 1238.2 1491.2 1234.2 1504.5 1229.6 1516.7 1219.9 1519.2 1213.8 1514.7 1211.8 1509.1 1210.2 1501.4 1213.3 1497.4 1215.8 1490.7 1213.8 1481.1 1215.3 1473.4 1221.4 1470.9 1226.5 1468.3 1233.6 1460.7 1238.2 1455.1 1240.8 1450.5M1396.5 1339.6 1401.1 1342.6 1404.2 1346.7 1406.7 1352.3 1405.2 1356.9 1400.1 1359.4 1397.0 1355.9 1396.0 1348.7 1396.5 1339.6M960.8 1134.4 968.5 1132.9 972.5 1131.9 982.2 1131.4 991.4 1130.9 997.0 1128.8 996.0 1125.8 998.5 1121.2 991.4 1119.7 990.4 1116.6 988.8 1114.1 983.7 1111.5 981.7 1107.0 979.2 1104.9 976.1 1104.4 977.1 1101.9 980.7 1096.3 971.5 1095.8 974.6 1091.2 964.4 1091.2 961.3 1096.8 957.3 1102.9 961.3 1107.5 964.4 1110.5 972.0 1112.0 974.6 1117.6 966.4 1118.2 966.4 1124.3 964.4 1126.8 974.6 1126.8 968.5 1128.8 960.8 1134.4M951.7 1108.5 961.3 1111.5 959.3 1118.2 957.3 1123.8 948.1 1126.3 941.5 1127.3 939.0 1122.2 941.0 1117.1 939.0 1114.6 946.6 1113.1 947.6 1108.5 951.7 1108.5M1229.1 1157.9 1231.6 1166.5 1231.6 1170.6 1237.2 1176.7 1242.8 1184.8 1240.8 1189.4 1238.7 1194.0 1240.3 1198.6 1245.9 1201.1 1252.0 1202.1 1262.1 1201.6 1264.2 1199.1 1262.7 1190.9 1259.6 1185.9 1258.6 1179.2 1257.1 1175.7 1249.4 1174.7 1251.0 1169.6 1245.9 1162.9 1251.0 1159.4 1260.6 1158.9 1259.6 1152.3 1250.4 1149.7 1239.8 1153.3 1229.1 1157.9M591.8 1261.2 594.4 1265.8 592.9 1266.3 590.8 1262.7 591.8 1261.2M596.9 1254.1 597.9 1256.1 595.9 1256.6 596.9 1254.1M588.3 1253.5 592.9 1254.1 591.3 1254.6 588.3 1253.5M603.0 1264.2 605.6 1268.3 604.1 1269.3 603.0 1264.2M196.4 1288.2 200.4 1289.2 202.0 1290.2 197.9 1293.2 196.4 1290.2 196.4 1288.2M192.3 1283.1 195.9 1283.6 193.8 1284.6 192.3 1283.1M184.2 1279.5 187.2 1281.0 185.2 1281.0 184.2 1279.5M176.5 1276.5 179.1 1276.5 178.0 1278.0 176.5 1276.5M1622.5 1325.8 1627.6 1326.3 1629.1 1331.9 1627.1 1334.5 1626.1 1338.5 1623.0 1336.5 1624.0 1331.4 1622.5 1325.8M1610.3 1328.9 1615.4 1330.9 1613.3 1335.5 1610.3 1336.0 1610.3 1328.9M1613.3 1334.0 1618.4 1334.5 1616.9 1343.1 1613.3 1339.1 1613.3 1334.0M1620.5 1332.4 1621.0 1336.0 1617.9 1340.6 1618.4 1336.0 1620.5 1332.4M1602.1 1320.7 1608.2 1321.8 1606.7 1326.8 1603.7 1325.8 1602.1 1320.7M1586.4 1346.7 1593.0 1341.6 1598.6 1335.0 1597.1 1331.9 1593.5 1337.0 1587.9 1343.1 1586.4 1346.7M1572.6 1430.7 1576.2 1430.7 1578.7 1432.2 1576.2 1434.2 1572.6 1432.2 1572.6 1430.7M1580.3 1431.7 1583.8 1431.7 1582.8 1434.8 1580.3 1434.2 1580.3 1431.7M1584.3 1432.7 1588.9 1431.2 1595.5 1431.7 1596.0 1433.7 1590.4 1434.8 1584.8 1435.3 1584.3 1432.7M1600.1 1432.2 1605.7 1431.7 1613.3 1431.2 1615.4 1431.7 1613.3 1434.2 1605.7 1434.8 1600.1 1434.2 1600.1 1432.2M1618.4 1441.9 1623.5 1437.8 1628.6 1435.3 1636.2 1432.2 1637.3 1433.2 1631.2 1436.8 1625.0 1440.4 1620.0 1442.4 1618.4 1441.9M1596.5 1437.8 1602.1 1438.3 1604.7 1441.4 1600.6 1441.4 1596.5 1438.8 1596.5 1437.8M1638.8 1379.8 1641.3 1383.3 1644.9 1384.4 1641.3 1387.9 1640.8 1392.0 1638.3 1386.9 1638.8 1379.8M1631.2 1405.2 1636.2 1405.7 1635.7 1408.8 1631.7 1407.8 1631.2 1405.2M1641.3 1406.2 1649.0 1403.7 1655.1 1406.8 1650.5 1407.8 1642.9 1408.3 1641.3 1406.2M1744.7 1418.0 1751.3 1417.4 1755.8 1416.9 1760.9 1413.9 1764.5 1411.3 1763.0 1414.9 1758.4 1420.0 1753.3 1421.0 1747.2 1420.5 1744.7 1418.0M1756.9 1402.7 1762.5 1406.2 1766.5 1410.8 1768.6 1413.4 1767.0 1412.9 1762.0 1407.8 1756.9 1402.7M1778.8 1417.4 1782.8 1421.5 1781.8 1424.6 1778.8 1421.0 1778.8 1417.4M1786.4 1425.1 1792.0 1428.1 1791.0 1430.2 1786.4 1427.1 1786.4 1425.1M1802.2 1436.3 1808.3 1438.3 1807.3 1439.8 1802.7 1438.8 1802.2 1436.3M1807.3 1431.7 1810.3 1435.3 1809.3 1436.8 1807.3 1433.7 1807.3 1431.7M1837.3 1464.3 1840.8 1468.3 1839.8 1469.4 1837.8 1467.3 1837.3 1464.3M1842.4 1473.4 1846.4 1478.5 1844.9 1479.5 1842.4 1475.0 1842.4 1473.4M1825.1 1492.3 1832.2 1497.4 1839.8 1503.0 1837.3 1503.5 1829.1 1498.4 1825.1 1493.8 1825.1 1492.3M1892.3 1478.5 1897.9 1477.5 1898.9 1481.6 1893.3 1482.1 1892.3 1478.5M1900.4 1472.4 1905.5 1472.4 1906.0 1475.0 1900.4 1475.0 1900.4 1472.4M1053.0 1196.0 1057.5 1195.0 1069.2 1194.5 1066.7 1199.6 1066.7 1202.6 1062.6 1201.1 1054.0 1198.1 1053.0 1196.0M1031.6 1180.8 1036.7 1179.7 1039.7 1183.3 1038.7 1189.9 1033.1 1191.4 1032.6 1186.9 1031.6 1180.8M1033.6 1171.1 1037.7 1170.6 1038.2 1175.7 1036.7 1178.7 1033.6 1176.2 1033.6 1171.1M1109.5 1209.8 1114.5 1208.8 1123.7 1209.8 1122.2 1211.3 1116.1 1211.8 1110.0 1210.3 1109.5 1209.8M1154.2 1210.8 1160.4 1209.3 1166.0 1207.7 1162.9 1211.3 1157.8 1213.3 1154.2 1212.3 1154.2 1210.8M1002.1 1187.9 1007.2 1186.4 1006.1 1189.4 1002.1 1187.9M140.9 1115.1 143.9 1117.1 137.3 1118.2 140.9 1115.1M129.7 1120.2 134.8 1118.2 133.3 1120.7 129.7 1120.2M111.9 1123.2 122.1 1121.7 119.5 1123.2 111.9 1123.2M89.5 1125.3 96.6 1124.3 94.1 1125.8 89.5 1125.3M80.3 1126.8 86.9 1125.3 84.9 1126.3 80.3 1126.8M1891.7 1125.3 1898.4 1126.3 1893.8 1126.8 1891.7 1125.3M1867.3 1120.2 1873.4 1120.2 1870.4 1121.2 1867.3 1120.2M206.5 1094.7 214.7 1094.7 213.7 1098.3 206.5 1099.8 203.0 1097.8 206.5 1094.7M1732.9 1166.0 1740.6 1161.4 1739.6 1160.9 1732.9 1166.0M1745.7 1158.9 1747.7 1157.9 1746.2 1157.9 1745.7 1158.9M1750.8 1155.3 1755.8 1152.8 1753.3 1152.8 1750.8 1155.3M1760.9 1151.2 1764.5 1148.7 1763.0 1148.7 1760.9 1151.2M1768.6 1146.7 1771.6 1144.1 1770.1 1144.1 1768.6 1146.7M1776.7 1138.5 1780.3 1135.5 1778.8 1135.0 1776.7 1138.5M1781.3 1133.4 1786.9 1130.9 1784.9 1130.4 1781.3 1133.4M1904.0 1782.9 1880.5 1784.4 1857.6 1782.9 1842.4 1784.4 1829.7 1783.4 1822.0 1781.4 1816.9 1777.3 1809.3 1775.3 1803.2 1772.2 1809.3 1768.7 1816.4 1762.5 1829.7 1759.0 1842.4 1755.9 1850.0 1753.4 1856.6 1752.4 1849.5 1751.3 1834.7 1748.8 1814.4 1749.3 1799.1 1747.3 1783.3 1747.3 1763.5 1740.7 1743.1 1738.1 1727.9 1734.6 1717.2 1732.0 1697.3 1729.5 1682.0 1727.4 1661.7 1726.9 1650.5 1727.4 1631.2 1728.4 1610.8 1728.4 1580.3 1727.9 1565.0 1726.4 1549.7 1726.9 1529.4 1726.4 1517.7 1724.4 1498.8 1725.4 1483.6 1725.4 1468.3 1727.9 1451.5 1727.4 1427.6 1729.5 1407.2 1731.5 1386.8 1737.1 1371.6 1742.2 1359.4 1743.7 1353.8 1746.8 1346.1 1758.5 1339.0 1760.5 1335.9 1750.8 1330.9 1743.7 1315.6 1733.5 1295.2 1731.5 1284.0 1730.5 1264.7 1728.4 1252.5 1726.9 1234.2 1730.5 1218.9 1733.5 1193.4 1737.6 1173.1 1741.2 1152.7 1742.7 1132.4 1746.3 1112.0 1746.8 1091.6 1745.8 1073.3 1746.3 1050.9 1747.8 1030.6 1747.3 1010.2 1747.8 989.9 1749.3 964.4 1751.3 939.0 1759.0 918.6 1763.1 895.7 1771.7 877.9 1775.3 857.5 1777.8 837.2 1783.9 816.8 1787.5 806.6 1790.5 786.3 1786.5 765.9 1784.4 745.5 1784.4 725.2 1783.4 704.8 1778.3 684.5 1773.7 671.7 1768.7 667.7 1760.0 677.9 1746.8 681.4 1730.5 687.0 1720.3 697.2 1715.2 702.3 1711.6 694.6 1711.6 676.8 1715.2 666.7 1720.3 657.0 1724.4 648.8 1730.5 640.7 1737.1 638.7 1745.8 631.0 1756.9 613.2 1762.0 597.9 1762.5 572.5 1764.6 552.1 1762.0 532.3 1761.0 506.3 1760.0 480.9 1764.1 465.6 1770.2 442.7 1771.2 409.6 1769.2 376.5 1766.1 343.5 1765.1 310.4 1769.2 277.3 1772.7 251.8 1775.8 226.4 1778.8 200.9 1782.9 185.7 1787.5 175.5 1794.1 160.2 1800.7 150.0 1806.8M75.7 1819.0 124.6 1819.6 175.5 1821.1 198.4 1822.1M94.1 1811.9 134.8 1812.9 175.5 1816.0 195.9 1818.5M155.1 1792.6 175.5 1792.1 185.7 1795.1 170.4 1796.7 155.1 1792.6M145.0 1800.7 165.3 1800.2 170.4 1802.8 145.0 1800.7M623.4 1743.2 631.0 1741.7 640.7 1748.3 636.1 1755.9 625.9 1753.4 623.4 1743.2M745.5 1787.0 760.8 1786.5 765.9 1791.6 745.5 1794.1 735.4 1791.6 745.5 1787.0M684.5 1794.1 735.4 1801.7 786.3 1803.3 827.0 1799.2 847.3 1795.6M478.3 1755.9 491.1 1755.4 493.6 1758.5 480.9 1759.0 478.3 1755.9M608.1 1798.2 653.9 1808.4 674.3 1809.9" stroke-width="1.25"/><path d="M898.7 1242.9 899.8 1244.4 898.2 1244.4 898.7 1242.9M903.8 1244.9 906.9 1243.9 905.9 1246.9 903.8 1244.9M909.4 1245.9 911.5 1246.4 910.5 1247.9 909.4 1245.9M916.0 1243.4 919.1 1243.4 917.6 1245.9 916.0 1243.4M859.0 1197.0 861.6 1196.5 860.1 1197.6 859.0 1197.0M902.3 1222.5 904.9 1222.5 903.3 1223.5 902.3 1222.5M865.7 1303.9 867.7 1305.0 869.7 1312.6 871.8 1311.6 865.7 1303.9M1270.8 1495.8 1273.9 1496.3 1272.3 1498.4 1270.8 1495.8M1281.5 1491.2 1284.0 1492.3 1282.5 1493.8 1281.5 1491.2M1340.0 1636.8 1348.7 1638.9 1345.1 1642.4 1340.0 1640.4 1340.0 1636.8M1253.0 1625.6 1255.5 1625.6 1254.0 1626.6 1253.0 1625.6M1181.2 1628.2 1182.7 1628.2 1181.7 1629.2 1181.2 1628.2M1362.9 1659.2 1365.5 1659.7 1363.9 1660.2 1362.9 1659.2M1210.2 1447.5 1211.3 1450.0 1209.7 1449.5 1210.2 1447.5M1261.1 1325.3 1267.2 1325.3 1264.7 1326.8 1261.1 1325.3M523.6 1390.5 527.7 1391.0 526.7 1394.0 524.1 1394.5 523.6 1390.5M432.5 1527.4 434.1 1527.4 433.0 1527.9 432.5 1527.4M578.6 1560.5 588.8 1560.5 587.8 1561.0 578.6 1560.5M228.4 1478.5 230.5 1479.0 229.4 1480.1 228.4 1478.5M115.4 1459.7 117.5 1460.7 115.4 1460.7 115.4 1459.7M110.3 1457.7 113.4 1458.2 111.9 1459.7 110.3 1457.7M97.6 1496.8 99.2 1496.8 98.1 1497.9 97.6 1496.8M176.5 1497.4 177.0 1497.4 176.5 1497.9 176.5 1497.4M1869.9 1382.3 1870.9 1381.8 1870.4 1382.8 1869.9 1382.3M1860.2 1353.3 1861.7 1353.3 1861.2 1353.8 1860.2 1353.3M1673.9 1352.3 1675.4 1350.3 1674.4 1350.8 1673.9 1352.3M1725.8 1321.8 1727.9 1320.2 1726.8 1322.3 1725.8 1321.8M1730.9 1313.1 1731.9 1311.6 1731.4 1313.6 1730.9 1313.1M1692.2 1341.1 1693.2 1340.6 1692.7 1341.6 1692.2 1341.1M1762.0 1352.3 1763.0 1351.3 1762.5 1352.8 1762.0 1352.3M1794.5 1354.8 1795.5 1353.8 1795.5 1354.8 1794.5 1354.8M127.1 1486.2 125.6 1486.7 125.1 1487.2 127.1 1486.2M1836.8 1392.0 1839.3 1392.0 1837.8 1392.5 1836.8 1392.0M188.2 1380.3 189.7 1379.3 189.2 1380.8 188.2 1380.3M1360.4 1426.1 1358.9 1427.1 1358.3 1426.6 1360.4 1426.1M1361.4 1374.2 1363.9 1369.1 1362.4 1368.1 1361.4 1374.2M1360.4 1364.0 1362.9 1356.4 1361.4 1354.8 1360.4 1364.0M1460.6 1327.4 1463.2 1320.7 1462.2 1320.2 1460.6 1327.4M1461.2 1336.0 1462.7 1333.5 1461.7 1333.0 1461.2 1336.0M1465.7 1353.8 1467.8 1351.3 1466.8 1350.8 1465.7 1353.8M1844.9 1537.1 1844.9 1537.6 1844.4 1537.1 1844.9 1537.1M641.2 1327.4 642.7 1327.4 642.2 1328.4 641.2 1327.4M666.7 1297.3 669.2 1296.8 668.2 1298.3 666.7 1297.3M675.3 1302.4 676.3 1302.4 675.8 1303.4 675.3 1302.4M676.3 1306.5 678.4 1306.5 677.3 1308.5 676.3 1306.5M678.4 1314.1 679.4 1314.1 678.9 1316.2 678.4 1314.1M679.4 1318.2 679.9 1317.7 679.9 1319.7 679.4 1318.2M686.5 1321.8 687.5 1322.3 687.0 1323.3 686.5 1321.8M675.3 1327.4 676.3 1327.4 675.8 1328.4 675.3 1327.4M660.0 1225.0 661.1 1224.5 660.5 1225.6 660.0 1225.0M1287.6 1152.3 1294.7 1155.3 1300.3 1157.3 1296.8 1165.5 1289.1 1165.5 1287.6 1157.9 1287.6 1152.3" stroke-width="1.00"/></g>
<rect x="78.5" y="1084.1" width="1822.6" height="763.5" fill="none" stroke="#222" stroke-width="1.6"/>
<g class="ax"><text x="22.8" y="1166.7" textLength="47" lengthAdjust="spacingAndGlyphs">45°<tspan dx="9">N</tspan></text><text x="22.8" y="1243.0" textLength="47" lengthAdjust="spacingAndGlyphs">30°<tspan dx="9">N</tspan></text><text x="22.8" y="1319.4" textLength="47" lengthAdjust="spacingAndGlyphs">15°<tspan dx="9">N</tspan></text><text x="40.9" y="1395.8" textLength="17" lengthAdjust="spacingAndGlyphs">0°</text><text x="22.8" y="1472.1" textLength="47" lengthAdjust="spacingAndGlyphs">15°<tspan dx="9">S</tspan></text><text x="22.8" y="1548.5" textLength="47" lengthAdjust="spacingAndGlyphs">30°<tspan dx="9">S</tspan></text><text x="22.8" y="1624.8" textLength="47" lengthAdjust="spacingAndGlyphs">45°<tspan dx="9">S</tspan></text><text x="22.8" y="1701.1" textLength="47" lengthAdjust="spacingAndGlyphs">60°<tspan dx="9">S</tspan></text><text x="22.8" y="1777.5" textLength="47" lengthAdjust="spacingAndGlyphs">75°<tspan dx="9">S</tspan></text><text x="198.9" y="1870.5" textLength="55.5" lengthAdjust="spacingAndGlyphs">150°<tspan dx="9">W</tspan></text><text x="351.6" y="1870.5" textLength="55.5" lengthAdjust="spacingAndGlyphs">120°<tspan dx="9">W</tspan></text><text x="508.8" y="1870.5" textLength="46.5" lengthAdjust="spacingAndGlyphs">90°<tspan dx="9">W</tspan></text><text x="661.5" y="1870.5" textLength="46.5" lengthAdjust="spacingAndGlyphs">60°<tspan dx="9">W</tspan></text><text x="814.2" y="1870.5" textLength="46.5" lengthAdjust="spacingAndGlyphs">30°<tspan dx="9">W</tspan></text><text x="975.1" y="1870.5" textLength="17.5" lengthAdjust="spacingAndGlyphs">0°</text><text x="1119.6" y="1870.5" textLength="46.5" lengthAdjust="spacingAndGlyphs">30°<tspan dx="9">E</tspan></text><text x="1272.3" y="1870.5" textLength="46.5" lengthAdjust="spacingAndGlyphs">60°<tspan dx="9">E</tspan></text><text x="1425.0" y="1870.5" textLength="46.5" lengthAdjust="spacingAndGlyphs">90°<tspan dx="9">E</tspan></text><text x="1573.2" y="1870.5" textLength="55.5" lengthAdjust="spacingAndGlyphs">120°<tspan dx="9">E</tspan></text><text x="1725.9" y="1870.5" textLength="55.5" lengthAdjust="spacingAndGlyphs">150°<tspan dx="9">E</tspan></text></g>
<text class="ti" x="628.7" y="1059.7" textLength="772.3" lengthAdjust="spacingAndGlyphs">EMI-GF5 (02) TOC (November 2023)</text>
<text class="pl" x="80.1" y="1050.3" textLength="65.4" lengthAdjust="spacingAndGlyphs">(b)</text>
<rect x="1957.2" y="991.2" width="46.7" height="920.8" fill="url(#jet)" stroke="#111" stroke-width="1.4"/>
<text class="cbl" x="2016" y="1920.0">0</text>
<text class="cbl" x="2016" y="1735.8">100</text>
<text class="cbl" x="2016" y="1551.7">200</text>
<text class="cbl" x="2016" y="1367.5">300</text>
<text class="cbl" x="2016" y="1183.4">400</text>
<text class="cbl" x="2016" y="999.2">500</text>
<path d="M2003.9 1912.0h5.5M2003.9 1727.8h5.5M2003.9 1543.7h5.5M2003.9 1359.5h5.5M2003.9 1175.4h5.5M2003.9 991.2h5.5" stroke="#111" stroke-width="1.4"/>
<text class="vcd" transform="translate(2091.7 1447.7) rotate(-90)" text-anchor="middle" textLength="184" lengthAdjust="spacingAndGlyphs">VCD (DU)</text><defs><clipPath id="clc"><rect x="78.9" y="2032.2" width="1845.6" height="772.5"/></clipPath></defs>
<path d="M228.6 2032.2V2804.8M383.3 2032.2V2804.8M537.9 2032.2V2804.8M692.5 2032.2V2804.8M847.1 2032.2V2804.8M1001.8 2032.2V2804.8M1156.4 2032.2V2804.8M1311.0 2032.2V2804.8M1465.6 2032.2V2804.8M1620.2 2032.2V2804.8M1774.8 2032.2V2804.8M78.9 2109.5H1924.6M78.9 2186.8H1924.6M78.9 2264.0H1924.6M78.9 2341.2H1924.6M78.9 2418.5H1924.6M78.9 2495.8H1924.6M78.9 2573.0H1924.6M78.9 2650.2H1924.6M78.9 2727.5H1924.6" stroke="#c8c8c8" stroke-width="1" fill="none"/>
<g clip-path="url(#clc)" fill="none" stroke="#000" stroke-linejoin="round" stroke-linecap="round"><path d="M146.2 2019.4 152.4 2028.1 165.3 2032.8 167.3 2038.9 179.7 2039.5 187.4 2038.9 192.6 2038.9 190.0 2045.1 182.3 2049.8 172.0 2053.4 161.6 2057.5 153.4 2060.6 160.6 2058.5 169.4 2056.5 179.7 2053.9 187.4 2050.3 195.1 2046.2 202.9 2043.1 208.0 2039.5 211.1 2036.4 214.2 2032.2 220.4 2026.1 224.5 2028.1 221.4 2031.2 219.4 2035.9 226.1 2035.3 231.2 2033.3 236.4 2031.7 244.1 2029.2 251.8 2029.7 259.6 2031.7 269.9 2032.0 275.0 2032.8 281.7 2034.3 287.9 2036.4 295.7 2039.5 298.7 2042.0 300.3 2045.1 303.9 2048.2 308.0 2051.8 313.2 2055.9 318.8 2058.5 325.5 2061.1 330.2 2062.1 331.7 2066.2 336.4 2069.8 341.0 2073.4 344.1 2077.6 340.5 2079.6 346.2 2083.2 353.4 2087.9 359.0 2092.0 362.1 2099.2 362.7 2103.3 363.2 2107.4 362.1 2112.6 360.1 2120.8 361.6 2126.0 360.6 2133.2 363.7 2137.8 367.8 2144.5 370.4 2147.6 373.5 2152.8 376.1 2156.9 380.2 2163.1 385.8 2164.1 391.0 2166.2 393.1 2167.7 397.7 2172.3 398.2 2173.9 400.8 2179.0 403.4 2183.7 405.4 2187.8 410.1 2192.9 413.7 2197.1 413.2 2199.6 418.3 2203.7 423.5 2209.4 424.0 2213.5 428.1 2216.1 433.3 2220.2 435.3 2223.3 437.9 2221.3 433.3 2216.6 431.2 2212.5 428.1 2208.4 425.5 2203.7 421.9 2199.6 419.3 2195.5 416.3 2190.9 411.6 2185.7 410.1 2180.1 410.1 2177.5 412.6 2178.5 416.8 2180.1 420.4 2183.7 423.5 2191.9 428.6 2197.6 433.3 2200.7 437.9 2207.3 442.5 2211.0 447.7 2215.1 453.4 2221.8 458.0 2228.5 459.0 2233.1 457.5 2236.2 460.6 2240.8 464.2 2243.4 468.8 2247.0 475.0 2249.1 481.2 2252.2 486.9 2254.7 494.1 2257.3 501.8 2259.9 507.0 2260.4 511.1 2258.3 514.7 2257.8 519.9 2260.4 526.0 2266.1 530.7 2269.7 537.9 2270.2 543.0 2272.2 549.2 2273.3 550.8 2274.8 554.4 2278.4 558.5 2283.1 560.1 2284.6 559.5 2287.7 562.6 2290.3 564.7 2291.8 567.3 2292.3 570.9 2296.4 574.0 2298.5 577.6 2299.5 580.7 2299.5 584.8 2303.7 588.4 2303.1 587.4 2300.1 591.5 2295.4 594.6 2294.9 597.7 2298.0 599.7 2302.1 602.3 2305.7 602.8 2310.3 603.3 2318.1 602.3 2323.2 600.3 2326.8 596.1 2332.0 594.6 2335.6 589.4 2337.1 588.9 2341.2 586.9 2345.4 584.8 2346.9 586.9 2351.6 589.9 2354.1 588.4 2358.2 585.8 2359.8 583.2 2362.9 582.7 2365.5 584.3 2369.6 584.8 2372.2 589.9 2377.3 594.6 2384.0 598.2 2390.7 601.8 2397.9 604.4 2403.6 608.5 2410.8 610.0 2415.4 614.2 2420.6 622.9 2425.7 630.7 2429.8 634.3 2432.4 638.9 2436.0 639.9 2441.7 640.5 2449.4 638.9 2462.3 638.4 2470.0 636.8 2480.3 634.3 2488.0 633.2 2495.8 632.7 2506.1 632.7 2511.2 630.7 2517.4 627.6 2524.1 624.5 2531.8 622.4 2536.9 623.4 2544.7 621.4 2552.4 620.4 2557.6 618.8 2562.7 620.4 2567.8 615.2 2573.0 612.6 2580.7 613.7 2588.4 612.6 2596.2 614.2 2603.9 617.8 2611.6 622.9 2615.7 630.7 2619.3 635.8 2622.4 643.5 2625.5 651.3 2627.1 655.4 2629.1 659.0 2625.0 665.7 2623.5 659.0 2621.4 653.3 2617.3 649.2 2612.1 647.2 2610.6 644.6 2607.0 645.6 2601.3 649.7 2599.3 652.3 2595.1 655.4 2591.0 661.6 2587.4 662.6 2584.3 653.9 2578.2 654.4 2575.6 659.0 2573.0 665.2 2570.9 666.7 2565.3 669.8 2562.2 674.0 2561.2 670.9 2559.1 666.7 2558.1 666.7 2552.4 671.9 2552.4 679.6 2550.3 681.2 2544.7 680.7 2541.1 687.4 2541.6 697.7 2540.0 704.9 2538.0 706.4 2534.4 709.5 2528.7 707.5 2525.6 705.4 2523.0 700.8 2519.4 700.2 2516.9 703.8 2518.9 712.1 2521.0 718.3 2521.0 722.9 2519.4 726.5 2514.8 730.6 2511.2 733.7 2506.6 737.9 2500.9 742.5 2495.8 746.1 2490.6 750.8 2487.0 751.8 2480.3 751.3 2475.2 753.3 2472.1 758.0 2469.0 763.1 2464.8 768.8 2462.8 773.9 2460.2 779.1 2459.4 785.3 2459.2 790.4 2454.6 791.0 2450.4 794.6 2445.8 797.1 2441.7 799.7 2432.4 800.2 2426.2 801.3 2418.5 800.7 2412.3 803.3 2408.2 807.4 2404.1 811.1 2397.9 814.1 2395.3 818.8 2390.2 821.4 2382.4 822.4 2378.3 820.8 2372.2 819.8 2368.0 813.6 2367.0 808.5 2364.9 803.3 2360.3 798.2 2356.7 793.0 2355.7 786.3 2355.7 777.6 2353.6 773.4 2354.1 769.8 2349.5 762.1 2346.4 755.4 2344.3 751.8 2347.4 748.2 2345.4 746.6 2342.8 741.5 2340.2 744.0 2336.1 741.5 2332.0 737.9 2323.2 735.3 2319.6 731.2 2315.5 724.5 2311.4 718.3 2310.3 710.5 2310.3 705.4 2308.8 701.3 2305.7 696.1 2302.1 689.9 2297.5 684.8 2291.8 682.2 2288.7 677.6 2286.7 671.9 2286.7 666.7 2289.2 660.6 2286.7 653.9 2287.2 649.7 2287.2 646.1 2282.5 639.9 2281.5 640.5 2278.9 639.4 2282.0 635.3 2283.6 632.7 2284.6 631.2 2281.5 629.1 2280.0 631.7 2277.4 628.1 2279.4 624.0 2283.1 619.3 2283.6 615.2 2285.6 612.1 2288.7 611.6 2292.8 608.5 2294.9 605.9 2297.5 602.8 2296.4 600.3 2293.4 595.6 2292.3 591.5 2291.8 586.9 2294.4 581.7 2295.4 578.1 2294.9 574.5 2291.3 570.9 2285.6 570.4 2280.0 571.4 2271.7 572.9 2264.0 567.8 2261.4 561.1 2259.4 553.9 2259.9 547.7 2260.4 544.1 2259.4 546.7 2255.8 547.2 2251.1 548.2 2246.0 550.8 2240.8 553.4 2234.6 554.4 2231.0 550.8 2230.5 545.6 2231.0 537.9 2232.1 535.8 2235.7 535.3 2240.8 530.2 2245.5 525.0 2245.5 518.3 2247.0 513.2 2247.5 508.0 2244.4 504.9 2240.3 500.8 2234.6 498.2 2228.5 497.7 2223.3 498.2 2215.1 500.8 2207.9 499.8 2202.2 501.8 2197.6 505.9 2194.5 513.2 2190.4 518.3 2188.3 525.0 2188.8 531.7 2190.9 536.9 2191.4 541.5 2191.9 540.5 2188.8 540.0 2185.7 545.6 2184.7 550.8 2185.2 555.9 2184.7 561.1 2186.8 564.2 2188.3 568.8 2186.2 572.4 2189.3 575.5 2192.9 575.5 2197.6 577.6 2202.7 580.2 2206.8 583.2 2210.4 586.9 2211.5 588.4 2208.4 589.4 2203.2 588.4 2200.7 586.3 2195.5 584.8 2190.9 582.7 2185.2 582.2 2180.6 584.8 2176.4 589.4 2172.8 593.6 2169.8 597.2 2166.7 600.8 2165.1 604.9 2162.5 608.5 2161.5 612.6 2159.5 611.6 2154.3 610.0 2151.2 610.6 2148.1 613.7 2145.6 615.2 2141.4 615.7 2138.3 619.8 2135.2 620.4 2132.7 622.9 2132.2 630.7 2130.6 631.2 2128.6 635.8 2127.5 639.9 2127.0 641.0 2124.9 637.9 2123.4 636.8 2120.3 639.4 2116.7 645.1 2114.7 650.2 2112.6 656.4 2110.5 656.9 2108.5 661.6 2108.5 667.8 2106.4 670.3 2108.0 664.2 2111.0 661.1 2114.7 663.6 2117.2 669.3 2114.1 674.5 2111.6 682.2 2109.5 687.4 2108.0 692.5 2104.9 691.0 2100.2 688.4 2099.7 685.3 2103.3 684.3 2106.4 678.6 2105.9 672.9 2104.9 668.8 2103.3 667.3 2099.2 665.2 2095.6 668.8 2094.6 669.8 2091.0 667.8 2088.9 661.6 2088.4 653.9 2089.4 648.7 2092.0 643.5 2096.1 638.4 2099.2 634.8 2100.2 639.4 2096.6 644.6 2093.0 648.7 2088.4 654.9 2086.8 659.0 2082.7 666.7 2082.7 674.5 2082.7 684.8 2083.2 692.5 2082.7 698.7 2079.1 704.9 2076.5 710.5 2073.4 714.2 2069.8 713.1 2065.7 706.4 2062.1 700.2 2060.1 693.5 2057.0 688.4 2053.4 684.8 2050.3 682.2 2046.2 679.6 2042.5 676.0 2038.9 671.9 2034.8 669.8 2030.7 665.7 2034.3 662.6 2038.4 655.4 2041.0 648.7 2039.5 644.1 2036.4 643.0 2031.2 641.0 2027.1M513.2 2026.1 515.7 2033.3 516.2 2038.4 522.4 2038.9 525.0 2045.1 532.7 2047.2 543.0 2049.8 550.8 2053.4 561.1 2056.5 571.4 2057.0 577.6 2057.5 578.1 2065.7 581.7 2070.4 586.9 2076.0 592.0 2076.0 595.6 2070.9 594.6 2063.2 602.3 2055.4 605.9 2051.3 607.0 2045.1 602.8 2040.0 598.2 2037.4 602.3 2032.2 599.7 2027.1M764.7 2026.1 772.4 2030.7 777.6 2032.8 780.1 2030.7 783.7 2026.1M730.1 2096.1 728.1 2100.7 723.4 2099.7 718.3 2098.7 713.1 2096.6 696.1 2096.1 700.2 2088.9 706.9 2081.2 716.2 2075.5 715.2 2081.2 723.4 2085.8 728.6 2091.5 730.1 2096.1M564.2 2228.5 567.3 2225.9 572.4 2223.3 577.1 2222.0 581.7 2222.3 586.9 2222.8 592.0 2224.9 597.2 2225.9 602.3 2229.0 607.5 2232.1 612.6 2233.6 619.3 2237.0 617.8 2238.2 612.6 2238.8 604.9 2238.8 601.3 2239.0 603.9 2235.7 599.7 2234.1 596.6 2230.5 592.0 2230.0 586.9 2227.9 583.2 2226.9 580.2 2226.9 576.5 2224.9 571.4 2226.9 566.8 2229.0 564.2 2228.5M618.3 2246.5 624.5 2240.3 626.5 2238.8 633.2 2238.8 641.0 2239.8 644.6 2241.9 649.2 2245.5 647.2 2247.5 641.0 2247.5 635.3 2250.1 632.7 2248.0 628.1 2247.5 622.4 2247.5 618.3 2246.5M598.2 2247.0 604.9 2246.0 608.5 2247.5 605.9 2249.1 600.8 2249.1 598.2 2247.0M655.4 2246.0 663.6 2246.5 663.1 2248.6 655.4 2248.6 655.4 2246.0M682.7 2289.2 687.4 2285.6 687.9 2288.7 682.7 2289.2M685.8 2605.4 692.5 2604.9 701.8 2606.0 704.4 2607.5 700.2 2610.1 695.1 2609.6 689.9 2608.5 685.8 2605.4M805.9 2619.3 813.6 2619.9 817.2 2623.5 811.1 2621.9 805.9 2619.3M1027.0 2024.5 1027.5 2029.7 1029.1 2034.8 1030.6 2037.4 1032.7 2041.0 1037.8 2042.5 1044.0 2041.5 1050.7 2037.9 1054.8 2035.9 1056.9 2032.8 1057.9 2036.4 1059.5 2039.5 1063.1 2044.1 1067.2 2049.8 1068.2 2054.9 1070.3 2056.2 1075.5 2055.4 1075.5 2052.3 1083.2 2052.3 1086.3 2049.2 1087.8 2044.6 1088.3 2039.5 1094.0 2037.4 1098.6 2034.8 1096.1 2030.2 1090.9 2028.6 1090.4 2024.5M1111.5 2027.1 1112.6 2030.2 1117.7 2032.2 1122.9 2032.8 1130.6 2031.2 1140.9 2029.7 1148.6 2029.2 1155.3 2031.7 1147.1 2034.3 1140.9 2034.8 1133.2 2034.3 1126.5 2035.3 1122.4 2036.9 1122.9 2040.5 1127.0 2041.0 1127.0 2046.2 1125.4 2047.7 1121.3 2047.7 1118.2 2044.6 1113.6 2045.1 1110.5 2049.2 1110.0 2052.8 1110.5 2054.9 1111.0 2057.0 1107.4 2058.5 1104.3 2060.1 1102.3 2061.1 1097.6 2061.1 1097.1 2059.0 1091.9 2059.0 1085.8 2061.1 1078.0 2063.7 1074.9 2063.7 1071.3 2061.1 1066.2 2061.1 1061.0 2063.2 1057.9 2063.2 1057.4 2061.6 1054.3 2061.1 1052.8 2059.0 1051.7 2055.4 1054.8 2051.8 1056.4 2046.7 1056.4 2043.8 1051.2 2046.7 1046.1 2047.2 1043.5 2049.8 1044.0 2054.9 1046.1 2058.0 1047.6 2062.1 1046.1 2063.7 1043.0 2065.2 1037.8 2066.2 1035.3 2066.2 1030.1 2066.8 1026.5 2068.3 1025.5 2070.9 1022.9 2073.4 1021.3 2075.0 1019.3 2076.5 1015.2 2078.1 1010.0 2079.1 1010.0 2082.2 1008.5 2083.8 1002.8 2085.3 1000.7 2087.4 995.6 2086.8 995.0 2085.3 992.0 2085.3 993.5 2089.9 989.9 2091.0 986.3 2089.9 981.1 2090.4 977.5 2092.0 979.6 2093.5 979.1 2095.1 983.7 2095.6 988.9 2097.7 990.9 2100.2 994.0 2102.8 996.1 2106.4 995.3 2111.6 994.5 2116.7 992.5 2117.7 986.8 2117.7 982.2 2117.2 971.9 2116.7 965.7 2116.7 960.5 2116.2 955.9 2118.3 953.8 2120.3 955.9 2124.4 956.4 2130.1 955.4 2134.2 953.3 2138.3 952.8 2141.4 954.3 2143.5 956.4 2144.5 956.4 2148.1 955.4 2150.7 960.5 2150.7 963.6 2149.7 968.2 2151.2 969.8 2153.8 972.9 2155.8 976.0 2153.8 979.1 2152.2 986.3 2152.2 990.9 2152.2 993.5 2148.6 998.1 2147.6 999.2 2144.0 1002.8 2141.4 1000.2 2137.8 1002.8 2134.7 1006.4 2131.1 1012.1 2128.6 1018.2 2125.5 1018.2 2122.9 1017.2 2119.8 1020.8 2117.7 1025.5 2117.7 1030.1 2118.8 1035.3 2119.3 1039.4 2116.2 1044.0 2115.2 1047.6 2112.6 1052.3 2114.1 1054.8 2117.2 1055.9 2120.3 1059.0 2122.9 1064.6 2126.5 1068.8 2129.1 1073.9 2131.1 1077.0 2132.2 1079.1 2134.2 1082.7 2135.8 1084.7 2140.9 1082.7 2144.5 1084.7 2146.1 1087.3 2143.5 1089.9 2140.9 1089.9 2138.3 1086.8 2136.8 1088.9 2133.2 1094.0 2133.7 1097.1 2134.7 1096.1 2132.7 1091.4 2130.6 1085.2 2128.0 1083.7 2125.5 1077.5 2124.4 1074.4 2121.9 1071.8 2117.2 1066.7 2114.1 1065.1 2110.0 1065.7 2107.4 1069.3 2105.9 1072.4 2106.4 1072.9 2110.0 1076.0 2108.0 1080.1 2113.1 1084.2 2117.2 1089.4 2118.8 1093.0 2120.3 1097.1 2122.9 1101.2 2125.5 1102.3 2128.6 1101.7 2132.7 1104.8 2136.8 1108.4 2140.4 1110.5 2144.0 1113.1 2148.6 1113.6 2151.7 1117.2 2153.8 1119.3 2151.7 1121.3 2153.8 1119.8 2148.1 1122.9 2146.1 1125.4 2144.5 1121.3 2141.9 1119.3 2138.9 1118.2 2134.7 1119.8 2132.2 1123.9 2134.2 1127.5 2130.6 1133.2 2130.6 1136.8 2131.1 1139.4 2133.2 1143.5 2130.6 1151.2 2129.6 1146.6 2127.0 1144.5 2121.3 1148.6 2117.2 1149.7 2112.1 1154.8 2108.0 1160.5 2101.8 1165.1 2101.3 1169.3 2103.8 1174.4 2109.5 1177.0 2112.6 1183.7 2110.0 1189.9 2108.0 1184.7 2107.4 1182.1 2105.9 1181.1 2103.3 1185.7 2101.3 1195.0 2099.2 1200.2 2098.2 1197.6 2102.3 1198.6 2104.3 1196.1 2108.5 1202.8 2113.1 1210.5 2119.8 1216.2 2127.0 1215.6 2129.1 1205.3 2130.1 1195.0 2129.6 1186.8 2126.5 1179.6 2125.5 1171.8 2125.5 1163.1 2129.1 1152.2 2129.1 1151.2 2130.6 1155.3 2131.6 1151.2 2133.2 1143.5 2133.2 1138.8 2134.2 1136.8 2137.8 1140.4 2140.4 1139.9 2143.5 1141.9 2146.1 1143.0 2150.7 1146.1 2151.7 1149.2 2152.2 1153.3 2154.8 1157.4 2154.3 1159.5 2151.7 1164.1 2152.2 1169.3 2155.3 1174.4 2155.3 1178.0 2153.3 1181.6 2151.7 1185.7 2152.2 1187.8 2152.8 1186.8 2156.4 1186.8 2160.0 1185.2 2165.1 1182.7 2170.8 1181.6 2174.4 1179.6 2178.5 1176.5 2180.6 1171.3 2181.1 1168.2 2180.1 1164.1 2179.0 1158.4 2179.0 1154.3 2181.1 1148.6 2182.1 1142.5 2179.5 1131.6 2178.5 1126.5 2176.4 1120.8 2173.4 1116.2 2171.8 1110.5 2172.3 1105.3 2174.9 1104.3 2179.0 1101.2 2184.7 1097.1 2183.7 1091.9 2181.6 1086.8 2180.6 1081.1 2177.0 1080.1 2174.4 1073.4 2172.3 1066.7 2172.3 1061.0 2170.3 1056.9 2167.7 1053.8 2165.1 1057.9 2160.5 1056.4 2156.4 1054.8 2152.8 1059.0 2150.7 1054.3 2149.7 1052.3 2149.2 1046.1 2151.2 1038.9 2150.2 1030.1 2152.2 1019.8 2151.7 1013.6 2152.8 1006.4 2154.3 998.7 2156.9 993.5 2160.0 986.8 2159.5 979.6 2160.0 974.4 2156.4 971.3 2156.9 969.3 2160.0 966.2 2166.2 962.6 2168.2 957.4 2170.3 953.8 2174.9 951.2 2180.1 951.8 2184.7 949.2 2189.8 944.5 2194.0 938.9 2197.1 933.7 2200.1 928.6 2205.3 926.0 2209.9 922.9 2215.1 919.3 2219.2 916.7 2225.9 914.1 2231.0 914.6 2235.7 917.2 2240.3 918.8 2246.0 918.8 2252.7 916.7 2258.3 914.6 2263.0 911.6 2265.5 914.1 2268.1 915.7 2272.8 915.2 2277.4 917.7 2280.0 921.9 2283.1 925.0 2285.1 928.6 2288.7 931.7 2291.8 933.7 2295.4 934.7 2299.0 938.4 2303.1 942.5 2305.7 947.6 2309.8 952.8 2313.4 957.9 2317.0 962.6 2318.6 968.2 2317.6 973.4 2315.0 981.1 2314.5 986.3 2315.0 991.4 2317.0 996.6 2315.0 1004.3 2311.4 1010.0 2309.3 1015.7 2308.3 1019.8 2308.3 1024.9 2309.3 1028.6 2312.4 1031.6 2316.5 1036.3 2319.1 1040.4 2318.1 1045.6 2317.6 1049.2 2321.2 1051.7 2324.3 1052.3 2329.4 1051.2 2335.1 1049.7 2339.7 1048.1 2344.3 1050.2 2349.0 1053.8 2353.6 1058.4 2358.8 1062.6 2364.4 1065.1 2370.6 1066.2 2373.7 1068.8 2380.4 1070.3 2385.5 1069.3 2390.7 1071.8 2396.4 1072.9 2401.0 1066.2 2409.2 1064.6 2414.9 1062.6 2421.6 1062.6 2429.8 1065.1 2435.5 1068.8 2440.6 1071.3 2446.8 1074.4 2454.0 1076.5 2459.2 1076.5 2464.8 1078.5 2472.6 1080.1 2478.8 1084.2 2485.4 1086.8 2489.1 1089.9 2493.7 1090.9 2498.3 1094.5 2504.0 1096.1 2508.6 1095.0 2511.2 1096.6 2515.8 1097.1 2518.4 1101.2 2519.4 1104.8 2520.5 1110.0 2518.4 1116.2 2516.9 1122.4 2516.9 1129.6 2517.4 1133.7 2515.8 1138.3 2514.8 1143.5 2512.2 1147.6 2509.1 1152.8 2504.0 1157.9 2499.4 1161.5 2494.7 1165.6 2489.6 1169.3 2484.4 1171.3 2477.7 1169.8 2474.6 1173.4 2471.5 1180.1 2469.0 1184.7 2464.8 1183.7 2456.1 1183.2 2450.9 1180.6 2445.3 1184.7 2440.6 1189.9 2438.1 1195.0 2432.9 1202.8 2428.3 1207.9 2424.7 1211.0 2419.5 1211.0 2413.3 1210.5 2405.6 1210.0 2397.9 1206.4 2392.8 1204.8 2385.0 1203.8 2379.4 1202.2 2374.2 1204.3 2368.5 1206.4 2363.9 1208.9 2358.2 1212.0 2354.1 1216.7 2349.5 1221.3 2343.8 1226.5 2337.1 1232.1 2332.0 1237.3 2328.4 1242.4 2322.7 1247.1 2317.6 1252.7 2308.8 1257.4 2299.5 1262.5 2290.8 1265.6 2282.0 1266.2 2280.0 1261.0 2281.5 1255.8 2283.1 1250.7 2283.6 1244.5 2285.1 1238.8 2286.1 1233.7 2287.7 1228.5 2287.7 1224.9 2283.6 1224.4 2280.0 1221.8 2276.4 1219.2 2273.8 1216.2 2269.7 1212.0 2266.1 1206.9 2261.9 1204.3 2259.4 1201.7 2253.2 1199.1 2248.6 1195.0 2244.4 1193.5 2239.3 1193.5 2233.1 1191.9 2227.9 1186.3 2220.2 1184.7 2217.1 1181.1 2211.0 1178.5 2205.3 1176.0 2200.7 1173.4 2196.5 1169.8 2189.8 1169.8 2186.8 1170.3 2187.8 1172.9 2192.4 1178.0 2198.1 1180.1 2194.5 1181.6 2189.3 1182.1 2192.9 1181.1 2197.1 1184.7 2201.2 1189.4 2207.3 1194.0 2214.0 1198.6 2218.2 1203.3 2226.9 1203.8 2231.0 1208.9 2237.7 1214.1 2246.0 1218.7 2253.2 1221.8 2259.4 1222.9 2265.0 1224.9 2271.2 1225.9 2275.8 1230.1 2276.4 1233.7 2275.3 1238.8 2272.8 1246.6 2270.2 1252.7 2268.6 1257.4 2265.5 1263.6 2263.0 1270.8 2259.9 1272.3 2256.3 1278.0 2254.7 1284.2 2253.7 1287.3 2250.1 1292.4 2249.1 1294.5 2244.4 1299.7 2243.4 1299.7 2237.2 1303.8 2233.6 1307.4 2230.0 1310.0 2225.9 1306.4 2222.8 1303.3 2219.7 1298.6 2218.7 1295.0 2215.1 1292.4 2211.0 1291.9 2206.3 1290.4 2206.3 1287.8 2209.9 1283.2 2214.6 1277.5 2217.1 1272.3 2216.6 1267.7 2216.1 1266.7 2214.6 1267.7 2210.4 1266.2 2206.8 1263.6 2209.4 1262.5 2212.5 1260.0 2207.9 1260.0 2203.7 1256.4 2201.2 1253.3 2197.6 1251.2 2194.0 1248.6 2189.3 1250.2 2186.8 1253.3 2185.7 1257.4 2186.8 1261.0 2188.8 1263.6 2192.9 1266.2 2197.1 1271.3 2199.6 1277.5 2202.7 1284.2 2204.8 1291.4 2201.7 1297.1 2207.9 1303.3 2209.4 1308.9 2210.4 1318.7 2212.0 1323.9 2211.5 1331.6 2211.0 1339.3 2211.0 1345.0 2209.9 1347.1 2213.0 1349.1 2217.7 1353.3 2219.7 1356.3 2223.8 1360.5 2225.9 1357.9 2226.4 1361.5 2230.0 1367.2 2234.1 1372.8 2232.1 1375.9 2230.0 1377.0 2232.6 1377.5 2237.2 1377.0 2243.4 1378.0 2248.6 1379.5 2253.7 1381.6 2260.4 1383.7 2265.0 1386.8 2272.8 1388.8 2279.4 1391.9 2283.6 1394.5 2289.8 1396.5 2295.4 1401.2 2299.5 1404.3 2295.4 1406.9 2293.4 1410.5 2288.2 1413.0 2282.0 1415.6 2273.8 1415.1 2269.2 1414.6 2262.5 1418.7 2259.9 1422.3 2256.8 1425.9 2255.2 1431.1 2250.6 1435.7 2247.0 1440.4 2241.3 1446.5 2238.8 1449.6 2234.6 1450.1 2230.5 1455.3 2230.0 1460.5 2229.5 1467.2 2228.5 1470.8 2224.9 1474.9 2226.4 1477.5 2233.1 1479.5 2236.7 1483.6 2241.9 1487.3 2247.0 1488.8 2253.2 1487.8 2258.8 1491.4 2259.9 1495.0 2257.8 1499.1 2256.3 1502.7 2254.7 1504.8 2258.8 1505.8 2264.0 1508.4 2270.7 1509.9 2277.9 1509.4 2284.6 1508.9 2291.8 1508.4 2298.5 1513.0 2303.1 1517.7 2307.8 1519.2 2313.4 1521.3 2319.6 1523.9 2326.8 1528.5 2330.4 1535.2 2334.6 1538.8 2334.0 1536.7 2328.9 1534.7 2322.7 1534.7 2317.6 1531.6 2311.9 1528.5 2309.3 1523.9 2305.7 1519.2 2303.7 1517.7 2298.0 1516.6 2293.4 1513.0 2288.2 1515.1 2283.1 1516.6 2277.9 1517.2 2272.2 1520.2 2271.7 1522.3 2275.8 1526.9 2276.9 1530.6 2279.4 1533.6 2284.6 1535.7 2287.2 1540.3 2287.7 1542.9 2293.4 1541.9 2297.0 1544.5 2295.4 1549.6 2292.3 1552.2 2287.7 1557.4 2286.1 1562.5 2283.1 1564.6 2278.4 1564.6 2271.7 1563.0 2262.5 1559.9 2258.3 1555.8 2255.2 1551.2 2251.6 1547.0 2245.5 1546.5 2241.9 1549.1 2237.7 1551.7 2234.6 1555.8 2230.5 1560.4 2230.0 1564.6 2230.5 1567.7 2231.0 1569.2 2236.2 1571.3 2236.7 1571.8 2232.1 1577.5 2230.0 1582.1 2229.0 1586.7 2226.9 1590.3 2226.4 1594.5 2224.3 1601.2 2223.3 1604.8 2220.2 1608.9 2216.6 1613.0 2214.6 1616.6 2210.4 1618.7 2206.3 1620.7 2202.7 1623.3 2198.6 1626.4 2195.5 1628.5 2190.9 1630.0 2187.3 1626.4 2185.2 1630.0 2182.1 1630.0 2178.0 1627.4 2175.4 1624.4 2172.8 1622.3 2166.7 1617.7 2163.6 1616.1 2161.0 1619.7 2157.9 1623.8 2154.8 1628.5 2151.7 1633.1 2151.2 1632.1 2148.6 1627.4 2147.6 1623.8 2146.6 1619.2 2149.2 1615.6 2149.7 1614.6 2146.1 1609.9 2144.0 1607.9 2141.9 1608.4 2139.9 1612.5 2139.4 1616.6 2138.3 1618.2 2135.8 1622.8 2133.7 1626.4 2130.6 1630.0 2131.1 1632.1 2132.7 1629.0 2136.3 1626.9 2140.4 1629.5 2139.9 1632.1 2138.3 1636.7 2136.8 1641.4 2135.8 1645.0 2137.3 1647.5 2138.3 1647.0 2141.4 1647.5 2145.6 1652.2 2146.6 1654.2 2148.6 1654.8 2151.7 1653.7 2155.8 1654.2 2159.5 1652.7 2163.1 1655.8 2163.6 1660.4 2162.0 1664.6 2161.0 1667.6 2160.0 1668.7 2156.9 1669.2 2152.8 1668.2 2148.6 1665.6 2145.6 1663.0 2141.9 1659.4 2138.9 1659.4 2136.3 1664.0 2134.2 1668.2 2131.6 1670.2 2129.6 1670.7 2126.0 1673.8 2123.4 1675.9 2121.9 1679.5 2120.8 1683.6 2118.8 1688.3 2120.8 1693.9 2117.7 1699.6 2113.6 1704.2 2110.0 1709.9 2105.4 1714.5 2100.7 1716.6 2097.7 1721.2 2093.0 1724.9 2088.9 1725.9 2083.2 1726.4 2078.1 1729.5 2072.9 1730.5 2069.3 1727.4 2066.2 1722.3 2063.2 1716.6 2062.1 1711.5 2063.2 1708.9 2061.1 1706.8 2060.1 1704.2 2058.0 1699.1 2055.9 1702.7 2052.8 1707.8 2050.8 1714.0 2046.7 1719.7 2042.5 1726.4 2039.5 1732.6 2037.4 1738.8 2035.3 1746.5 2035.3 1754.2 2036.4 1762.0 2035.9 1768.7 2035.9 1776.4 2034.3 1782.6 2036.4 1787.7 2037.4 1792.9 2036.4 1796.5 2035.9 1798.0 2032.8 1800.6 2029.2 1805.8 2024.5M1829.0 2026.1 1826.4 2029.7 1821.2 2034.8 1813.5 2042.5 1809.4 2046.2 1805.8 2052.8 1803.7 2060.6 1804.7 2068.3 1807.3 2073.4 1809.4 2078.6 1813.5 2076.0 1818.7 2069.8 1824.8 2063.7 1829.0 2060.6 1836.2 2056.5 1836.7 2052.8 1842.9 2051.3 1839.3 2045.1 1841.9 2042.5 1847.0 2033.3 1854.7 2031.7 1859.9 2030.2 1867.6 2029.7 1877.9 2031.2 1888.2 2028.1M1733.6 2103.8 1732.6 2101.3 1733.6 2096.6 1734.1 2088.9 1734.1 2081.2 1734.6 2076.0 1734.6 2068.3 1736.7 2061.6 1739.8 2066.8 1740.3 2071.9 1739.8 2078.6 1745.0 2087.9 1739.8 2087.9 1736.7 2094.1 1738.8 2099.2 1741.3 2102.3 1737.7 2101.8 1735.2 2104.3 1733.6 2103.8M1723.3 2128.0 1724.9 2123.4 1725.4 2118.3 1730.5 2118.3 1732.1 2112.6 1733.1 2107.4 1737.7 2111.0 1743.4 2113.6 1748.0 2115.2 1750.6 2113.1 1751.7 2118.3 1746.0 2120.3 1740.3 2124.9 1733.6 2122.4 1728.5 2123.4 1726.9 2126.0 1723.3 2128.0M1730.0 2128.0 1731.0 2132.7 1733.6 2137.3 1731.6 2143.5 1728.5 2144.5 1728.5 2149.7 1727.4 2154.3 1727.9 2157.4 1725.4 2160.0 1722.3 2161.0 1719.2 2160.0 1717.1 2163.1 1714.0 2163.1 1708.9 2163.1 1706.8 2164.6 1704.2 2168.2 1701.7 2168.7 1698.6 2166.7 1699.1 2163.1 1695.0 2162.5 1689.8 2163.6 1684.7 2164.6 1679.5 2166.2 1676.4 2166.2 1676.9 2164.1 1681.0 2162.5 1685.7 2158.9 1689.8 2158.4 1695.0 2157.9 1700.1 2158.4 1702.7 2156.4 1706.3 2151.7 1709.4 2148.1 1707.3 2150.2 1709.9 2151.2 1714.5 2149.7 1717.6 2146.6 1720.7 2143.0 1722.8 2138.3 1723.3 2134.2 1724.9 2130.1 1727.4 2129.1 1730.0 2128.0M1676.4 2166.7 1679.5 2168.2 1680.5 2173.4 1679.0 2179.0 1675.4 2181.6 1672.8 2180.1 1672.8 2175.4 1670.2 2172.8 1670.7 2169.8 1673.8 2168.2 1676.4 2166.7M1685.2 2166.7 1690.3 2165.1 1695.5 2165.1 1696.0 2167.2 1693.4 2169.8 1688.3 2172.3 1684.7 2171.3 1684.1 2168.7 1685.2 2166.7M1628.0 2211.0 1630.0 2212.5 1628.0 2218.7 1625.4 2224.9 1624.4 2228.5 1621.8 2224.9 1620.7 2220.2 1623.3 2215.1 1628.0 2211.0M1570.2 2237.7 1573.8 2240.3 1571.3 2244.9 1566.6 2247.5 1562.0 2246.0 1562.0 2241.9 1565.1 2238.8 1570.2 2237.7M1623.3 2246.0 1626.4 2245.5 1632.1 2246.5 1631.6 2253.7 1628.5 2258.8 1628.5 2264.0 1630.5 2268.1 1635.7 2270.2 1640.8 2274.3 1641.4 2276.4 1637.2 2274.3 1633.1 2270.7 1628.0 2270.2 1623.3 2268.1 1623.3 2265.0 1620.2 2261.9 1619.2 2257.3 1621.8 2256.3 1622.3 2251.1 1623.3 2246.0M1630.5 2305.2 1632.6 2300.6 1638.3 2300.1 1640.8 2297.5 1646.0 2294.9 1648.6 2290.8 1652.2 2293.9 1653.2 2300.1 1652.2 2305.2 1648.6 2310.3 1647.5 2312.4 1643.9 2310.3 1640.8 2307.8 1638.3 2303.7 1634.7 2303.1 1630.5 2305.2M1563.5 2333.0 1566.6 2330.9 1570.8 2332.5 1575.4 2328.4 1578.5 2325.8 1584.2 2324.8 1589.3 2318.1 1594.5 2315.5 1597.6 2312.4 1600.6 2308.8 1603.7 2305.2 1606.3 2307.3 1608.4 2310.9 1613.0 2312.9 1616.1 2314.5 1611.5 2317.6 1608.4 2319.6 1609.4 2325.8 1611.5 2331.5 1615.1 2336.1 1608.9 2336.6 1607.3 2341.2 1604.8 2346.4 1602.7 2349.0 1600.6 2353.1 1601.2 2358.2 1599.1 2360.3 1592.4 2362.9 1591.9 2359.3 1585.7 2357.7 1580.5 2358.8 1576.9 2356.7 1573.3 2357.2 1569.7 2356.2 1569.7 2350.5 1567.1 2346.9 1564.6 2342.8 1563.5 2339.2 1564.1 2336.1 1563.5 2333.0M1492.9 2312.4 1498.1 2314.5 1504.3 2314.5 1508.4 2319.1 1513.0 2323.7 1519.2 2329.4 1524.4 2332.0 1530.0 2335.6 1534.7 2338.7 1536.7 2343.3 1540.3 2346.9 1542.4 2352.6 1547.6 2356.7 1547.0 2364.4 1547.0 2371.1 1540.3 2371.6 1536.7 2367.0 1531.1 2362.4 1525.4 2356.7 1521.8 2351.6 1518.7 2345.4 1515.6 2341.2 1513.0 2336.6 1510.4 2332.5 1506.3 2329.4 1502.7 2324.8 1498.6 2320.1 1494.5 2316.5 1492.9 2312.4M1544.0 2376.3 1548.1 2371.6 1552.2 2372.7 1556.3 2373.2 1559.9 2373.7 1563.5 2376.3 1570.8 2376.8 1573.3 2374.2 1576.9 2375.2 1582.1 2376.8 1583.1 2380.4 1588.3 2380.9 1591.4 2381.4 1592.4 2386.1 1585.7 2384.0 1579.0 2384.0 1572.8 2383.5 1568.7 2381.9 1562.0 2380.9 1555.8 2379.9 1550.1 2379.4 1545.5 2376.8 1544.0 2376.3M1646.5 2333.0 1643.4 2336.6 1638.3 2336.6 1633.1 2336.1 1625.4 2334.6 1623.3 2336.1 1621.3 2338.7 1619.2 2343.8 1617.1 2349.0 1614.6 2355.7 1616.6 2359.3 1617.7 2367.0 1617.7 2370.1 1622.3 2370.1 1622.3 2364.4 1621.8 2356.7 1625.4 2355.7 1628.0 2361.8 1631.6 2366.0 1634.7 2366.0 1633.6 2361.8 1631.1 2359.3 1626.9 2351.0 1634.1 2347.4 1637.8 2345.9 1636.7 2344.3 1630.0 2345.4 1625.4 2346.4 1623.3 2339.7 1628.0 2338.7 1635.7 2339.2 1642.4 2339.2 1646.5 2333.0M1676.9 2347.4 1681.0 2344.9 1685.2 2343.3 1691.9 2344.9 1693.4 2347.9 1692.9 2354.6 1697.5 2358.2 1700.1 2358.2 1705.8 2352.6 1712.0 2349.0 1717.1 2350.5 1723.3 2353.6 1728.5 2354.6 1736.2 2357.7 1743.9 2360.8 1747.0 2362.9 1753.2 2368.5 1756.8 2372.2 1762.0 2373.7 1764.0 2376.3 1762.0 2379.9 1765.6 2383.5 1771.2 2388.6 1774.8 2391.7 1777.4 2394.3 1775.9 2395.8 1770.7 2393.8 1763.5 2393.3 1756.8 2387.1 1751.7 2381.9 1745.0 2380.4 1741.3 2384.0 1739.3 2388.1 1733.1 2388.6 1728.5 2388.1 1724.9 2384.0 1718.2 2383.0 1714.5 2384.5 1712.0 2379.9 1716.1 2376.8 1711.5 2370.1 1702.7 2364.9 1696.5 2361.8 1691.4 2360.3 1686.7 2362.4 1685.7 2358.8 1682.1 2356.2 1683.1 2352.6 1678.5 2349.0 1676.9 2347.4M1736.2 2396.4 1733.1 2405.6 1731.6 2410.8 1731.0 2418.5 1729.5 2426.2 1727.4 2431.4 1722.3 2431.9 1718.2 2428.8 1712.0 2425.2 1707.8 2422.6 1701.7 2419.0 1700.1 2417.5 1702.2 2412.3 1706.3 2409.2 1706.3 2404.1 1706.8 2402.5 1702.7 2402.0 1697.5 2404.1 1692.4 2402.5 1685.2 2400.5 1681.6 2399.4 1677.4 2404.1 1674.9 2405.1 1672.3 2409.2 1669.7 2415.9 1666.1 2418.0 1661.5 2417.5 1657.3 2412.8 1651.7 2414.4 1646.5 2416.4 1642.9 2423.1 1638.3 2426.2 1635.7 2425.7 1632.1 2429.8 1631.6 2434.5 1627.4 2439.1 1623.3 2442.7 1617.1 2444.2 1613.0 2445.8 1607.3 2447.9 1602.7 2447.9 1597.0 2452.0 1592.4 2453.5 1590.3 2457.1 1587.8 2462.3 1587.8 2467.4 1586.2 2472.6 1588.8 2477.7 1590.3 2483.9 1592.4 2489.6 1594.5 2495.2 1596.5 2500.9 1598.1 2506.1 1598.1 2512.7 1595.0 2514.3 1595.0 2518.4 1601.2 2521.5 1609.4 2522.0 1614.0 2518.9 1619.7 2516.3 1628.0 2515.8 1635.7 2515.8 1640.3 2513.8 1643.9 2510.7 1650.1 2508.1 1656.3 2507.6 1665.6 2504.5 1674.3 2504.0 1679.5 2503.5 1684.7 2506.1 1690.3 2506.6 1693.9 2510.7 1698.6 2515.8 1701.1 2521.0 1703.7 2519.4 1707.8 2514.8 1712.0 2509.1 1712.0 2513.8 1709.9 2520.0 1712.0 2522.0 1714.0 2520.0 1715.6 2524.6 1719.2 2525.6 1721.8 2529.7 1722.3 2533.3 1726.4 2536.9 1731.0 2539.0 1734.6 2539.0 1741.3 2541.1 1746.0 2538.0 1748.6 2539.0 1751.7 2540.0 1755.8 2542.6 1759.4 2539.5 1763.5 2536.4 1766.1 2535.9 1772.3 2535.9 1774.3 2534.4 1774.8 2530.8 1775.9 2525.6 1779.0 2520.5 1781.0 2515.8 1783.1 2511.2 1787.7 2508.1 1789.8 2503.0 1790.8 2497.3 1793.4 2488.5 1792.9 2482.9 1790.8 2475.2 1789.8 2472.1 1786.2 2467.9 1781.0 2462.8 1779.0 2457.6 1774.8 2456.1 1772.3 2452.5 1768.7 2447.3 1765.6 2444.2 1761.4 2441.2 1756.3 2438.6 1754.2 2432.4 1751.7 2425.2 1751.1 2418.5 1746.5 2414.9 1742.9 2413.9 1741.3 2407.7 1737.7 2401.5 1736.2 2396.4M1747.5 2550.9 1755.3 2552.9 1766.1 2551.9 1766.1 2558.6 1764.0 2563.7 1758.9 2565.8 1754.2 2565.3 1750.6 2558.6 1747.5 2553.4 1747.5 2550.9M1891.8 2518.4 1895.5 2521.5 1900.1 2526.1 1902.7 2531.3 1905.8 2531.8 1908.3 2534.9 1913.5 2536.4 1921.7 2535.4 1920.7 2540.0 1918.6 2543.1 1914.0 2543.6 1913.0 2548.3 1908.9 2553.9 1904.7 2555.5 1902.2 2553.9 1904.2 2549.3 1900.6 2546.2 1897.5 2543.1 1901.6 2540.0 1901.6 2533.9 1899.6 2529.2 1893.9 2522.5 1891.8 2518.4M1891.8 2549.8 1898.0 2551.9 1900.1 2555.0 1898.0 2559.1 1894.4 2562.7 1892.4 2566.8 1888.2 2567.3 1884.1 2569.9 1882.1 2577.1 1876.9 2580.7 1870.2 2581.2 1863.5 2579.2 1859.9 2577.1 1862.5 2573.5 1867.6 2568.9 1874.3 2565.8 1880.5 2562.2 1885.1 2557.6 1887.2 2555.0 1888.8 2551.4 1891.8 2549.8M1255.8 2403.1 1260.5 2415.9 1261.5 2421.1 1258.4 2426.2 1256.4 2432.9 1253.3 2444.2 1249.1 2457.6 1244.5 2470.0 1234.7 2472.6 1228.5 2467.9 1226.5 2462.3 1224.9 2454.6 1228.0 2450.4 1230.6 2443.7 1228.5 2433.9 1230.1 2426.2 1236.3 2423.7 1241.4 2421.1 1248.6 2413.3 1253.3 2407.7 1255.8 2403.1M1413.6 2290.8 1418.2 2293.9 1421.3 2298.0 1423.9 2303.7 1422.3 2308.3 1417.2 2310.9 1414.1 2307.3 1413.0 2300.1 1413.6 2290.8M972.4 2083.2 980.1 2081.7 984.2 2080.7 994.0 2080.1 1003.3 2079.6 1009.0 2077.6 1007.9 2074.5 1010.5 2069.8 1003.3 2068.3 1002.3 2065.2 1000.7 2062.6 995.6 2060.1 993.5 2055.4 990.9 2053.4 987.8 2052.8 988.9 2050.3 992.5 2044.6 983.2 2044.1 986.3 2039.5 976.0 2039.5 972.9 2045.1 968.8 2051.3 972.9 2055.9 976.0 2059.0 983.7 2060.6 986.3 2066.2 978.0 2066.8 978.0 2072.9 976.0 2075.5 986.3 2075.5 980.1 2077.6 972.4 2083.2M963.1 2057.0 972.9 2060.1 970.8 2066.8 968.8 2072.4 959.5 2075.0 952.8 2076.0 950.2 2070.9 952.3 2065.7 950.2 2063.2 957.9 2061.6 959.0 2057.0 963.1 2057.0M1244.0 2106.9 1246.6 2115.7 1246.6 2119.8 1252.2 2126.0 1257.9 2134.2 1255.8 2138.9 1253.8 2143.5 1255.3 2148.1 1261.0 2150.7 1267.2 2151.7 1277.5 2151.2 1279.6 2148.6 1278.0 2140.4 1274.9 2135.2 1273.9 2128.6 1272.3 2124.9 1264.6 2123.9 1266.2 2118.8 1261.0 2112.1 1266.2 2108.5 1275.9 2108.0 1274.9 2101.3 1265.6 2098.7 1254.8 2102.3 1244.0 2106.9M598.7 2211.5 601.3 2216.1 599.7 2216.6 597.7 2213.0 598.7 2211.5M603.9 2204.3 604.9 2206.3 602.8 2206.8 603.9 2204.3M595.1 2203.7 599.7 2204.3 598.2 2204.8 595.1 2203.7M610.0 2214.6 612.6 2218.7 611.1 2219.7 610.0 2214.6M198.2 2238.8 202.4 2239.8 203.9 2240.8 199.8 2243.9 198.2 2240.8 198.2 2238.8M194.1 2233.6 197.7 2234.1 195.7 2235.2 194.1 2233.6M185.9 2230.0 189.0 2231.6 186.9 2231.6 185.9 2230.0M178.1 2226.9 180.7 2226.9 179.7 2228.5 178.1 2226.9M1642.4 2276.9 1647.5 2277.4 1649.1 2283.1 1647.0 2285.6 1646.0 2289.8 1642.9 2287.7 1643.9 2282.5 1642.4 2276.9M1630.0 2280.0 1635.2 2282.0 1633.1 2286.7 1630.0 2287.2 1630.0 2280.0M1633.1 2285.1 1638.3 2285.6 1636.7 2294.4 1633.1 2290.3 1633.1 2285.1M1640.3 2283.6 1640.8 2287.2 1637.8 2291.8 1638.3 2287.2 1640.3 2283.6M1621.8 2271.7 1628.0 2272.8 1626.4 2277.9 1623.3 2276.9 1621.8 2271.7M1605.8 2298.0 1612.5 2292.8 1618.2 2286.1 1616.6 2283.1 1613.0 2288.2 1607.3 2294.4 1605.8 2298.0M1591.9 2383.0 1595.5 2383.0 1598.1 2384.5 1595.5 2386.6 1591.9 2384.5 1591.9 2383.0M1599.6 2384.0 1603.2 2384.0 1602.2 2387.1 1599.6 2386.6 1599.6 2384.0M1603.7 2385.0 1608.4 2383.5 1615.1 2384.0 1615.6 2386.1 1609.9 2387.1 1604.3 2387.6 1603.7 2385.0M1619.7 2384.5 1625.4 2384.0 1633.1 2383.5 1635.2 2384.0 1633.1 2386.6 1625.4 2387.1 1619.7 2386.6 1619.7 2384.5M1638.3 2394.3 1643.4 2390.2 1648.6 2387.6 1656.3 2384.5 1657.3 2385.5 1651.2 2389.1 1645.0 2392.8 1639.8 2394.8 1638.3 2394.3M1616.1 2390.2 1621.8 2390.7 1624.4 2393.8 1620.2 2393.8 1616.1 2391.2 1616.1 2390.2M1658.9 2331.5 1661.5 2335.1 1665.1 2336.1 1661.5 2339.7 1660.9 2343.8 1658.4 2338.7 1658.9 2331.5M1651.2 2357.2 1656.3 2357.7 1655.8 2360.8 1651.7 2359.8 1651.2 2357.2M1661.5 2358.2 1669.2 2355.7 1675.4 2358.8 1670.7 2359.8 1663.0 2360.3 1661.5 2358.2M1766.1 2370.1 1772.8 2369.6 1777.4 2369.1 1782.6 2366.0 1786.2 2363.4 1784.6 2367.0 1780.0 2372.2 1774.8 2373.2 1768.7 2372.7 1766.1 2370.1M1778.5 2354.6 1784.1 2358.2 1788.3 2362.9 1790.3 2365.5 1788.8 2364.9 1783.6 2359.8 1778.5 2354.6M1800.6 2369.6 1804.7 2373.7 1803.7 2376.8 1800.6 2373.2 1800.6 2369.6M1808.4 2377.3 1814.0 2380.4 1813.0 2382.4 1808.4 2379.4 1808.4 2377.3M1824.3 2388.6 1830.5 2390.7 1829.5 2392.2 1824.8 2391.2 1824.3 2388.6M1829.5 2384.0 1832.6 2387.6 1831.5 2389.1 1829.5 2386.1 1829.5 2384.0M1859.9 2417.0 1863.5 2421.1 1862.5 2422.1 1860.4 2420.0 1859.9 2417.0M1865.0 2426.2 1869.2 2431.4 1867.6 2432.4 1865.0 2427.8 1865.0 2426.2M1847.5 2445.3 1854.7 2450.4 1862.5 2456.1 1859.9 2456.6 1851.6 2451.5 1847.5 2446.8 1847.5 2445.3M1915.6 2431.4 1921.2 2430.3 1922.3 2434.5 1916.6 2435.0 1915.6 2431.4M1923.8 2425.2 1929.0 2425.2 1929.5 2427.8 1923.8 2427.8 1923.8 2425.2M1065.7 2145.6 1070.3 2144.5 1082.2 2144.0 1079.6 2149.2 1079.6 2152.2 1075.5 2150.7 1066.7 2147.6 1065.7 2145.6M1044.0 2130.1 1049.2 2129.1 1052.3 2132.7 1051.2 2139.4 1045.6 2140.9 1045.0 2136.3 1044.0 2130.1M1046.1 2120.3 1050.2 2119.8 1050.7 2124.9 1049.2 2128.0 1046.1 2125.5 1046.1 2120.3M1122.9 2159.5 1128.0 2158.4 1137.3 2159.5 1135.8 2161.0 1129.6 2161.5 1123.4 2160.0 1122.9 2159.5M1168.2 2160.5 1174.4 2158.9 1180.1 2157.4 1177.0 2161.0 1171.8 2163.1 1168.2 2162.0 1168.2 2160.5M1014.1 2137.3 1019.3 2135.8 1018.2 2138.9 1014.1 2137.3M142.1 2063.7 145.2 2065.7 138.5 2066.8 142.1 2063.7M130.7 2068.8 135.9 2066.8 134.3 2069.3 130.7 2068.8M112.7 2071.9 123.0 2070.4 120.4 2071.9 112.7 2071.9M90.0 2074.0 97.2 2072.9 94.6 2074.5 90.0 2074.0M80.7 2075.5 87.4 2074.0 85.4 2075.0 80.7 2075.5M1915.0 2074.0 1921.7 2075.0 1917.1 2075.5 1915.0 2074.0M1890.3 2068.8 1896.5 2068.8 1893.4 2069.8 1890.3 2068.8M208.5 2043.1 216.8 2043.1 215.8 2046.7 208.5 2048.2 204.9 2046.2 208.5 2043.1M1754.2 2115.2 1762.0 2110.5 1760.9 2110.0 1754.2 2115.2M1767.1 2108.0 1769.2 2106.9 1767.6 2106.9 1767.1 2108.0M1772.3 2104.3 1777.4 2101.8 1774.8 2101.8 1772.3 2104.3M1782.6 2100.2 1786.2 2097.7 1784.6 2097.7 1782.6 2100.2M1790.3 2095.6 1793.4 2093.0 1791.9 2093.0 1790.3 2095.6M1798.6 2087.4 1802.2 2084.3 1800.6 2083.8 1798.6 2087.4M1803.2 2082.2 1808.9 2079.6 1806.8 2079.1 1803.2 2082.2M1927.4 2739.3 1903.7 2740.9 1880.5 2739.3 1865.0 2740.9 1852.2 2739.9 1844.4 2737.8 1839.3 2733.7 1831.5 2731.6 1825.4 2728.5 1831.5 2724.9 1838.8 2718.7 1852.2 2715.1 1865.0 2712.1 1872.8 2709.5 1879.5 2708.4 1872.3 2707.4 1857.3 2704.8 1836.7 2705.4 1821.2 2703.3 1805.3 2703.3 1785.2 2696.6 1764.5 2694.0 1749.1 2690.4 1738.3 2687.8 1718.2 2685.3 1702.7 2683.2 1682.1 2682.7 1670.7 2683.2 1651.2 2684.2 1630.5 2684.2 1599.6 2683.7 1584.2 2682.2 1568.7 2682.7 1548.1 2682.2 1536.2 2680.1 1517.2 2681.2 1501.7 2681.2 1486.2 2683.7 1469.2 2683.2 1445.0 2685.3 1424.4 2687.3 1403.8 2693.0 1388.3 2698.1 1375.9 2699.7 1370.3 2702.8 1362.5 2714.6 1355.3 2716.7 1352.2 2706.9 1347.1 2699.7 1331.6 2689.4 1311.0 2687.3 1299.7 2686.3 1280.1 2684.2 1267.7 2682.7 1249.1 2686.3 1233.7 2689.4 1207.9 2693.5 1187.3 2697.1 1166.7 2698.7 1146.1 2702.3 1125.4 2702.8 1104.8 2701.8 1086.3 2702.3 1063.6 2703.8 1043.0 2703.3 1022.4 2703.8 1001.8 2705.4 976.0 2707.4 950.2 2715.1 929.6 2719.3 906.4 2728.0 888.4 2731.6 867.7 2734.2 847.1 2740.4 826.5 2744.0 816.2 2747.1 795.6 2742.9 775.0 2740.9 754.4 2740.9 733.7 2739.9 713.1 2734.7 692.5 2730.1 679.6 2724.9 675.5 2716.2 685.8 2702.8 689.4 2686.3 695.1 2676.0 705.4 2670.8 710.5 2667.2 702.8 2667.2 684.8 2670.8 674.5 2676.0 664.7 2680.1 656.4 2686.3 648.2 2693.0 646.1 2701.8 638.4 2713.1 620.4 2718.2 604.9 2718.7 579.1 2720.8 558.5 2718.2 538.4 2717.2 512.1 2716.2 486.4 2720.3 470.9 2726.5 447.7 2727.5 414.2 2725.4 380.7 2722.3 347.2 2721.3 313.7 2725.4 280.2 2729.0 254.4 2732.1 228.6 2735.2 202.9 2739.3 187.4 2744.0 177.1 2750.7 161.6 2757.4 151.3 2763.6M76.1 2775.9 125.6 2776.4 177.1 2778.0 200.3 2779.0M94.6 2768.7 135.9 2769.7 177.1 2772.8 197.7 2775.4M156.5 2749.1 177.1 2748.6 187.4 2751.7 172.0 2753.2 156.5 2749.1M146.2 2757.4 166.8 2756.9 172.0 2759.4 146.2 2757.4M630.7 2699.2 638.4 2697.6 648.2 2704.3 643.5 2712.1 633.2 2709.5 630.7 2699.2M754.4 2743.5 769.8 2742.9 775.0 2748.1 754.4 2750.7 744.0 2748.1 754.4 2743.5M692.5 2750.7 744.0 2758.4 795.6 2759.9 836.8 2755.8 857.4 2752.2M483.8 2712.1 496.7 2711.5 499.2 2714.6 486.4 2715.1 483.8 2712.1M615.2 2754.8 661.6 2765.1 682.2 2766.6" stroke-width="1.25"/><path d="M909.5 2192.9 910.5 2194.5 909.0 2194.5 909.5 2192.9M914.6 2195.0 917.7 2194.0 916.7 2197.1 914.6 2195.0M920.3 2196.0 922.4 2196.5 921.3 2198.1 920.3 2196.0M927.0 2193.4 930.1 2193.4 928.6 2196.0 927.0 2193.4M869.3 2146.6 871.9 2146.1 870.3 2147.1 869.3 2146.6M913.1 2172.3 915.7 2172.3 914.1 2173.4 913.1 2172.3M876.0 2254.7 878.1 2255.8 880.1 2263.5 882.2 2262.5 876.0 2254.7M1286.3 2448.9 1289.3 2449.4 1287.8 2451.5 1286.3 2448.9M1297.1 2444.2 1299.7 2445.3 1298.1 2446.8 1297.1 2444.2M1356.3 2591.5 1365.1 2593.6 1361.5 2597.2 1356.3 2595.1 1356.3 2591.5M1268.2 2580.2 1270.8 2580.2 1269.2 2581.2 1268.2 2580.2M1195.5 2582.8 1197.1 2582.8 1196.1 2583.8 1195.5 2582.8M1379.5 2614.2 1382.1 2614.7 1380.6 2615.2 1379.5 2614.2M1224.9 2400.0 1225.9 2402.5 1224.4 2402.0 1224.9 2400.0M1276.5 2276.4 1282.6 2276.4 1280.1 2277.9 1276.5 2276.4M529.6 2342.3 533.8 2342.8 532.7 2345.9 530.2 2346.4 529.6 2342.3M437.4 2480.8 438.9 2480.8 437.9 2481.3 437.4 2480.8M585.3 2514.3 595.6 2514.3 594.6 2514.8 585.3 2514.3M230.7 2431.4 232.8 2431.9 231.7 2432.9 230.7 2431.4M116.3 2412.3 118.4 2413.3 116.3 2413.3 116.3 2412.3M111.1 2410.3 114.2 2410.8 112.7 2412.3 111.1 2410.3M98.3 2449.9 99.8 2449.9 98.8 2450.9 98.3 2449.9M178.1 2450.4 178.7 2450.4 178.1 2450.9 178.1 2450.4M1892.9 2334.0 1893.9 2333.5 1893.4 2334.6 1892.9 2334.0M1883.1 2304.7 1884.6 2304.7 1884.1 2305.2 1883.1 2304.7M1694.4 2303.7 1696.0 2301.6 1695.0 2302.1 1694.4 2303.7M1747.0 2272.8 1749.1 2271.2 1748.0 2273.3 1747.0 2272.8M1752.2 2264.0 1753.2 2262.5 1752.7 2264.5 1752.2 2264.0M1713.0 2292.3 1714.0 2291.8 1713.5 2292.8 1713.0 2292.3M1783.6 2303.7 1784.6 2302.6 1784.1 2304.2 1783.6 2303.7M1816.6 2306.2 1817.6 2305.2 1817.6 2306.2 1816.6 2306.2M128.1 2439.1 126.6 2439.6 126.1 2440.1 128.1 2439.1M1859.4 2343.8 1862.0 2343.8 1860.4 2344.3 1859.4 2343.8M190.0 2332.0 191.5 2330.9 191.0 2332.5 190.0 2332.0M1377.0 2378.3 1375.4 2379.4 1374.9 2378.8 1377.0 2378.3M1378.0 2325.8 1380.6 2320.7 1379.0 2319.6 1378.0 2325.8M1377.0 2315.5 1379.5 2307.8 1378.0 2306.2 1377.0 2315.5M1478.5 2278.4 1481.1 2271.7 1480.0 2271.2 1478.5 2278.4M1479.0 2287.2 1480.6 2284.6 1479.5 2284.1 1479.0 2287.2M1483.6 2305.2 1485.7 2302.6 1484.7 2302.1 1483.6 2305.2M1867.6 2490.6 1867.6 2491.1 1867.1 2490.6 1867.6 2490.6M648.7 2278.4 650.2 2278.4 649.7 2279.4 648.7 2278.4M674.5 2248.0 677.0 2247.5 676.0 2249.1 674.5 2248.0M683.2 2253.2 684.3 2253.2 683.7 2254.2 683.2 2253.2M684.3 2257.3 686.3 2257.3 685.3 2259.4 684.3 2257.3M686.3 2265.0 687.4 2265.0 686.8 2267.1 686.3 2265.0M687.4 2269.2 687.9 2268.6 687.9 2270.7 687.4 2269.2M694.6 2272.8 695.6 2273.3 695.1 2274.3 694.6 2272.8M683.2 2278.4 684.3 2278.4 683.7 2279.4 683.2 2278.4M667.8 2174.9 668.8 2174.4 668.3 2175.4 667.8 2174.9M1303.3 2101.3 1310.5 2104.3 1316.1 2106.4 1312.5 2114.7 1304.8 2114.7 1303.3 2106.9 1303.3 2101.3" stroke-width="1.00"/></g>
<rect x="78.9" y="2032.2" width="1845.6" height="772.5" fill="none" stroke="#222" stroke-width="1.6"/>
<g class="ax"><text x="23.1" y="2115.8" textLength="47" lengthAdjust="spacingAndGlyphs">45°<tspan dx="9">N</tspan></text><text x="23.1" y="2193.1" textLength="47" lengthAdjust="spacingAndGlyphs">30°<tspan dx="9">N</tspan></text><text x="23.1" y="2270.3" textLength="47" lengthAdjust="spacingAndGlyphs">15°<tspan dx="9">N</tspan></text><text x="41.2" y="2347.6" textLength="17" lengthAdjust="spacingAndGlyphs">0°</text><text x="23.1" y="2424.8" textLength="47" lengthAdjust="spacingAndGlyphs">15°<tspan dx="9">S</tspan></text><text x="23.1" y="2502.1" textLength="47" lengthAdjust="spacingAndGlyphs">30°<tspan dx="9">S</tspan></text><text x="23.1" y="2579.3" textLength="47" lengthAdjust="spacingAndGlyphs">45°<tspan dx="9">S</tspan></text><text x="23.1" y="2656.6" textLength="47" lengthAdjust="spacingAndGlyphs">60°<tspan dx="9">S</tspan></text><text x="23.1" y="2733.8" textLength="47" lengthAdjust="spacingAndGlyphs">75°<tspan dx="9">S</tspan></text><text x="201.2" y="2828.2" textLength="55.5" lengthAdjust="spacingAndGlyphs">150°<tspan dx="9">W</tspan></text><text x="355.8" y="2828.2" textLength="55.5" lengthAdjust="spacingAndGlyphs">120°<tspan dx="9">W</tspan></text><text x="514.9" y="2828.2" textLength="46.5" lengthAdjust="spacingAndGlyphs">90°<tspan dx="9">W</tspan></text><text x="669.6" y="2828.2" textLength="46.5" lengthAdjust="spacingAndGlyphs">60°<tspan dx="9">W</tspan></text><text x="824.2" y="2828.2" textLength="46.5" lengthAdjust="spacingAndGlyphs">30°<tspan dx="9">W</tspan></text><text x="987.0" y="2828.2" textLength="17.5" lengthAdjust="spacingAndGlyphs">0°</text><text x="1133.4" y="2828.2" textLength="46.5" lengthAdjust="spacingAndGlyphs">30°<tspan dx="9">E</tspan></text><text x="1288.0" y="2828.2" textLength="46.5" lengthAdjust="spacingAndGlyphs">60°<tspan dx="9">E</tspan></text><text x="1442.7" y="2828.2" textLength="46.5" lengthAdjust="spacingAndGlyphs">90°<tspan dx="9">E</tspan></text><text x="1592.8" y="2828.2" textLength="55.5" lengthAdjust="spacingAndGlyphs">120°<tspan dx="9">E</tspan></text><text x="1747.4" y="2828.2" textLength="55.5" lengthAdjust="spacingAndGlyphs">150°<tspan dx="9">E</tspan></text></g>
<text class="ti" x="695.1" y="2001.5" textLength="705.9" lengthAdjust="spacingAndGlyphs">EMI-DQ01 TOC (November 2023)</text>
<text class="pl" x="83.0" y="1995.0" textLength="62.1" lengthAdjust="spacingAndGlyphs">(c)</text>
<rect x="1957.2" y="1957.9" width="46.7" height="921.3" fill="url(#jet)" stroke="#111" stroke-width="1.4"/>
<text class="cbl" x="2016" y="2887.2">0</text>
<text class="cbl" x="2016" y="2702.9">100</text>
<text class="cbl" x="2016" y="2518.7">200</text>
<text class="cbl" x="2016" y="2334.4">300</text>
<text class="cbl" x="2016" y="2150.2">400</text>
<text class="cbl" x="2016" y="1965.9">500</text>
<path d="M2003.9 2879.2h5.5M2003.9 2694.9h5.5M2003.9 2510.7h5.5M2003.9 2326.4h5.5M2003.9 2142.2h5.5M2003.9 1957.9h5.5" stroke="#111" stroke-width="1.4"/>
<text class="vcd" transform="translate(2091.7 2411.9) rotate(-90)" text-anchor="middle" textLength="184" lengthAdjust="spacingAndGlyphs">VCD (DU)</text><defs><clipPath id="cld"><rect x="81.8" y="3026.9" width="1845.4" height="767.0"/></clipPath></defs>
<path d="M235.5 3026.9V3793.9M389.3 3026.9V3793.9M543.1 3026.9V3793.9M696.9 3026.9V3793.9M850.7 3026.9V3793.9M1004.5 3026.9V3793.9M1158.2 3026.9V3793.9M1312.0 3026.9V3793.9M1465.8 3026.9V3793.9M1619.6 3026.9V3793.9M1773.4 3026.9V3793.9M81.8 3103.6H1927.1M81.8 3180.3H1927.1M81.8 3257.0H1927.1M81.8 3333.7H1927.1M81.8 3410.4H1927.1M81.8 3487.1H1927.1M81.8 3563.8H1927.1M81.8 3640.5H1927.1M81.8 3717.2H1927.1" stroke="#000" stroke-width="2.5" stroke-dasharray="2.5 3.5" fill="none"/>
<g clip-path="url(#cld)" fill="none" stroke="#000" stroke-linejoin="round" stroke-linecap="round"><path d="M153.5 3014.1 159.7 3022.8 172.5 3027.4 174.6 3033.6 186.9 3034.1 194.5 3033.6 199.7 3033.6 197.1 3039.7 189.4 3044.3 179.2 3047.9 168.9 3052.0 160.7 3055.0 167.9 3053.0 176.6 3051.0 186.9 3048.4 194.5 3044.8 202.2 3040.7 209.9 3037.7 215.0 3034.1 218.1 3031.0 221.2 3026.9 227.3 3020.8 231.4 3022.8 228.4 3025.9 226.3 3030.5 233.0 3030.0 238.1 3027.9 243.2 3026.4 250.9 3023.9 258.6 3024.4 266.3 3026.4 276.6 3026.7 281.7 3027.4 288.3 3029.0 294.5 3031.0 302.2 3034.1 305.3 3036.6 306.8 3039.7 310.4 3042.8 314.5 3046.3 319.6 3050.4 325.3 3053.0 331.9 3055.6 336.5 3056.6 338.1 3060.7 342.7 3064.2 347.3 3067.8 350.4 3071.9 346.8 3074.0 352.4 3077.5 359.6 3082.1 365.2 3086.2 368.3 3093.4 368.8 3097.5 369.3 3101.6 368.3 3106.7 366.3 3114.9 367.8 3120.0 366.8 3127.1 369.9 3131.7 374.0 3138.4 376.5 3141.5 379.6 3146.6 382.2 3150.7 386.3 3156.8 391.9 3157.8 397.0 3159.9 399.1 3161.4 403.7 3166.0 404.2 3167.5 406.8 3172.6 409.3 3177.2 411.4 3181.3 416.0 3186.4 419.6 3190.5 419.1 3193.1 424.2 3197.2 429.3 3202.8 429.8 3206.9 433.9 3209.5 439.1 3213.5 441.1 3216.6 443.7 3214.6 439.1 3210.0 437.0 3205.9 433.9 3201.8 431.4 3197.2 427.8 3193.1 425.2 3189.0 422.1 3184.4 417.5 3179.3 416.0 3173.7 416.0 3171.1 418.5 3172.1 422.6 3173.7 426.2 3177.2 429.3 3185.4 434.4 3191.0 439.1 3194.1 443.7 3200.8 448.3 3204.3 453.4 3208.4 459.0 3215.1 463.7 3221.7 464.7 3226.3 463.1 3229.4 466.2 3234.0 469.8 3236.6 474.4 3240.1 480.6 3242.2 486.7 3245.2 492.4 3247.8 499.5 3250.4 507.2 3252.9 512.4 3253.4 516.5 3251.4 520.0 3250.9 525.2 3253.4 531.3 3259.1 535.9 3262.6 543.1 3263.1 548.2 3265.2 554.4 3266.2 555.9 3267.7 559.5 3271.3 563.6 3275.9 565.2 3277.5 564.6 3280.5 567.7 3283.1 569.8 3284.6 572.3 3285.1 575.9 3289.2 579.0 3291.3 582.6 3292.3 585.7 3292.3 589.8 3296.4 593.3 3295.9 592.3 3292.8 596.4 3288.2 599.5 3287.7 602.6 3290.8 604.6 3294.8 607.2 3298.4 607.7 3303.0 608.2 3310.7 607.2 3315.8 605.1 3319.4 601.0 3324.5 599.5 3328.1 594.4 3329.6 593.9 3333.7 591.8 3337.8 589.8 3339.3 591.8 3343.9 594.9 3346.5 593.3 3350.6 590.8 3352.1 588.2 3355.2 587.7 3357.7 589.2 3361.8 589.8 3364.4 594.9 3369.5 599.5 3376.1 603.1 3382.8 606.7 3389.9 609.2 3395.6 613.3 3402.7 614.9 3407.3 619.0 3412.4 627.7 3417.6 635.4 3421.6 639.0 3424.2 643.6 3427.8 644.6 3433.4 645.1 3441.1 643.6 3453.9 643.1 3461.5 641.5 3471.8 639.0 3479.4 637.9 3487.1 637.4 3497.3 637.4 3502.4 635.4 3508.6 632.3 3515.2 629.2 3522.9 627.2 3528.0 628.2 3535.7 626.2 3543.3 625.1 3548.4 623.6 3553.6 625.1 3558.7 620.0 3563.8 617.4 3571.5 618.5 3579.1 617.4 3586.8 619.0 3594.5 622.6 3602.1 627.7 3606.2 635.4 3609.8 640.5 3612.9 648.2 3615.9 655.9 3617.5 660.0 3619.5 663.6 3615.4 670.2 3613.9 663.6 3611.8 657.9 3607.8 653.8 3602.6 651.8 3601.1 649.2 3597.5 650.2 3591.9 654.3 3589.9 656.9 3585.8 660.0 3581.7 666.1 3578.1 667.2 3575.0 658.4 3568.9 659.0 3566.3 663.6 3563.8 669.7 3561.7 671.3 3556.1 674.3 3553.0 678.4 3552.0 675.4 3550.0 671.3 3549.0 671.3 3543.3 676.4 3543.3 684.1 3541.3 685.6 3535.7 685.1 3532.1 691.8 3532.6 702.0 3531.1 709.2 3529.0 710.7 3525.4 713.8 3519.8 711.8 3516.7 709.7 3514.2 705.1 3510.6 704.6 3508.1 708.2 3510.1 716.4 3512.1 722.5 3512.1 727.1 3510.6 730.7 3506.0 734.8 3502.4 737.9 3497.8 742.0 3492.2 746.6 3487.1 750.2 3482.0 754.8 3478.4 755.8 3471.8 755.3 3466.6 757.4 3463.6 762.0 3460.5 767.1 3456.4 772.8 3454.4 777.9 3451.8 783.0 3451.0 789.2 3450.8 794.3 3446.2 794.8 3442.1 798.4 3437.5 800.9 3433.4 803.5 3424.2 804.0 3418.1 805.0 3410.4 804.5 3404.3 807.1 3400.2 811.2 3396.1 814.8 3389.9 817.9 3387.4 822.5 3382.3 825.0 3374.6 826.1 3370.5 824.5 3364.4 823.5 3360.3 817.4 3359.3 812.2 3357.2 807.1 3352.6 802.0 3349.0 796.8 3348.0 790.2 3348.0 781.5 3346.0 777.4 3346.5 773.8 3341.9 766.1 3338.8 759.4 3336.8 755.8 3339.8 752.3 3337.8 750.7 3335.2 745.6 3332.7 748.2 3328.6 745.6 3324.5 742.0 3315.8 739.4 3312.2 735.3 3308.1 728.7 3304.0 722.5 3303.0 714.8 3303.0 709.7 3301.5 705.6 3298.4 700.5 3294.8 694.3 3290.2 689.2 3284.6 686.6 3281.5 682.0 3279.5 676.4 3279.5 671.3 3282.1 665.1 3279.5 658.4 3280.0 654.3 3280.0 650.8 3275.4 644.6 3274.4 645.1 3271.8 644.1 3274.9 640.0 3276.4 637.4 3277.5 635.9 3274.4 633.8 3272.9 636.4 3270.3 632.8 3272.3 628.7 3275.9 624.1 3276.4 620.0 3278.5 616.9 3281.5 616.4 3285.6 613.3 3287.7 610.8 3290.2 607.7 3289.2 605.1 3286.1 600.5 3285.1 596.4 3284.6 591.8 3287.2 586.7 3288.2 583.1 3287.7 579.5 3284.1 575.9 3278.5 575.4 3272.9 576.4 3264.7 578.0 3257.0 572.8 3254.4 566.2 3252.4 559.0 3252.9 552.8 3253.4 549.3 3252.4 551.8 3248.8 552.3 3244.2 553.4 3239.1 555.9 3234.0 558.5 3227.9 559.5 3224.3 555.9 3223.8 550.8 3224.3 543.1 3225.3 541.1 3228.9 540.5 3234.0 535.4 3238.6 530.3 3238.6 523.6 3240.1 518.5 3240.6 513.4 3237.6 510.3 3233.5 506.2 3227.9 503.6 3221.7 503.1 3216.6 503.6 3208.4 506.2 3201.3 505.2 3195.6 507.2 3191.0 511.3 3188.0 518.5 3183.9 523.6 3181.8 530.3 3182.4 537.0 3184.4 542.1 3184.9 546.7 3185.4 545.7 3182.4 545.2 3179.3 550.8 3178.3 555.9 3178.8 561.1 3178.3 566.2 3180.3 569.3 3181.8 573.9 3179.8 577.5 3182.9 580.5 3186.4 580.5 3191.0 582.6 3196.2 585.1 3200.3 588.2 3203.8 591.8 3204.9 593.3 3201.8 594.4 3196.7 593.3 3194.1 591.3 3189.0 589.8 3184.4 587.7 3178.8 587.2 3174.2 589.8 3170.1 594.4 3166.5 598.5 3163.4 602.1 3160.4 605.6 3158.8 609.7 3156.3 613.3 3155.3 617.4 3153.2 616.4 3148.1 614.9 3145.0 615.4 3142.0 618.5 3139.4 620.0 3135.3 620.5 3132.2 624.6 3129.2 625.1 3126.6 627.7 3126.1 635.4 3124.6 635.9 3122.5 640.5 3121.5 644.6 3121.0 645.6 3119.0 642.6 3117.4 641.5 3114.4 644.1 3110.8 649.7 3108.7 654.9 3106.7 661.0 3104.6 661.5 3102.6 666.1 3102.6 672.3 3100.5 674.8 3102.1 668.7 3105.1 665.6 3108.7 668.2 3111.3 673.8 3108.2 678.9 3105.7 686.6 3103.6 691.8 3102.1 696.9 3099.0 695.4 3094.4 692.8 3093.9 689.7 3097.5 688.7 3100.5 683.0 3100.0 677.4 3099.0 673.3 3097.5 671.8 3093.4 669.7 3089.8 673.3 3088.8 674.3 3085.2 672.3 3083.2 666.1 3082.7 658.4 3083.7 653.3 3086.2 648.2 3090.3 643.1 3093.4 639.5 3094.4 644.1 3090.8 649.2 3087.3 653.3 3082.7 659.5 3081.1 663.6 3077.0 671.3 3077.0 678.9 3077.0 689.2 3077.5 696.9 3077.0 703.0 3073.4 709.2 3070.9 714.8 3067.8 718.4 3064.2 717.4 3060.2 710.7 3056.6 704.6 3054.5 697.9 3051.5 692.8 3047.9 689.2 3044.8 686.6 3040.7 684.1 3037.1 680.5 3033.6 676.4 3029.5 674.3 3025.4 670.2 3029.0 667.2 3033.1 660.0 3035.6 653.3 3034.1 648.7 3031.0 647.7 3025.9 645.6 3021.8M518.5 3020.8 521.1 3027.9 521.6 3033.1 527.7 3033.6 530.3 3039.7 538.0 3041.7 548.2 3044.3 555.9 3047.9 566.2 3051.0 576.4 3051.5 582.6 3052.0 583.1 3060.2 586.7 3064.8 591.8 3070.4 596.9 3070.4 600.5 3065.3 599.5 3057.6 607.2 3049.9 610.8 3045.8 611.8 3039.7 607.7 3034.6 603.1 3032.0 607.2 3026.9 604.6 3021.8M768.7 3020.8 776.3 3025.4 781.5 3027.4 784.0 3025.4 787.6 3020.8M734.3 3090.3 732.3 3094.9 727.6 3093.9 722.5 3092.9 717.4 3090.8 700.5 3090.3 704.6 3083.2 711.2 3075.5 720.5 3069.9 719.4 3075.5 727.6 3080.1 732.8 3085.7 734.3 3090.3M569.3 3221.7 572.3 3219.2 577.5 3216.6 582.1 3215.3 586.7 3215.6 591.8 3216.1 596.9 3218.1 602.1 3219.2 607.2 3222.2 612.3 3225.3 617.4 3226.8 624.1 3230.2 622.6 3231.4 617.4 3232.0 609.7 3232.0 606.2 3232.2 608.7 3228.9 604.6 3227.3 601.5 3223.8 596.9 3223.3 591.8 3221.2 588.2 3220.2 585.1 3220.2 581.6 3218.1 576.4 3220.2 571.8 3222.2 569.3 3221.7M623.1 3239.6 629.2 3233.5 631.3 3232.0 637.9 3232.0 645.6 3233.0 649.2 3235.0 653.8 3238.6 651.8 3240.6 645.6 3240.6 640.0 3243.2 637.4 3241.2 632.8 3240.6 627.2 3240.6 623.1 3239.6M603.1 3240.1 609.7 3239.1 613.3 3240.6 610.8 3242.2 605.6 3242.2 603.1 3240.1M660.0 3239.1 668.2 3239.6 667.7 3241.7 660.0 3241.7 660.0 3239.1M687.2 3282.1 691.8 3278.5 692.3 3281.5 687.2 3282.1M690.2 3596.0 696.9 3595.5 706.1 3596.5 708.7 3598.0 704.6 3600.6 699.5 3600.1 694.3 3599.1 690.2 3596.0M809.7 3609.8 817.4 3610.3 820.9 3613.9 814.8 3612.4 809.7 3609.8M1029.6 3019.3 1030.1 3024.4 1031.6 3029.5 1033.2 3032.0 1035.2 3035.6 1040.3 3037.1 1046.5 3036.1 1053.1 3032.5 1057.2 3030.5 1059.3 3027.4 1060.3 3031.0 1061.9 3034.1 1065.4 3038.7 1069.6 3044.3 1070.6 3049.4 1072.6 3050.7 1077.8 3049.9 1077.8 3046.9 1085.4 3046.9 1088.5 3043.8 1090.1 3039.2 1090.6 3034.1 1096.2 3032.0 1100.8 3029.5 1098.3 3024.9 1093.1 3023.3 1092.6 3019.3M1113.6 3021.8 1114.7 3024.9 1119.8 3026.9 1124.9 3027.4 1132.6 3025.9 1142.9 3024.4 1150.5 3023.9 1157.2 3026.4 1149.0 3029.0 1142.9 3029.5 1135.2 3029.0 1128.5 3030.0 1124.4 3031.5 1124.9 3035.1 1129.0 3035.6 1129.0 3040.7 1127.5 3042.3 1123.4 3042.3 1120.3 3039.2 1115.7 3039.7 1112.6 3043.8 1112.1 3047.4 1112.6 3049.4 1113.1 3051.5 1109.5 3053.0 1106.5 3054.5 1104.4 3055.6 1099.8 3055.6 1099.3 3053.5 1094.2 3053.5 1088.0 3055.6 1080.3 3058.1 1077.2 3058.1 1073.7 3055.6 1068.5 3055.6 1063.4 3057.6 1060.3 3057.6 1059.8 3056.1 1056.7 3055.6 1055.2 3053.5 1054.2 3049.9 1057.2 3046.3 1058.8 3041.2 1058.8 3038.4 1053.7 3041.2 1048.5 3041.7 1046.0 3044.3 1046.5 3049.4 1048.5 3052.5 1050.1 3056.6 1048.5 3058.1 1045.5 3059.6 1040.3 3060.7 1037.8 3060.7 1032.6 3061.2 1029.1 3062.7 1028.0 3065.3 1025.5 3067.8 1023.9 3069.4 1021.9 3070.9 1017.8 3072.4 1012.7 3073.4 1012.7 3076.5 1011.1 3078.0 1005.5 3079.6 1003.4 3081.6 998.3 3081.1 997.8 3079.6 994.7 3079.6 996.2 3084.2 992.7 3085.2 989.1 3084.2 983.9 3084.7 980.4 3086.2 982.4 3087.8 981.9 3089.3 986.5 3089.8 991.6 3091.9 993.7 3094.4 996.8 3097.0 998.8 3100.5 998.0 3105.7 997.3 3110.8 995.2 3111.8 989.6 3111.8 985.0 3111.3 974.7 3110.8 968.6 3110.8 963.4 3110.3 958.8 3112.3 956.8 3114.4 958.8 3118.4 959.3 3124.1 958.3 3128.2 956.3 3132.2 955.8 3135.3 957.3 3137.4 959.3 3138.4 959.3 3142.0 958.3 3144.5 963.4 3144.5 966.5 3143.5 971.1 3145.0 972.7 3147.6 975.7 3149.6 978.8 3147.6 981.9 3146.1 989.1 3146.1 993.7 3146.1 996.2 3142.5 1000.9 3141.5 1001.9 3137.9 1005.5 3135.3 1002.9 3131.7 1005.5 3128.7 1009.1 3125.1 1014.7 3122.5 1020.9 3119.5 1020.9 3116.9 1019.8 3113.8 1023.4 3111.8 1028.0 3111.8 1032.6 3112.8 1037.8 3113.3 1041.9 3110.3 1046.5 3109.2 1050.1 3106.7 1054.7 3108.2 1057.2 3111.3 1058.3 3114.4 1061.3 3116.9 1067.0 3120.5 1071.1 3123.0 1076.2 3125.1 1079.3 3126.1 1081.3 3128.2 1084.9 3129.7 1087.0 3134.8 1084.9 3138.4 1087.0 3139.9 1089.5 3137.4 1092.1 3134.8 1092.1 3132.2 1089.0 3130.7 1091.1 3127.1 1096.2 3127.6 1099.3 3128.7 1098.3 3126.6 1093.6 3124.6 1087.5 3122.0 1086.0 3119.5 1079.8 3118.4 1076.7 3115.9 1074.2 3111.3 1069.0 3108.2 1067.5 3104.1 1068.0 3101.6 1071.6 3100.0 1074.7 3100.5 1075.2 3104.1 1078.3 3102.1 1082.4 3107.2 1086.5 3111.3 1091.6 3112.8 1095.2 3114.4 1099.3 3116.9 1103.4 3119.5 1104.4 3122.5 1103.9 3126.6 1107.0 3130.7 1110.6 3134.3 1112.6 3137.9 1115.2 3142.5 1115.7 3145.5 1119.3 3147.6 1121.3 3145.5 1123.4 3147.6 1121.8 3142.0 1124.9 3139.9 1127.5 3138.4 1123.4 3135.8 1121.3 3132.8 1120.3 3128.7 1121.8 3126.1 1125.9 3128.2 1129.5 3124.6 1135.2 3124.6 1138.8 3125.1 1141.3 3127.1 1145.4 3124.6 1153.1 3123.6 1148.5 3121.0 1146.4 3115.4 1150.5 3111.3 1151.6 3106.2 1156.7 3102.1 1162.3 3095.9 1166.9 3095.4 1171.0 3098.0 1176.2 3103.6 1178.7 3106.7 1185.4 3104.1 1191.5 3102.1 1186.4 3101.6 1183.9 3100.0 1182.8 3097.5 1187.4 3095.4 1196.7 3093.4 1201.8 3092.4 1199.2 3096.5 1200.3 3098.5 1197.7 3102.6 1204.4 3107.2 1212.1 3113.8 1217.7 3121.0 1217.2 3123.0 1206.9 3124.1 1196.7 3123.6 1188.5 3120.5 1181.3 3119.5 1173.6 3119.5 1164.9 3123.0 1154.1 3123.0 1153.1 3124.6 1157.2 3125.6 1153.1 3127.1 1145.4 3127.1 1140.8 3128.2 1138.8 3131.7 1142.3 3134.3 1141.8 3137.4 1143.9 3139.9 1144.9 3144.5 1148.0 3145.5 1151.1 3146.1 1155.2 3148.6 1159.3 3148.1 1161.3 3145.5 1165.9 3146.1 1171.0 3149.1 1176.2 3149.1 1179.8 3147.1 1183.3 3145.5 1187.4 3146.1 1189.5 3146.6 1188.5 3150.1 1188.5 3153.7 1186.9 3158.8 1184.4 3164.5 1183.3 3168.0 1181.3 3172.1 1178.2 3174.2 1173.1 3174.7 1170.0 3173.7 1165.9 3172.6 1160.3 3172.6 1156.2 3174.7 1150.5 3175.7 1144.4 3173.2 1133.6 3172.1 1128.5 3170.1 1122.9 3167.0 1118.2 3165.5 1112.6 3166.0 1107.5 3168.6 1106.5 3172.6 1103.4 3178.3 1099.3 3177.2 1094.2 3175.2 1089.0 3174.2 1083.4 3170.6 1082.4 3168.0 1075.7 3166.0 1069.0 3166.0 1063.4 3163.9 1059.3 3161.4 1056.2 3158.8 1060.3 3154.2 1058.8 3150.1 1057.2 3146.6 1061.3 3144.5 1056.7 3143.5 1054.7 3143.0 1048.5 3145.0 1041.4 3144.0 1032.6 3146.1 1022.4 3145.5 1016.2 3146.6 1009.1 3148.1 1001.4 3150.7 996.2 3153.7 989.6 3153.2 982.4 3153.7 977.3 3150.1 974.2 3150.7 972.2 3153.7 969.1 3159.9 965.5 3161.9 960.4 3163.9 956.8 3168.6 954.2 3173.7 954.7 3178.3 952.2 3183.4 947.6 3187.5 941.9 3190.5 936.8 3193.6 931.7 3198.7 929.1 3203.3 926.0 3208.4 922.4 3212.5 919.9 3219.2 917.3 3224.3 917.8 3228.9 920.4 3233.5 921.9 3239.1 921.9 3245.8 919.9 3251.4 917.8 3256.0 914.7 3258.5 917.3 3261.1 918.8 3265.7 918.3 3270.3 920.9 3272.9 925.0 3275.9 928.1 3278.0 931.7 3281.5 934.7 3284.6 936.8 3288.2 937.8 3291.8 941.4 3295.9 945.5 3298.4 950.6 3302.5 955.8 3306.1 960.9 3309.7 965.5 3311.2 971.1 3310.2 976.3 3307.6 983.9 3307.1 989.1 3307.6 994.2 3309.7 999.3 3307.6 1007.0 3304.0 1012.7 3302.0 1018.3 3301.0 1022.4 3301.0 1027.5 3302.0 1031.1 3305.1 1034.2 3309.2 1038.8 3311.7 1042.9 3310.7 1048.0 3310.2 1051.6 3313.8 1054.2 3316.8 1054.7 3321.9 1053.7 3327.6 1052.1 3332.2 1050.6 3336.8 1052.6 3341.4 1056.2 3346.0 1060.8 3351.1 1064.9 3356.7 1067.5 3362.8 1068.5 3365.9 1071.1 3372.6 1072.6 3377.7 1071.6 3382.8 1074.2 3388.4 1075.2 3393.0 1068.5 3401.2 1067.0 3406.8 1064.9 3413.5 1064.9 3421.6 1067.5 3427.3 1071.1 3432.4 1073.7 3438.5 1076.7 3445.7 1078.8 3450.8 1078.8 3456.4 1080.8 3464.1 1082.4 3470.2 1086.5 3476.9 1089.0 3480.4 1092.1 3485.0 1093.1 3489.6 1096.7 3495.3 1098.3 3499.9 1097.2 3502.4 1098.8 3507.0 1099.3 3509.6 1103.4 3510.6 1107.0 3511.6 1112.1 3509.6 1118.2 3508.1 1124.4 3508.1 1131.6 3508.6 1135.7 3507.0 1140.3 3506.0 1145.4 3503.5 1149.5 3500.4 1154.6 3495.3 1159.8 3490.7 1163.4 3486.1 1167.5 3481.0 1171.0 3475.8 1173.1 3469.2 1171.6 3466.1 1175.1 3463.1 1181.8 3460.5 1186.4 3456.4 1185.4 3447.7 1184.9 3442.6 1182.3 3437.0 1186.4 3432.4 1191.5 3429.8 1196.7 3424.7 1204.4 3420.1 1209.5 3416.5 1212.6 3411.4 1212.6 3405.3 1212.1 3397.6 1211.5 3389.9 1208.0 3384.8 1206.4 3377.2 1205.4 3371.5 1203.9 3366.4 1205.9 3360.8 1208.0 3356.2 1210.5 3350.6 1213.6 3346.5 1218.2 3341.9 1222.8 3336.3 1227.9 3329.6 1233.6 3324.5 1238.7 3320.9 1243.8 3315.3 1248.4 3310.2 1254.1 3301.5 1258.7 3292.3 1263.8 3283.6 1266.9 3274.9 1267.4 3272.9 1262.3 3274.4 1257.2 3275.9 1252.0 3276.4 1245.9 3278.0 1240.2 3279.0 1235.1 3280.5 1230.0 3280.5 1226.4 3276.4 1225.9 3272.9 1223.3 3269.3 1220.8 3266.7 1217.7 3262.6 1213.6 3259.1 1208.5 3255.0 1205.9 3252.4 1203.3 3246.3 1200.8 3241.7 1196.7 3237.6 1195.1 3232.5 1195.1 3226.3 1193.6 3221.2 1188.0 3213.5 1186.4 3210.5 1182.8 3204.3 1180.3 3198.7 1177.7 3194.1 1175.1 3190.0 1171.6 3183.4 1171.6 3180.3 1172.1 3181.3 1174.6 3185.9 1179.8 3191.6 1181.8 3188.0 1183.3 3182.9 1183.9 3186.4 1182.8 3190.5 1186.4 3194.6 1191.0 3200.8 1195.6 3207.4 1200.3 3211.5 1204.9 3220.2 1205.4 3224.3 1210.5 3230.9 1215.6 3239.1 1220.3 3246.3 1223.3 3252.4 1224.4 3258.0 1226.4 3264.2 1227.4 3268.8 1231.5 3269.3 1235.1 3268.3 1240.2 3265.7 1247.9 3263.1 1254.1 3261.6 1258.7 3258.5 1264.9 3256.0 1272.0 3252.9 1273.6 3249.3 1279.2 3247.8 1285.4 3246.8 1288.4 3243.2 1293.6 3242.2 1295.6 3237.6 1300.7 3236.6 1300.7 3230.4 1304.8 3226.8 1308.4 3223.3 1311.0 3219.2 1307.4 3216.1 1304.3 3213.0 1299.7 3212.0 1296.1 3208.4 1293.6 3204.3 1293.0 3199.7 1291.5 3199.7 1288.9 3203.3 1284.3 3207.9 1278.7 3210.5 1273.6 3210.0 1269.0 3209.5 1267.9 3207.9 1269.0 3203.8 1267.4 3200.3 1264.9 3202.8 1263.8 3205.9 1261.3 3201.3 1261.3 3197.2 1257.7 3194.6 1254.6 3191.0 1252.5 3187.5 1250.0 3182.9 1251.5 3180.3 1254.6 3179.3 1258.7 3180.3 1262.3 3182.4 1264.9 3186.4 1267.4 3190.5 1272.5 3193.1 1278.7 3196.2 1285.4 3198.2 1292.5 3195.1 1298.2 3201.3 1304.3 3202.8 1310.0 3203.8 1319.7 3205.4 1324.8 3204.9 1332.5 3204.3 1340.2 3204.3 1345.8 3203.3 1347.9 3206.4 1349.9 3211.0 1354.0 3213.0 1357.1 3217.1 1361.2 3219.2 1358.7 3219.7 1362.2 3223.3 1367.9 3227.3 1373.5 3225.3 1376.6 3223.3 1377.6 3225.8 1378.1 3230.4 1377.6 3236.6 1378.6 3241.7 1380.2 3246.8 1382.2 3253.4 1384.3 3258.0 1387.4 3265.7 1389.4 3272.3 1392.5 3276.4 1395.1 3282.6 1397.1 3288.2 1401.7 3292.3 1404.8 3288.2 1407.4 3286.1 1410.9 3281.0 1413.5 3274.9 1416.1 3266.7 1415.6 3262.1 1415.0 3255.5 1419.1 3252.9 1422.7 3249.8 1426.3 3248.3 1431.4 3243.7 1436.1 3240.1 1440.7 3234.5 1446.8 3232.0 1449.9 3227.9 1450.4 3223.8 1455.5 3223.3 1460.7 3222.7 1467.3 3221.7 1470.9 3218.1 1475.0 3219.7 1477.6 3226.3 1479.6 3229.9 1483.7 3235.0 1487.3 3240.1 1488.9 3246.3 1487.8 3251.9 1491.4 3252.9 1495.0 3250.9 1499.1 3249.3 1502.7 3247.8 1504.7 3251.9 1505.8 3257.0 1508.3 3263.7 1509.9 3270.8 1509.4 3277.5 1508.8 3284.6 1508.3 3291.3 1512.9 3295.9 1517.6 3300.5 1519.1 3306.1 1521.2 3312.2 1523.7 3319.4 1528.3 3323.0 1535.0 3327.1 1538.6 3326.5 1536.5 3321.4 1534.5 3315.3 1534.5 3310.2 1531.4 3304.6 1528.3 3302.0 1523.7 3298.4 1519.1 3296.4 1517.6 3290.8 1516.5 3286.1 1512.9 3281.0 1515.0 3275.9 1516.5 3270.8 1517.1 3265.2 1520.1 3264.7 1522.2 3268.8 1526.8 3269.8 1530.4 3272.3 1533.5 3277.5 1535.5 3280.0 1540.1 3280.5 1542.7 3286.1 1541.7 3289.7 1544.2 3288.2 1549.3 3285.1 1551.9 3280.5 1557.0 3279.0 1562.2 3275.9 1564.2 3271.3 1564.2 3264.7 1562.7 3255.5 1559.6 3251.4 1555.5 3248.3 1550.9 3244.7 1546.8 3238.6 1546.3 3235.0 1548.8 3230.9 1551.4 3227.9 1555.5 3223.8 1560.1 3223.3 1564.2 3223.8 1567.3 3224.3 1568.8 3229.4 1570.9 3229.9 1571.4 3225.3 1577.0 3223.3 1581.6 3222.2 1586.3 3220.2 1589.8 3219.7 1593.9 3217.6 1600.6 3216.6 1604.2 3213.5 1608.3 3210.0 1612.4 3207.9 1616.0 3203.8 1618.0 3199.7 1620.1 3196.2 1622.6 3192.1 1625.7 3189.0 1627.8 3184.4 1629.3 3180.8 1625.7 3178.8 1629.3 3175.7 1629.3 3171.6 1626.7 3169.1 1623.7 3166.5 1621.6 3160.4 1617.0 3157.3 1615.5 3154.7 1619.1 3151.7 1623.2 3148.6 1627.8 3145.5 1632.4 3145.0 1631.4 3142.5 1626.7 3141.5 1623.2 3140.4 1618.5 3143.0 1615.0 3143.5 1613.9 3139.9 1609.3 3137.9 1607.3 3135.8 1607.8 3133.8 1611.9 3133.3 1616.0 3132.2 1617.5 3129.7 1622.1 3127.6 1625.7 3124.6 1629.3 3125.1 1631.4 3126.6 1628.3 3130.2 1626.2 3134.3 1628.8 3133.8 1631.4 3132.2 1636.0 3130.7 1640.6 3129.7 1644.2 3131.2 1646.7 3132.2 1646.2 3135.3 1646.7 3139.4 1651.4 3140.4 1653.4 3142.5 1653.9 3145.5 1652.9 3149.6 1653.4 3153.2 1651.9 3156.8 1654.9 3157.3 1659.6 3155.8 1663.7 3154.7 1666.7 3153.7 1667.8 3150.7 1668.3 3146.6 1667.2 3142.5 1664.7 3139.4 1662.1 3135.8 1658.5 3132.8 1658.5 3130.2 1663.1 3128.2 1667.2 3125.6 1669.3 3123.6 1669.8 3120.0 1672.9 3117.4 1674.9 3115.9 1678.5 3114.9 1682.6 3112.8 1687.2 3114.9 1692.9 3111.8 1698.5 3107.7 1703.1 3104.1 1708.8 3099.5 1713.4 3094.9 1715.4 3091.9 1720.0 3087.3 1723.6 3083.2 1724.7 3077.5 1725.2 3072.4 1728.2 3067.3 1729.3 3063.7 1726.2 3060.7 1721.1 3057.6 1715.4 3056.6 1710.3 3057.6 1707.7 3055.6 1705.7 3054.5 1703.1 3052.5 1698.0 3050.4 1701.6 3047.4 1706.7 3045.3 1712.9 3041.2 1718.5 3037.1 1725.2 3034.1 1731.3 3032.0 1737.5 3030.0 1745.2 3030.0 1752.8 3031.0 1760.5 3030.5 1767.2 3030.5 1774.9 3029.0 1781.0 3031.0 1786.2 3032.0 1791.3 3031.0 1794.9 3030.5 1796.4 3027.4 1799.0 3023.9 1804.1 3019.3M1827.2 3020.8 1824.6 3024.4 1819.5 3029.5 1811.8 3037.1 1807.7 3040.7 1804.1 3047.4 1802.1 3055.0 1803.1 3062.7 1805.6 3067.8 1807.7 3072.9 1811.8 3070.4 1816.9 3064.2 1823.1 3058.1 1827.2 3055.0 1834.3 3051.0 1834.9 3047.4 1841.0 3045.8 1837.4 3039.7 1840.0 3037.1 1845.1 3027.9 1852.8 3026.4 1857.9 3024.9 1865.6 3024.4 1875.9 3025.9 1886.1 3022.8M1732.3 3098.0 1731.3 3095.4 1732.3 3090.8 1732.9 3083.2 1732.9 3075.5 1733.4 3070.4 1733.4 3062.7 1735.4 3056.1 1738.5 3061.2 1739.0 3066.3 1738.5 3072.9 1743.6 3082.1 1738.5 3082.1 1735.4 3088.3 1737.5 3093.4 1740.0 3096.5 1736.4 3095.9 1733.9 3098.5 1732.3 3098.0M1722.1 3122.0 1723.6 3117.4 1724.1 3112.3 1729.3 3112.3 1730.8 3106.7 1731.8 3101.6 1736.4 3105.1 1742.1 3107.7 1746.7 3109.2 1749.3 3107.2 1750.3 3112.3 1744.6 3114.4 1739.0 3119.0 1732.3 3116.4 1727.2 3117.4 1725.7 3120.0 1722.1 3122.0M1728.8 3122.0 1729.8 3126.6 1732.3 3131.2 1730.3 3137.4 1727.2 3138.4 1727.2 3143.5 1726.2 3148.1 1726.7 3151.2 1724.1 3153.7 1721.1 3154.7 1718.0 3153.7 1715.9 3156.8 1712.9 3156.8 1707.7 3156.8 1705.7 3158.3 1703.1 3161.9 1700.6 3162.4 1697.5 3160.4 1698.0 3156.8 1693.9 3156.3 1688.8 3157.3 1683.6 3158.3 1678.5 3159.9 1675.4 3159.9 1676.0 3157.8 1680.1 3156.3 1684.7 3152.7 1688.8 3152.2 1693.9 3151.7 1699.0 3152.2 1701.6 3150.1 1705.2 3145.5 1708.2 3142.0 1706.2 3144.0 1708.8 3145.0 1713.4 3143.5 1716.5 3140.4 1719.5 3136.8 1721.6 3132.2 1722.1 3128.2 1723.6 3124.1 1726.2 3123.0 1728.8 3122.0M1675.4 3160.4 1678.5 3161.9 1679.5 3167.0 1678.0 3172.6 1674.4 3175.2 1671.9 3173.7 1671.9 3169.1 1669.3 3166.5 1669.8 3163.4 1672.9 3161.9 1675.4 3160.4M1684.2 3160.4 1689.3 3158.8 1694.4 3158.8 1694.9 3160.9 1692.4 3163.4 1687.2 3166.0 1683.6 3165.0 1683.1 3162.4 1684.2 3160.4M1627.3 3204.3 1629.3 3205.9 1627.3 3212.0 1624.7 3218.1 1623.7 3221.7 1621.1 3218.1 1620.1 3213.5 1622.6 3208.4 1627.3 3204.3M1569.8 3230.9 1573.4 3233.5 1570.9 3238.1 1566.3 3240.6 1561.6 3239.1 1561.6 3235.0 1564.7 3232.0 1569.8 3230.9M1622.6 3239.1 1625.7 3238.6 1631.4 3239.6 1630.8 3246.8 1627.8 3251.9 1627.8 3257.0 1629.8 3261.1 1634.9 3263.1 1640.1 3267.2 1640.6 3269.3 1636.5 3267.2 1632.4 3263.7 1627.3 3263.1 1622.6 3261.1 1622.6 3258.0 1619.6 3255.0 1618.5 3250.4 1621.1 3249.3 1621.6 3244.2 1622.6 3239.1M1629.8 3297.9 1631.9 3293.3 1637.5 3292.8 1640.1 3290.2 1645.2 3287.7 1647.8 3283.6 1651.4 3286.7 1652.4 3292.8 1651.4 3297.9 1647.8 3303.0 1646.7 3305.1 1643.1 3303.0 1640.1 3300.5 1637.5 3296.4 1633.9 3295.9 1629.8 3297.9M1563.2 3325.5 1566.3 3323.5 1570.4 3325.0 1575.0 3320.9 1578.0 3318.4 1583.7 3317.3 1588.8 3310.7 1593.9 3308.1 1597.0 3305.1 1600.1 3301.5 1603.2 3297.9 1605.7 3300.0 1607.8 3303.5 1612.4 3305.6 1615.5 3307.1 1610.9 3310.2 1607.8 3312.2 1608.8 3318.4 1610.9 3324.0 1614.4 3328.6 1608.3 3329.1 1606.8 3333.7 1604.2 3338.8 1602.1 3341.4 1600.1 3345.5 1600.6 3350.6 1598.6 3352.6 1591.9 3355.2 1591.4 3351.6 1585.2 3350.1 1580.1 3351.1 1576.5 3349.0 1572.9 3349.6 1569.3 3348.5 1569.3 3342.9 1566.8 3339.3 1564.2 3335.2 1563.2 3331.7 1563.7 3328.6 1563.2 3325.5M1493.0 3305.1 1498.1 3307.1 1504.2 3307.1 1508.3 3311.7 1512.9 3316.3 1519.1 3321.9 1524.2 3324.5 1529.9 3328.1 1534.5 3331.1 1536.5 3335.7 1540.1 3339.3 1542.2 3344.9 1547.3 3349.0 1546.8 3356.7 1546.8 3363.4 1540.1 3363.9 1536.5 3359.3 1530.9 3354.7 1525.3 3349.0 1521.7 3343.9 1518.6 3337.8 1515.5 3333.7 1512.9 3329.1 1510.4 3325.0 1506.3 3321.9 1502.7 3317.3 1498.6 3312.7 1494.5 3309.2 1493.0 3305.1M1543.7 3368.5 1547.8 3363.9 1551.9 3364.9 1556.0 3365.4 1559.6 3365.9 1563.2 3368.5 1570.4 3369.0 1572.9 3366.4 1576.5 3367.4 1581.6 3369.0 1582.7 3372.6 1587.8 3373.1 1590.9 3373.6 1591.9 3378.2 1585.2 3376.1 1578.6 3376.1 1572.4 3375.6 1568.3 3374.1 1561.6 3373.1 1555.5 3372.0 1549.9 3371.5 1545.2 3369.0 1543.7 3368.5M1645.7 3325.5 1642.6 3329.1 1637.5 3329.1 1632.4 3328.6 1624.7 3327.1 1622.6 3328.6 1620.6 3331.1 1618.5 3336.3 1616.5 3341.4 1613.9 3348.0 1616.0 3351.6 1617.0 3359.3 1617.0 3362.3 1621.6 3362.3 1621.6 3356.7 1621.1 3349.0 1624.7 3348.0 1627.3 3354.2 1630.8 3358.2 1633.9 3358.2 1632.9 3354.2 1630.3 3351.6 1626.2 3343.4 1633.4 3339.8 1637.0 3338.3 1636.0 3336.8 1629.3 3337.8 1624.7 3338.8 1622.6 3332.2 1627.3 3331.1 1634.9 3331.7 1641.6 3331.7 1645.7 3325.5M1676.0 3339.8 1680.1 3337.3 1684.2 3335.7 1690.8 3337.3 1692.4 3340.3 1691.8 3347.0 1696.5 3350.6 1699.0 3350.6 1704.7 3344.9 1710.8 3341.4 1715.9 3342.9 1722.1 3346.0 1727.2 3347.0 1734.9 3350.1 1742.6 3353.1 1745.7 3355.2 1751.8 3360.8 1755.4 3364.4 1760.5 3365.9 1762.6 3368.5 1760.5 3372.0 1764.1 3375.6 1769.8 3380.7 1773.4 3383.8 1775.9 3386.4 1774.4 3387.9 1769.2 3385.9 1762.1 3385.3 1755.4 3379.2 1750.3 3374.1 1743.6 3372.6 1740.0 3376.1 1738.0 3380.2 1731.8 3380.7 1727.2 3380.2 1723.6 3376.1 1717.0 3375.1 1713.4 3376.6 1710.8 3372.0 1714.9 3369.0 1710.3 3362.3 1701.6 3357.2 1695.4 3354.2 1690.3 3352.6 1685.7 3354.7 1684.7 3351.1 1681.1 3348.5 1682.1 3344.9 1677.5 3341.4 1676.0 3339.8M1734.9 3388.4 1731.8 3397.6 1730.3 3402.7 1729.8 3410.4 1728.2 3418.1 1726.2 3423.2 1721.1 3423.7 1717.0 3420.6 1710.8 3417.0 1706.7 3414.5 1700.6 3410.9 1699.0 3409.4 1701.1 3404.3 1705.2 3401.2 1705.2 3396.1 1705.7 3394.5 1701.6 3394.0 1696.5 3396.1 1691.3 3394.5 1684.2 3392.5 1680.6 3391.5 1676.5 3396.1 1673.9 3397.1 1671.3 3401.2 1668.8 3407.8 1665.2 3409.9 1660.6 3409.4 1656.5 3404.8 1650.8 3406.3 1645.7 3408.3 1642.1 3415.0 1637.5 3418.1 1634.9 3417.6 1631.4 3421.6 1630.8 3426.2 1626.7 3430.8 1622.6 3434.4 1616.5 3436.0 1612.4 3437.5 1606.8 3439.5 1602.1 3439.5 1596.5 3443.6 1591.9 3445.2 1589.8 3448.7 1587.3 3453.9 1587.3 3459.0 1585.7 3464.1 1588.3 3469.2 1589.8 3475.3 1591.9 3481.0 1593.9 3486.6 1596.0 3492.2 1597.5 3497.3 1597.5 3504.0 1594.5 3505.5 1594.5 3509.6 1600.6 3512.7 1608.8 3513.2 1613.4 3510.1 1619.1 3507.5 1627.3 3507.0 1634.9 3507.0 1639.6 3505.0 1643.1 3501.9 1649.3 3499.4 1655.5 3498.8 1664.7 3495.8 1673.4 3495.3 1678.5 3494.8 1683.6 3497.3 1689.3 3497.8 1692.9 3501.9 1697.5 3507.0 1700.0 3512.1 1702.6 3510.6 1706.7 3506.0 1710.8 3500.4 1710.8 3505.0 1708.8 3511.1 1710.8 3513.2 1712.9 3511.1 1714.4 3515.7 1718.0 3516.7 1720.6 3520.8 1721.1 3524.4 1725.2 3528.0 1729.8 3530.0 1733.4 3530.0 1740.0 3532.1 1744.6 3529.0 1747.2 3530.0 1750.3 3531.1 1754.4 3533.6 1758.0 3530.6 1762.1 3527.5 1764.6 3527.0 1770.8 3527.0 1772.8 3525.4 1773.4 3521.9 1774.4 3516.7 1777.5 3511.6 1779.5 3507.0 1781.6 3502.4 1786.2 3499.4 1788.2 3494.2 1789.2 3488.6 1791.8 3479.9 1791.3 3474.3 1789.2 3466.6 1788.2 3463.6 1784.6 3459.5 1779.5 3454.4 1777.5 3449.3 1773.4 3447.7 1770.8 3444.1 1767.2 3439.0 1764.1 3436.0 1760.0 3432.9 1754.9 3430.3 1752.8 3424.2 1750.3 3417.0 1749.8 3410.4 1745.2 3406.8 1741.6 3405.8 1740.0 3399.7 1736.4 3393.5 1734.9 3388.4M1746.2 3541.8 1753.9 3543.8 1764.6 3542.8 1764.6 3549.5 1762.6 3554.6 1757.5 3556.6 1752.8 3556.1 1749.3 3549.5 1746.2 3544.4 1746.2 3541.8M1889.7 3509.6 1893.3 3512.7 1897.9 3517.3 1900.5 3522.4 1903.6 3522.9 1906.1 3525.9 1911.2 3527.5 1919.4 3526.5 1918.4 3531.1 1916.4 3534.1 1911.8 3534.6 1910.7 3539.2 1906.6 3544.9 1902.5 3546.4 1900.0 3544.9 1902.0 3540.3 1898.4 3537.2 1895.3 3534.1 1899.4 3531.1 1899.4 3524.9 1897.4 3520.3 1891.8 3513.7 1889.7 3509.6M1889.7 3540.8 1895.9 3542.8 1897.9 3545.9 1895.9 3550.0 1892.3 3553.6 1890.2 3557.6 1886.1 3558.2 1882.0 3560.7 1880.0 3567.9 1874.8 3571.5 1868.2 3572.0 1861.5 3569.9 1857.9 3567.9 1860.5 3564.3 1865.6 3559.7 1872.3 3556.6 1878.4 3553.0 1883.0 3548.4 1885.1 3545.9 1886.6 3542.3 1889.7 3540.8M1257.2 3395.1 1261.8 3407.8 1262.8 3413.0 1259.7 3418.1 1257.7 3424.7 1254.6 3436.0 1250.5 3449.3 1245.9 3461.5 1236.1 3464.1 1230.0 3459.5 1227.9 3453.9 1226.4 3446.2 1229.5 3442.1 1232.0 3435.4 1230.0 3425.7 1231.5 3418.1 1237.7 3415.5 1242.8 3413.0 1250.0 3405.3 1254.6 3399.7 1257.2 3395.1M1414.0 3283.6 1418.6 3286.7 1421.7 3290.8 1424.3 3296.4 1422.7 3301.0 1417.6 3303.5 1414.5 3300.0 1413.5 3292.8 1414.0 3283.6M975.2 3077.5 982.9 3076.0 987.0 3075.0 996.8 3074.5 1006.0 3074.0 1011.6 3071.9 1010.6 3068.8 1013.2 3064.2 1006.0 3062.7 1005.0 3059.6 1003.4 3057.1 998.3 3054.5 996.2 3049.9 993.7 3047.9 990.6 3047.4 991.6 3044.8 995.2 3039.2 986.0 3038.7 989.1 3034.1 978.8 3034.1 975.7 3039.7 971.6 3045.8 975.7 3050.4 978.8 3053.5 986.5 3055.0 989.1 3060.7 980.9 3061.2 980.9 3067.3 978.8 3069.9 989.1 3069.9 982.9 3071.9 975.2 3077.5M966.0 3051.5 975.7 3054.5 973.7 3061.2 971.6 3066.8 962.4 3069.4 955.8 3070.4 953.2 3065.3 955.2 3060.2 953.2 3057.6 960.9 3056.1 961.9 3051.5 966.0 3051.5M1245.4 3101.1 1247.9 3109.8 1247.9 3113.8 1253.6 3120.0 1259.2 3128.2 1257.2 3132.8 1255.1 3137.4 1256.6 3142.0 1262.3 3144.5 1268.4 3145.5 1278.7 3145.0 1280.7 3142.5 1279.2 3134.3 1276.1 3129.2 1275.1 3122.5 1273.6 3119.0 1265.9 3117.9 1267.4 3112.8 1262.3 3106.2 1267.4 3102.6 1277.2 3102.1 1276.1 3095.4 1266.9 3092.9 1256.1 3096.5 1245.4 3101.1M603.6 3204.9 606.2 3209.5 604.6 3210.0 602.6 3206.4 603.6 3204.9M608.7 3197.7 609.7 3199.7 607.7 3200.3 608.7 3197.7M600.0 3197.2 604.6 3197.7 603.1 3198.2 600.0 3197.2M614.9 3207.9 617.4 3212.0 615.9 3213.0 614.9 3207.9M205.3 3232.0 209.4 3233.0 210.9 3234.0 206.8 3237.1 205.3 3234.0 205.3 3232.0M201.2 3226.8 204.8 3227.3 202.7 3228.4 201.2 3226.8M193.0 3223.3 196.1 3224.8 194.0 3224.8 193.0 3223.3M185.3 3220.2 187.9 3220.2 186.9 3221.7 185.3 3220.2M1641.6 3269.8 1646.7 3270.3 1648.3 3275.9 1646.2 3278.5 1645.2 3282.6 1642.1 3280.5 1643.1 3275.4 1641.6 3269.8M1629.3 3272.9 1634.4 3274.9 1632.4 3279.5 1629.3 3280.0 1629.3 3272.9M1632.4 3278.0 1637.5 3278.5 1636.0 3287.2 1632.4 3283.1 1632.4 3278.0M1639.6 3276.4 1640.1 3280.0 1637.0 3284.6 1637.5 3280.0 1639.6 3276.4M1621.1 3264.7 1627.3 3265.7 1625.7 3270.8 1622.6 3269.8 1621.1 3264.7M1605.2 3290.8 1611.9 3285.6 1617.5 3279.0 1616.0 3275.9 1612.4 3281.0 1606.8 3287.2 1605.2 3290.8M1591.4 3375.1 1595.0 3375.1 1597.5 3376.6 1595.0 3378.7 1591.4 3376.6 1591.4 3375.1M1599.1 3376.1 1602.7 3376.1 1601.6 3379.2 1599.1 3378.7 1599.1 3376.1M1603.2 3377.2 1607.8 3375.6 1614.4 3376.1 1615.0 3378.2 1609.3 3379.2 1603.7 3379.7 1603.2 3377.2M1619.1 3376.6 1624.7 3376.1 1632.4 3375.6 1634.4 3376.1 1632.4 3378.7 1624.7 3379.2 1619.1 3378.7 1619.1 3376.6M1637.5 3386.4 1642.6 3382.3 1647.8 3379.7 1655.5 3376.6 1656.5 3377.7 1650.3 3381.3 1644.2 3384.8 1639.0 3386.9 1637.5 3386.4M1615.5 3382.3 1621.1 3382.8 1623.7 3385.9 1619.6 3385.9 1615.5 3383.3 1615.5 3382.3M1658.0 3324.0 1660.6 3327.6 1664.2 3328.6 1660.6 3332.2 1660.1 3336.3 1657.5 3331.1 1658.0 3324.0M1650.3 3349.6 1655.5 3350.1 1654.9 3353.1 1650.8 3352.1 1650.3 3349.6M1660.6 3350.6 1668.3 3348.0 1674.4 3351.1 1669.8 3352.1 1662.1 3352.6 1660.6 3350.6M1764.6 3362.3 1771.3 3361.8 1775.9 3361.3 1781.0 3358.2 1784.6 3355.7 1783.1 3359.3 1778.5 3364.4 1773.4 3365.4 1767.2 3364.9 1764.6 3362.3M1776.9 3347.0 1782.6 3350.6 1786.7 3355.2 1788.7 3357.7 1787.2 3357.2 1782.1 3352.1 1776.9 3347.0M1799.0 3361.8 1803.1 3365.9 1802.1 3369.0 1799.0 3365.4 1799.0 3361.8M1806.7 3369.5 1812.3 3372.6 1811.3 3374.6 1806.7 3371.5 1806.7 3369.5M1822.6 3380.7 1828.7 3382.8 1827.7 3384.3 1823.1 3383.3 1822.6 3380.7M1827.7 3376.1 1830.8 3379.7 1829.7 3381.3 1827.7 3378.2 1827.7 3376.1M1857.9 3408.9 1861.5 3413.0 1860.5 3414.0 1858.4 3411.9 1857.9 3408.9M1863.1 3418.1 1867.2 3423.2 1865.6 3424.2 1863.1 3419.6 1863.1 3418.1M1845.6 3437.0 1852.8 3442.1 1860.5 3447.7 1857.9 3448.2 1849.7 3443.1 1845.6 3438.5 1845.6 3437.0M1913.3 3423.2 1918.9 3422.2 1920.0 3426.2 1914.3 3426.8 1913.3 3423.2M1921.5 3417.0 1926.6 3417.0 1927.1 3419.6 1921.5 3419.6 1921.5 3417.0M1068.0 3139.4 1072.6 3138.4 1084.4 3137.9 1081.9 3143.0 1081.9 3146.1 1077.8 3144.5 1069.0 3141.5 1068.0 3139.4M1046.5 3124.1 1051.6 3123.0 1054.7 3126.6 1053.7 3133.3 1048.0 3134.8 1047.5 3130.2 1046.5 3124.1M1048.5 3114.4 1052.6 3113.8 1053.1 3119.0 1051.6 3122.0 1048.5 3119.5 1048.5 3114.4M1124.9 3153.2 1130.0 3152.2 1139.3 3153.2 1137.7 3154.7 1131.6 3155.3 1125.4 3153.7 1124.9 3153.2M1170.0 3154.2 1176.2 3152.7 1181.8 3151.2 1178.7 3154.7 1173.6 3156.8 1170.0 3155.8 1170.0 3154.2M1016.8 3131.2 1021.9 3129.7 1020.9 3132.8 1016.8 3131.2M149.4 3058.1 152.5 3060.2 145.8 3061.2 149.4 3058.1M138.2 3063.2 143.3 3061.2 141.7 3063.7 138.2 3063.2M120.2 3066.3 130.5 3064.8 127.9 3066.3 120.2 3066.3M97.7 3068.3 104.8 3067.3 102.3 3068.8 97.7 3068.3M88.4 3069.9 95.1 3068.3 93.0 3069.4 88.4 3069.9M1912.8 3068.3 1919.4 3069.4 1914.8 3069.9 1912.8 3068.3M1888.2 3063.2 1894.3 3063.2 1891.2 3064.2 1888.2 3063.2M215.6 3037.7 223.8 3037.7 222.7 3041.2 215.6 3042.8 212.0 3040.7 215.6 3037.7M1752.8 3109.2 1760.5 3104.6 1759.5 3104.1 1752.8 3109.2M1765.7 3102.1 1767.7 3101.1 1766.2 3101.1 1765.7 3102.1M1770.8 3098.5 1775.9 3095.9 1773.4 3095.9 1770.8 3098.5M1781.0 3094.4 1784.6 3091.9 1783.1 3091.9 1781.0 3094.4M1788.7 3089.8 1791.8 3087.3 1790.3 3087.3 1788.7 3089.8M1796.9 3081.6 1800.5 3078.6 1799.0 3078.0 1796.9 3081.6M1801.5 3076.5 1807.2 3074.0 1805.1 3073.4 1801.5 3076.5M81.8 3733.5 168.9 3735.1 181.2 3728.4 228.4 3728.4 238.6 3723.3 286.8 3719.2 347.8 3712.1 381.1 3712.1 420.1 3714.6 447.8 3718.7 461.1 3713.1 474.4 3705.4 502.1 3704.4 543.1 3705.4 573.9 3710.0 604.6 3709.0 632.8 3699.8 655.9 3691.6 658.4 3678.8 676.4 3666.0 696.9 3658.9 712.3 3657.9 702.0 3663.5 689.2 3673.7 686.6 3683.9 687.7 3699.3 687.7 3718.2 717.4 3724.8 758.4 3728.4 799.4 3730.5 819.9 3730.0 850.7 3725.4 876.3 3720.2 892.7 3717.2 922.4 3709.5 953.2 3700.8 978.8 3696.7 1004.5 3693.1 1045.5 3693.7 1086.5 3694.2 1131.1 3692.6 1168.5 3689.1 1204.4 3686.5 1235.1 3681.4 1260.8 3674.2 1281.3 3672.7 1312.0 3674.7 1342.8 3676.3 1364.3 3680.4 1373.5 3688.0 1383.8 3688.0 1394.0 3683.9 1414.5 3677.8 1444.3 3672.7 1465.8 3672.7 1499.1 3665.5 1522.2 3669.1 1565.7 3672.7 1593.9 3673.7 1624.7 3672.7 1665.7 3671.2 1701.6 3672.7 1727.2 3676.3 1749.8 3677.8 1774.4 3683.4 1799.0 3687.5 1829.2 3690.6 1862.0 3695.7 1878.9 3701.3 1872.3 3709.5 1854.3 3716.2 1835.9 3720.8 1837.4 3729.4 1847.2 3733.5 1859.0 3732.5 1859.0 3728.4 1886.1 3730.0 1927.1 3732.0" stroke-width="2.8"/><path d="M912.7 3186.4 913.7 3188.0 912.2 3188.0 912.7 3186.4M917.8 3188.5 920.9 3187.5 919.9 3190.5 917.8 3188.5M923.5 3189.5 925.5 3190.0 924.5 3191.6 923.5 3189.5M930.1 3187.0 933.2 3187.0 931.7 3189.5 930.1 3187.0M872.7 3140.4 875.3 3139.9 873.7 3140.9 872.7 3140.4M916.3 3166.0 918.8 3166.0 917.3 3167.0 916.3 3166.0M879.4 3247.8 881.4 3248.8 883.5 3256.5 885.5 3255.5 879.4 3247.8M1287.4 3440.6 1290.5 3441.1 1288.9 3443.1 1287.4 3440.6M1298.2 3436.0 1300.7 3437.0 1299.2 3438.5 1298.2 3436.0M1357.1 3582.2 1365.8 3584.2 1362.2 3587.8 1357.1 3585.8 1357.1 3582.2M1269.5 3570.9 1272.0 3570.9 1270.5 3572.0 1269.5 3570.9M1197.2 3573.5 1198.7 3573.5 1197.7 3574.5 1197.2 3573.5M1380.2 3604.7 1382.7 3605.2 1381.2 3605.7 1380.2 3604.7M1226.4 3392.0 1227.4 3394.5 1225.9 3394.0 1226.4 3392.0M1277.7 3269.3 1283.8 3269.3 1281.3 3270.8 1277.7 3269.3M534.9 3334.7 539.0 3335.2 538.0 3338.3 535.4 3338.8 534.9 3334.7M443.2 3472.3 444.7 3472.3 443.7 3472.8 443.2 3472.3M590.3 3505.5 600.5 3505.5 599.5 3506.0 590.3 3505.5M237.6 3423.2 239.7 3423.7 238.6 3424.7 237.6 3423.2M123.8 3404.3 125.9 3405.3 123.8 3405.3 123.8 3404.3M118.7 3402.2 121.8 3402.7 120.2 3404.3 118.7 3402.2M105.9 3441.6 107.4 3441.6 106.4 3442.6 105.9 3441.6M185.3 3442.1 185.8 3442.1 185.3 3442.6 185.3 3442.1M1890.7 3326.5 1891.8 3326.0 1891.2 3327.1 1890.7 3326.5M1881.0 3297.4 1882.5 3297.4 1882.0 3297.9 1881.0 3297.4M1693.4 3296.4 1694.9 3294.3 1693.9 3294.8 1693.4 3296.4M1745.7 3265.7 1747.7 3264.2 1746.7 3266.2 1745.7 3265.7M1750.8 3257.0 1751.8 3255.5 1751.3 3257.5 1750.8 3257.0M1711.8 3285.1 1712.9 3284.6 1712.4 3285.6 1711.8 3285.1M1782.1 3296.4 1783.1 3295.4 1782.6 3296.9 1782.1 3296.4M1814.9 3298.9 1815.9 3297.9 1815.9 3298.9 1814.9 3298.9M135.6 3430.8 134.1 3431.4 133.5 3431.9 135.6 3430.8M1857.4 3336.3 1860.0 3336.3 1858.4 3336.8 1857.4 3336.3M197.1 3324.5 198.6 3323.5 198.1 3325.0 197.1 3324.5M1377.6 3370.5 1376.1 3371.5 1375.6 3371.0 1377.6 3370.5M1378.6 3318.4 1381.2 3313.2 1379.7 3312.2 1378.6 3318.4M1377.6 3308.1 1380.2 3300.5 1378.6 3298.9 1377.6 3308.1M1478.6 3271.3 1481.2 3264.7 1480.1 3264.2 1478.6 3271.3M1479.1 3280.0 1480.7 3277.5 1479.6 3276.9 1479.1 3280.0M1483.7 3297.9 1485.8 3295.4 1484.8 3294.8 1483.7 3297.9M1865.6 3482.0 1865.6 3482.5 1865.1 3482.0 1865.6 3482.0M653.3 3271.3 654.9 3271.3 654.3 3272.3 653.3 3271.3M678.9 3241.2 681.5 3240.6 680.5 3242.2 678.9 3241.2M687.7 3246.3 688.7 3246.3 688.2 3247.3 687.7 3246.3M688.7 3250.4 690.7 3250.4 689.7 3252.4 688.7 3250.4M690.7 3258.0 691.8 3258.0 691.3 3260.1 690.7 3258.0M691.8 3262.1 692.3 3261.6 692.3 3263.7 691.8 3262.1M698.9 3265.7 700.0 3266.2 699.5 3267.2 698.9 3265.7M687.7 3271.3 688.7 3271.3 688.2 3272.3 687.7 3271.3M672.3 3168.6 673.3 3168.0 672.8 3169.1 672.3 3168.6M1304.3 3095.4 1311.5 3098.5 1317.1 3100.5 1313.5 3108.7 1305.9 3108.7 1304.3 3101.1 1304.3 3095.4" stroke-width="2.24"/></g>
<rect x="81.8" y="3026.9" width="1845.4" height="767.0" fill="none" stroke="#222" stroke-width="2.6"/>
<g class="ax"><text x="16.6" y="3033.2" textLength="47" lengthAdjust="spacingAndGlyphs">60°<tspan dx="9">N</tspan></text><text x="16.6" y="3109.9" textLength="47" lengthAdjust="spacingAndGlyphs">45°<tspan dx="9">N</tspan></text><text x="16.6" y="3186.6" textLength="47" lengthAdjust="spacingAndGlyphs">30°<tspan dx="9">N</tspan></text><text x="16.6" y="3263.3" textLength="47" lengthAdjust="spacingAndGlyphs">15°<tspan dx="9">N</tspan></text><text x="34.7" y="3340.0" textLength="17" lengthAdjust="spacingAndGlyphs">0°</text><text x="16.6" y="3416.7" textLength="47" lengthAdjust="spacingAndGlyphs">15°<tspan dx="9">S</tspan></text><text x="16.6" y="3493.4" textLength="47" lengthAdjust="spacingAndGlyphs">30°<tspan dx="9">S</tspan></text><text x="16.6" y="3570.1" textLength="47" lengthAdjust="spacingAndGlyphs">45°<tspan dx="9">S</tspan></text><text x="16.6" y="3646.8" textLength="47" lengthAdjust="spacingAndGlyphs">60°<tspan dx="9">S</tspan></text><text x="16.6" y="3723.5" textLength="47" lengthAdjust="spacingAndGlyphs">75°<tspan dx="9">S</tspan></text><text x="16.6" y="3800.2" textLength="47" lengthAdjust="spacingAndGlyphs">90°<tspan dx="9">S</tspan></text><text x="60.0" y="3825.9" textLength="37" lengthAdjust="spacingAndGlyphs">180°</text><text x="208.1" y="3825.9" textLength="55.5" lengthAdjust="spacingAndGlyphs">150°<tspan dx="9">W</tspan></text><text x="361.9" y="3825.9" textLength="55.5" lengthAdjust="spacingAndGlyphs">120°<tspan dx="9">W</tspan></text><text x="520.2" y="3825.9" textLength="46.5" lengthAdjust="spacingAndGlyphs">90°<tspan dx="9">W</tspan></text><text x="673.9" y="3825.9" textLength="46.5" lengthAdjust="spacingAndGlyphs">60°<tspan dx="9">W</tspan></text><text x="827.7" y="3825.9" textLength="46.5" lengthAdjust="spacingAndGlyphs">30°<tspan dx="9">W</tspan></text><text x="989.7" y="3825.9" textLength="17.5" lengthAdjust="spacingAndGlyphs">0°</text><text x="1135.3" y="3825.9" textLength="46.5" lengthAdjust="spacingAndGlyphs">30°<tspan dx="9">E</tspan></text><text x="1289.1" y="3825.9" textLength="46.5" lengthAdjust="spacingAndGlyphs">60°<tspan dx="9">E</tspan></text><text x="1442.8" y="3825.9" textLength="46.5" lengthAdjust="spacingAndGlyphs">90°<tspan dx="9">E</tspan></text><text x="1592.1" y="3825.9" textLength="55.5" lengthAdjust="spacingAndGlyphs">120°<tspan dx="9">E</tspan></text><text x="1745.9" y="3825.9" textLength="55.5" lengthAdjust="spacingAndGlyphs">150°<tspan dx="9">E</tspan></text><text x="1901.8" y="3825.9" textLength="37" lengthAdjust="spacingAndGlyphs">180°</text></g>
<text class="ti" x="698.1" y="3000.5" textLength="702.9" lengthAdjust="spacingAndGlyphs">TROPOMI TOC (November 2023)</text>
<text class="pl" x="81.6" y="2989.9" textLength="65.7" lengthAdjust="spacingAndGlyphs">(d)</text>
<rect x="1957.2" y="2990.4" width="46.7" height="924.0" fill="url(#jet)" stroke="#111" stroke-width="1.4"/>
<text class="cbl" x="2016" y="3922.4">0</text>
<text class="cbl" x="2016" y="3737.6">100</text>
<text class="cbl" x="2016" y="3552.8">200</text>
<text class="cbl" x="2016" y="3368.0">300</text>
<text class="cbl" x="2016" y="3183.2">400</text>
<text class="cbl" x="2016" y="2998.4">500</text>
<path d="M2003.9 3914.4h5.5M2003.9 3729.6h5.5M2003.9 3544.8h5.5M2003.9 3360.0h5.5M2003.9 3175.2h5.5M2003.9 2990.4h5.5" stroke="#111" stroke-width="1.4"/>
<text class="vcd" transform="translate(2091.7 3449.8) rotate(-90)" text-anchor="middle" textLength="184" lengthAdjust="spacingAndGlyphs">VCD (DU)</text></svg>
</body></html>
